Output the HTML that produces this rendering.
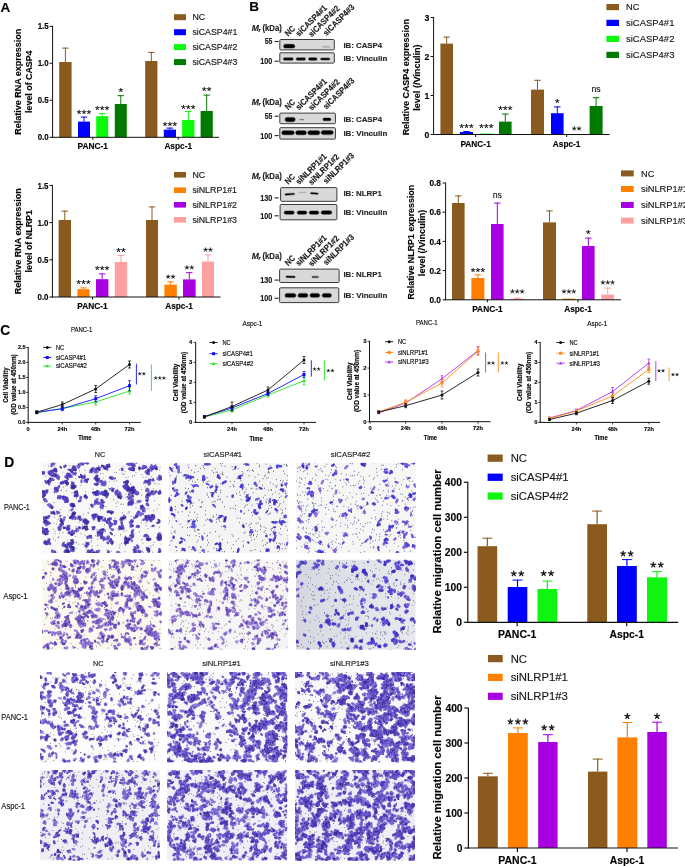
<!DOCTYPE html>
<html><head><meta charset="utf-8"><style>
html,body{margin:0;padding:0;background:#fff;width:685px;height:866px;overflow:hidden}
#w{width:685px;height:866px;will-change:transform;filter:none}
svg{display:block}
text{font-family:"Liberation Sans",sans-serif;stroke:#1a1a1a;stroke-width:.16px}
</style></head><body><div id="w">
<svg width="685" height="866" viewBox="0 0 685 866">
<defs>
<radialGradient id="bg1"><stop offset="0" stop-color="#000" stop-opacity="1"/><stop offset="0.7" stop-color="#000" stop-opacity="0.97"/><stop offset="1" stop-color="#000" stop-opacity="0"/></radialGradient>
<clipPath id="cp11"><rect x="42" y="462.7" width="119.6" height="90.3"/></clipPath><clipPath id="cp12"><rect x="168.6" y="462.7" width="119.8" height="90.3"/></clipPath><clipPath id="cp13"><rect x="295.8" y="462.7" width="120" height="90.3"/></clipPath><clipPath id="cp14"><rect x="42" y="559.6" width="119.6" height="90.1"/></clipPath><clipPath id="cp15"><rect x="168.4" y="559.6" width="119.8" height="90.1"/></clipPath><clipPath id="cp16"><rect x="296" y="559.6" width="119.7" height="90.1"/></clipPath><clipPath id="cp17"><rect x="40" y="672" width="119.8" height="90.4"/></clipPath><clipPath id="cp18"><rect x="167" y="672" width="120.2" height="90.4"/></clipPath><clipPath id="cp19"><rect x="295" y="672" width="120" height="90.4"/></clipPath><clipPath id="cp20"><rect x="40" y="770" width="119.8" height="90.5"/></clipPath><clipPath id="cp21"><rect x="167" y="770" width="120.2" height="90.5"/></clipPath><clipPath id="cp22"><rect x="295" y="770" width="120" height="90.5"/></clipPath><linearGradient id="g6" x1="0" y1="0" x2="1" y2="0"><stop offset="0" stop-color="#d6d6e0"/><stop offset="0.5" stop-color="#e2e2ea"/><stop offset="1" stop-color="#e8e8ee"/></linearGradient><filter id="glob" x="0" y="0" width="100%" height="100%"><feGaussianBlur stdDeviation="0"/></filter></defs>
<g><text x="0.5" y="11.8"  font-size="13.5" font-weight="bold" fill="#000">A</text>
<text x="249.2" y="10.5"  font-size="13.5" font-weight="bold" fill="#000">B</text>
<text x="0.3" y="334.6"  font-size="13.8" font-weight="bold" fill="#000">C</text>
<text x="4.2" y="467.1"  font-size="13.8" font-weight="bold" fill="#000">D</text>
<rect x="59.2" y="62" width="12.4" height="75.3" fill="#8b5a1e"/>
<path d="M65.4 47.6L65.4 62" stroke="#8b5a1e" stroke-width="1"/>
<path d="M62.15 48.1L68.65 48.1" stroke="#8b5a1e" stroke-width="1"/>
<rect x="78" y="121.6" width="12" height="15.7" fill="#0000ff"/>
<path d="M84 116.6L84 121.6" stroke="#0000ff" stroke-width="1"/>
<path d="M80.75 117.1L87.25 117.1" stroke="#0000ff" stroke-width="1"/>
<path d="M79.15 112.18l0 -1.85M79.15 112.18l1.76 -0.57M79.15 112.18l1.09 1.5M79.15 112.18l-1.09 1.5M79.15 112.18l-1.76 -0.57M84 112.18l0 -1.85M84 112.18l1.76 -0.57M84 112.18l1.09 1.5M84 112.18l-1.09 1.5M84 112.18l-1.76 -0.57M88.85 112.18l0 -1.85M88.85 112.18l1.76 -0.57M88.85 112.18l1.09 1.5M88.85 112.18l-1.09 1.5M88.85 112.18l-1.76 -0.57" stroke="#1a1a1a" stroke-width="0.96" stroke-linecap="round" fill="none"/>
<rect x="96.2" y="116.2" width="12" height="21.1" fill="#0cfa0c"/>
<path d="M102.2 113L102.2 116.2" stroke="#0cfa0c" stroke-width="1"/>
<path d="M98.95 113.5L105.45 113.5" stroke="#0cfa0c" stroke-width="1"/>
<path d="M97.35 108.18l0 -1.85M97.35 108.18l1.76 -0.57M97.35 108.18l1.09 1.5M97.35 108.18l-1.09 1.5M97.35 108.18l-1.76 -0.57M102.2 108.18l0 -1.85M102.2 108.18l1.76 -0.57M102.2 108.18l1.09 1.5M102.2 108.18l-1.09 1.5M102.2 108.18l-1.76 -0.57M107.05 108.18l0 -1.85M107.05 108.18l1.76 -0.57M107.05 108.18l1.09 1.5M107.05 108.18l-1.09 1.5M107.05 108.18l-1.76 -0.57" stroke="#1a1a1a" stroke-width="0.96" stroke-linecap="round" fill="none"/>
<rect x="114.8" y="104" width="12" height="33.3" fill="#007a00"/>
<path d="M120.8 95.2L120.8 104" stroke="#007a00" stroke-width="1"/>
<path d="M117.55 95.7L124.05 95.7" stroke="#007a00" stroke-width="1"/>
<path d="M120.8 90.18l0 -1.85M120.8 90.18l1.76 -0.57M120.8 90.18l1.09 1.5M120.8 90.18l-1.09 1.5M120.8 90.18l-1.76 -0.57" stroke="#1a1a1a" stroke-width="0.96" stroke-linecap="round" fill="none"/>
<rect x="145.2" y="61" width="12.2" height="76.3" fill="#8b5a1e"/>
<path d="M151.3 51.9L151.3 61" stroke="#8b5a1e" stroke-width="1"/>
<path d="M148.05 52.4L154.55 52.4" stroke="#8b5a1e" stroke-width="1"/>
<rect x="163.8" y="129.6" width="12.2" height="7.7" fill="#0000ff"/>
<path d="M169.9 127.6L169.9 129.6" stroke="#0000ff" stroke-width="1"/>
<path d="M166.65 128.1L173.15 128.1" stroke="#0000ff" stroke-width="1"/>
<path d="M165.05 124.18l0 -1.85M165.05 124.18l1.76 -0.57M165.05 124.18l1.09 1.5M165.05 124.18l-1.09 1.5M165.05 124.18l-1.76 -0.57M169.9 124.18l0 -1.85M169.9 124.18l1.76 -0.57M169.9 124.18l1.09 1.5M169.9 124.18l-1.09 1.5M169.9 124.18l-1.76 -0.57M174.75 124.18l0 -1.85M174.75 124.18l1.76 -0.57M174.75 124.18l1.09 1.5M174.75 124.18l-1.09 1.5M174.75 124.18l-1.76 -0.57" stroke="#1a1a1a" stroke-width="0.96" stroke-linecap="round" fill="none"/>
<rect x="182.2" y="120" width="12.2" height="17.3" fill="#0cfa0c"/>
<path d="M188.3 111L188.3 120" stroke="#0cfa0c" stroke-width="1"/>
<path d="M185.05 111.5L191.55 111.5" stroke="#0cfa0c" stroke-width="1"/>
<path d="M183.45 107.18l0 -1.85M183.45 107.18l1.76 -0.57M183.45 107.18l1.09 1.5M183.45 107.18l-1.09 1.5M183.45 107.18l-1.76 -0.57M188.3 107.18l0 -1.85M188.3 107.18l1.76 -0.57M188.3 107.18l1.09 1.5M188.3 107.18l-1.09 1.5M188.3 107.18l-1.76 -0.57M193.15 107.18l0 -1.85M193.15 107.18l1.76 -0.57M193.15 107.18l1.09 1.5M193.15 107.18l-1.09 1.5M193.15 107.18l-1.76 -0.57" stroke="#1a1a1a" stroke-width="0.96" stroke-linecap="round" fill="none"/>
<rect x="200.6" y="111" width="12.2" height="26.3" fill="#007a00"/>
<path d="M206.7 94.6L206.7 111" stroke="#007a00" stroke-width="1"/>
<path d="M203.45 95.1L209.95 95.1" stroke="#007a00" stroke-width="1"/>
<path d="M204.27 89.18l0 -1.85M204.27 89.18l1.76 -0.57M204.27 89.18l1.09 1.5M204.27 89.18l-1.09 1.5M204.27 89.18l-1.76 -0.57M209.12 89.18l0 -1.85M209.12 89.18l1.76 -0.57M209.12 89.18l1.09 1.5M209.12 89.18l-1.09 1.5M209.12 89.18l-1.76 -0.57" stroke="#1a1a1a" stroke-width="0.96" stroke-linecap="round" fill="none"/>
<path d="M52.6 25.8L52.6 137.8" stroke="#111" stroke-width="1"/>
<path d="M52.1 137.3L219 137.3" stroke="#111" stroke-width="1"/>
<path d="M49.6 137.3L52.6 137.3" stroke="#111" stroke-width="1"/>
<text x="48.7" y="140.43"  font-size="8.7" font-weight="bold" text-anchor="end" textLength="11" lengthAdjust="spacingAndGlyphs">0.0</text>
<path d="M49.6 100.3L52.6 100.3" stroke="#111" stroke-width="1"/>
<text x="48.7" y="103.43"  font-size="8.7" font-weight="bold" text-anchor="end" textLength="11" lengthAdjust="spacingAndGlyphs">0.5</text>
<path d="M49.6 63.3L52.6 63.3" stroke="#111" stroke-width="1"/>
<text x="48.7" y="66.43"  font-size="8.7" font-weight="bold" text-anchor="end" textLength="11" lengthAdjust="spacingAndGlyphs">1.0</text>
<path d="M49.6 26.3L52.6 26.3" stroke="#111" stroke-width="1"/>
<text x="48.7" y="29.43"  font-size="8.7" font-weight="bold" text-anchor="end" textLength="11" lengthAdjust="spacingAndGlyphs">1.5</text>
<path d="M92.8 137.3L92.8 139.8" stroke="#111" stroke-width="1"/>
<text x="92.8" y="148.8"  font-size="8.3" font-weight="bold" text-anchor="middle" textLength="30.4" lengthAdjust="spacingAndGlyphs">PANC-1</text>
<path d="M178.2 137.3L178.2 139.8" stroke="#111" stroke-width="1"/>
<text x="178.2" y="148.8"  font-size="8.3" font-weight="bold" text-anchor="middle" textLength="27.6" lengthAdjust="spacingAndGlyphs">Aspc-1</text>
<text x="0" y="0" transform="translate(21 81.8) rotate(-90)" font-size="8.9" font-weight="bold" text-anchor="middle" textLength="105.9" lengthAdjust="spacingAndGlyphs">Relative RNA expression</text>
<text x="0" y="0" transform="translate(32 81.7) rotate(-90)" font-size="8.9" font-weight="bold" text-anchor="middle" textLength="62.4" lengthAdjust="spacingAndGlyphs">level of CASP4</text>
<rect x="174" y="14.2" width="12" height="6" fill="#8b5a1e"/>
<text x="192.4" y="20.37"  font-size="8.8" fill="#1a1a1a" stroke="#1a1a1a" stroke-width="0.18">NC</text>
<rect x="174" y="29.2" width="12" height="6" fill="#0000ff"/>
<text x="192.4" y="35.37"  font-size="8.8" textLength="45" lengthAdjust="spacingAndGlyphs" fill="#1a1a1a" stroke="#1a1a1a" stroke-width="0.18">siCASP4#1</text>
<rect x="174" y="44.1" width="12" height="6" fill="#0cfa0c"/>
<text x="192.4" y="50.27"  font-size="8.8" textLength="45" lengthAdjust="spacingAndGlyphs" fill="#1a1a1a" stroke="#1a1a1a" stroke-width="0.18">siCASP4#2</text>
<rect x="174" y="59.1" width="12" height="6" fill="#007a00"/>
<text x="192.4" y="65.27"  font-size="8.8" textLength="45" lengthAdjust="spacingAndGlyphs" fill="#1a1a1a" stroke="#1a1a1a" stroke-width="0.18">siCASP4#3</text>
<rect x="58.6" y="220" width="12.4" height="77" fill="#8b5a1e"/>
<path d="M64.8 210.6L64.8 220" stroke="#8b5a1e" stroke-width="1"/>
<path d="M61.55 211.1L68.05 211.1" stroke="#8b5a1e" stroke-width="1"/>
<rect x="77.4" y="289.2" width="12.2" height="7.8" fill="#ff7f00"/>
<path d="M83.5 287.4L83.5 289.2" stroke="#ff7f00" stroke-width="1"/>
<path d="M80.25 287.9L86.75 287.9" stroke="#ff7f00" stroke-width="1"/>
<path d="M78.65 282.18l0 -1.85M78.65 282.18l1.76 -0.57M78.65 282.18l1.09 1.5M78.65 282.18l-1.09 1.5M78.65 282.18l-1.76 -0.57M83.5 282.18l0 -1.85M83.5 282.18l1.76 -0.57M83.5 282.18l1.09 1.5M83.5 282.18l-1.09 1.5M83.5 282.18l-1.76 -0.57M88.35 282.18l0 -1.85M88.35 282.18l1.76 -0.57M88.35 282.18l1.09 1.5M88.35 282.18l-1.09 1.5M88.35 282.18l-1.76 -0.57" stroke="#1a1a1a" stroke-width="0.96" stroke-linecap="round" fill="none"/>
<rect x="96" y="279.2" width="12.4" height="17.8" fill="#a800e0"/>
<path d="M102.2 273.4L102.2 279.2" stroke="#a800e0" stroke-width="1"/>
<path d="M98.95 273.9L105.45 273.9" stroke="#a800e0" stroke-width="1"/>
<path d="M97.35 268.18l0 -1.85M97.35 268.18l1.76 -0.57M97.35 268.18l1.09 1.5M97.35 268.18l-1.09 1.5M97.35 268.18l-1.76 -0.57M102.2 268.18l0 -1.85M102.2 268.18l1.76 -0.57M102.2 268.18l1.09 1.5M102.2 268.18l-1.09 1.5M102.2 268.18l-1.76 -0.57M107.05 268.18l0 -1.85M107.05 268.18l1.76 -0.57M107.05 268.18l1.09 1.5M107.05 268.18l-1.09 1.5M107.05 268.18l-1.76 -0.57" stroke="#1a1a1a" stroke-width="0.96" stroke-linecap="round" fill="none"/>
<rect x="114.8" y="262" width="12.4" height="35" fill="#ffa0a0"/>
<path d="M121 255L121 262" stroke="#ffa0a0" stroke-width="1"/>
<path d="M117.75 255.5L124.25 255.5" stroke="#ffa0a0" stroke-width="1"/>
<path d="M118.58 250.18l0 -1.85M118.58 250.18l1.76 -0.57M118.58 250.18l1.09 1.5M118.58 250.18l-1.09 1.5M118.58 250.18l-1.76 -0.57M123.42 250.18l0 -1.85M123.42 250.18l1.76 -0.57M123.42 250.18l1.09 1.5M123.42 250.18l-1.09 1.5M123.42 250.18l-1.76 -0.57" stroke="#1a1a1a" stroke-width="0.96" stroke-linecap="round" fill="none"/>
<rect x="146" y="220" width="12" height="77" fill="#8b5a1e"/>
<path d="M152 206.4L152 220" stroke="#8b5a1e" stroke-width="1"/>
<path d="M148.75 206.9L155.25 206.9" stroke="#8b5a1e" stroke-width="1"/>
<rect x="164.4" y="284.6" width="12.4" height="12.4" fill="#ff7f00"/>
<path d="M170.6 281.4L170.6 284.6" stroke="#ff7f00" stroke-width="1"/>
<path d="M167.35 281.9L173.85 281.9" stroke="#ff7f00" stroke-width="1"/>
<path d="M168.17 276.78l0 -1.85M168.17 276.78l1.76 -0.57M168.17 276.78l1.09 1.5M168.17 276.78l-1.09 1.5M168.17 276.78l-1.76 -0.57M173.03 276.78l0 -1.85M173.03 276.78l1.76 -0.57M173.03 276.78l1.09 1.5M173.03 276.78l-1.09 1.5M173.03 276.78l-1.76 -0.57" stroke="#1a1a1a" stroke-width="0.96" stroke-linecap="round" fill="none"/>
<rect x="183" y="279.4" width="12.6" height="17.6" fill="#a800e0"/>
<path d="M189.3 272.2L189.3 279.4" stroke="#a800e0" stroke-width="1"/>
<path d="M186.05 272.7L192.55 272.7" stroke="#a800e0" stroke-width="1"/>
<path d="M186.88 267.58l0 -1.85M186.88 267.58l1.76 -0.57M186.88 267.58l1.09 1.5M186.88 267.58l-1.09 1.5M186.88 267.58l-1.76 -0.57M191.73 267.58l0 -1.85M191.73 267.58l1.76 -0.57M191.73 267.58l1.09 1.5M191.73 267.58l-1.09 1.5M191.73 267.58l-1.76 -0.57" stroke="#1a1a1a" stroke-width="0.96" stroke-linecap="round" fill="none"/>
<rect x="202" y="261.6" width="12" height="35.4" fill="#ffa0a0"/>
<path d="M208 254.4L208 261.6" stroke="#ffa0a0" stroke-width="1"/>
<path d="M204.75 254.9L211.25 254.9" stroke="#ffa0a0" stroke-width="1"/>
<path d="M205.57 249.78l0 -1.85M205.57 249.78l1.76 -0.57M205.57 249.78l1.09 1.5M205.57 249.78l-1.09 1.5M205.57 249.78l-1.76 -0.57M210.43 249.78l0 -1.85M210.43 249.78l1.76 -0.57M210.43 249.78l1.09 1.5M210.43 249.78l-1.09 1.5M210.43 249.78l-1.76 -0.57" stroke="#1a1a1a" stroke-width="0.96" stroke-linecap="round" fill="none"/>
<path d="M52.4 184.9L52.4 297.5" stroke="#111" stroke-width="1"/>
<path d="M51.9 297L220.6 297" stroke="#111" stroke-width="1"/>
<path d="M49.4 297L52.4 297" stroke="#111" stroke-width="1"/>
<text x="48.5" y="300.13"  font-size="8.7" font-weight="bold" text-anchor="end" textLength="11" lengthAdjust="spacingAndGlyphs">0.0</text>
<path d="M49.4 259.8L52.4 259.8" stroke="#111" stroke-width="1"/>
<text x="48.5" y="262.93"  font-size="8.7" font-weight="bold" text-anchor="end" textLength="11" lengthAdjust="spacingAndGlyphs">0.5</text>
<path d="M49.4 222.6L52.4 222.6" stroke="#111" stroke-width="1"/>
<text x="48.5" y="225.73"  font-size="8.7" font-weight="bold" text-anchor="end" textLength="11" lengthAdjust="spacingAndGlyphs">1.0</text>
<path d="M49.4 185.4L52.4 185.4" stroke="#111" stroke-width="1"/>
<text x="48.5" y="188.53"  font-size="8.7" font-weight="bold" text-anchor="end" textLength="11" lengthAdjust="spacingAndGlyphs">1.5</text>
<path d="M92.5 297L92.5 299.5" stroke="#111" stroke-width="1"/>
<text x="92.5" y="309.2"  font-size="8.3" font-weight="bold" text-anchor="middle" textLength="30.4" lengthAdjust="spacingAndGlyphs">PANC-1</text>
<path d="M179 297L179 299.5" stroke="#111" stroke-width="1"/>
<text x="179" y="309.2"  font-size="8.3" font-weight="bold" text-anchor="middle" textLength="27.6" lengthAdjust="spacingAndGlyphs">Aspc-1</text>
<text x="0" y="0" transform="translate(21 241.2) rotate(-90)" font-size="8.9" font-weight="bold" text-anchor="middle" textLength="105.9" lengthAdjust="spacingAndGlyphs">Relative RNA expression</text>
<text x="0" y="0" transform="translate(32 241.2) rotate(-90)" font-size="8.9" font-weight="bold" text-anchor="middle" textLength="62.4" lengthAdjust="spacingAndGlyphs">level of NLRP1</text>
<rect x="174" y="172" width="12" height="5.6" fill="#8b5a1e"/>
<text x="192.4" y="177.97"  font-size="8.8" fill="#1a1a1a" stroke="#1a1a1a" stroke-width="0.18">NC</text>
<rect x="174" y="187.4" width="12" height="5.6" fill="#ff7f00"/>
<text x="192.4" y="193.37"  font-size="8.8" textLength="44.6" lengthAdjust="spacingAndGlyphs" fill="#1a1a1a" stroke="#1a1a1a" stroke-width="0.18">siNLRP1#1</text>
<rect x="174" y="202" width="12" height="5.6" fill="#a800e0"/>
<text x="192.4" y="207.97"  font-size="8.8" textLength="44.6" lengthAdjust="spacingAndGlyphs" fill="#1a1a1a" stroke="#1a1a1a" stroke-width="0.18">siNLRP1#2</text>
<rect x="174" y="217" width="12" height="5.6" fill="#ffa0a0"/>
<text x="192.4" y="222.97"  font-size="8.8" textLength="44.6" lengthAdjust="spacingAndGlyphs" fill="#1a1a1a" stroke="#1a1a1a" stroke-width="0.18">siNLRP1#3</text>
<rect x="440.4" y="43.6" width="12.6" height="90.9" fill="#8b5a1e"/>
<path d="M446.7 36.6L446.7 43.6" stroke="#8b5a1e" stroke-width="1"/>
<path d="M443.45 37.1L449.95 37.1" stroke="#8b5a1e" stroke-width="1"/>
<rect x="460" y="132" width="13" height="2.5" fill="#0000ff"/>
<path d="M466.5 131L466.5 132" stroke="#0000ff" stroke-width="1"/>
<path d="M463.25 131.5L469.75 131.5" stroke="#0000ff" stroke-width="1"/>
<path d="M461.65 126.18l0 -1.85M461.65 126.18l1.76 -0.57M461.65 126.18l1.09 1.5M461.65 126.18l-1.09 1.5M461.65 126.18l-1.76 -0.57M466.5 126.18l0 -1.85M466.5 126.18l1.76 -0.57M466.5 126.18l1.09 1.5M466.5 126.18l-1.09 1.5M466.5 126.18l-1.76 -0.57M471.35 126.18l0 -1.85M471.35 126.18l1.76 -0.57M471.35 126.18l1.09 1.5M471.35 126.18l-1.09 1.5M471.35 126.18l-1.76 -0.57" stroke="#1a1a1a" stroke-width="0.96" stroke-linecap="round" fill="none"/>
<rect x="480" y="133.5" width="12.6" height="1" fill="#0cfa0c"/>
<path d="M481.45 126.18l0 -1.85M481.45 126.18l1.76 -0.57M481.45 126.18l1.09 1.5M481.45 126.18l-1.09 1.5M481.45 126.18l-1.76 -0.57M486.3 126.18l0 -1.85M486.3 126.18l1.76 -0.57M486.3 126.18l1.09 1.5M486.3 126.18l-1.09 1.5M486.3 126.18l-1.76 -0.57M491.15 126.18l0 -1.85M491.15 126.18l1.76 -0.57M491.15 126.18l1.09 1.5M491.15 126.18l-1.09 1.5M491.15 126.18l-1.76 -0.57" stroke="#1a1a1a" stroke-width="0.96" stroke-linecap="round" fill="none"/>
<rect x="499" y="121.6" width="12.6" height="12.9" fill="#007a00"/>
<path d="M505.3 113.6L505.3 121.6" stroke="#007a00" stroke-width="1"/>
<path d="M502.05 114.1L508.55 114.1" stroke="#007a00" stroke-width="1"/>
<path d="M500.45 108.18l0 -1.85M500.45 108.18l1.76 -0.57M500.45 108.18l1.09 1.5M500.45 108.18l-1.09 1.5M500.45 108.18l-1.76 -0.57M505.3 108.18l0 -1.85M505.3 108.18l1.76 -0.57M505.3 108.18l1.09 1.5M505.3 108.18l-1.09 1.5M505.3 108.18l-1.76 -0.57M510.15 108.18l0 -1.85M510.15 108.18l1.76 -0.57M510.15 108.18l1.09 1.5M510.15 108.18l-1.09 1.5M510.15 108.18l-1.76 -0.57" stroke="#1a1a1a" stroke-width="0.96" stroke-linecap="round" fill="none"/>
<rect x="531" y="89.6" width="13" height="44.9" fill="#8b5a1e"/>
<path d="M537.5 79.8L537.5 89.6" stroke="#8b5a1e" stroke-width="1"/>
<path d="M534.25 80.3L540.75 80.3" stroke="#8b5a1e" stroke-width="1"/>
<rect x="551" y="113.2" width="12.6" height="21.3" fill="#0000ff"/>
<path d="M557.3 106.4L557.3 113.2" stroke="#0000ff" stroke-width="1"/>
<path d="M554.05 106.9L560.55 106.9" stroke="#0000ff" stroke-width="1"/>
<path d="M557.3 101.18l0 -1.85M557.3 101.18l1.76 -0.57M557.3 101.18l1.09 1.5M557.3 101.18l-1.09 1.5M557.3 101.18l-1.76 -0.57" stroke="#1a1a1a" stroke-width="0.96" stroke-linecap="round" fill="none"/>
<rect x="570.4" y="134" width="12.6" height="0.5" fill="#0cfa0c"/>
<path d="M574.27 128.58l0 -1.85M574.27 128.58l1.76 -0.57M574.27 128.58l1.09 1.5M574.27 128.58l-1.09 1.5M574.27 128.58l-1.76 -0.57M579.12 128.58l0 -1.85M579.12 128.58l1.76 -0.57M579.12 128.58l1.09 1.5M579.12 128.58l-1.09 1.5M579.12 128.58l-1.76 -0.57" stroke="#1a1a1a" stroke-width="0.96" stroke-linecap="round" fill="none"/>
<rect x="589.6" y="106" width="13" height="28.5" fill="#007a00"/>
<path d="M596.1 97.2L596.1 106" stroke="#007a00" stroke-width="1"/>
<path d="M592.85 97.7L599.35 97.7" stroke="#007a00" stroke-width="1"/>
<text x="596.1" y="92.03"  font-size="9" text-anchor="middle" textLength="9.2" lengthAdjust="spacingAndGlyphs" fill="#222">ns</text>
<path d="M433.6 16.9L433.6 135" stroke="#111" stroke-width="1"/>
<path d="M433.1 134.5L609.6 134.5" stroke="#111" stroke-width="1"/>
<path d="M430.6 134.5L433.6 134.5" stroke="#111" stroke-width="1"/>
<text x="429.3" y="137.63"  font-size="8.7" font-weight="bold" text-anchor="end">0</text>
<path d="M430.6 95.5L433.6 95.5" stroke="#111" stroke-width="1"/>
<text x="429.3" y="98.63"  font-size="8.7" font-weight="bold" text-anchor="end">1</text>
<path d="M430.6 56.5L433.6 56.5" stroke="#111" stroke-width="1"/>
<text x="429.3" y="59.63"  font-size="8.7" font-weight="bold" text-anchor="end">2</text>
<path d="M430.6 17.5L433.6 17.5" stroke="#111" stroke-width="1"/>
<text x="429.3" y="20.63"  font-size="8.7" font-weight="bold" text-anchor="end">3</text>
<path d="M475.6 134.5L475.6 137" stroke="#111" stroke-width="1"/>
<text x="475.6" y="147"  font-size="8.3" font-weight="bold" text-anchor="middle" textLength="30.4" lengthAdjust="spacingAndGlyphs">PANC-1</text>
<path d="M566.6 134.5L566.6 137" stroke="#111" stroke-width="1"/>
<text x="566.6" y="147"  font-size="8.3" font-weight="bold" text-anchor="middle" textLength="27.6" lengthAdjust="spacingAndGlyphs">Aspc-1</text>
<text x="0" y="0" transform="translate(409.2 77.2) rotate(-90)" font-size="8.9" font-weight="bold" text-anchor="middle" textLength="116.3" lengthAdjust="spacingAndGlyphs">Relative CASP4 expression</text>
<text x="0" y="0" transform="translate(419.6 77.6) rotate(-90)" font-size="8.9" font-weight="bold" text-anchor="middle" textLength="66.5" lengthAdjust="spacingAndGlyphs">level (/Vinculin)</text>
<rect x="606.4" y="4" width="12.6" height="6.2" fill="#8b5a1e"/>
<text x="626" y="10.45"  font-size="9.3" fill="#1a1a1a" stroke="#1a1a1a" stroke-width="0.18">NC</text>
<rect x="606.4" y="19.8" width="12.6" height="6.2" fill="#0000ff"/>
<text x="626" y="26.25"  font-size="9.3" textLength="48.4" lengthAdjust="spacingAndGlyphs" fill="#1a1a1a" stroke="#1a1a1a" stroke-width="0.18">siCASP4#1</text>
<rect x="606.4" y="35.8" width="12.6" height="6.2" fill="#0cfa0c"/>
<text x="626" y="42.25"  font-size="9.3" textLength="48.4" lengthAdjust="spacingAndGlyphs" fill="#1a1a1a" stroke="#1a1a1a" stroke-width="0.18">siCASP4#2</text>
<rect x="606.4" y="51.8" width="12.6" height="6.2" fill="#007a00"/>
<text x="626" y="58.25"  font-size="9.3" textLength="48.4" lengthAdjust="spacingAndGlyphs" fill="#1a1a1a" stroke="#1a1a1a" stroke-width="0.18">siCASP4#3</text>
<rect x="452" y="203" width="12.6" height="96.8" fill="#8b5a1e"/>
<path d="M458.3 195.4L458.3 203" stroke="#8b5a1e" stroke-width="1"/>
<path d="M455.05 195.9L461.55 195.9" stroke="#8b5a1e" stroke-width="1"/>
<rect x="471.4" y="278" width="13" height="21.8" fill="#ff7f00"/>
<path d="M477.9 274.4L477.9 278" stroke="#ff7f00" stroke-width="1"/>
<path d="M474.65 274.9L481.15 274.9" stroke="#ff7f00" stroke-width="1"/>
<path d="M473.05 270.18l0 -1.85M473.05 270.18l1.76 -0.57M473.05 270.18l1.09 1.5M473.05 270.18l-1.09 1.5M473.05 270.18l-1.76 -0.57M477.9 270.18l0 -1.85M477.9 270.18l1.76 -0.57M477.9 270.18l1.09 1.5M477.9 270.18l-1.09 1.5M477.9 270.18l-1.76 -0.57M482.75 270.18l0 -1.85M482.75 270.18l1.76 -0.57M482.75 270.18l1.09 1.5M482.75 270.18l-1.09 1.5M482.75 270.18l-1.76 -0.57" stroke="#1a1a1a" stroke-width="0.96" stroke-linecap="round" fill="none"/>
<rect x="491" y="224" width="12.6" height="75.8" fill="#a800e0"/>
<path d="M497.3 202.6L497.3 224" stroke="#a800e0" stroke-width="1"/>
<path d="M494.05 203.1L500.55 203.1" stroke="#a800e0" stroke-width="1"/>
<text x="497.3" y="198.43"  font-size="9" text-anchor="middle" textLength="9.2" lengthAdjust="spacingAndGlyphs" fill="#222">ns</text>
<rect x="511" y="298.6" width="12.6" height="1.2" fill="#ffa0a0"/>
<path d="M517.3 297.6L517.3 298.6" stroke="#ffa0a0" stroke-width="1"/>
<path d="M514.05 298.1L520.55 298.1" stroke="#ffa0a0" stroke-width="1"/>
<path d="M512.45 291.58l0 -1.85M512.45 291.58l1.76 -0.57M512.45 291.58l1.09 1.5M512.45 291.58l-1.09 1.5M512.45 291.58l-1.76 -0.57M517.3 291.58l0 -1.85M517.3 291.58l1.76 -0.57M517.3 291.58l1.09 1.5M517.3 291.58l-1.09 1.5M517.3 291.58l-1.76 -0.57M522.15 291.58l0 -1.85M522.15 291.58l1.76 -0.57M522.15 291.58l1.09 1.5M522.15 291.58l-1.09 1.5M522.15 291.58l-1.76 -0.57" stroke="#1a1a1a" stroke-width="0.96" stroke-linecap="round" fill="none"/>
<rect x="543" y="222.4" width="13" height="77.4" fill="#8b5a1e"/>
<path d="M549.5 210.4L549.5 222.4" stroke="#8b5a1e" stroke-width="1"/>
<path d="M546.25 210.9L552.75 210.9" stroke="#8b5a1e" stroke-width="1"/>
<rect x="562.6" y="298.6" width="12.6" height="1.2" fill="#ff7f00"/>
<path d="M564.05 291.58l0 -1.85M564.05 291.58l1.76 -0.57M564.05 291.58l1.09 1.5M564.05 291.58l-1.09 1.5M564.05 291.58l-1.76 -0.57M568.9 291.58l0 -1.85M568.9 291.58l1.76 -0.57M568.9 291.58l1.09 1.5M568.9 291.58l-1.09 1.5M568.9 291.58l-1.76 -0.57M573.75 291.58l0 -1.85M573.75 291.58l1.76 -0.57M573.75 291.58l1.09 1.5M573.75 291.58l-1.09 1.5M573.75 291.58l-1.76 -0.57" stroke="#1a1a1a" stroke-width="0.96" stroke-linecap="round" fill="none"/>
<rect x="582" y="246" width="12.6" height="53.8" fill="#a800e0"/>
<path d="M588.3 237.6L588.3 246" stroke="#a800e0" stroke-width="1"/>
<path d="M585.05 238.1L591.55 238.1" stroke="#a800e0" stroke-width="1"/>
<path d="M588.3 232.18l0 -1.85M588.3 232.18l1.76 -0.57M588.3 232.18l1.09 1.5M588.3 232.18l-1.09 1.5M588.3 232.18l-1.76 -0.57" stroke="#1a1a1a" stroke-width="0.96" stroke-linecap="round" fill="none"/>
<rect x="601.4" y="294.6" width="12.6" height="5.2" fill="#ffa0a0"/>
<path d="M607.7 287.6L607.7 294.6" stroke="#ffa0a0" stroke-width="1"/>
<path d="M604.45 288.1L610.95 288.1" stroke="#ffa0a0" stroke-width="1"/>
<path d="M602.85 282.58l0 -1.85M602.85 282.58l1.76 -0.57M602.85 282.58l1.09 1.5M602.85 282.58l-1.09 1.5M602.85 282.58l-1.76 -0.57M607.7 282.58l0 -1.85M607.7 282.58l1.76 -0.57M607.7 282.58l1.09 1.5M607.7 282.58l-1.09 1.5M607.7 282.58l-1.76 -0.57M612.55 282.58l0 -1.85M612.55 282.58l1.76 -0.57M612.55 282.58l1.09 1.5M612.55 282.58l-1.09 1.5M612.55 282.58l-1.76 -0.57" stroke="#1a1a1a" stroke-width="0.96" stroke-linecap="round" fill="none"/>
<path d="M445.6 182.5L445.6 300.3" stroke="#111" stroke-width="1"/>
<path d="M445.1 299.8L621 299.8" stroke="#111" stroke-width="1"/>
<path d="M442.6 299.8L445.6 299.8" stroke="#111" stroke-width="1"/>
<text x="441" y="302.93"  font-size="8.7" font-weight="bold" text-anchor="end" textLength="11.6" lengthAdjust="spacingAndGlyphs">0.0</text>
<path d="M442.6 270.6L445.6 270.6" stroke="#111" stroke-width="1"/>
<text x="441" y="273.73"  font-size="8.7" font-weight="bold" text-anchor="end" textLength="11.6" lengthAdjust="spacingAndGlyphs">0.2</text>
<path d="M442.6 241.4L445.6 241.4" stroke="#111" stroke-width="1"/>
<text x="441" y="244.53"  font-size="8.7" font-weight="bold" text-anchor="end" textLength="11.6" lengthAdjust="spacingAndGlyphs">0.4</text>
<path d="M442.6 212.2L445.6 212.2" stroke="#111" stroke-width="1"/>
<text x="441" y="215.33"  font-size="8.7" font-weight="bold" text-anchor="end" textLength="11.6" lengthAdjust="spacingAndGlyphs">0.6</text>
<path d="M442.6 183L445.6 183" stroke="#111" stroke-width="1"/>
<text x="441" y="186.13"  font-size="8.7" font-weight="bold" text-anchor="end" textLength="11.6" lengthAdjust="spacingAndGlyphs">0.8</text>
<path d="M487.4 299.8L487.4 302.3" stroke="#111" stroke-width="1"/>
<text x="487.4" y="312"  font-size="8.3" font-weight="bold" text-anchor="middle" textLength="30.4" lengthAdjust="spacingAndGlyphs">PANC-1</text>
<path d="M578 299.8L578 302.3" stroke="#111" stroke-width="1"/>
<text x="578" y="312"  font-size="8.3" font-weight="bold" text-anchor="middle" textLength="27.6" lengthAdjust="spacingAndGlyphs">Aspc-1</text>
<text x="0" y="0" transform="translate(414.2 242.2) rotate(-90)" font-size="8.9" font-weight="bold" text-anchor="middle" textLength="114.8" lengthAdjust="spacingAndGlyphs">Relative NLRP1 expression</text>
<text x="0" y="0" transform="translate(424.6 242.9) rotate(-90)" font-size="8.9" font-weight="bold" text-anchor="middle" textLength="66.5" lengthAdjust="spacingAndGlyphs">level (/Vinculin)</text>
<rect x="621" y="170.4" width="12.7" height="6" fill="#8b5a1e"/>
<text x="641" y="176.75"  font-size="9.3" fill="#1a1a1a" stroke="#1a1a1a" stroke-width="0.18">NC</text>
<rect x="621" y="186" width="12.7" height="6" fill="#ff7f00"/>
<text x="641" y="192.35"  font-size="9.3" fill="#1a1a1a" stroke="#1a1a1a" stroke-width="0.18">siNLRP1#1</text>
<rect x="621" y="202" width="12.7" height="6" fill="#a800e0"/>
<text x="641" y="208.35"  font-size="9.3" fill="#1a1a1a" stroke="#1a1a1a" stroke-width="0.18">siNLRP1#2</text>
<rect x="621" y="217.6" width="12.7" height="6" fill="#ffa0a0"/>
<text x="641" y="223.95"  font-size="9.3" fill="#1a1a1a" stroke="#1a1a1a" stroke-width="0.18">siNLRP1#3</text>
<rect x="477.5" y="546.2" width="19.7" height="76.1" fill="#8b5a1e"/>
<path d="M487.35 537.7L487.35 546.2" stroke="#8b5a1e" stroke-width="1.2"/>
<path d="M482.35 538.2L492.35 538.2" stroke="#8b5a1e" stroke-width="1"/>
<rect x="507.7" y="587" width="19.6" height="35.3" fill="#0000ff"/>
<path d="M517.5 579.6L517.5 587" stroke="#0000ff" stroke-width="1.2"/>
<path d="M512.5 580.1L522.5 580.1" stroke="#0000ff" stroke-width="1"/>
<path d="M513.75 573.64l0 -2.5M513.75 573.64l2.38 -0.77M513.75 573.64l1.47 2.02M513.75 573.64l-1.47 2.02M513.75 573.64l-2.38 -0.77M521.25 573.64l0 -2.5M521.25 573.64l2.38 -0.77M521.25 573.64l1.47 2.02M521.25 573.64l-1.47 2.02M521.25 573.64l-2.38 -0.77" stroke="#1a1a1a" stroke-width="1.3" stroke-linecap="round" fill="none"/>
<rect x="537.5" y="589" width="19.7" height="33.3" fill="#10f510"/>
<path d="M547.35 580.6L547.35 589" stroke="#10f510" stroke-width="1.2"/>
<path d="M542.35 581.1L552.35 581.1" stroke="#10f510" stroke-width="1"/>
<path d="M543.6 573.44l0 -2.5M543.6 573.44l2.38 -0.77M543.6 573.44l1.47 2.02M543.6 573.44l-1.47 2.02M543.6 573.44l-2.38 -0.77M551.1 573.44l0 -2.5M551.1 573.44l2.38 -0.77M551.1 573.44l1.47 2.02M551.1 573.44l-1.47 2.02M551.1 573.44l-2.38 -0.77" stroke="#1a1a1a" stroke-width="1.3" stroke-linecap="round" fill="none"/>
<rect x="587.3" y="524.2" width="19.7" height="98.1" fill="#8b5a1e"/>
<path d="M597.15 510.6L597.15 524.2" stroke="#8b5a1e" stroke-width="1.2"/>
<path d="M592.15 511.1L602.15 511.1" stroke="#8b5a1e" stroke-width="1"/>
<rect x="617" y="566" width="19.8" height="56.3" fill="#0000ff"/>
<path d="M626.9 559.1L626.9 566" stroke="#0000ff" stroke-width="1.2"/>
<path d="M621.9 559.6L631.9 559.6" stroke="#0000ff" stroke-width="1"/>
<path d="M623.15 553.74l0 -2.5M623.15 553.74l2.38 -0.77M623.15 553.74l1.47 2.02M623.15 553.74l-1.47 2.02M623.15 553.74l-2.38 -0.77M630.65 553.74l0 -2.5M630.65 553.74l2.38 -0.77M630.65 553.74l1.47 2.02M630.65 553.74l-1.47 2.02M630.65 553.74l-2.38 -0.77" stroke="#1a1a1a" stroke-width="1.3" stroke-linecap="round" fill="none"/>
<rect x="647" y="577.3" width="20" height="45" fill="#10f510"/>
<path d="M657 571.1L657 577.3" stroke="#10f510" stroke-width="1.2"/>
<path d="M652 571.6L662 571.6" stroke="#10f510" stroke-width="1"/>
<path d="M653.25 564.84l0 -2.5M653.25 564.84l2.38 -0.77M653.25 564.84l1.47 2.02M653.25 564.84l-1.47 2.02M653.25 564.84l-2.38 -0.77M660.75 564.84l0 -2.5M660.75 564.84l2.38 -0.77M660.75 564.84l1.47 2.02M660.75 564.84l-1.47 2.02M660.75 564.84l-2.38 -0.77" stroke="#1a1a1a" stroke-width="1.3" stroke-linecap="round" fill="none"/>
<path d="M467.8 481.8L467.8 622.9" stroke="#111" stroke-width="1.2"/>
<path d="M467.2 622.3L678.2 622.3" stroke="#111" stroke-width="1.2"/>
<path d="M463.8 622.3L467.8 622.3" stroke="#111" stroke-width="1.2"/>
<text x="462" y="626.01"  font-size="10.3" font-weight="bold" text-anchor="end">0</text>
<path d="M463.8 587.3L467.8 587.3" stroke="#111" stroke-width="1.2"/>
<text x="462" y="591.01"  font-size="10.3" font-weight="bold" text-anchor="end">100</text>
<path d="M463.8 552.3L467.8 552.3" stroke="#111" stroke-width="1.2"/>
<text x="462" y="556.01"  font-size="10.3" font-weight="bold" text-anchor="end">200</text>
<path d="M463.8 517.3L467.8 517.3" stroke="#111" stroke-width="1.2"/>
<text x="462" y="521.01"  font-size="10.3" font-weight="bold" text-anchor="end">300</text>
<path d="M463.8 482.3L467.8 482.3" stroke="#111" stroke-width="1.2"/>
<text x="462" y="486.01"  font-size="10.3" font-weight="bold" text-anchor="end">400</text>
<path d="M517.2 622.3L517.2 626.3" stroke="#111" stroke-width="1.2"/>
<text x="517.2" y="637.8"  font-size="10.5" font-weight="bold" text-anchor="middle" textLength="38.3" lengthAdjust="spacingAndGlyphs">PANC-1</text>
<path d="M626.7 622.3L626.7 626.3" stroke="#111" stroke-width="1.2"/>
<text x="626.7" y="637.8"  font-size="10.5" font-weight="bold" text-anchor="middle" textLength="34.6" lengthAdjust="spacingAndGlyphs">Aspc-1</text>
<text x="0" y="0" transform="translate(441 551.5) rotate(-90)" font-size="11.3" font-weight="bold" text-anchor="middle" textLength="164.2" lengthAdjust="spacingAndGlyphs">Relative migration cell number</text>
<rect x="487.6" y="454.5" width="15.1" height="7.3" fill="#8b5a1e"/>
<text x="510.7" y="462.22"  font-size="11.3" fill="#1a1a1a" stroke="#1a1a1a" stroke-width="0.18">NC</text>
<rect x="487.6" y="473.6" width="15.1" height="7.3" fill="#0000ff"/>
<text x="510.7" y="481.32"  font-size="11.3" fill="#1a1a1a" stroke="#1a1a1a" stroke-width="0.18">siCASP4#1</text>
<rect x="487.6" y="492.4" width="15.1" height="7.3" fill="#10f510"/>
<text x="510.7" y="500.12"  font-size="11.3" fill="#1a1a1a" stroke="#1a1a1a" stroke-width="0.18">siCASP4#2</text>
<rect x="477.9" y="776.3" width="19.9" height="71.7" fill="#8b5a1e"/>
<path d="M487.85 772.8L487.85 776.3" stroke="#8b5a1e" stroke-width="1.2"/>
<path d="M482.85 773.3L492.85 773.3" stroke="#8b5a1e" stroke-width="1"/>
<rect x="508" y="733" width="19.8" height="115" fill="#ff7f00"/>
<path d="M517.9 727.4L517.9 733" stroke="#ff7f00" stroke-width="1.2"/>
<path d="M512.9 727.9L522.9 727.9" stroke="#ff7f00" stroke-width="1"/>
<path d="M510.4 721.74l0 -2.5M510.4 721.74l2.38 -0.77M510.4 721.74l1.47 2.02M510.4 721.74l-1.47 2.02M510.4 721.74l-2.38 -0.77M517.9 721.74l0 -2.5M517.9 721.74l2.38 -0.77M517.9 721.74l1.47 2.02M517.9 721.74l-1.47 2.02M517.9 721.74l-2.38 -0.77M525.4 721.74l0 -2.5M525.4 721.74l2.38 -0.77M525.4 721.74l1.47 2.02M525.4 721.74l-1.47 2.02M525.4 721.74l-2.38 -0.77" stroke="#1a1a1a" stroke-width="1.3" stroke-linecap="round" fill="none"/>
<rect x="538.2" y="742" width="19.4" height="106" fill="#a800e0"/>
<path d="M547.9 734.2L547.9 742" stroke="#a800e0" stroke-width="1.2"/>
<path d="M542.9 734.7L552.9 734.7" stroke="#a800e0" stroke-width="1"/>
<path d="M544.15 727.74l0 -2.5M544.15 727.74l2.38 -0.77M544.15 727.74l1.47 2.02M544.15 727.74l-1.47 2.02M544.15 727.74l-2.38 -0.77M551.65 727.74l0 -2.5M551.65 727.74l2.38 -0.77M551.65 727.74l1.47 2.02M551.65 727.74l-1.47 2.02M551.65 727.74l-2.38 -0.77" stroke="#1a1a1a" stroke-width="1.3" stroke-linecap="round" fill="none"/>
<rect x="588" y="771.6" width="19.4" height="76.4" fill="#8b5a1e"/>
<path d="M597.7 758.6L597.7 771.6" stroke="#8b5a1e" stroke-width="1.2"/>
<path d="M592.7 759.1L602.7 759.1" stroke="#8b5a1e" stroke-width="1"/>
<rect x="617.4" y="737.4" width="19.9" height="110.6" fill="#ff7f00"/>
<path d="M627.35 722L627.35 737.4" stroke="#ff7f00" stroke-width="1.2"/>
<path d="M622.35 722.5L632.35 722.5" stroke="#ff7f00" stroke-width="1"/>
<path d="M627.35 716.24l0 -2.5M627.35 716.24l2.38 -0.77M627.35 716.24l1.47 2.02M627.35 716.24l-1.47 2.02M627.35 716.24l-2.38 -0.77" stroke="#1a1a1a" stroke-width="1.3" stroke-linecap="round" fill="none"/>
<rect x="647.3" y="732" width="19.5" height="116" fill="#a800e0"/>
<path d="M657.05 721.7L657.05 732" stroke="#a800e0" stroke-width="1.2"/>
<path d="M652.05 722.2L662.05 722.2" stroke="#a800e0" stroke-width="1"/>
<path d="M657.05 716.24l0 -2.5M657.05 716.24l2.38 -0.77M657.05 716.24l1.47 2.02M657.05 716.24l-1.47 2.02M657.05 716.24l-2.38 -0.77" stroke="#1a1a1a" stroke-width="1.3" stroke-linecap="round" fill="none"/>
<path d="M468.4 707.9L468.4 848.6" stroke="#111" stroke-width="1.2"/>
<path d="M467.8 848L678 848" stroke="#111" stroke-width="1.2"/>
<path d="M464.4 848L468.4 848" stroke="#111" stroke-width="1.2"/>
<text x="462.6" y="851.71"  font-size="10.3" font-weight="bold" text-anchor="end">0</text>
<path d="M464.4 813L468.4 813" stroke="#111" stroke-width="1.2"/>
<text x="462.6" y="816.71"  font-size="10.3" font-weight="bold" text-anchor="end">100</text>
<path d="M464.4 778L468.4 778" stroke="#111" stroke-width="1.2"/>
<text x="462.6" y="781.71"  font-size="10.3" font-weight="bold" text-anchor="end">200</text>
<path d="M464.4 743L468.4 743" stroke="#111" stroke-width="1.2"/>
<text x="462.6" y="746.71"  font-size="10.3" font-weight="bold" text-anchor="end">300</text>
<path d="M464.4 708L468.4 708" stroke="#111" stroke-width="1.2"/>
<text x="462.6" y="711.71"  font-size="10.3" font-weight="bold" text-anchor="end">400</text>
<path d="M517.4 848L517.4 852" stroke="#111" stroke-width="1.2"/>
<text x="517.4" y="863.5"  font-size="10.5" font-weight="bold" text-anchor="middle" textLength="38.3" lengthAdjust="spacingAndGlyphs">PANC-1</text>
<path d="M627 848L627 852" stroke="#111" stroke-width="1.2"/>
<text x="627" y="863.5"  font-size="10.5" font-weight="bold" text-anchor="middle" textLength="34.6" lengthAdjust="spacingAndGlyphs">Aspc-1</text>
<text x="0" y="0" transform="translate(441 777.5) rotate(-90)" font-size="11.3" font-weight="bold" text-anchor="middle" textLength="164.2" lengthAdjust="spacingAndGlyphs">Relative migration cell number</text>
<rect x="488" y="655" width="14.7" height="7.2" fill="#8b5a1e"/>
<text x="510.7" y="662.67"  font-size="11.3" fill="#1a1a1a" stroke="#1a1a1a" stroke-width="0.18">NC</text>
<rect x="488" y="673.8" width="14.7" height="7.2" fill="#ff7f00"/>
<text x="510.7" y="681.47"  font-size="11.3" fill="#1a1a1a" stroke="#1a1a1a" stroke-width="0.18">siNLRP1#1</text>
<rect x="488" y="692.7" width="14.7" height="7.2" fill="#a800e0"/>
<text x="510.7" y="700.37"  font-size="11.3" fill="#1a1a1a" stroke="#1a1a1a" stroke-width="0.18">siNLRP1#3</text>
<text x="81.7" y="332.1"  font-size="6.6" text-anchor="middle" textLength="21.4" lengthAdjust="spacingAndGlyphs" fill="#000">PANC-1</text>
<path d="M36.8 412.6 L62.3 408.5 L95.7 402 L129.5 391" stroke="#22e822" stroke-width="0.9" fill="none"/>
<path d="M36.8 411.6L36.8 413.6" stroke="#22e822" stroke-width="0.8"/>
<path d="M35.4 411.6L38.2 411.6" stroke="#22e822" stroke-width="0.8"/>
<path d="M35.4 413.6L38.2 413.6" stroke="#22e822" stroke-width="0.8"/>
<path d="M36.8 410.8L38.6 413.9L35 413.9Z" fill="#22e822"/>
<path d="M62.3 406.5L62.3 410.5" stroke="#22e822" stroke-width="0.8"/>
<path d="M60.9 406.5L63.7 406.5" stroke="#22e822" stroke-width="0.8"/>
<path d="M60.9 410.5L63.7 410.5" stroke="#22e822" stroke-width="0.8"/>
<path d="M62.3 406.7L64.1 409.8L60.5 409.8Z" fill="#22e822"/>
<path d="M95.7 399L95.7 405" stroke="#22e822" stroke-width="0.8"/>
<path d="M94.3 399L97.1 399" stroke="#22e822" stroke-width="0.8"/>
<path d="M94.3 405L97.1 405" stroke="#22e822" stroke-width="0.8"/>
<path d="M95.7 400.2L97.5 403.3L93.9 403.3Z" fill="#22e822"/>
<path d="M129.5 388L129.5 394" stroke="#22e822" stroke-width="0.8"/>
<path d="M128.1 388L130.9 388" stroke="#22e822" stroke-width="0.8"/>
<path d="M128.1 394L130.9 394" stroke="#22e822" stroke-width="0.8"/>
<path d="M129.5 389.2L131.3 392.3L127.7 392.3Z" fill="#22e822"/>
<path d="M36.8 412.4 L62.3 408.7 L95.7 398.7 L129.5 385.7" stroke="#1010ff" stroke-width="0.9" fill="none"/>
<path d="M36.8 411.4L36.8 413.4" stroke="#1010ff" stroke-width="0.8"/>
<path d="M35.4 411.4L38.2 411.4" stroke="#1010ff" stroke-width="0.8"/>
<path d="M35.4 413.4L38.2 413.4" stroke="#1010ff" stroke-width="0.8"/>
<rect x="35.3" y="410.9" width="3" height="3" fill="#1010ff"/>
<path d="M62.3 406.7L62.3 410.7" stroke="#1010ff" stroke-width="0.8"/>
<path d="M60.9 406.7L63.7 406.7" stroke="#1010ff" stroke-width="0.8"/>
<path d="M60.9 410.7L63.7 410.7" stroke="#1010ff" stroke-width="0.8"/>
<rect x="60.8" y="407.2" width="3" height="3" fill="#1010ff"/>
<path d="M95.7 395.7L95.7 401.7" stroke="#1010ff" stroke-width="0.8"/>
<path d="M94.3 395.7L97.1 395.7" stroke="#1010ff" stroke-width="0.8"/>
<path d="M94.3 401.7L97.1 401.7" stroke="#1010ff" stroke-width="0.8"/>
<rect x="94.2" y="397.2" width="3" height="3" fill="#1010ff"/>
<path d="M129.5 380.7L129.5 390.7" stroke="#1010ff" stroke-width="0.8"/>
<path d="M128.1 380.7L130.9 380.7" stroke="#1010ff" stroke-width="0.8"/>
<path d="M128.1 390.7L130.9 390.7" stroke="#1010ff" stroke-width="0.8"/>
<rect x="128" y="384.2" width="3" height="3" fill="#1010ff"/>
<path d="M36.8 412.2 L62.3 404.5 L95.7 389 L129.5 364.5" stroke="#111" stroke-width="0.9" fill="none"/>
<path d="M36.8 410.7L36.8 413.7" stroke="#111" stroke-width="0.8"/>
<path d="M35.4 410.7L38.2 410.7" stroke="#111" stroke-width="0.8"/>
<path d="M35.4 413.7L38.2 413.7" stroke="#111" stroke-width="0.8"/>
<circle cx="36.8" cy="412.2" r="1.5" fill="#111"/>
<path d="M62.3 402L62.3 407" stroke="#111" stroke-width="0.8"/>
<path d="M60.9 402L63.7 402" stroke="#111" stroke-width="0.8"/>
<path d="M60.9 407L63.7 407" stroke="#111" stroke-width="0.8"/>
<circle cx="62.3" cy="404.5" r="1.5" fill="#111"/>
<path d="M95.7 385.5L95.7 392.5" stroke="#111" stroke-width="0.8"/>
<path d="M94.3 385.5L97.1 385.5" stroke="#111" stroke-width="0.8"/>
<path d="M94.3 392.5L97.1 392.5" stroke="#111" stroke-width="0.8"/>
<circle cx="95.7" cy="389" r="1.5" fill="#111"/>
<path d="M129.5 361L129.5 368" stroke="#111" stroke-width="0.8"/>
<path d="M128.1 361L130.9 361" stroke="#111" stroke-width="0.8"/>
<path d="M128.1 368L130.9 368" stroke="#111" stroke-width="0.8"/>
<circle cx="129.5" cy="364.5" r="1.5" fill="#111"/>
<path d="M28.2 347.1L28.2 422.9" stroke="#111" stroke-width="1"/>
<path d="M27.7 422.4L140.8 422.4" stroke="#111" stroke-width="1"/>
<path d="M26.2 422.4L28.2 422.4" stroke="#111" stroke-width="0.8"/>
<text x="25.6" y="424.4"  font-size="5.9" font-weight="bold" text-anchor="end" textLength="7.6" lengthAdjust="spacingAndGlyphs" fill="#000">0.0</text>
<path d="M26.2 407.4L28.2 407.4" stroke="#111" stroke-width="0.8"/>
<text x="25.6" y="409.4"  font-size="5.9" font-weight="bold" text-anchor="end" textLength="7.6" lengthAdjust="spacingAndGlyphs" fill="#000">0.5</text>
<path d="M26.2 392.4L28.2 392.4" stroke="#111" stroke-width="0.8"/>
<text x="25.6" y="394.4"  font-size="5.9" font-weight="bold" text-anchor="end" textLength="7.6" lengthAdjust="spacingAndGlyphs" fill="#000">1.0</text>
<path d="M26.2 377.4L28.2 377.4" stroke="#111" stroke-width="0.8"/>
<text x="25.6" y="379.4"  font-size="5.9" font-weight="bold" text-anchor="end" textLength="7.6" lengthAdjust="spacingAndGlyphs" fill="#000">1.5</text>
<path d="M26.2 362.4L28.2 362.4" stroke="#111" stroke-width="0.8"/>
<text x="25.6" y="364.4"  font-size="5.9" font-weight="bold" text-anchor="end" textLength="7.6" lengthAdjust="spacingAndGlyphs" fill="#000">2.0</text>
<path d="M26.2 347.4L28.2 347.4" stroke="#111" stroke-width="0.8"/>
<text x="25.6" y="349.4"  font-size="5.9" font-weight="bold" text-anchor="end" textLength="7.6" lengthAdjust="spacingAndGlyphs" fill="#000">2.5</text>
<path d="M28.2 422.4L28.2 424.4" stroke="#111" stroke-width="0.8"/>
<text x="28.2" y="430.6"  font-size="5.7" font-weight="bold" text-anchor="middle" fill="#000">0</text>
<path d="M62.3 422.4L62.3 424.4" stroke="#111" stroke-width="0.8"/>
<text x="62.3" y="430.6"  font-size="5.7" font-weight="bold" text-anchor="middle" textLength="9.8" lengthAdjust="spacingAndGlyphs" fill="#000">24h</text>
<path d="M95.7 422.4L95.7 424.4" stroke="#111" stroke-width="0.8"/>
<text x="95.7" y="430.6"  font-size="5.7" font-weight="bold" text-anchor="middle" textLength="9.8" lengthAdjust="spacingAndGlyphs" fill="#000">48h</text>
<path d="M129.5 422.4L129.5 424.4" stroke="#111" stroke-width="0.8"/>
<text x="129.5" y="430.6"  font-size="5.7" font-weight="bold" text-anchor="middle" textLength="9.8" lengthAdjust="spacingAndGlyphs" fill="#000">72h</text>
<text x="84.8" y="439.5"  font-size="6.6" font-weight="bold" text-anchor="middle" textLength="13.2" lengthAdjust="spacingAndGlyphs" fill="#000">Time</text>
<text x="0" y="0" transform="translate(7.9 385.2) rotate(-90)" font-size="6.6" font-weight="bold" text-anchor="middle" textLength="35.3" lengthAdjust="spacingAndGlyphs" fill="#000">Cell Viability</text>
<text x="0" y="0" transform="translate(15.9 384.6) rotate(-90)" font-size="6.6" font-weight="bold" text-anchor="middle" textLength="60.3" lengthAdjust="spacingAndGlyphs" fill="#000">(OD value at 450nm)</text>
<path d="M43.1 347.4L51.3 347.4" stroke="#111" stroke-width="0.9"/>
<circle cx="47.3" cy="347.4" r="1.5" fill="#111"/>
<text x="55.9" y="349.75"  font-size="6.6" textLength="8.2" lengthAdjust="spacingAndGlyphs" fill="#000">NC</text>
<path d="M43.1 357.5L51.3 357.5" stroke="#1010ff" stroke-width="0.9"/>
<rect x="45.8" y="356" width="3" height="3" fill="#1010ff"/>
<text x="55.9" y="359.85"  font-size="6.6" textLength="30.3" lengthAdjust="spacingAndGlyphs" fill="#000">siCASP4#1</text>
<path d="M43.1 366L51.3 366" stroke="#22e822" stroke-width="0.9"/>
<path d="M47.3 364.2L49.1 367.3L45.5 367.3Z" fill="#22e822"/>
<text x="55.9" y="368.35"  font-size="6.6" textLength="31" lengthAdjust="spacingAndGlyphs" fill="#000">siCASP4#2</text>
<path d="M136.4 363.7L136.4 384.5" stroke="#1010ff" stroke-width="0.9"/>
<path d="M139.75 373.83l0 -1.4M139.75 373.83l1.33 -0.43M139.75 373.83l0.82 1.13M139.75 373.83l-0.82 1.13M139.75 373.83l-1.33 -0.43M143.85 373.83l0 -1.4M143.85 373.83l1.33 -0.43M143.85 373.83l0.82 1.13M143.85 373.83l-0.82 1.13M143.85 373.83l-1.33 -0.43" stroke="#111" stroke-width="0.73" stroke-linecap="round" fill="none"/>
<path d="M151.4 364.5L151.4 391" stroke="#22e822" stroke-width="0.9"/>
<path d="M155.7 378.13l0 -1.4M155.7 378.13l1.33 -0.43M155.7 378.13l0.82 1.13M155.7 378.13l-0.82 1.13M155.7 378.13l-1.33 -0.43M159.8 378.13l0 -1.4M159.8 378.13l1.33 -0.43M159.8 378.13l0.82 1.13M159.8 378.13l-0.82 1.13M159.8 378.13l-1.33 -0.43M163.9 378.13l0 -1.4M163.9 378.13l1.33 -0.43M163.9 378.13l0.82 1.13M163.9 378.13l-0.82 1.13M163.9 378.13l-1.33 -0.43" stroke="#111" stroke-width="0.73" stroke-linecap="round" fill="none"/>
<text x="252.4" y="326.3"  font-size="6.6" text-anchor="middle" textLength="20" lengthAdjust="spacingAndGlyphs" fill="#000">Aspc-1</text>
<path d="M204.4 417 L232 410 L268 395 L304 380.7" stroke="#22e822" stroke-width="0.9" fill="none"/>
<path d="M204.4 416L204.4 418" stroke="#22e822" stroke-width="0.8"/>
<path d="M203 416L205.8 416" stroke="#22e822" stroke-width="0.8"/>
<path d="M203 418L205.8 418" stroke="#22e822" stroke-width="0.8"/>
<path d="M204.4 415.2L206.2 418.3L202.6 418.3Z" fill="#22e822"/>
<path d="M232 408L232 412" stroke="#22e822" stroke-width="0.8"/>
<path d="M230.6 408L233.4 408" stroke="#22e822" stroke-width="0.8"/>
<path d="M230.6 412L233.4 412" stroke="#22e822" stroke-width="0.8"/>
<path d="M232 408.2L233.8 411.3L230.2 411.3Z" fill="#22e822"/>
<path d="M268 393L268 397" stroke="#22e822" stroke-width="0.8"/>
<path d="M266.6 393L269.4 393" stroke="#22e822" stroke-width="0.8"/>
<path d="M266.6 397L269.4 397" stroke="#22e822" stroke-width="0.8"/>
<path d="M268 393.2L269.8 396.3L266.2 396.3Z" fill="#22e822"/>
<path d="M304 376.7L304 384.7" stroke="#22e822" stroke-width="0.8"/>
<path d="M302.6 376.7L305.4 376.7" stroke="#22e822" stroke-width="0.8"/>
<path d="M302.6 384.7L305.4 384.7" stroke="#22e822" stroke-width="0.8"/>
<path d="M304 378.9L305.8 382L302.2 382Z" fill="#22e822"/>
<path d="M204.4 416.5 L232 408 L268 393.5 L304 374.5" stroke="#1010ff" stroke-width="0.9" fill="none"/>
<path d="M204.4 415.5L204.4 417.5" stroke="#1010ff" stroke-width="0.8"/>
<path d="M203 415.5L205.8 415.5" stroke="#1010ff" stroke-width="0.8"/>
<path d="M203 417.5L205.8 417.5" stroke="#1010ff" stroke-width="0.8"/>
<rect x="202.9" y="415" width="3" height="3" fill="#1010ff"/>
<path d="M232 406L232 410" stroke="#1010ff" stroke-width="0.8"/>
<path d="M230.6 406L233.4 406" stroke="#1010ff" stroke-width="0.8"/>
<path d="M230.6 410L233.4 410" stroke="#1010ff" stroke-width="0.8"/>
<rect x="230.5" y="406.5" width="3" height="3" fill="#1010ff"/>
<path d="M268 391.5L268 395.5" stroke="#1010ff" stroke-width="0.8"/>
<path d="M266.6 391.5L269.4 391.5" stroke="#1010ff" stroke-width="0.8"/>
<path d="M266.6 395.5L269.4 395.5" stroke="#1010ff" stroke-width="0.8"/>
<rect x="266.5" y="392" width="3" height="3" fill="#1010ff"/>
<path d="M304 371.5L304 377.5" stroke="#1010ff" stroke-width="0.8"/>
<path d="M302.6 371.5L305.4 371.5" stroke="#1010ff" stroke-width="0.8"/>
<path d="M302.6 377.5L305.4 377.5" stroke="#1010ff" stroke-width="0.8"/>
<rect x="302.5" y="373" width="3" height="3" fill="#1010ff"/>
<path d="M204.4 417 L232 406.5 L268 390 L304 360" stroke="#111" stroke-width="0.9" fill="none"/>
<path d="M204.4 416L204.4 418" stroke="#111" stroke-width="0.8"/>
<path d="M203 416L205.8 416" stroke="#111" stroke-width="0.8"/>
<path d="M203 418L205.8 418" stroke="#111" stroke-width="0.8"/>
<circle cx="204.4" cy="417" r="1.5" fill="#111"/>
<path d="M232 402L232 411" stroke="#111" stroke-width="0.8"/>
<path d="M230.6 402L233.4 402" stroke="#111" stroke-width="0.8"/>
<path d="M230.6 411L233.4 411" stroke="#111" stroke-width="0.8"/>
<circle cx="232" cy="406.5" r="1.5" fill="#111"/>
<path d="M268 387L268 393" stroke="#111" stroke-width="0.8"/>
<path d="M266.6 387L269.4 387" stroke="#111" stroke-width="0.8"/>
<path d="M266.6 393L269.4 393" stroke="#111" stroke-width="0.8"/>
<circle cx="268" cy="390" r="1.5" fill="#111"/>
<path d="M304 356.5L304 363.5" stroke="#111" stroke-width="0.8"/>
<path d="M302.6 356.5L305.4 356.5" stroke="#111" stroke-width="0.8"/>
<path d="M302.6 363.5L305.4 363.5" stroke="#111" stroke-width="0.8"/>
<circle cx="304" cy="360" r="1.5" fill="#111"/>
<path d="M195.7 342.1L195.7 422.9" stroke="#111" stroke-width="1"/>
<path d="M195.2 422.4L316 422.4" stroke="#111" stroke-width="1"/>
<path d="M193.7 422.4L195.7 422.4" stroke="#111" stroke-width="0.8"/>
<text x="192.2" y="424.4"  font-size="5.9" font-weight="bold" text-anchor="end" fill="#000">0</text>
<path d="M193.7 402.4L195.7 402.4" stroke="#111" stroke-width="0.8"/>
<text x="192.2" y="404.4"  font-size="5.9" font-weight="bold" text-anchor="end" fill="#000">1</text>
<path d="M193.7 382.4L195.7 382.4" stroke="#111" stroke-width="0.8"/>
<text x="192.2" y="384.4"  font-size="5.9" font-weight="bold" text-anchor="end" fill="#000">2</text>
<path d="M193.7 362.4L195.7 362.4" stroke="#111" stroke-width="0.8"/>
<text x="192.2" y="364.4"  font-size="5.9" font-weight="bold" text-anchor="end" fill="#000">3</text>
<path d="M193.7 342.4L195.7 342.4" stroke="#111" stroke-width="0.8"/>
<text x="192.2" y="344.4"  font-size="5.9" font-weight="bold" text-anchor="end" fill="#000">4</text>
<path d="M232 422.4L232 424.4" stroke="#111" stroke-width="0.8"/>
<text x="232" y="430.6"  font-size="5.7" font-weight="bold" text-anchor="middle" textLength="9.8" lengthAdjust="spacingAndGlyphs" fill="#000">24h</text>
<path d="M268 422.4L268 424.4" stroke="#111" stroke-width="0.8"/>
<text x="268" y="430.6"  font-size="5.7" font-weight="bold" text-anchor="middle" textLength="9.8" lengthAdjust="spacingAndGlyphs" fill="#000">48h</text>
<path d="M304 422.4L304 424.4" stroke="#111" stroke-width="0.8"/>
<text x="304" y="430.6"  font-size="5.7" font-weight="bold" text-anchor="middle" textLength="9.8" lengthAdjust="spacingAndGlyphs" fill="#000">72h</text>
<text x="256" y="440.5"  font-size="6.6" font-weight="bold" text-anchor="middle" textLength="13.2" lengthAdjust="spacingAndGlyphs" fill="#000">Time</text>
<text x="0" y="0" transform="translate(177.6 382.4) rotate(-90)" font-size="6.6" font-weight="bold" text-anchor="middle" textLength="37.6" lengthAdjust="spacingAndGlyphs" fill="#000">Cell Viability</text>
<text x="0" y="0" transform="translate(185.7 382.5) rotate(-90)" font-size="6.6" font-weight="bold" text-anchor="middle" textLength="61.5" lengthAdjust="spacingAndGlyphs" fill="#000">(OD value at 450nm)</text>
<path d="M209.4 342.5L217.6 342.5" stroke="#111" stroke-width="0.9"/>
<circle cx="213.6" cy="342.5" r="1.5" fill="#111"/>
<text x="222.4" y="344.85"  font-size="6.6" textLength="8.2" lengthAdjust="spacingAndGlyphs" fill="#000">NC</text>
<path d="M209.4 353.7L217.6 353.7" stroke="#1010ff" stroke-width="0.9"/>
<rect x="212.1" y="352.2" width="3" height="3" fill="#1010ff"/>
<text x="222.4" y="356.05"  font-size="6.6" textLength="30.3" lengthAdjust="spacingAndGlyphs" fill="#000">siCASP4#1</text>
<path d="M209.4 363.7L217.6 363.7" stroke="#22e822" stroke-width="0.9"/>
<path d="M213.6 361.9L215.4 365L211.8 365Z" fill="#22e822"/>
<text x="222.4" y="366.05"  font-size="6.6" textLength="31" lengthAdjust="spacingAndGlyphs" fill="#000">siCASP4#2</text>
<path d="M311.3 360.2L311.3 376.6" stroke="#1010ff" stroke-width="0.9"/>
<path d="M314.55 369.13l0 -1.4M314.55 369.13l1.33 -0.43M314.55 369.13l0.82 1.13M314.55 369.13l-0.82 1.13M314.55 369.13l-1.33 -0.43M318.65 369.13l0 -1.4M318.65 369.13l1.33 -0.43M318.65 369.13l0.82 1.13M318.65 369.13l-0.82 1.13M318.65 369.13l-1.33 -0.43" stroke="#111" stroke-width="0.73" stroke-linecap="round" fill="none"/>
<path d="M324.4 360.7L324.4 380.7" stroke="#22e822" stroke-width="0.9"/>
<path d="M328.35 370.73l0 -1.4M328.35 370.73l1.33 -0.43M328.35 370.73l0.82 1.13M328.35 370.73l-0.82 1.13M328.35 370.73l-1.33 -0.43M332.45 370.73l0 -1.4M332.45 370.73l1.33 -0.43M332.45 370.73l0.82 1.13M332.45 370.73l-0.82 1.13M332.45 370.73l-1.33 -0.43" stroke="#111" stroke-width="0.73" stroke-linecap="round" fill="none"/>
<text x="426.8" y="324.6"  font-size="6.6" text-anchor="middle" textLength="21.4" lengthAdjust="spacingAndGlyphs" fill="#000">PANC-1</text>
<path d="M378.7 412.8 L405.7 403 L442 378.8 L478 350.6" stroke="#b030f0" stroke-width="0.9" fill="none"/>
<path d="M378.7 411.8L378.7 413.8" stroke="#b030f0" stroke-width="0.8"/>
<path d="M377.3 411.8L380.1 411.8" stroke="#b030f0" stroke-width="0.8"/>
<path d="M377.3 413.8L380.1 413.8" stroke="#b030f0" stroke-width="0.8"/>
<path d="M378.7 411L380.5 414.1L376.9 414.1Z" fill="#b030f0"/>
<path d="M405.7 401L405.7 405" stroke="#b030f0" stroke-width="0.8"/>
<path d="M404.3 401L407.1 401" stroke="#b030f0" stroke-width="0.8"/>
<path d="M404.3 405L407.1 405" stroke="#b030f0" stroke-width="0.8"/>
<path d="M405.7 401.2L407.5 404.3L403.9 404.3Z" fill="#b030f0"/>
<path d="M442 375.8L442 381.8" stroke="#b030f0" stroke-width="0.8"/>
<path d="M440.6 375.8L443.4 375.8" stroke="#b030f0" stroke-width="0.8"/>
<path d="M440.6 381.8L443.4 381.8" stroke="#b030f0" stroke-width="0.8"/>
<path d="M442 377L443.8 380.1L440.2 380.1Z" fill="#b030f0"/>
<path d="M478 346.6L478 354.6" stroke="#b030f0" stroke-width="0.8"/>
<path d="M476.6 346.6L479.4 346.6" stroke="#b030f0" stroke-width="0.8"/>
<path d="M476.6 354.6L479.4 354.6" stroke="#b030f0" stroke-width="0.8"/>
<path d="M478 348.8L479.8 351.9L476.2 351.9Z" fill="#b030f0"/>
<path d="M378.7 412 L405.7 402.3 L442 383 L478 351.2" stroke="#ff8a1a" stroke-width="0.9" fill="none"/>
<path d="M378.7 411L378.7 413" stroke="#ff8a1a" stroke-width="0.8"/>
<path d="M377.3 411L380.1 411" stroke="#ff8a1a" stroke-width="0.8"/>
<path d="M377.3 413L380.1 413" stroke="#ff8a1a" stroke-width="0.8"/>
<rect x="377.2" y="410.5" width="3" height="3" fill="#ff8a1a"/>
<path d="M405.7 399.8L405.7 404.8" stroke="#ff8a1a" stroke-width="0.8"/>
<path d="M404.3 399.8L407.1 399.8" stroke="#ff8a1a" stroke-width="0.8"/>
<path d="M404.3 404.8L407.1 404.8" stroke="#ff8a1a" stroke-width="0.8"/>
<rect x="404.2" y="400.8" width="3" height="3" fill="#ff8a1a"/>
<path d="M442 379L442 387" stroke="#ff8a1a" stroke-width="0.8"/>
<path d="M440.6 379L443.4 379" stroke="#ff8a1a" stroke-width="0.8"/>
<path d="M440.6 387L443.4 387" stroke="#ff8a1a" stroke-width="0.8"/>
<rect x="440.5" y="381.5" width="3" height="3" fill="#ff8a1a"/>
<path d="M478 347.2L478 355.2" stroke="#ff8a1a" stroke-width="0.8"/>
<path d="M476.6 347.2L479.4 347.2" stroke="#ff8a1a" stroke-width="0.8"/>
<path d="M476.6 355.2L479.4 355.2" stroke="#ff8a1a" stroke-width="0.8"/>
<rect x="476.5" y="349.7" width="3" height="3" fill="#ff8a1a"/>
<path d="M378.7 412 L405.7 405.7 L442 395 L478 372.5" stroke="#111" stroke-width="0.9" fill="none"/>
<path d="M378.7 411L378.7 413" stroke="#111" stroke-width="0.8"/>
<path d="M377.3 411L380.1 411" stroke="#111" stroke-width="0.8"/>
<path d="M377.3 413L380.1 413" stroke="#111" stroke-width="0.8"/>
<circle cx="378.7" cy="412" r="1.5" fill="#111"/>
<path d="M405.7 403.7L405.7 407.7" stroke="#111" stroke-width="0.8"/>
<path d="M404.3 403.7L407.1 403.7" stroke="#111" stroke-width="0.8"/>
<path d="M404.3 407.7L407.1 407.7" stroke="#111" stroke-width="0.8"/>
<circle cx="405.7" cy="405.7" r="1.5" fill="#111"/>
<path d="M442 391L442 399" stroke="#111" stroke-width="0.8"/>
<path d="M440.6 391L443.4 391" stroke="#111" stroke-width="0.8"/>
<path d="M440.6 399L443.4 399" stroke="#111" stroke-width="0.8"/>
<circle cx="442" cy="395" r="1.5" fill="#111"/>
<path d="M478 369L478 376" stroke="#111" stroke-width="0.8"/>
<path d="M476.6 369L479.4 369" stroke="#111" stroke-width="0.8"/>
<path d="M476.6 376L479.4 376" stroke="#111" stroke-width="0.8"/>
<circle cx="478" cy="372.5" r="1.5" fill="#111"/>
<path d="M369.5 340.8L369.5 422.2" stroke="#111" stroke-width="1"/>
<path d="M369 421.7L490.5 421.7" stroke="#111" stroke-width="1"/>
<path d="M367.5 421.7L369.5 421.7" stroke="#111" stroke-width="0.8"/>
<text x="366.6" y="423.7"  font-size="5.9" font-weight="bold" text-anchor="end" fill="#000">0</text>
<path d="M367.5 394.9L369.5 394.9" stroke="#111" stroke-width="0.8"/>
<text x="366.6" y="396.9"  font-size="5.9" font-weight="bold" text-anchor="end" fill="#000">1</text>
<path d="M367.5 368.1L369.5 368.1" stroke="#111" stroke-width="0.8"/>
<text x="366.6" y="370.1"  font-size="5.9" font-weight="bold" text-anchor="end" fill="#000">2</text>
<path d="M367.5 341.3L369.5 341.3" stroke="#111" stroke-width="0.8"/>
<text x="366.6" y="343.3"  font-size="5.9" font-weight="bold" text-anchor="end" fill="#000">3</text>
<path d="M370 421.7L370 423.7" stroke="#111" stroke-width="0.8"/>
<text x="370" y="429.8"  font-size="5.7" font-weight="bold" text-anchor="middle" fill="#000">0</text>
<path d="M405.7 421.7L405.7 423.7" stroke="#111" stroke-width="0.8"/>
<text x="405.7" y="429.8"  font-size="5.7" font-weight="bold" text-anchor="middle" textLength="9.8" lengthAdjust="spacingAndGlyphs" fill="#000">24h</text>
<path d="M442 421.7L442 423.7" stroke="#111" stroke-width="0.8"/>
<text x="442" y="429.8"  font-size="5.7" font-weight="bold" text-anchor="middle" textLength="9.8" lengthAdjust="spacingAndGlyphs" fill="#000">48h</text>
<path d="M478 421.7L478 423.7" stroke="#111" stroke-width="0.8"/>
<text x="478" y="429.8"  font-size="5.7" font-weight="bold" text-anchor="middle" textLength="9.8" lengthAdjust="spacingAndGlyphs" fill="#000">72h</text>
<text x="430.4" y="439.5"  font-size="6.6" font-weight="bold" text-anchor="middle" textLength="13.2" lengthAdjust="spacingAndGlyphs" fill="#000">Time</text>
<text x="0" y="0" transform="translate(351.5 381.2) rotate(-90)" font-size="6.6" font-weight="bold" text-anchor="middle" textLength="37.6" lengthAdjust="spacingAndGlyphs" fill="#000">Cell Viability</text>
<text x="0" y="0" transform="translate(359.3 381) rotate(-90)" font-size="6.6" font-weight="bold" text-anchor="middle" textLength="62.1" lengthAdjust="spacingAndGlyphs" fill="#000">(OD value at 450nm)</text>
<path d="M385 341.7L393.2 341.7" stroke="#111" stroke-width="0.9"/>
<circle cx="389.2" cy="341.7" r="1.5" fill="#111"/>
<text x="398" y="344.05"  font-size="6.6" textLength="8.2" lengthAdjust="spacingAndGlyphs" fill="#000">NC</text>
<path d="M385 352.5L393.2 352.5" stroke="#ff8a1a" stroke-width="0.9"/>
<rect x="387.7" y="351" width="3" height="3" fill="#ff8a1a"/>
<text x="398" y="354.85"  font-size="6.6" textLength="30" lengthAdjust="spacingAndGlyphs" fill="#000">siNLRP1#1</text>
<path d="M385 362L393.2 362" stroke="#b030f0" stroke-width="0.9"/>
<path d="M389.2 360.2L391 363.3L387.4 363.3Z" fill="#b030f0"/>
<text x="398" y="364.35"  font-size="6.6" textLength="30.5" lengthAdjust="spacingAndGlyphs" fill="#000">siNLRP1#3</text>
<path d="M485.6 352.5L485.6 372.5" stroke="#b030f0" stroke-width="0.9"/>
<path d="M488.95 363.13l0 -1.4M488.95 363.13l1.33 -0.43M488.95 363.13l0.82 1.13M488.95 363.13l-0.82 1.13M488.95 363.13l-1.33 -0.43M493.05 363.13l0 -1.4M493.05 363.13l1.33 -0.43M493.05 363.13l0.82 1.13M493.05 363.13l-0.82 1.13M493.05 363.13l-1.33 -0.43" stroke="#111" stroke-width="0.73" stroke-linecap="round" fill="none"/>
<path d="M498.3 352.5L498.3 372.5" stroke="#ff8a1a" stroke-width="0.9"/>
<path d="M502.35 363.13l0 -1.4M502.35 363.13l1.33 -0.43M502.35 363.13l0.82 1.13M502.35 363.13l-0.82 1.13M502.35 363.13l-1.33 -0.43M506.45 363.13l0 -1.4M506.45 363.13l1.33 -0.43M506.45 363.13l0.82 1.13M506.45 363.13l-0.82 1.13M506.45 363.13l-1.33 -0.43" stroke="#111" stroke-width="0.73" stroke-linecap="round" fill="none"/>
<text x="597.3" y="326.3"  font-size="6.6" text-anchor="middle" textLength="20" lengthAdjust="spacingAndGlyphs" fill="#000">Aspc-1</text>
<path d="M549.5 418 L576.4 410.5 L612.6 391.5 L648.8 363.2" stroke="#b030f0" stroke-width="0.9" fill="none"/>
<path d="M549.5 417L549.5 419" stroke="#b030f0" stroke-width="0.8"/>
<path d="M548.1 417L550.9 417" stroke="#b030f0" stroke-width="0.8"/>
<path d="M548.1 419L550.9 419" stroke="#b030f0" stroke-width="0.8"/>
<path d="M549.5 416.2L551.3 419.3L547.7 419.3Z" fill="#b030f0"/>
<path d="M576.4 409L576.4 412" stroke="#b030f0" stroke-width="0.8"/>
<path d="M575 409L577.8 409" stroke="#b030f0" stroke-width="0.8"/>
<path d="M575 412L577.8 412" stroke="#b030f0" stroke-width="0.8"/>
<path d="M576.4 408.7L578.2 411.8L574.6 411.8Z" fill="#b030f0"/>
<path d="M612.6 387.5L612.6 395.5" stroke="#b030f0" stroke-width="0.8"/>
<path d="M611.2 387.5L614 387.5" stroke="#b030f0" stroke-width="0.8"/>
<path d="M611.2 395.5L614 395.5" stroke="#b030f0" stroke-width="0.8"/>
<path d="M612.6 389.7L614.4 392.8L610.8 392.8Z" fill="#b030f0"/>
<path d="M648.8 359.2L648.8 367.2" stroke="#b030f0" stroke-width="0.8"/>
<path d="M647.4 359.2L650.2 359.2" stroke="#b030f0" stroke-width="0.8"/>
<path d="M647.4 367.2L650.2 367.2" stroke="#b030f0" stroke-width="0.8"/>
<path d="M648.8 361.4L650.6 364.5L647 364.5Z" fill="#b030f0"/>
<path d="M549.5 418.5 L576.4 411 L612.6 396 L648.8 369.5" stroke="#ff8a1a" stroke-width="0.9" fill="none"/>
<path d="M549.5 417.5L549.5 419.5" stroke="#ff8a1a" stroke-width="0.8"/>
<path d="M548.1 417.5L550.9 417.5" stroke="#ff8a1a" stroke-width="0.8"/>
<path d="M548.1 419.5L550.9 419.5" stroke="#ff8a1a" stroke-width="0.8"/>
<rect x="548" y="417" width="3" height="3" fill="#ff8a1a"/>
<path d="M576.4 409.5L576.4 412.5" stroke="#ff8a1a" stroke-width="0.8"/>
<path d="M575 409.5L577.8 409.5" stroke="#ff8a1a" stroke-width="0.8"/>
<path d="M575 412.5L577.8 412.5" stroke="#ff8a1a" stroke-width="0.8"/>
<rect x="574.9" y="409.5" width="3" height="3" fill="#ff8a1a"/>
<path d="M612.6 393.5L612.6 398.5" stroke="#ff8a1a" stroke-width="0.8"/>
<path d="M611.2 393.5L614 393.5" stroke="#ff8a1a" stroke-width="0.8"/>
<path d="M611.2 398.5L614 398.5" stroke="#ff8a1a" stroke-width="0.8"/>
<rect x="611.1" y="394.5" width="3" height="3" fill="#ff8a1a"/>
<path d="M648.8 366.5L648.8 372.5" stroke="#ff8a1a" stroke-width="0.8"/>
<path d="M647.4 366.5L650.2 366.5" stroke="#ff8a1a" stroke-width="0.8"/>
<path d="M647.4 372.5L650.2 372.5" stroke="#ff8a1a" stroke-width="0.8"/>
<rect x="647.3" y="368" width="3" height="3" fill="#ff8a1a"/>
<path d="M549.5 419.5 L576.4 413.2 L612.6 400.5 L648.8 381.2" stroke="#111" stroke-width="0.9" fill="none"/>
<path d="M549.5 418.5L549.5 420.5" stroke="#111" stroke-width="0.8"/>
<path d="M548.1 418.5L550.9 418.5" stroke="#111" stroke-width="0.8"/>
<path d="M548.1 420.5L550.9 420.5" stroke="#111" stroke-width="0.8"/>
<circle cx="549.5" cy="419.5" r="1.5" fill="#111"/>
<path d="M576.4 411.7L576.4 414.7" stroke="#111" stroke-width="0.8"/>
<path d="M575 411.7L577.8 411.7" stroke="#111" stroke-width="0.8"/>
<path d="M575 414.7L577.8 414.7" stroke="#111" stroke-width="0.8"/>
<circle cx="576.4" cy="413.2" r="1.5" fill="#111"/>
<path d="M612.6 397.5L612.6 403.5" stroke="#111" stroke-width="0.8"/>
<path d="M611.2 397.5L614 397.5" stroke="#111" stroke-width="0.8"/>
<path d="M611.2 403.5L614 403.5" stroke="#111" stroke-width="0.8"/>
<circle cx="612.6" cy="400.5" r="1.5" fill="#111"/>
<path d="M648.8 378.2L648.8 384.2" stroke="#111" stroke-width="0.8"/>
<path d="M647.4 378.2L650.2 378.2" stroke="#111" stroke-width="0.8"/>
<path d="M647.4 384.2L650.2 384.2" stroke="#111" stroke-width="0.8"/>
<circle cx="648.8" cy="381.2" r="1.5" fill="#111"/>
<path d="M540.2 342.1L540.2 422.9" stroke="#111" stroke-width="1"/>
<path d="M539.7 422.4L660 422.4" stroke="#111" stroke-width="1"/>
<path d="M538.2 422.4L540.2 422.4" stroke="#111" stroke-width="0.8"/>
<text x="537.6" y="424.4"  font-size="5.9" font-weight="bold" text-anchor="end" fill="#000">0</text>
<path d="M538.2 402.4L540.2 402.4" stroke="#111" stroke-width="0.8"/>
<text x="537.6" y="404.4"  font-size="5.9" font-weight="bold" text-anchor="end" fill="#000">1</text>
<path d="M538.2 382.4L540.2 382.4" stroke="#111" stroke-width="0.8"/>
<text x="537.6" y="384.4"  font-size="5.9" font-weight="bold" text-anchor="end" fill="#000">2</text>
<path d="M538.2 362.4L540.2 362.4" stroke="#111" stroke-width="0.8"/>
<text x="537.6" y="364.4"  font-size="5.9" font-weight="bold" text-anchor="end" fill="#000">3</text>
<path d="M538.2 342.4L540.2 342.4" stroke="#111" stroke-width="0.8"/>
<text x="537.6" y="344.4"  font-size="5.9" font-weight="bold" text-anchor="end" fill="#000">4</text>
<path d="M576.4 422.4L576.4 424.4" stroke="#111" stroke-width="0.8"/>
<text x="576.4" y="430.6"  font-size="5.7" font-weight="bold" text-anchor="middle" textLength="9.8" lengthAdjust="spacingAndGlyphs" fill="#000">24h</text>
<path d="M612.6 422.4L612.6 424.4" stroke="#111" stroke-width="0.8"/>
<text x="612.6" y="430.6"  font-size="5.7" font-weight="bold" text-anchor="middle" textLength="9.8" lengthAdjust="spacingAndGlyphs" fill="#000">48h</text>
<path d="M649 422.4L649 424.4" stroke="#111" stroke-width="0.8"/>
<text x="649" y="430.6"  font-size="5.7" font-weight="bold" text-anchor="middle" textLength="9.8" lengthAdjust="spacingAndGlyphs" fill="#000">72h</text>
<text x="601" y="440.2"  font-size="6.6" font-weight="bold" text-anchor="middle" textLength="13.2" lengthAdjust="spacingAndGlyphs" fill="#000">Time</text>
<text x="0" y="0" transform="translate(522.2 382.3) rotate(-90)" font-size="6.6" font-weight="bold" text-anchor="middle" textLength="37.6" lengthAdjust="spacingAndGlyphs" fill="#000">Cell Viability</text>
<text x="0" y="0" transform="translate(530.5 382.5) rotate(-90)" font-size="6.6" font-weight="bold" text-anchor="middle" textLength="61.5" lengthAdjust="spacingAndGlyphs" fill="#000">(OD value at 450nm)</text>
<path d="M556.4 342.5L564.6 342.5" stroke="#111" stroke-width="0.9"/>
<circle cx="560.6" cy="342.5" r="1.5" fill="#111"/>
<text x="569.4" y="344.85"  font-size="6.6" textLength="8.2" lengthAdjust="spacingAndGlyphs" fill="#000">NC</text>
<path d="M556.4 353.2L564.6 353.2" stroke="#ff8a1a" stroke-width="0.9"/>
<rect x="559.1" y="351.7" width="3" height="3" fill="#ff8a1a"/>
<text x="569.4" y="355.55"  font-size="6.6" textLength="30" lengthAdjust="spacingAndGlyphs" fill="#000">siNLRP1#1</text>
<path d="M556.4 363.2L564.6 363.2" stroke="#b030f0" stroke-width="0.9"/>
<path d="M560.6 361.4L562.4 364.5L558.8 364.5Z" fill="#b030f0"/>
<text x="569.4" y="365.55"  font-size="6.6" textLength="30.5" lengthAdjust="spacingAndGlyphs" fill="#000">siNLRP1#3</text>
<path d="M655.8 361L655.8 381" stroke="#b030f0" stroke-width="0.9"/>
<path d="M658.95 370.83l0 -1.4M658.95 370.83l1.33 -0.43M658.95 370.83l0.82 1.13M658.95 370.83l-0.82 1.13M658.95 370.83l-1.33 -0.43M663.05 370.83l0 -1.4M663.05 370.83l1.33 -0.43M663.05 370.83l0.82 1.13M663.05 370.83l-0.82 1.13M663.05 370.83l-1.33 -0.43" stroke="#111" stroke-width="0.73" stroke-linecap="round" fill="none"/>
<path d="M669.1 367.5L669.1 381" stroke="#ff8a1a" stroke-width="0.9"/>
<path d="M672.95 374.63l0 -1.4M672.95 374.63l1.33 -0.43M672.95 374.63l0.82 1.13M672.95 374.63l-0.82 1.13M672.95 374.63l-1.33 -0.43M677.05 374.63l0 -1.4M677.05 374.63l1.33 -0.43M677.05 374.63l0.82 1.13M677.05 374.63l-0.82 1.13M677.05 374.63l-1.33 -0.43" stroke="#111" stroke-width="0.73" stroke-linecap="round" fill="none"/>
<text x="251.8" y="30.6"  font-size="8.6" font-weight="bold" font-style="italic" fill="#222">M</text>
<text x="258.6" y="32"  font-size="5.8" font-weight="bold" font-style="italic" fill="#222">r</text>
<text x="262.4" y="30.6"  font-size="8.6" font-weight="bold" textLength="19.4" lengthAdjust="spacingAndGlyphs" fill="#222">(kDa)</text>
<text x="0" y="0" transform="translate(288.2 36.7) rotate(-45)" font-size="8.6" font-weight="bold" textLength="10.5" lengthAdjust="spacingAndGlyphs" fill="#1a1a1a" stroke="#1a1a1a" stroke-width="0.2">NC</text>
<text x="0" y="0" transform="translate(299 37) rotate(-45)" font-size="8.6" font-weight="bold" textLength="40.3" lengthAdjust="spacingAndGlyphs" fill="#1a1a1a" stroke="#1a1a1a" stroke-width="0.2">siCASP4#1</text>
<text x="0" y="0" transform="translate(311.7 37.5) rotate(-45)" font-size="8.6" font-weight="bold" textLength="40.3" lengthAdjust="spacingAndGlyphs" fill="#1a1a1a" stroke="#1a1a1a" stroke-width="0.2">siCASP4#2</text>
<text x="0" y="0" transform="translate(326.6 36.2) rotate(-45)" font-size="8.6" font-weight="bold" textLength="40.3" lengthAdjust="spacingAndGlyphs" fill="#1a1a1a" stroke="#1a1a1a" stroke-width="0.2">siCASP4#3</text>
<rect x="279.8" y="39.5" width="54.5" height="10.4" rx="1" fill="#d9d9d9" stroke="#3a3a3a" stroke-width="1"/>
<rect x="279.8" y="52.8" width="54.5" height="10.3" rx="1" fill="#d9d9d9" stroke="#3a3a3a" stroke-width="1"/>
<rect x="283.4" y="44.1" width="11.6" height="4.2" rx="2.3" fill="none" stroke="#000" stroke-opacity="0.35" stroke-width="0.9"/>
<rect x="283.6" y="44.3" width="11.2" height="3.8" rx="1.9" fill="#000" fill-opacity="1"/>
<rect x="322.2" y="46.3" width="8.1" height="1.2" rx="0.8" fill="none" stroke="#000" stroke-opacity="0.09" stroke-width="0.9"/>
<rect x="322.4" y="46.5" width="7.7" height="0.8" rx="0.4" fill="#000" fill-opacity="0.25"/>
<rect x="283.2" y="57.6" width="10.2" height="2.8" rx="1.6" fill="none" stroke="#000" stroke-opacity="0.33" stroke-width="0.9"/>
<rect x="283.4" y="57.8" width="9.8" height="2.4" rx="1.2" fill="#000" fill-opacity="0.95"/>
<rect x="296" y="57.6" width="9.6" height="2.8" rx="1.6" fill="none" stroke="#000" stroke-opacity="0.33" stroke-width="0.9"/>
<rect x="296.2" y="57.8" width="9.2" height="2.4" rx="1.2" fill="#000" fill-opacity="0.95"/>
<rect x="308.4" y="57.5" width="8.8" height="3" rx="1.7" fill="none" stroke="#000" stroke-opacity="0.35" stroke-width="0.9"/>
<rect x="308.6" y="57.7" width="8.4" height="2.6" rx="1.3" fill="#000" fill-opacity="1"/>
<rect x="320.4" y="57.7" width="9.6" height="2.6" rx="1.5" fill="none" stroke="#000" stroke-opacity="0.32" stroke-width="0.9"/>
<rect x="320.6" y="57.9" width="9.2" height="2.2" rx="1.1" fill="#000" fill-opacity="0.9"/>
<path d="M274.6 41.5L278.6 41.5" stroke="#222" stroke-width="1.1"/>
<text x="272.4" y="44.4"  font-size="8.3" font-weight="bold" text-anchor="end" textLength="7.6" lengthAdjust="spacingAndGlyphs" fill="#222">55</text>
<path d="M274.6 61.2L278.6 61.2" stroke="#222" stroke-width="1.1"/>
<text x="272.4" y="64.1"  font-size="8.3" font-weight="bold" text-anchor="end" textLength="12.2" lengthAdjust="spacingAndGlyphs" fill="#222">100</text>
<text x="343.4" y="48.1"  font-size="8.1" font-weight="bold" textLength="38.8" lengthAdjust="spacingAndGlyphs" fill="#2a2a2a">IB: CASP4</text>
<text x="343.4" y="61"  font-size="8.1" font-weight="bold" textLength="43.9" lengthAdjust="spacingAndGlyphs" fill="#2a2a2a">IB: Vinculin</text>
<text x="251.8" y="104.9"  font-size="8.6" font-weight="bold" font-style="italic" fill="#222">M</text>
<text x="258.6" y="106.3"  font-size="5.8" font-weight="bold" font-style="italic" fill="#222">r</text>
<text x="262.4" y="104.9"  font-size="8.6" font-weight="bold" textLength="19.4" lengthAdjust="spacingAndGlyphs" fill="#222">(kDa)</text>
<text x="0" y="0" transform="translate(288.2 110.3) rotate(-45)" font-size="8.6" font-weight="bold" textLength="10.5" lengthAdjust="spacingAndGlyphs" fill="#1a1a1a" stroke="#1a1a1a" stroke-width="0.2">NC</text>
<text x="0" y="0" transform="translate(299 110.6) rotate(-45)" font-size="8.6" font-weight="bold" textLength="40.3" lengthAdjust="spacingAndGlyphs" fill="#1a1a1a" stroke="#1a1a1a" stroke-width="0.2">siCASP4#1</text>
<text x="0" y="0" transform="translate(311.7 111.1) rotate(-45)" font-size="8.6" font-weight="bold" textLength="40.3" lengthAdjust="spacingAndGlyphs" fill="#1a1a1a" stroke="#1a1a1a" stroke-width="0.2">siCASP4#2</text>
<text x="0" y="0" transform="translate(326.6 109.8) rotate(-45)" font-size="8.6" font-weight="bold" textLength="40.3" lengthAdjust="spacingAndGlyphs" fill="#1a1a1a" stroke="#1a1a1a" stroke-width="0.2">siCASP4#3</text>
<rect x="279.8" y="113.1" width="55.6" height="10.6" rx="1" fill="#d9d9d9" stroke="#3a3a3a" stroke-width="1"/>
<rect x="279.8" y="127.7" width="55.6" height="11.4" rx="1" fill="#d9d9d9" stroke="#3a3a3a" stroke-width="1"/>
<rect x="284.8" y="117.3" width="10.6" height="4.6" rx="2.5" fill="none" stroke="#000" stroke-opacity="0.35" stroke-width="0.9"/>
<rect x="285" y="117.5" width="10.2" height="4.2" rx="2.1" fill="#000" fill-opacity="1"/>
<rect x="299.4" y="119.2" width="4.8" height="1" rx="0.7" fill="none" stroke="#000" stroke-opacity="0.19" stroke-width="0.9"/>
<rect x="299.6" y="119.4" width="4.4" height="0.6" rx="0.3" fill="#000" fill-opacity="0.55"/>
<rect x="322.8" y="117.9" width="8.2" height="3" rx="1.7" fill="none" stroke="#000" stroke-opacity="0.35" stroke-width="0.9"/>
<rect x="323" y="118.1" width="7.8" height="2.6" rx="1.3" fill="#000" fill-opacity="1"/>
<rect x="281.6" y="130.5" width="12.8" height="4.4" rx="2.4" fill="none" stroke="#000" stroke-opacity="0.35" stroke-width="0.9"/>
<rect x="281.8" y="130.7" width="12.4" height="4" rx="2" fill="#000" fill-opacity="1"/>
<rect x="295.4" y="130.5" width="11.2" height="4.4" rx="2.4" fill="none" stroke="#000" stroke-opacity="0.35" stroke-width="0.9"/>
<rect x="295.6" y="130.7" width="10.8" height="4" rx="2" fill="#000" fill-opacity="1"/>
<rect x="307.6" y="130.5" width="12.4" height="4.4" rx="2.4" fill="none" stroke="#000" stroke-opacity="0.35" stroke-width="0.9"/>
<rect x="307.8" y="130.7" width="12" height="4" rx="2" fill="#000" fill-opacity="1"/>
<rect x="321" y="130.4" width="12.4" height="4.4" rx="2.4" fill="none" stroke="#000" stroke-opacity="0.35" stroke-width="0.9"/>
<rect x="321.2" y="130.6" width="12" height="4" rx="2" fill="#000" fill-opacity="1"/>
<path d="M274.6 116.2L278.6 116.2" stroke="#222" stroke-width="1.1"/>
<text x="272.4" y="119.1"  font-size="8.3" font-weight="bold" text-anchor="end" textLength="7.6" lengthAdjust="spacingAndGlyphs" fill="#222">55</text>
<path d="M274.6 135.6L278.6 135.6" stroke="#222" stroke-width="1.1"/>
<text x="272.4" y="138.5"  font-size="8.3" font-weight="bold" text-anchor="end" textLength="12.2" lengthAdjust="spacingAndGlyphs" fill="#222">100</text>
<text x="343.4" y="121.6"  font-size="8.1" font-weight="bold" textLength="38.8" lengthAdjust="spacingAndGlyphs" fill="#2a2a2a">IB: CASP4</text>
<text x="343.4" y="135.6"  font-size="8.1" font-weight="bold" textLength="43.9" lengthAdjust="spacingAndGlyphs" fill="#2a2a2a">IB: Vinculin</text>
<text x="251.8" y="179"  font-size="8.6" font-weight="bold" font-style="italic" fill="#222">M</text>
<text x="258.6" y="180.4"  font-size="5.8" font-weight="bold" font-style="italic" fill="#222">r</text>
<text x="262.4" y="179"  font-size="8.6" font-weight="bold" textLength="19.4" lengthAdjust="spacingAndGlyphs" fill="#222">(kDa)</text>
<text x="0" y="0" transform="translate(288.2 184.8) rotate(-45)" font-size="8.6" font-weight="bold" textLength="10.5" lengthAdjust="spacingAndGlyphs" fill="#1a1a1a" stroke="#1a1a1a" stroke-width="0.2">NC</text>
<text x="0" y="0" transform="translate(299 185.1) rotate(-45)" font-size="8.6" font-weight="bold" textLength="39.8" lengthAdjust="spacingAndGlyphs" fill="#1a1a1a" stroke="#1a1a1a" stroke-width="0.2">siNLRP1#1</text>
<text x="0" y="0" transform="translate(311.7 185.6) rotate(-45)" font-size="8.6" font-weight="bold" textLength="39.8" lengthAdjust="spacingAndGlyphs" fill="#1a1a1a" stroke="#1a1a1a" stroke-width="0.2">siNLRP1#2</text>
<text x="0" y="0" transform="translate(326.6 184.3) rotate(-45)" font-size="8.6" font-weight="bold" textLength="39.8" lengthAdjust="spacingAndGlyphs" fill="#1a1a1a" stroke="#1a1a1a" stroke-width="0.2">siNLRP1#3</text>
<rect x="280.6" y="187.6" width="56.3" height="13.7" rx="1" fill="#d9d9d9" stroke="#3a3a3a" stroke-width="1"/>
<rect x="280.1" y="204.5" width="56.8" height="15.3" rx="1" fill="#d9d9d9" stroke="#3a3a3a" stroke-width="1"/>
<rect x="284.8" y="193.3" width="10" height="1.8" rx="1.1" fill="none" stroke="#000" stroke-opacity="0.35" stroke-width="0.9" transform="rotate(-4 289.8 194.2)"/>
<rect x="285" y="193.5" width="9.6" height="1.4" rx="0.7" fill="#000" fill-opacity="1" transform="rotate(-4 289.8 194.2)"/>
<rect x="298.8" y="192.1" width="7.4" height="1" rx="0.7" fill="none" stroke="#000" stroke-opacity="0.06" stroke-width="0.9"/>
<rect x="299" y="192.3" width="7" height="0.6" rx="0.3" fill="#000" fill-opacity="0.18"/>
<rect x="310.4" y="192.5" width="8" height="1.8" rx="1.1" fill="none" stroke="#000" stroke-opacity="0.33" stroke-width="0.9" transform="rotate(4 314.4 193.4)"/>
<rect x="310.6" y="192.7" width="7.6" height="1.4" rx="0.7" fill="#000" fill-opacity="0.95" transform="rotate(4 314.4 193.4)"/>
<rect x="284" y="210.8" width="10.4" height="3.6" rx="2" fill="none" stroke="#000" stroke-opacity="0.35" stroke-width="0.9"/>
<rect x="284.2" y="211" width="10" height="3.2" rx="1.6" fill="#000" fill-opacity="1"/>
<rect x="297" y="210.8" width="10" height="3.6" rx="2" fill="none" stroke="#000" stroke-opacity="0.35" stroke-width="0.9"/>
<rect x="297.2" y="211" width="9.6" height="3.2" rx="1.6" fill="#000" fill-opacity="1"/>
<rect x="309" y="210.8" width="10" height="3.6" rx="2" fill="none" stroke="#000" stroke-opacity="0.35" stroke-width="0.9"/>
<rect x="309.2" y="211" width="9.6" height="3.2" rx="1.6" fill="#000" fill-opacity="1"/>
<rect x="321" y="210.6" width="11" height="3.8" rx="2.1" fill="none" stroke="#000" stroke-opacity="0.35" stroke-width="0.9"/>
<rect x="321.2" y="210.8" width="10.6" height="3.4" rx="1.7" fill="#000" fill-opacity="1"/>
<path d="M274.6 197.9L278.6 197.9" stroke="#222" stroke-width="1.1"/>
<text x="272.4" y="200.8"  font-size="8.3" font-weight="bold" text-anchor="end" textLength="12.2" lengthAdjust="spacingAndGlyphs" fill="#222">130</text>
<path d="M274.6 215.8L278.6 215.8" stroke="#222" stroke-width="1.1"/>
<text x="272.4" y="218.7"  font-size="8.3" font-weight="bold" text-anchor="end" textLength="12.2" lengthAdjust="spacingAndGlyphs" fill="#222">100</text>
<text x="343.4" y="195.9"  font-size="8.1" font-weight="bold" textLength="38.4" lengthAdjust="spacingAndGlyphs" fill="#2a2a2a">IB: NLRP1</text>
<text x="343.4" y="214.9"  font-size="8.1" font-weight="bold" textLength="43.9" lengthAdjust="spacingAndGlyphs" fill="#2a2a2a">IB: Vinculin</text>
<text x="251.8" y="258.6"  font-size="8.6" font-weight="bold" font-style="italic" fill="#222">M</text>
<text x="258.6" y="260"  font-size="5.8" font-weight="bold" font-style="italic" fill="#222">r</text>
<text x="262.4" y="258.6"  font-size="8.6" font-weight="bold" textLength="19.4" lengthAdjust="spacingAndGlyphs" fill="#222">(kDa)</text>
<text x="0" y="0" transform="translate(288.2 266.3) rotate(-45)" font-size="8.6" font-weight="bold" textLength="10.5" lengthAdjust="spacingAndGlyphs" fill="#1a1a1a" stroke="#1a1a1a" stroke-width="0.2">NC</text>
<text x="0" y="0" transform="translate(299 266.6) rotate(-45)" font-size="8.6" font-weight="bold" textLength="39.8" lengthAdjust="spacingAndGlyphs" fill="#1a1a1a" stroke="#1a1a1a" stroke-width="0.2">siNLRP1#1</text>
<text x="0" y="0" transform="translate(311.7 267.1) rotate(-45)" font-size="8.6" font-weight="bold" textLength="39.8" lengthAdjust="spacingAndGlyphs" fill="#1a1a1a" stroke="#1a1a1a" stroke-width="0.2">siNLRP1#2</text>
<text x="0" y="0" transform="translate(326.6 265.8) rotate(-45)" font-size="8.6" font-weight="bold" textLength="39.8" lengthAdjust="spacingAndGlyphs" fill="#1a1a1a" stroke="#1a1a1a" stroke-width="0.2">siNLRP1#3</text>
<rect x="279.6" y="269.1" width="59.5" height="13.4" rx="1" fill="#d9d9d9" stroke="#3a3a3a" stroke-width="1"/>
<rect x="279.6" y="287.8" width="59.2" height="14.8" rx="1" fill="#d9d9d9" stroke="#3a3a3a" stroke-width="1"/>
<rect x="285.8" y="275.85" width="9.6" height="1.9" rx="1.15" fill="none" stroke="#000" stroke-opacity="0.35" stroke-width="0.9" transform="rotate(2 290.6 276.8)"/>
<rect x="286" y="276.05" width="9.2" height="1.5" rx="0.75" fill="#000" fill-opacity="1" transform="rotate(2 290.6 276.8)"/>
<rect x="311.8" y="276.2" width="6.8" height="1.6" rx="1" fill="none" stroke="#000" stroke-opacity="0.33" stroke-width="0.9"/>
<rect x="312" y="276.4" width="6.4" height="1.2" rx="0.6" fill="#000" fill-opacity="0.95"/>
<rect x="284.8" y="293.3" width="11.2" height="4.2" rx="2.3" fill="none" stroke="#000" stroke-opacity="0.35" stroke-width="0.9"/>
<rect x="285" y="293.5" width="10.8" height="3.8" rx="1.9" fill="#000" fill-opacity="1"/>
<rect x="297.8" y="293.3" width="10.2" height="4.2" rx="2.3" fill="none" stroke="#000" stroke-opacity="0.35" stroke-width="0.9"/>
<rect x="298" y="293.5" width="9.8" height="3.8" rx="1.9" fill="#000" fill-opacity="1"/>
<rect x="309.8" y="293.3" width="10" height="4.2" rx="2.3" fill="none" stroke="#000" stroke-opacity="0.35" stroke-width="0.9"/>
<rect x="310" y="293.5" width="9.6" height="3.8" rx="1.9" fill="#000" fill-opacity="1"/>
<rect x="322" y="293.3" width="9.6" height="4.2" rx="2.3" fill="none" stroke="#000" stroke-opacity="0.35" stroke-width="0.9"/>
<rect x="322.2" y="293.5" width="9.2" height="3.8" rx="1.9" fill="#000" fill-opacity="1"/>
<path d="M274.6 280.1L278.6 280.1" stroke="#222" stroke-width="1.1"/>
<text x="272.4" y="283"  font-size="8.3" font-weight="bold" text-anchor="end" textLength="12.2" lengthAdjust="spacingAndGlyphs" fill="#222">130</text>
<path d="M274.6 298.3L278.6 298.3" stroke="#222" stroke-width="1.1"/>
<text x="272.4" y="301.2"  font-size="8.3" font-weight="bold" text-anchor="end" textLength="12.2" lengthAdjust="spacingAndGlyphs" fill="#222">100</text>
<text x="343.4" y="276.9"  font-size="8.1" font-weight="bold" textLength="38.4" lengthAdjust="spacingAndGlyphs" fill="#2a2a2a">IB: NLRP1</text>
<text x="343.4" y="297.5"  font-size="8.1" font-weight="bold" textLength="43.9" lengthAdjust="spacingAndGlyphs" fill="#2a2a2a">IB: Vinculin</text>
<g clip-path="url(#cp11)">
<rect x="42" y="462.7" width="119.6" height="90.3" fill="#f8f8f6"/>
<g transform="translate(42 462.7) scale(.5)" fill="none" stroke-linecap="round"><path d="M18 17l4 1M27 16l1 1M27 13l-3 2M114 11l-1 2M130 6h0M125 10l4 1M3 59l1 0M15 35l-1 1M47 37l2 1M112 34l-2 1M167 45l3 0M170 37l1 0M2 60l2 2M60 83l-2 1M66 66l4 0M122 62l0 1M127 64l3 2M128 62l1 3M156 68l-2 1M181 67h0M189 61h0M213 62l-2 3M5 119l1 1M92 118h0M113 111l2 1M141 99l-2 1M132 98l5 0M7 138l3 3M54 140l4 1M63 141l-4 2M75 130h0M88 133l1 0M119 140l0 3M57 167l1 1M50 177l3 2M53 177l-4 2M50 174l0 3M173 154l-1 0M216 153l-4 1" stroke="#3a2ca4" stroke-width="6" stroke-opacity="0.88"/><path d="M24 23h0M32 28h0M66 11l1 4M101 12l-1 1M110 28h0M110 26h0M212 15h0M38 41h0M41 40l1 0M110 58l2 3M170 52l0 1M170 46l-3 1M180 52l2 1M180 51h0M48 72l3 3M70 62l-2 1M62 85l0 1M63 101l0 1M86 114l-1 1M89 120l-2 0M90 121h0M133 113l2 1M137 112l-4 1M209 111l0 1M220 107l1 2M41 122l-3 1M52 127l2 0M178 124l3 2M209 145l-1 0M233 144l4 2M234 148l-1 2M14 154l-1 4M26 179h0M6 160l1 0M47 166l2 1M50 180l1 1M136 156h0M169 154l2 4M237 152l-2 0M235 153l-1 0M233 150l3 1" stroke="#4a3abc" stroke-width="6" stroke-opacity="0.88"/><path d="M20 2l0 2M22 1l2 1M31 30l1 0M31 30l2 2M107 16l-1 2M185 6l-3 2M9 56l0 3M89 35l-3 0M182 51l0 2M182 51l-2 2M211 53l-2 3M210 53l0 1M222 58l-1 2M68 63l2 3M191 62l-3 0M196 77l-4 1M210 71l1 3M209 68l1 2M63 107l1 1M106 105l1 2M164 109l1 1M192 100l0 2M204 91l-1 4M214 109l-3 3M8 141l0 1M8 136l-3 2M9 136l-2 2M8 121l0 1M35 128l0 5M52 133h0M113 143h0M133 148l-1 4M135 119l-1 2M136 121l4 2M160 129l0 2M235 146l-1 1M11 162l-3 0M133 178l0 5M151 179l3 1M172 154l1 1M186 179l1 0" stroke="#6654cc" stroke-width="6" stroke-opacity="0.88"/><path d="M0 20l1 0M14 19l1 1M54 23l-3 2M51 23l0 2M55 27l-3 1M80 1l3 0M82 -3h0M93 -2l-2 3M99 18h0M205 9l3 0M203 7l4 1M178 2l0 1M218 10l4 1M213 19l-3 2M211 18l-3 0M119 38l-2 0M118 37h0M150 57l-1 0M126 40l0 3M125 40l-4 2M184 59l4 0M186 55h0M183 55l-1 2M241 30l-4 1M220 58l-1 4M207 37l-1 2M212 37l-4 1M215 42l-1 1M37 69l-4 1M44 69l-1 1M43 68l0 1M107 77h0M112 62l-4 2M111 60l-2 0M120 75l0 4M156 67l-2 1M157 66l1 2M179 78l-1 4M156 62l-3 4M14 107h0M13 120l-4 0M63 103l-1 2M109 105l1 1M147 118l0 3M209 112l1 2M210 113l0 2M218 115l0 1M214 110l-1 2M38 124h0M113 139l0 1M91 149l4 0M159 129l-3 1M161 127l-1 1M159 130l0 1M191 127l2 1M232 149h0M46 178l4 2M56 161l-4 1M62 172h0M93 177l1 3M94 177l-2 2M124 150l0 1M184 174l4 2M194 178h0" stroke="#5646c4" stroke-width="6" stroke-opacity="0.88"/><path d="M18 22l1 3M21 3l-2 4M22 26h0M23 24l-3 2M47 28l3 1M48 27l1 3M30 27l2 2M63 21l2 1M67 21l-4 2M74 5l1 0M79 28l1 1M113 11l1 1M114 10l-3 2M115 10l-3 2M111 18l-3 1M136 30l1 1M138 30l0 1M179 -1l-2 2M181 5l1 1M219 5l0 4M223 9l-1 0M8 59l2 0M28 56l2 1M27 56l3 0M28 57h0M28 54l1 3M20 32l-1 1M23 34l-3 0M13 38l2 2M17 37l-3 3M123 44l2 1M182 53l1 1M236 30l3 3M213 55l0 1M235 33l0 1M228 57l-2 4M219 60h0M223 62l0 1M21 89l-2 1M13 85l3 1M5 73l-1 0M7 74l2 3M86 69l3 0M115 81l-3 1M109 80l-4 3M111 73l-1 1M117 89l4 2M128 66l1 3M177 61l-2 3M175 60l0 4M177 68l1 1M178 73l0 2M188 59l3 2M180 77l2 4M181 74l-3 2M44 113l-1 3M39 115l3 0M67 110l1 1M61 93l-2 2M76 112h0M76 112l3 2M103 108l1 0M104 108l-2 2M108 108l-4 2M104 111l0 2M164 106l0 4M205 96l0 1M193 98l-2 3M195 99l-3 3M190 107l-1 0M190 104l-1 2M200 90l0 1M198 101l-1 4M202 102l-3 1M221 108l2 4M222 111l-1 1M9 137h0M11 123l-2 2M1 131l0 1M38 124h0M37 130l0 1M33 130l1 4M53 128h0M72 135l-2 1M70 132l1 3M63 140l-3 2M114 145l-2 1M131 149l1 0M132 150l-4 3M133 151l-1 2M136 128l0 1M122 133l3 2M119 134l-3 1M139 133l3 1M160 124l0 1M163 132h0M160 129l2 1M238 145l-4 1M235 141l2 3M238 144l-4 2M20 177l4 0M111 177l-2 3M114 176l-3 2M132 181l-3 2M179 150l-1 3M189 180h0" stroke="#6654cc" stroke-width="5" stroke-opacity="0.88"/><path d="M25 23l1 4M27 26h0M47 6h0M45 7l0 1M61 12l4 2M85 26l0 4M65 14h0M62 15l-4 2M108 28l0 4M183 12l0 3M183 4h0M213 14l2 1M229 9l-3 1M225 7l2 4M7 37l2 3M26 52l1 1M34 47l-2 4M48 40l3 3M49 38l1 3M42 38l-3 2M59 50l4 1M61 41l0 4M63 41l-2 4M61 40l1 3M111 57l0 1M110 42l-1 2M110 42l0 2M142 54l-1 2M171 56h0M163 47l3 4M222 33l-1 2M235 59l2 1M236 60l-3 0M6 64l-2 2M47 75l2 2M51 78l-5 0M47 70l-3 3M86 67l3 3M111 62l1 2M125 58l2 4M173 82l5 0M174 80l-1 4M150 61l2 4M200 87l-2 0M201 87l1 3M210 82l1 1M212 84l0 1M7 109l1 1M63 100l2 2M65 101h0M63 108h0M58 108h0M73 108l3 0M83 118l2 0M87 119l2 3M106 105l-5 0M133 114l-1 1M191 106l-3 3M207 107l4 0M221 109l0 3M222 110l2 0M6 133l4 1M-4 130l4 1M41 118l-1 0M46 130l-1 0M53 133l1 0M50 131l1 3M104 129l-1 2M104 132l-2 1M120 146l1 4M119 150l-1 1M208 145l-1 0M207 145l-2 2M231 150l3 2M233 151l3 2M242 149l-4 3M13 158l3 4M6 161l4 1M6 160l1 1M7 157l-1 1M47 165l2 4M63 173h0M92 161l0 2M100 174l-3 4M99 175l-1 4M138 153h0M170 159l0 1M171 158l0 2M166 152l4 0M194 177l3 1M186 169l1 2M210 171l2 4M236 151l1 1M238 150l2 3M240 150l0 1M237 177l-3 2M235 173l2 4M234 154l-1 0M234 151l-3 0" stroke="#4a3abc" stroke-width="5" stroke-opacity="0.88"/><path d="M4 19l-1 3M1 19h0M15 20l2 4M52 22l1 2M55 26l2 2M81 -1l-3 3M66 8l-3 2M63 8l-1 2M90 0l-2 0M97 15l4 1M176 13l4 1M178 11l-4 1M160 12l1 2M202 11h0M235 26l1 4M15 36l-3 1M14 38l0 5M147 59l1 4M168 50h0M169 51l-1 1M165 49h0M184 56l0 1M208 38l3 1M215 39l-1 1M33 67h0M34 70l-2 0M37 67l-1 4M41 69l3 0M44 70l1 2M78 69l-1 2M77 76l-3 1M58 86l5 1M99 84l2 4M110 61l1 1M118 85l3 1M120 76l1 2M120 59l0 2M120 61l-3 1M120 59l2 2M216 61l-1 4M12 108l-3 3M12 110h0M10 119l3 3M30 98l4 2M61 109l0 3M61 111l1 0M116 112h0M118 109l-4 3M114 109l0 3M106 104l1 1M108 104l0 1M130 119h0M126 115l-1 1M148 117l0 2M176 119l4 0M159 111l2 1M206 112l-3 2M214 112h0M217 113h0M219 114l-1 1M223 105h0M37 126l1 0M97 147h0M112 142l0 1M158 130l-2 0M155 131l0 2M155 128l3 3M158 131l1 1M179 147l2 1M182 145l0 2M180 141l2 3M182 135l-2 3M52 163l4 1M44 164h0M61 155l-1 1M59 156l3 2M58 175l0 1M131 160l1 1M167 151l4 2M170 153l2 1M191 169l1 2M185 175l0 4" stroke="#5646c4" stroke-width="5" stroke-opacity="0.88"/><path d="M24 14l4 1M112 12l3 2M134 4l0 1M127 11l1 0M123 7l-3 0M195 11l0 1M49 38l1 4M60 48l4 1M64 46l1 1M70 59h0M103 60h0M92 33l-3 2M111 35l0 1M127 56l2 3M184 51l-4 0M175 54l1 2M178 55h0M177 53l-4 2M176 52l-4 1M183 59l-2 2M184 55l0 3M19 87l1 3M61 85l1 1M63 83l-2 3M63 83l-1 0M129 61l-4 2M132 62l-1 2M155 68l-1 0M177 78l-1 0M178 77l-1 1M177 80l-1 2M179 76l2 3M214 65l-4 0M23 99l-4 2M21 100l2 0M6 117l2 0M59 109l-1 1M61 103h0M65 101l-3 2M89 115l2 4M87 116l-2 0M114 108l0 3M161 112l-2 1M166 109l-1 1M158 112l2 0M158 113h0M221 106l1 3M-2 137l1 1M7 139l3 3M60 144h0M83 129l4 1M85 128l4 0M117 139l4 0M113 140l4 1M119 135l2 1M234 149l-1 2M235 148l1 0M234 151h0M237 147l2 3M236 147l4 1M235 149l4 0M51 176l1 0M61 169l2 1M62 160h0M61 162l-3 0M139 161l1 1M141 158l-1 1M175 152l-2 0M166 161l1 1M214 153l-4 0M214 175l0 2" stroke="#3a2ca4" stroke-width="5" stroke-opacity="0.88"/><path d="M19 20l-1 0M23 0l0 2M22 24l-3 0M47 29l2 1M33 27l0 3M67 21l0 3M71 6l1 3M74 6l1 1M78 27l2 1M104 11h0M106 16l1 1M137 29l-1 2M200 11h0M225 9l-1 0M227 5l-1 4M27 57l-2 2M21 34l-3 1M90 37l0 2M86 35l-1 3M140 51l-4 2M121 40l-2 4M167 38l1 3M182 51l2 1M235 31l0 1M233 29l2 2M233 32l-1 1M210 56h0M234 30l3 1M234 32l-3 1M18 88l3 0M18 85l-2 4M17 84h0M5 73l1 4M87 66l1 3M69 64h0M115 80l2 2M107 78l1 2M121 87l-3 2M177 73l0 1M179 73l-1 2M191 58l2 3M192 62l-1 1M178 76l3 2M182 75l-1 2M212 68l-3 0M37 106l-1 1M46 109l-2 1M66 113h0M78 113l-1 2M101 106l1 4M105 109l-2 1M102 108l2 4M124 114l-2 0M165 108l2 0M156 114l3 2M159 115l-1 1M160 111l-2 4M160 114l1 1M202 96l0 1M193 98l-1 4M199 91l4 1M197 92h0M202 89l2 3M188 108l-2 2M185 110l-1 1M203 92l-4 1M207 110l3 0M209 113h0M222 110l0 1M223 109l-4 3M9 140l2 2M4 133l0 2M5 138l-3 2M3 140h0M4 139l-2 2M4 134l-1 3M39 124l-1 2M36 131l1 1M69 138h0M68 136l-3 1M59 139l3 1M57 138l3 0M61 135l1 2M113 141l0 3M137 126l0 1M137 124l-1 3M145 123h0M146 121h0M135 121l-1 0M134 122l1 3M119 138l0 1M160 124h0M159 121l1 3M160 130h0M180 144l-4 2M222 126l-1 1M20 175l1 4M89 167l-1 1M90 166l1 1M109 177l0 1M113 179l-3 2M133 177l1 3M180 156l0 1" stroke="#6654cc" stroke-width="4" stroke-opacity="0.88"/><path d="M18 19l-1 1M54 23l-4 1M59 27l1 1M57 24l-1 4M80 4l2 0M63 7l-1 2M89 0l-1 0M91 -1l-1 0M98 15l2 2M99 17l-3 2M99 17l-1 0M102 15l-4 3M132 9l-3 1M132 8l1 0M171 2l3 3M170 3h0M171 1l4 1M179 12l-1 0M178 14l-1 0M160 15h0M182 1l-1 4M183 2l0 4M180 3l-3 1M219 9l0 3M219 13l0 3M219 11l2 2M221 9l2 3M234 29l2 2M212 23l2 0M212 17l-2 2M13 36l-2 2M11 55l-2 2M50 31l2 2M112 40l0 1M108 34l2 2M139 29l-2 1M141 29l0 1M149 58h0M152 56l-3 2M140 31l0 2M146 31l-3 1M183 55l2 3M178 57l0 1M238 28l-2 1M219 59l-2 1M214 34l-1 4M46 69l-2 2M44 69l-2 4M60 85l0 1M109 76h0M98 85l3 1M110 58l4 0M121 84l2 3M124 79l-2 1M171 68l1 1M175 70h0M175 70l-2 3M178 81l1 4M177 80l3 3M153 62l0 3M155 59l-1 4M16 121l-1 1M31 102h0M61 107l1 3M63 107l-2 2M121 109l-2 3M105 105l1 0M126 111l0 4M127 116l3 1M144 116l3 3M178 115l3 0M182 117l-3 0M209 108l1 1M210 109l1 1M214 105l-3 3M215 112l1 1M216 111l3 1M99 150l-1 0M95 146l3 2M113 139l-1 1M111 139h0M95 146l3 0M137 122l0 3M159 128l0 2M181 147l1 1M180 139l0 1M189 128h0M213 147l-2 1M49 181l-1 1M54 162l0 3M43 160l-2 3M41 166l1 0M61 155l-2 0M61 173l-1 0M93 178l4 2M93 176l2 4M126 152l-3 3M171 157h0M190 165l3 3M194 176l0 2" stroke="#5646c4" stroke-width="4" stroke-opacity="0.88"/><path d="M27 24l-1 1M27 26l-3 0M28 27l-1 0M29 23l0 3M37 8l1 2M51 26l4 1M84 28l-2 2M58 14l0 3M60 16l0 4M60 17l0 1M111 11l-4 2M106 30l-1 2M184 14l-2 1M182 10l2 2M189 0l-1 0M214 17h0M213 13h0M11 38l1 0M16 31l1 1M29 50l-3 0M26 52l0 1M28 51l1 2M52 40l-2 4M49 37l-1 1M39 40l3 1M31 54l1 2M60 47l1 3M79 35l0 4M114 32l-2 3M108 42l-3 1M141 54l-1 2M172 52h0M167 48h0M217 34l-1 2M237 61l-3 1M236 56l-1 2M1 65l1 4M51 71l-2 4M86 65l-1 3M89 69l1 0M69 63l-3 2M71 64l0 1M67 59l-2 1M69 65h0M123 59l2 4M158 71l-1 0M175 79l1 1M177 82l-3 1M198 88l4 0M4 109l2 3M5 110l1 2M9 110l-4 1M4 112l0 1M66 100l-1 1M74 111l-1 0M74 109h0M102 105l2 2M159 119l1 1M217 109l-3 1M221 111l-5 0M218 107l-1 4M9 137l4 0M10 132l0 4M40 121l2 2M43 129l1 2M55 132h0M81 131l0 1M105 129l-4 0M118 148h0M180 127l-3 1M232 144l2 1M238 149l0 1M244 147l-1 0M14 158l-2 0M13 156h0M9 159l-4 1M50 166l-3 1M50 169l2 1M51 180l-1 1M49 180l4 1M61 174l0 1M63 174l-1 3M103 179l-1 1M91 163h0M89 162l4 1M90 163l-3 3M103 177l0 4M137 156l2 2M138 156l-2 1M170 158l-1 1M168 150l0 2M168 152h0M214 172l-3 2M235 177l-1 0" stroke="#4a3abc" stroke-width="4" stroke-opacity="0.88"/><path d="M53 14l2 0M78 24l2 4M81 28l0 2M74 28l1 1M130 5l0 1M126 11l0 1M194 10h0M196 10h0M229 12h0M227 12l3 1M4 57l1 0M60 46l2 0M67 46l0 3M61 49l3 1M89 38h0M70 57l-3 1M107 59l-5 1M103 61l3 2M108 32l4 1M127 57l-1 0M179 51l0 5M181 52l2 4M178 52l1 1M177 53l-1 2M172 39l-3 0M168 38l-4 2M174 49l-3 2M175 52l-1 2M180 49l-1 2M183 48l-1 3M61 83l1 1M64 84l-1 1M126 64l-1 1M6 117l3 1M7 116l1 2M5 116l3 0M9 115l-1 1M24 99l1 4M57 109l-1 2M39 115l0 3M37 116l3 3M38 112l0 4M65 102l-4 2M119 108l-2 2M114 109l5 1M113 112h0M138 100h0M161 110l0 1M162 111l-2 0M164 111l-5 1M235 117l0 2M231 120l0 1M233 114l2 2M221 105l-1 0M1 137l1 0M60 143l-1 1M87 129l-2 1M122 133h0M137 140l3 3M138 141l2 2M59 169l1 0M58 167l-1 3M58 169l0 1M47 175l0 1M52 176l0 1M61 170l1 2M62 168l-2 1M59 160l0 3M141 160h0M170 153h0M171 158l-5 0M168 158l0 3M214 177l-1 1" stroke="#3a2ca4" stroke-width="4" stroke-opacity="0.88"/><path d="M26 13l2 1M55 23l2 3M65 15h0M110 57l2 1M112 43l-4 1M144 52l-3 3M224 35l0 1M6 65l-2 3M50 69l-4 1M60 82l2 2M110 61l-2 4M74 109l1 1M211 110l-4 0M2 132l-3 1M238 149l1 2M7 159l3 2M88 159l1 1M103 179l2 1M108 179l0 1M167 147l0 4M212 170l2 3" stroke="#4a3abc" stroke-width="3" stroke-opacity="0.88"/><path d="M5 21l-3 1M13 22l2 1M18 24l2 0M131 12l0 3M129 5h0M205 8l0 3M220 9l1 4M238 27l3 0M12 40l0 1M120 36l-5 1M117 35l1 1M137 30l2 1M126 37l1 0M239 33l-2 0M215 37l-2 2M47 68l-4 1M75 75l-1 2M124 79l-3 1M119 74l-1 1M175 69l0 1M208 75l1 1M234 62l1 0M61 106l0 1M182 117l-3 2M214 112l2 3M225 107l-2 2M115 138l-2 0M160 130h0M180 146l1 2M211 149l2 1M53 164l4 0M57 167l1 4M122 152h0M185 178l1 1" stroke="#5646c4" stroke-width="3" stroke-opacity="0.88"/><path d="M76 0l-1 3M81 30l0 2M75 10l-2 1M178 3h0M185 13l-2 0M185 13h0M218 8l3 3M29 58l2 0M120 43l2 3M171 40h0M221 59l1 1M15 82l-4 2M5 73l0 3M67 64l1 1M108 81l2 1M75 113l2 1M123 114l-2 2M201 95l1 0M200 91l3 0M7 119l1 1M1 132l1 3M116 141l-2 3M140 125l-4 1M143 122l4 2M120 136h0M159 124l1 0M209 150h0M223 126l2 1M87 168l3 0" stroke="#6654cc" stroke-width="3" stroke-opacity="0.88"/><path d="M78 29h0M136 8l-4 0M120 5l1 2M229 11l-1 1M228 12l1 0M2 57l1 1M1 56l-1 3M46 40l1 1M63 49l-3 1M107 58l0 2M169 41l1 0M173 49h0M185 59h0M182 60l-2 3M69 65l0 2M64 85l-3 3M64 85l2 2M112 78l-2 1M151 67l3 1M180 79l1 1M211 76l0 2M59 108l-3 2M114 112l-2 3M116 116l-3 1M233 117l1 3M6 141l3 1M4 142l3 2M90 127l0 3M91 133l1 0M48 175h0M169 155l-2 1M211 152l-1 2M215 175l-1 2" stroke="#3a2ca4" stroke-width="3" stroke-opacity="0.88"/><path d="M1 19h0M15 22h0M27 25h0M47 6h0M38 10h0M64 21h0M64 13h0M63 10h0M86 -2h0M66 14h0M73 4h0M61 17h0M108 13h0M99 15h0M101 13h0M111 28h0M99 17h0M137 31h0M160 12h0M195 14h0M182 7h0M200 12h0M182 14h0M185 12h0M220 11h0M212 16h0M229 12h0M211 21h0M8 58h0M14 37h0M12 37h0M13 39h0M17 32h0M51 31h0M49 42h0M30 55h0M87 35h0M60 42h0M62 49h0M109 60h0M108 36h0M111 36h0M141 56h0M179 53h0M175 55h0M171 41h0M182 51h0M181 56h0M236 31h0M239 31h0M216 34h0M210 37h0M227 58h0M19 89h0M20 89h0M6 74h0M5 65h0M4 60h0M43 68h0M42 69h0M89 66h0M87 67h0M60 85h0M62 85h0M61 84h0M68 65h0M68 65h0M106 79h0M100 85h0M121 79h0M118 60h0M174 63h0M157 72h0M176 69h0M181 66h0M199 88h0M208 76h0M200 89h0M234 61h0M212 64h0M208 85h0M212 70h0M210 76h0M11 121h0M9 109h0M18 98h0M22 101h0M57 109h0M38 118h0M61 105h0M75 114h0M71 113h0M83 118h0M88 120h0M107 105h0M104 109h0M105 109h0M114 113h0M138 101h0M129 120h0M134 114h0M180 117h0M166 109h0M162 111h0M189 108h0M202 97h0M200 91h0M208 114h0M208 106h0M187 107h0M208 109h0M220 104h0M216 114h0M225 107h0M215 109h0M5 137h0M2 139h0M8 133h0M44 131h0M51 131h0M52 129h0M82 131h0M68 135h0M74 129h0M60 137h0M91 133h0M118 141h0M113 140h0M91 152h0M118 147h0M138 127h0M136 120h0M160 131h0M156 130h0M178 145h0M158 131h0M180 148h0M180 139h0M193 127h0M239 150h0M212 151h0M221 126h0M26 179h0M7 159h0M5 158h0M47 167h0M53 163h0M60 168h0M53 178h0M44 168h0M55 168h0M60 156h0M59 169h0M62 174h0M110 179h0M103 180h0M90 162h0M98 176h0M104 180h0M141 162h0M170 157h0M169 160h0M174 155h0M185 178h0M211 153h0M212 173h0" stroke="#2a1e8a" stroke-width="2.6" stroke-opacity="0.75"/><path d="M174 64h0M208 9h0M223 52h0M181 146h0M158 107h0M164 130h0M97 180h0M211 71h0M157 144h0M123 38h0M71 57h0M13 117h0M117 95h0M52 106h0M53 77h0M219 28h0M173 66h0M200 85h0M235 129h0M164 23h0M156 165h0M168 113h0M107 146h0M210 93h0M128 40h0M86 15h0M182 67h0M155 170h0M166 178h0M218 40h0M142 51h0M98 159h0M132 98h0M67 148h0M187 56h0M37 94h0M139 177h0M143 58h0M104 22h0M117 22h0M110 134h0M116 142h0M60 60h0M149 88h0M172 29h0M122 13h0M167 166h0M92 100h0M163 138h0M4 117h0M33 150h0M93 101h0M26 142h0M37 135h0M128 88h0M140 136h0M189 64h0M180 72h0M5 68h0M166 18h0M80 73h0M54 96h0M25 109h0M69 72h0M2 69h0M34 148h0M34 112h0M232 58h0M183 63h0M167 70h0M175 83h0M36 29h0M57 154h0M115 113h0M68 159h0M95 91h0M234 43h0M188 20h0M32 150h0M81 124h0M202 29h0M56 15h0M168 136h0M168 39h0M78 45h0M175 99h0M42 140h0M168 63h0M209 110h0M89 35h0M173 161h0M143 74h0M48 46h0M81 163h0M56 6h0M202 161h0M171 158h0M44 9h0M92 147h0M216 171h0M42 121h0M94 159h0M68 128h0M8 113h0M174 149h0M51 155h0M185 26h0M152 79h0M112 135h0M229 120h0M35 133h0M160 125h0M80 128h0M168 43h0M131 121h0M200 24h0M222 164h0M48 181h0M208 121h0M223 96h0M149 36h0M49 56h0M228 43h0M239 163h0M27 156h0M209 175h0M65 177h0M159 161h0M188 90h0M2 130h0M125 124h0M111 153h0M76 115h0M146 112h0M187 104h0M41 19h0M39 126h0M178 108h0M184 141h0M68 172h0M133 159h0M24 121h0M127 138h0M224 159h0M167 30h0M147 31h0M100 167h0M203 180h0M201 13h0M82 112h0M230 58h0M28 101h0M134 131h0M177 43h0M68 32h0M168 53h0M158 83h0M172 101h0M225 76h0M4 111h0M73 163h0M113 6h0M179 115h0M162 24h0M135 6h0M24 80h0M195 138h0M104 102h0M32 114h0M199 54h0M229 30h0M203 42h0M87 64h0M65 59h0M133 51h0M38 55h0M181 27h0M29 123h0M195 103h0M129 65h0M150 53h0M84 163h0M235 15h0M72 2h0M213 153h0M49 170h0M163 38h0M199 120h0M194 7h0M218 167h0M221 58h0M206 48h0M122 22h0M122 31h0M236 9h0M200 115h0M130 57h0M23 133h0M13 7h0M25 8h0M115 117h0M39 55h0M65 98h0M159 83h0M208 29h0M103 66h0M160 21h0M165 156h0M89 173h0M89 73h0M221 179h0M215 9h0M155 14h0M85 124h0M59 157h0M74 119h0M69 160h0M135 38h0M199 155h0M212 132h0M199 65h0M230 92h0M110 11h0M214 175h0M106 73h0M33 24h0M35 141h0M23 97h0M161 100h0M163 83h0M111 165h0M86 145h0M22 35h0M201 177h0M109 17h0M77 71h0M12 110h0M43 49h0M86 121h0M148 81h0M57 45h0M173 79h0M67 11h0M83 103h0M178 9h0M183 108h0M12 58h0M89 40h0M209 53h0M10 78h0M65 139h0M26 137h0M145 146h0M218 128h0M140 30h0M177 59h0M123 86h0M86 167h0M75 16h0M129 59h0M164 8h0M98 146h0M225 41h0M223 125h0M60 156h0M188 82h0M214 92h0M139 104h0M219 58h0M23 152h0M87 58h0M158 113h0M78 142h0M91 176h0M234 84h0M224 62h0M122 153h0M176 14h0M201 153h0M59 38h0M208 126h0M68 132h0M145 20h0M149 20h0M174 98h0M144 37h0M51 37h0M45 161h0M8 27h0M21 26h0M201 84h0M102 53h0M130 175h0M46 159h0M42 163h0M178 55h0M99 156h0M76 67h0M151 133h0M213 181h0" stroke="#3a3450" stroke-width="1.8" stroke-opacity="0.8"/></g>
</g>
<g clip-path="url(#cp12)">
<rect x="168.6" y="462.7" width="119.8" height="90.3" fill="#f4f4f4"/>
<g transform="translate(168.6 462.7) scale(.5)" fill="none" stroke-linecap="round"><path d="M70 27l0 7M1 74l0 1" stroke="#3a30d8" stroke-width="6" stroke-opacity="0.88"/><path d="M20 11l0 8M20 8l-3 3M43 29l6 0M17 55l-5 1M56 45l-7 1M70 34l-1 1M173 40l3 6M173 42l-1 0M0 75l-4 3M180 72l-5 2M209 75l6 3M212 75l1 1M234 106l-1 3M111 127l2 1M69 175l-1 1M238 160l-1 3" stroke="#5a4ed8" stroke-width="5" stroke-opacity="0.88"/><path d="M32 25l6 1M39 27l1 3M73 3l8 0M154 3l5 1M114 38l-5 2M39 66l1 4M39 68l5 2M89 61l-2 4M156 69l6 3M157 65l1 6M52 117l-4 5M178 100l-5 1M226 117l6 2M208 119l8 0M214 93l3 3M52 124l-2 1M46 128l6 1M49 169l4 6M213 149l-3 7" stroke="#4a3ed0" stroke-width="5" stroke-opacity="0.88"/><path d="M99 25l3 6M218 9l-1 0M217 6l8 1M49 56l-2 1M87 47l-3 2M148 45l-4 3M228 56l1 1M-1 73l2 4M128 66l0 2M158 75l2 0M182 88l1 2M184 77l-1 8M212 76l0 7M173 95l-2 3M163 139l4 0M222 118l4 5M225 120l0 2M28 172l4 3M219 168l-1 2" stroke="#3a30d8" stroke-width="5" stroke-opacity="0.88"/><path d="M37 75l6 1M5 92l1 3M36 90l-1 2M114 109l-2 8M10 148l0 2M149 126l1 2M26 158l-3 2M103 161l0 6M103 171l-1 3M196 176l2 0M197 174l3 0" stroke="#2e24c0" stroke-width="5" stroke-opacity="0.88"/><path d="M3 10l4 6M140 30l3 1M13 36l0 2M14 32l-1 8M182 50l4 2M45 80l-1 0M5 89l-1 6M211 129l2 0M105 172l-3 2M95 162l-1 1M140 175l-1 2M140 172l-2 7M206 154l-2 0" stroke="#2e24c0" stroke-width="4" stroke-opacity="0.88"/><path d="M12 4l3 1M15 2l1 7M40 26l-5 5M44 27l0 5M134 8l-1 4M147 25l-7 4M146 26l-5 1M203 10l-1 1M206 10l-6 2M76 42l4 2M114 37l-6 5M95 47l1 7M98 48l-3 1M236 41l-2 4M233 42l2 2M26 84l2 2M36 59l-2 3M83 114l3 2M82 114l4 4M175 101l1 2M68 150l1 1M67 147l1 7" stroke="#4a3ed0" stroke-width="4" stroke-opacity="0.88"/><path d="M98 28l3 1M10 51l-1 2M95 54l-2 4M145 45l3 6M229 53l-5 1M17 60l-2 5M20 63l-7 4M89 84l3 3M162 71l-5 6M180 85l2 6M187 82l-6 1M215 78l-4 3M6 102l6 4M106 106l-2 3M145 96l0 2M196 146l-1 1M210 139l3 3M25 151l3 2M159 159l1 1M202 153l1 5" stroke="#3a30d8" stroke-width="4" stroke-opacity="0.88"/><path d="M57 46l2 1M228 45l-2 1M226 43l1 3M1 70l-1 8M203 72l0 7M201 77l2 1M235 67l-1 2M99 110l2 1M231 106l3 1" stroke="#5a4ed8" stroke-width="4" stroke-opacity="0.88"/><path d="M76 2l1 2M88 60l-1 8M49 117l-1 1M229 116l0 3M211 120l2 1M214 92l1 3M96 175l4 1" stroke="#4a3ed0" stroke-width="3" stroke-opacity="0.88"/><path d="M142 28l2 4M43 75l-5 4M42 116l-3 1M111 111l1 3M198 96l-3 4M96 161l4 2" stroke="#2e24c0" stroke-width="3" stroke-opacity="0.88"/><path d="M9 37l0 6M8 103l2 0M15 116l1 1M101 106l8 1M167 134l-3 1M214 139l-3 5M215 146l-2 0M32 172l-3 0M219 166l2 3" stroke="#3a30d8" stroke-width="3" stroke-opacity="0.88"/><path d="M173 94l-2 0M14 168l2 1M31 153l2 3M71 175l0 6" stroke="#5a4ed8" stroke-width="3" stroke-opacity="0.88"/><path d="M7 12h0M45 29h0M143 27h0M144 31h0M158 3h0M8 51h0M8 40h0M52 47h0M68 34h0M173 43h0M226 45h0M225 54h0M27 86h0M42 78h0M39 68h0M45 80h0M34 61h0M88 63h0M160 70h0M157 74h0M181 89h0M237 66h0M212 79h0M9 103h0M50 118h0M40 117h0M35 92h0M102 109h0M235 109h0M209 119h0M195 146h0M25 151h0M103 163h0M104 173h0M99 164h0M159 160h0M212 153h0" stroke="#2a1e8a" stroke-width="2.6" stroke-opacity="0.75"/><path d="M77 38h0M118 160h0M137 32h0M224 36h0M193 136h0M227 172h0M155 122h0M197 160h0M77 147h0M137 111h0M89 109h0M104 42h0M147 42h0M108 154h0M170 17h0M230 17h0M54 6h0M205 55h0M18 61h0M153 58h0M5 65h0M153 139h0M222 169h0M129 44h0M80 160h0M151 102h0M190 70h0M96 104h0M38 145h0M183 53h0M160 63h0M39 5h0M77 62h0M199 104h0M224 132h0M68 78h0M209 43h0M41 36h0M167 176h0M210 157h0M64 168h0M84 60h0M78 165h0M78 145h0M59 135h0M222 85h0M165 149h0M56 114h0M72 12h0M19 99h0M27 77h0M155 68h0M182 37h0M184 125h0M49 81h0M2 117h0M48 173h0M12 110h0M98 74h0M195 77h0M166 155h0M206 135h0M235 166h0M108 23h0M29 27h0M160 95h0M117 29h0M96 49h0M14 88h0M49 60h0M104 73h0M52 135h0M229 110h0M221 161h0M7 129h0M236 49h0M175 102h0M234 92h0M210 83h0M13 94h0M93 12h0M73 34h0M216 161h0M129 164h0M96 119h0M163 176h0M167 51h0M127 144h0M188 45h0M228 96h0M195 172h0M199 30h0M108 19h0M52 19h0M59 18h0M173 174h0M172 153h0M152 89h0M106 6h0M180 24h0M213 47h0M112 113h0M108 79h0M239 146h0M39 120h0M177 53h0M27 98h0M93 78h0M158 16h0M140 152h0M191 129h0M42 57h0M79 178h0M204 101h0M55 127h0M222 174h0M217 45h0M235 127h0M192 27h0M224 163h0M163 123h0M136 62h0M195 131h0M168 106h0M195 80h0M185 128h0M219 75h0M228 39h0M124 91h0M227 120h0M77 30h0M117 68h0M80 69h0M149 123h0M25 20h0M177 82h0M196 31h0M208 131h0M150 168h0M40 106h0M237 26h0M60 134h0M61 134h0M0 20h0M148 54h0M179 120h0M134 8h0M98 19h0M104 55h0M50 50h0M226 45h0M199 20h0M154 75h0M97 30h0M165 52h0M96 60h0M124 38h0M42 146h0M151 141h0M175 52h0M228 100h0M0 111h0M182 8h0M164 68h0M44 89h0M176 148h0M223 82h0M28 129h0M96 113h0M134 86h0M151 128h0M226 102h0M90 107h0M235 61h0M3 13h0M197 174h0M109 24h0M65 88h0M181 110h0M201 178h0M77 65h0M16 176h0M222 70h0M225 144h0M184 134h0M166 100h0M61 75h0M78 113h0M59 155h0M90 20h0M112 178h0M152 61h0M16 10h0M27 157h0M143 111h0M6 75h0M61 142h0M95 43h0M237 7h0M23 123h0M214 59h0M74 31h0M110 117h0M104 2h0M75 115h0M71 125h0M230 79h0M236 4h0M64 12h0M193 65h0M70 39h0M177 1h0M168 15h0M223 112h0M113 7h0M3 74h0M175 122h0M131 47h0M183 113h0M188 156h0M216 34h0M166 144h0M154 86h0M129 14h0M164 145h0M208 63h0M216 76h0M197 148h0M102 117h0M135 157h0M3 26h0M239 152h0M239 119h0M238 135h0M42 129h0M222 171h0M149 165h0M203 6h0M49 170h0M234 62h0M13 140h0M107 178h0M201 20h0M129 91h0M2 165h0M101 73h0M94 138h0M229 36h0M202 102h0M127 8h0M57 159h0M200 92h0M173 40h0M191 139h0M219 88h0M38 130h0M205 132h0M170 144h0M149 21h0M2 79h0M200 55h0M130 65h0M143 65h0M74 96h0M65 170h0M225 67h0M53 137h0M101 147h0M6 141h0M149 157h0M11 18h0M204 144h0M57 110h0M200 82h0M161 15h0M26 176h0M134 10h0M46 15h0M168 15h0M89 68h0M233 55h0M63 89h0M184 177h0M139 12h0M200 14h0M104 60h0M197 73h0M108 1h0M63 180h0M9 10h0M151 101h0M49 28h0M145 36h0M81 37h0M203 144h0M203 79h0M94 89h0M46 174h0M55 146h0M161 26h0M207 118h0M52 47h0M113 133h0M194 164h0M100 67h0M157 84h0M91 171h0M210 17h0M69 6h0M70 9h0M218 80h0M43 60h0M151 49h0M16 27h0M123 48h0M87 79h0M204 40h0M48 86h0M166 121h0M62 148h0M0 122h0M48 37h0M28 175h0M96 172h0M221 62h0M189 32h0M126 171h0M174 136h0M182 5h0M200 18h0M106 127h0M161 126h0M233 58h0M13 136h0M102 177h0M130 48h0M169 60h0M216 49h0M132 38h0M206 54h0M40 10h0M227 162h0M95 19h0M52 99h0M15 30h0M11 105h0M34 51h0M217 100h0M58 134h0M195 142h0M225 52h0M145 74h0M194 25h0M232 163h0M65 89h0M134 93h0M105 22h0M222 115h0M221 141h0M53 39h0M40 52h0M57 103h0M43 84h0M170 146h0M104 169h0M83 140h0M190 166h0M129 147h0M192 51h0M178 137h0M91 77h0M112 88h0M130 178h0M178 144h0M138 174h0M58 34h0M211 135h0M11 138h0M167 85h0M78 50h0M231 4h0M195 3h0M84 3h0M164 130h0M114 112h0M5 157h0M43 99h0M99 114h0M225 93h0M45 44h0M66 80h0M219 178h0M162 145h0M237 35h0M41 169h0M197 161h0M86 60h0M232 22h0M142 59h0M7 155h0M142 120h0M147 18h0M87 16h0M58 116h0M173 29h0M150 3h0M169 137h0M78 155h0M74 104h0M50 114h0M160 44h0M155 53h0M71 141h0M233 172h0M236 6h0M33 24h0M45 114h0M206 90h0M203 86h0M8 91h0" stroke="#1a1a40" stroke-width="1.8" stroke-opacity="0.95"/></g>
</g>
<g clip-path="url(#cp13)">
<rect x="295.8" y="462.7" width="120" height="90.3" fill="#f6f6f4"/>
<g transform="translate(295.8 462.7) scale(.5)" fill="none" stroke-linecap="round"><path d="M22 10l0 1M181 19l1 0M222 7l-2 0M29 39l1 3M32 59l-1 0M130 49l-1 1M193 67l4 3M99 102l2 2M27 151l1 4M48 177l1 3" stroke="#4a3ee0" stroke-width="6" stroke-opacity="0.88"/><path d="M138 2l-6 0M155 82l2 1M230 65l0 1M36 96l-1 3M37 95l-4 3M221 91l-1 2M23 149l0 1M20 148l4 1M4 149l4 3M40 129l1 6M194 127l-5 2M53 179l-4 3M183 154l-4 1M221 162l4 3M220 162l3 1" stroke="#3a30d0" stroke-width="6" stroke-opacity="0.88"/><path d="M221 3l-2 0M33 63l-1 0M6 88l3 4M40 101l0 5M199 118l3 1M220 90l3 2M178 160l-2 3M221 167l-5 3" stroke="#8a60d8" stroke-width="6" stroke-opacity="0.88"/><path d="M130 89l1 1M6 112l2 4M95 103l-1 3M223 118l-3 4M99 142l-2 4M214 138l0 1M22 167l0 3" stroke="#6a50d8" stroke-width="6" stroke-opacity="0.88"/><path d="M14 5l1 4M75 5l-2 1M78 21l2 1M79 21l-4 4M34 66l-2 1M240 61l-5 1M240 61l-4 1M231 67l-1 0M220 90l4 2M168 123l-4 2M51 178l0 1M181 152l-3 3M235 165l1 2" stroke="#3a30d0" stroke-width="5" stroke-opacity="0.88"/><path d="M80 16l1 5M194 57l1 0M237 44l3 4M91 75l0 1M87 74l2 5M203 74l-2 5M30 103l-1 3M214 118l2 0M188 134l-1 1M187 131l1 5M217 144l0 6M19 167l0 2M223 166l-5 0" stroke="#6a50d8" stroke-width="5" stroke-opacity="0.88"/><path d="M103 7l-4 4M54 37l-2 4M47 52l2 5M81 56l-1 5M157 49l-2 4M224 48l1 0M222 48l2 1M28 61l4 4M136 72l-2 1M72 113l2 1M222 92l1 2M5 144l1 1M6 148l4 1M60 141l2 2M79 173l-2 4M78 180l1 1M199 152l-2 2" stroke="#8a60d8" stroke-width="5" stroke-opacity="0.88"/><path d="M192 18l-4 3M27 58l-3 5M236 74h0M42 95l-3 0M170 113l0 1M205 99l-2 1M202 95l-2 5M200 94l1 4M149 148l1 3M48 176l-4 2" stroke="#4a3ee0" stroke-width="5" stroke-opacity="0.88"/><path d="M25 3l2 1M49 51l0 3M183 44l-2 2M180 44l5 2M12 118l-3 2M11 117l3 2M37 102l6 0M65 140l-4 0M103 143l-3 0M184 135l-4 3M21 168l4 4M75 175l4 2M239 166l-5 2M218 168l-3 0" stroke="#8a60d8" stroke-width="4" stroke-opacity="0.88"/><path d="M15 -2l-1 5M78 22l2 1M227 5l-3 0M199 38l5 2M228 30l-4 2M4 115l5 1M30 103l-1 0M136 98l2 3M137 97l1 2M218 119l3 2M230 128l-4 0M144 153l-4 4M205 179l-4 1" stroke="#6a50d8" stroke-width="4" stroke-opacity="0.88"/><path d="M22 6l1 3M177 18l3 2M191 16l-1 5M215 0l1 1M29 39l-3 3M27 51l-4 0M182 35l-5 3M175 36l6 0M195 66l1 4M181 70l-2 2M179 70l4 1M229 69l1 0M168 116l-3 4M222 140l-2 4M232 144l2 5M234 147l-1 1M49 157l2 2M65 165l1 4M66 166l0 1M165 168l0 4M164 170l2 5M178 159l5 2" stroke="#4a3ee0" stroke-width="4" stroke-opacity="0.88"/><path d="M76 3l0 1M132 4l6 2M182 13l-4 1M211 1l3 2M235 1l2 0M101 33l3 1M151 60l4 0M152 57l0 3M72 79l-3 1M228 62l1 5M229 63l-2 1M27 103l0 4M106 95l1 1M207 139l0 2M204 140l3 0M96 159l-1 1M234 166l0 1" stroke="#3a30d0" stroke-width="4" stroke-opacity="0.88"/><path d="M14 6l-2 0M39 7l1 1M30 64l1 2M143 79l1 4M110 93l1 6M231 101l-1 5M164 122l-1 4M187 125l0 3" stroke="#3a30d0" stroke-width="3" stroke-opacity="0.88"/><path d="M29 -1l-2 2M219 1l-2 3M82 174l-4 4M237 167l1 4" stroke="#8a60d8" stroke-width="3" stroke-opacity="0.88"/><path d="M190 16l3 3M32 59l4 1M127 50l2 0M237 71l4 2M99 145l4 1M179 144l4 0M45 159l4 4" stroke="#4a3ee0" stroke-width="3" stroke-opacity="0.88"/><path d="M225 70l-2 3M141 157l0 1" stroke="#6a50d8" stroke-width="3" stroke-opacity="0.88"/><path d="M21 10h0M14 7h0M41 8h0M135 6h0M182 20h0M213 1h0M235 3h0M33 57h0M104 35h0M201 39h0M71 79h0M91 75h0M131 91h0M195 69h0M229 66h0M28 104h0M36 97h0M220 91h0M220 120h0M6 144h0M187 134h0M208 139h0M217 147h0M51 160h0M166 169h0M202 178h0" stroke="#2a1e8a" stroke-width="2.6" stroke-opacity="0.75"/><path d="M9 15h0M173 85h0M168 148h0M144 120h0M55 52h0M162 66h0M26 114h0M4 78h0M60 33h0M39 177h0M172 5h0M81 10h0M218 159h0M93 164h0M130 133h0M12 87h0M225 124h0M117 117h0M222 98h0M42 8h0M6 81h0M82 88h0M171 71h0M125 86h0M58 8h0M206 86h0M189 132h0M162 75h0M114 143h0M171 13h0M136 61h0M227 167h0M41 26h0M106 39h0M3 76h0M76 64h0M96 34h0M53 135h0M71 171h0M90 121h0M135 136h0M221 4h0M156 0h0M18 65h0M213 63h0M161 144h0M88 60h0M168 126h0M172 107h0M203 178h0M231 2h0M95 65h0M1 171h0M9 65h0M117 17h0M115 163h0M198 32h0M60 25h0M138 159h0M51 16h0M73 83h0M113 69h0M147 26h0M98 108h0M205 113h0M113 2h0M205 167h0M59 180h0M159 155h0M44 131h0M121 78h0M123 87h0M143 82h0M48 139h0M124 92h0M123 149h0M18 5h0M48 147h0M52 85h0M239 88h0M51 71h0M29 159h0M35 71h0M13 131h0M33 154h0M240 68h0M81 153h0M183 106h0M119 83h0M79 7h0M33 80h0M169 64h0M9 10h0M17 44h0M138 8h0M159 83h0M21 88h0M139 122h0M15 86h0M25 119h0M211 44h0M232 56h0M100 101h0M18 16h0M61 84h0M109 2h0M79 46h0M38 136h0M3 63h0M101 111h0M137 94h0M15 18h0M71 14h0M130 180h0M73 23h0M73 79h0M47 157h0M205 2h0M25 180h0M83 87h0M89 35h0M193 47h0M188 67h0M5 129h0M116 46h0M90 127h0M161 12h0M46 99h0M70 20h0M217 177h0M200 152h0M125 115h0M135 29h0M36 85h0M187 129h0M35 64h0M235 90h0M23 22h0M222 29h0M159 72h0M99 124h0M175 134h0M125 42h0M39 23h0M36 156h0M12 79h0M12 168h0M110 83h0M157 95h0M43 136h0M18 102h0M217 142h0M7 8h0M110 26h0M238 149h0M233 126h0M149 120h0M81 145h0M176 113h0M36 82h0M188 176h0M225 31h0M184 137h0M6 81h0M122 143h0M183 99h0M75 75h0M218 92h0M153 54h0M52 77h0M104 126h0M121 120h0M39 82h0M154 157h0M118 111h0M69 40h0M49 161h0M72 110h0M120 142h0M160 113h0M216 34h0M88 108h0M186 69h0M114 158h0M159 109h0M64 56h0M122 87h0M182 65h0M15 7h0M136 87h0M20 94h0M131 62h0M31 102h0M190 86h0M192 116h0M185 59h0M111 97h0M60 90h0M186 16h0M120 45h0M11 107h0M11 32h0M225 90h0M55 35h0M27 171h0M136 128h0M90 103h0M75 68h0M24 73h0M67 47h0M201 4h0M72 51h0M24 85h0M94 140h0M202 130h0M54 164h0M122 132h0M19 31h0M7 39h0M229 177h0M4 66h0M157 135h0M145 65h0M215 138h0M8 78h0M39 35h0M193 131h0M82 169h0M209 63h0M105 90h0M234 37h0M150 51h0M163 26h0M36 145h0M126 20h0M110 121h0M94 48h0M141 83h0M34 143h0M76 97h0M214 75h0M89 163h0M128 154h0M194 21h0M229 99h0M186 100h0M33 133h0M79 46h0M94 161h0M138 98h0M21 131h0M1 37h0M26 142h0M223 10h0M9 41h0M199 95h0M117 26h0M100 111h0M168 143h0M59 90h0M20 152h0M33 32h0M190 144h0M94 106h0M130 27h0M80 34h0M156 169h0M179 140h0M168 43h0M70 82h0M202 102h0M201 124h0M135 34h0M27 177h0M219 69h0M218 138h0M94 154h0M66 26h0M46 144h0M218 126h0M213 77h0M26 113h0M76 93h0M104 130h0M130 166h0M137 178h0M91 170h0M87 107h0M188 102h0M20 166h0M17 163h0M127 140h0M149 155h0M209 145h0M128 37h0M56 176h0M73 128h0M3 11h0M172 102h0M53 18h0M207 53h0M186 40h0M225 76h0M228 45h0M40 141h0M132 162h0M200 45h0M101 24h0M150 169h0M62 3h0M149 152h0M137 36h0M126 115h0M157 30h0M89 35h0M118 109h0M73 163h0M227 37h0M183 113h0M198 51h0M149 161h0M129 122h0M101 44h0M185 71h0M40 159h0M185 55h0M60 103h0M190 18h0M230 135h0M38 0h0M174 98h0M73 52h0M175 5h0M16 10h0M101 107h0M139 158h0M168 65h0M108 60h0M209 136h0M66 94h0M15 129h0M57 129h0M103 70h0M20 159h0M137 49h0M151 111h0M53 129h0M104 115h0M29 142h0M12 33h0M9 106h0M24 161h0M134 127h0M19 59h0M136 160h0M135 2h0M49 61h0M123 24h0M116 121h0M181 168h0M238 168h0M66 161h0M134 101h0M234 106h0M12 98h0M165 54h0M165 78h0M215 156h0M36 88h0M229 91h0M221 44h0M28 54h0M156 81h0M197 161h0M115 46h0M74 79h0M1 156h0M96 87h0M233 96h0M14 103h0M12 95h0M91 22h0M228 31h0M80 125h0M50 85h0M141 85h0M153 133h0M163 79h0M44 124h0M8 30h0M114 124h0M155 171h0M74 157h0M167 154h0M113 26h0M80 159h0M219 83h0M43 94h0M152 140h0M112 92h0M121 63h0M25 4h0M20 139h0M45 46h0M6 10h0M201 9h0M79 98h0M3 142h0M86 162h0M175 56h0M133 161h0M221 46h0M21 116h0M240 42h0M205 123h0M213 14h0M201 131h0M195 54h0M50 12h0M46 86h0M34 81h0M210 150h0M136 41h0M239 149h0M175 77h0M233 97h0M155 33h0M15 133h0M100 74h0M206 147h0M36 91h0M43 6h0M72 129h0M100 40h0M14 59h0M94 162h0M187 147h0M21 140h0M43 150h0M46 14h0M222 165h0M203 121h0M23 150h0M183 83h0M106 177h0M110 46h0M156 167h0M81 116h0M52 117h0M64 34h0M223 169h0M71 159h0M225 66h0M4 18h0M162 19h0M7 48h0M198 123h0M19 1h0M184 31h0M222 2h0" stroke="#2a2a90" stroke-width="1.8" stroke-opacity="0.95"/></g>
</g>
<g clip-path="url(#cp14)">
<rect x="42" y="559.6" width="119.6" height="90.1" fill="#fbf8f0"/>
<g transform="translate(42 559.6) scale(.5)" fill="none" stroke-linecap="round"><path d="M29 7l-1 1M44 25h0M38 13l1 3M74 7l2 2M66 1l-1 1M99 11l-1 1M103 29l1 1M111 8h0M89 23l2 2M101 3l2 2M123 25l2 0M147 7l-1 3M145 13l-2 1M154 23l-1 1M174 4l1 0M168 5l-3 0M150 6l1 0M169 1l0 1M208 25l-3 0M28 49h0M49 58l4 1M34 49l1 1M71 44l-3 2M79 58h0M143 33l-2 2M143 54l-2 1M120 40l1 2M148 44l-3 0M141 44l-1 0M125 37l0 1M139 50l-1 2M173 47l-2 3M151 41l-2 0M174 53l-1 2M201 32l-1 3M188 57l2 0M186 53l3 0M238 58l0 2M228 59l2 1M15 83l3 2M50 66l-1 2M66 64h0M70 64l-1 1M71 67l1 3M93 68l3 1M107 67l1 2M91 85l-2 1M118 63l0 1M148 71l0 1M140 78l0 2M146 71l1 0M134 76l1 0M132 69h0M149 70l3 2M175 75l1 0M197 62l1 1M229 89l3 2M233 86l-2 0M229 61l1 2M234 77l0 1M34 109l-1 1M29 113l2 1M32 113l1 2M77 115l-1 2M78 97l2 0M86 95l0 1M89 94l-2 1M68 118l3 2M99 106l0 1M141 105l1 1M128 108l-2 2M134 103l-2 2M168 92h0M179 110l1 2M170 94l-1 1M200 103l0 1M184 120l-1 0M193 93l-3 1M237 109l1 1M225 92h0M238 106l-1 3M231 109l-1 1M231 91l1 1M231 109h0M240 106l-2 3M32 127l1 0M44 129l2 1M29 132l2 1M36 145l2 3M86 129l-3 0M96 140h0M98 140l-2 3M97 141l-1 2M114 132l-1 4M119 149l0 1M97 142h0M114 120l-2 1M115 125l-2 2M104 125l-2 0M138 138l-2 2M127 130l-1 0M147 132l-1 0M134 129l-2 1M171 122h0M192 126h0M179 139l1 2M186 134l1 0M216 144l2 2M213 148l1 2M213 135h0M86 171l-3 1M87 172l-2 3M87 165l1 2M99 178l1 1M133 153l3 2M140 153l0 2M168 160l3 2M197 166l2 1M198 162l-1 1M232 154l-1 2M224 152l-2 0M229 169l1 2" stroke="#c0a8ec" stroke-width="7.8" stroke-opacity="0.35"/><path d="M21 8l3 1M23 18l-1 1M37 22l3 0M59 10l0 3M46 28l-3 2M69 7l-1 1M62 22l1 1M85 3l-2 2M91 19l2 3M103 13l0 1M135 11h0M176 7l-3 2M150 16l1 2M160 4h0M187 1l-2 0M180 18l2 1M186 1l-1 1M227 17l-1 3M18 56l-1 3M38 44l2 3M68 39l3 1M69 41l-1 1M149 50l1 3M167 44l2 2M154 35l1 3M160 52l2 1M168 38l0 2M153 44l-2 0M170 37l0 3M167 46h0M181 53l-2 3M184 55l0 1M188 52l-2 4M198 42l-3 2M182 51l3 0M54 64l1 0M68 70l0 3M71 69h0M71 72l0 2M76 60l0 1M101 64l2 1M107 72h0M96 70l-1 3M92 88l0 3M109 64l1 0M115 89l4 1M142 64l0 1M126 86l-1 3M169 85h0M178 80l1 2M172 82h0M187 65h0M184 60l1 1M206 75l-1 1M199 75l3 2M194 69l1 2M51 114l-1 1M60 106l-4 1M82 101l0 1M88 92l-1 1M98 106h0M113 98l2 1M112 99l-3 2M113 91h0M130 103l0 2M164 100l-2 2M174 96l0 2M179 107l1 2M160 99l-3 1M157 101h0M201 100l2 3M196 99h0M201 103h0M198 94l3 2M21 146l0 1M11 143l-3 0M50 149l0 1M45 147l-1 4M83 120l1 1M76 127l-2 2M75 131l1 2M67 142l-1 0M76 133l4 0M103 134l0 1M115 126l1 0M119 146l-2 3M128 127l0 1M172 138l-1 0M176 129l-3 2M178 123h0M153 126l1 3M216 133l0 1M222 146l-2 3M227 144l2 3M237 124l1 1M230 149l-1 0M210 139l1 1M27 167l1 1M40 162l0 2M56 155l-4 1M84 168l1 4M91 159l-3 0M87 169l0 1M85 160l-1 2M115 157l-3 0M98 173l-2 1M114 157l3 1M112 166h0M101 167l-1 0M130 161l0 2M122 152l1 2M149 177l0 2M160 154l0 1M175 162l-2 3M174 159l-2 2M153 170l1 1M178 169l0 2M199 177l1 0M228 159l-2 0M218 151l1 1M233 159l1 1M211 174l-1 2" stroke="#c0a8ec" stroke-width="6.8" stroke-opacity="0.35"/><path d="M37 10l0 2M33 1l1 1M83 15l-1 3M112 3l2 1M103 3h0M150 19l2 3M191 13l0 1M224 22l0 1M220 11l-1 0M240 21l-3 1M21 52l-1 1M3 35l1 1M14 59l0 1M50 50l-2 4M47 40l3 0M67 33l-1 3M107 41l-4 0M126 32l4 0M134 47l0 1M123 56l1 2M179 45h0M184 47l0 2M200 30l2 1M194 56l1 2M225 39l-2 1M228 57l3 2M19 83l1 2M47 67l3 3M64 62h0M112 67l-4 1M105 64h0M113 75l-1 0M144 73l-3 0M159 68l0 1M151 69l2 0M209 74l1 3M188 65h0M202 79l0 2M192 62l0 1M191 65l-1 3M228 84l-3 0M6 90l3 1M74 103l1 0M86 109l0 1M91 115h0M100 112l-1 0M108 112l-2 3M128 100l1 2M169 91l-3 3M162 102l1 1M198 100l0 2M191 101l1 1M25 149l1 2M26 122l-1 2M24 128l2 0M57 131l-2 2M71 146l3 2M76 123l1 1M110 126l-1 1M109 123l3 1M139 127l-4 0M168 147l-1 3M172 129h0M211 139l-1 3M212 142l-3 3M16 167l3 0M51 176h0M37 156l-1 2M38 156l1 1M94 162l1 4M93 165h0M123 150l2 3M176 159l-1 2M208 180l-3 0M232 152l2 2" stroke="#c0a8ec" stroke-width="5.8" stroke-opacity="0.35"/><path d="M7 27l1 1M44 25h0M43 23h0M42 25l2 0M73 18l-1 0M80 4l-3 1M101 3l2 2M145 13l-2 1M174 0h0M150 6l1 0M152 7l-1 1M169 1l0 1M168 -2l0 1M201 3h0M20 56l2 3M28 49h0M28 48h0M19 50l0 3M13 61l1 0M47 45l0 2M79 58h0M80 57l-3 2M107 36l-2 3M143 33l-2 2M139 46l-1 3M120 40l1 2M141 44l-1 0M137 46l3 1M125 37l0 1M173 47l-2 3M163 53l-2 3M208 32l-1 1M19 79l0 4M50 66l-1 2M51 66l1 3M72 70l-3 0M71 71l0 1M71 67l1 3M66 74h0M93 68l3 1M139 71l3 1M134 76l1 0M126 85l-1 3M169 86l0 2M170 84l0 4M175 73h0M197 62l1 1M198 63l-2 2M200 75l1 2M229 89l3 2M234 90l0 2M229 80l-3 2M8 90l1 1M77 115l-1 2M83 116l-3 0M68 118l3 2M71 120h0M103 110l1 2M101 115h0M113 102h0M140 115h0M140 113l1 1M204 102l-3 3M203 100l0 1M193 93l-3 1M225 92h0M231 109h0M19 127l1 0M21 126l-1 2M22 124l1 4M27 147h0M41 131l0 3M85 132h0M100 141l0 1M97 138h0M114 132l-1 4M120 133l-3 2M112 127h0M114 120l-2 1M139 129l-2 1M171 122h0M193 127l-1 1M197 137l2 2M182 123l2 1M197 120h0M213 148l1 2M210 147h0M211 142h0M41 166h0M77 153l0 1M80 162h0M87 165l1 2M86 166l3 1M87 164l-2 3M133 157l-2 2M145 173l1 0M146 174l0 3M168 160l3 2M198 162l-1 1M232 154l-1 2M224 152l-2 0M227 153l-1 3" stroke="#7a5cc8" stroke-width="5" stroke-opacity="0.88"/><path d="M24 7l1 1M23 9l3 1M42 13l3 1M84 9l-1 0M73 17l3 0M101 -1l0 3M147 7l-1 3M171 1l1 1M174 4l1 0M175 2l2 1M1 36l-2 2M49 58l4 1M71 44l-3 2M77 58l-2 3M79 60l-2 0M85 44l1 2M87 46l2 0M86 47l0 1M160 55l-1 3M151 44l-1 1M180 48l1 1M238 58l0 2M20 71l-1 1M54 64l-1 3M66 64h0M89 82l-3 0M116 66h0M94 91l-1 1M96 66h0M132 69h0M121 87h0M228 85l-3 2M234 77l0 1M29 99l-3 1M19 96l4 2M55 95l1 0M54 91l-1 0M81 99l-1 1M82 98l1 1M86 95l0 1M128 92l2 0M145 107l-1 2M142 116l-1 4M197 94l0 1M231 91l1 1M231 89l2 2M46 132h0M54 124l0 2M48 122l0 4M82 141l-2 3M79 142l1 1M86 129l-3 0M96 140h0M192 126h0M11 174l2 2M26 166l0 4M44 169l-2 0M41 161h0M86 171l-3 1M73 150l-3 2M68 156l4 0M99 178l1 1M141 153l1 2M141 153l-1 1M140 153l0 2M200 179h0M218 175l2 1M222 176l-2 3" stroke="#5a40b4" stroke-width="5" stroke-opacity="0.88"/><path d="M29 7l-1 1M30 10l-2 1M58 10l3 3M61 12l-1 0M63 20l-2 3M69 3l0 2M89 23l2 2M124 29h0M126 28l-1 1M143 0l-2 1M143 0l2 2M154 23l-1 1M176 10l-1 0M208 25l-3 0M208 27l2 0M181 17l-1 2M240 21h0M238 22l1 1M24 60l2 1M27 58h0M38 33l-1 0M34 49l1 1M34 50l0 1M64 44l2 3M133 37l0 1M143 54l-2 1M148 49l2 1M140 51l2 1M139 50l-1 2M140 52l1 0M174 53l-1 2M188 57l2 0M188 54l0 1M180 55l1 3M234 56l2 1M236 56l2 1M238 32l-1 2M240 34l2 3M228 59l2 1M231 52l-1 1M69 66l-1 0M70 64l-1 1M113 74h0M91 85l-2 1M90 82l1 0M148 71l0 1M146 71l1 0M145 71l2 1M160 68l0 3M177 82l1 0M180 80l-2 0M201 67l2 2M201 75l1 4M193 61l-2 2M233 86l-2 0M51 115l0 2M32 113l-2 2M27 116h0M31 110l1 2M89 94l-2 1M72 116h0M93 106l-1 1M91 105l-2 3M95 102l3 1M141 105l1 1M129 110l3 1M130 109l1 2M131 108l0 4M130 101l-1 2M168 92h0M179 110l1 2M181 112h0M202 106l-1 0M204 105l-1 0M200 102l2 3M200 103l0 1M204 103l-2 2M194 99l2 2M196 99h0M196 99l2 1M238 106l-1 3M32 127l1 0M49 129l-1 4M44 129l2 1M44 131l0 1M80 123l-2 1M73 120l3 2M98 140l-2 3M135 125h0M146 135l1 1M171 134l1 0M184 142l0 1M186 142h0M206 142l2 1M179 139l1 2M180 137l-2 1M183 138l1 0M220 146l4 1M216 144l2 2M223 147l0 1M10 170l0 1M97 171l2 2M133 153l3 2M124 152l-3 3M123 153l-2 0M168 162l0 2M167 163h0M197 166l2 1M198 167l-2 1M200 164h0M226 151l-3 0" stroke="#6a4cc0" stroke-width="5" stroke-opacity="0.88"/><path d="M30 0l-3 2M27 -1l-1 3M35 18l0 3M48 26l1 2M43 25l2 1M73 21l-3 2M74 7l2 2M66 1l-1 1M65 2l-1 1M91 5l0 1M103 29l1 1M101 31l1 0M111 8h0M136 16h0M160 8l4 2M161 5l2 1M163 12l-2 3M151 17l-1 1M168 5l-3 0M50 39l-1 2M49 39l-1 4M44 39l-3 2M61 57l0 1M95 57l3 1M148 44l-3 0M147 45l-2 1M123 52l-3 0M120 53h0M175 36l0 1M166 37h0M201 32l-1 3M186 53l3 0M194 58l-2 0M15 83l3 2M26 66h0M27 64l-3 0M72 65l-1 0M107 67l1 2M105 69l0 1M96 69l-2 0M93 81l2 2M95 79l0 2M140 78l0 2M175 75l1 0M203 66l0 2M186 62l1 1M190 62l0 2M191 87h0M189 90l-1 0M193 87l-4 0M188 64l2 2M232 89l3 2M52 118l0 2M32 113l1 2M29 114h0M109 88l3 2M133 114l0 1M128 108l-2 2M170 94l-1 1M210 112l-3 1M207 109l2 1M184 120l-1 0M184 118l0 3M237 109l1 1M230 91l1 0M240 106l-2 3M23 146l0 1M57 135h0M52 127l0 3M118 122l1 1M115 125l-2 2M117 147l1 0M104 125l-2 0M147 132l-1 0M146 131l1 2M136 123l-1 3M181 140h0M181 139l2 1M219 147h0M222 132l1 1M213 135h0M211 133l-2 3M47 163l0 1M87 172l-2 3M86 176h0M97 173h0M97 173l1 0M166 154l-1 3M229 169l1 2M228 168l-3 1" stroke="#8a6cd0" stroke-width="5" stroke-opacity="0.88"/><path d="M38 13l1 3M38 15l0 1M39 13l2 1M83 15l2 0M82 15h0M99 11l-1 1M94 19l2 3M123 25l2 0M151 18l-3 0M151 14l0 1M152 14l-2 2M198 9l3 0M204 7l-3 0M185 -4l0 1M180 16l2 3M235 27l-1 1M234 25l-3 0M13 56l-1 2M16 51l2 2M52 56l1 1M118 43l-2 1M151 41l-2 0M149 40l2 2M21 73l2 3M24 75l-2 3M56 70l-1 2M56 62l-2 3M55 64l1 1M59 63l0 1M62 62l-1 0M39 69l2 3M46 70l1 1M73 71l1 3M105 67l-1 1M118 63l0 1M113 87l2 3M141 67l0 2M151 86l0 2M139 66l3 2M140 68l1 1M175 77l-2 1M170 79l3 0M149 70l3 2M185 72l0 3M229 61l1 2M28 107h0M34 109l-1 1M35 111l0 1M34 111l1 3M29 113l2 1M30 103l1 1M88 97l0 1M89 95l2 0M78 97l2 0M79 93l-1 0M87 107l2 3M99 106l0 1M110 99l-3 1M94 92l-2 3M117 118l1 4M137 109l2 0M134 103l-2 2M133 108h0M133 108l0 3M179 106l-1 3M231 109l-1 1M226 111l3 1M229 104l1 3M29 132l2 1M33 133h0M33 136l1 1M36 145l2 3M84 127l-2 2M84 131l0 1M97 141l-1 2M119 149l0 1M97 142h0M138 138l-2 2M127 130l-1 0M129 130l2 2M134 129l-2 1M133 125l-2 3M123 130h0M171 135l2 2M186 134l1 0M218 130h0M233 148l-2 1M219 140l-1 1M221 148l0 2M49 176l0 2M37 154l-1 0M81 168l-1 1M123 163l-2 1" stroke="#9a80d8" stroke-width="5" stroke-opacity="0.88"/><path d="M21 8l3 1M23 18l-1 1M21 18l2 1M45 15l2 0M45 15h0M77 14l-2 3M71 2l1 2M91 19l2 3M91 19l0 2M103 13l0 1M150 15l1 0M179 3l2 1M34 41l1 0M47 32l2 1M68 39l3 1M149 50l1 3M160 61h0M152 44l0 2M177 37l1 2M175 36l1 1M230 51l-3 1M227 49h0M232 51l1 2M44 87l-2 2M52 66l1 0M65 64l3 2M71 72l0 2M73 58l2 2M116 65l-1 1M92 88l0 3M98 62l1 3M143 73l-2 1M126 86l-1 3M125 87l-2 0M172 82h0M175 81l-1 0M172 80l2 2M228 86l2 1M228 85l-1 4M225 83l-4 1M25 98l2 3M51 114l-1 1M44 95l1 0M45 94l-1 1M52 95l2 0M81 115l1 1M83 117h0M81 93l-3 2M103 112l-2 3M146 106h0M133 117l-1 1M194 93l4 0M195 92l-1 3M199 100l1 2M191 98l2 3M17 145l-3 1M45 132l3 0M47 127l2 1M80 128l2 2M129 140l-3 0M143 130l2 1M148 130l0 1M176 129l-3 2M175 129l0 1M237 124l1 1M217 145l-2 3M217 137l2 4M221 139l-3 0M11 175l2 2M11 177l1 2M27 167l1 1M45 168l-1 1M45 177h0M71 152l0 1M85 160l-1 2M98 173l-2 2M106 162h0M141 153l-1 3M130 161l0 2M122 152l1 2M122 151l-2 1M121 157l2 1M174 159l-2 2M199 177l1 0M199 177l3 3M186 157l-2 0M228 159l-2 0M221 176l-1 1" stroke="#5a40b4" stroke-width="4" stroke-opacity="0.88"/><path d="M26 5l1 2M59 10l0 3M62 22l1 1M66 5l-1 2M65 5l0 1M105 11l-1 0M92 25h0M88 21h0M146 12l1 2M180 13l3 2M26 56l1 1M43 34l-3 2M48 37l-1 1M47 49l1 2M51 58h0M51 56l0 1M52 55l1 2M37 49h0M99 34l0 2M136 41h0M145 57l1 0M167 44l2 2M154 35l1 3M167 46h0M164 48l3 1M185 47l1 0M184 45l-1 3M181 53l-2 3M234 31l1 3M228 47l-2 1M233 52l-2 1M35 73l1 4M68 70l0 3M76 60l0 1M78 59l0 1M63 67l1 1M113 74l0 1M91 84l-1 0M178 80l1 2M167 89l3 1M169 89l0 1M210 74l-2 0M184 60l1 1M184 60l1 0M187 59l0 1M206 71l-2 2M206 75l-1 1M190 61l1 2M50 115l-1 1M33 112l-2 1M46 115l3 2M68 93l2 1M83 108l2 2M88 111l-2 3M72 116l1 1M95 104l-3 1M91 113l1 2M154 100l1 3M176 98l1 0M160 99l-3 1M182 113l0 1M182 117l0 1M204 102l-1 3M196 99h0M200 99l-1 0M198 94l3 2M239 107l-1 1M0 142l1 3M33 125h0M50 129l0 1M76 127l-2 2M72 123l0 3M108 128l1 0M111 125l2 0M135 123l-1 2M146 133l-2 2M168 132l2 1M178 123h0M178 122l0 1M178 121l-1 1M210 142h0M216 144l-1 0M212 137l-1 1M227 144l2 3M12 170l1 1M21 168h0M56 155l-4 1M98 173l-2 1M96 174l2 1M114 157l3 1M123 161l-1 3M120 163l1 0M147 161l4 0M147 161l-3 1M150 160l0 3M175 162l-2 3M177 167l-1 2M228 148l-1 3" stroke="#6a4cc0" stroke-width="4" stroke-opacity="0.88"/><path d="M37 3l1 3M72 20h0M113 1h0M102 0l0 2M135 11h0M173 2l3 1M169 1l0 2M200 3h0M198 0l-2 0M227 17l-1 3M225 19h0M220 20l0 2M18 56l-1 3M15 55l1 1M49 43l0 3M49 44l-1 0M36 39l1 1M68 34l-1 0M68 34l-1 1M64 37l1 2M72 45l-2 2M69 44l1 3M105 39l3 1M107 41l-3 0M135 48l1 0M120 54l0 2M160 52l2 1M153 44l-2 0M151 44l-4 1M149 45l1 2M170 37l0 3M170 37l0 1M204 34l1 0M48 66l1 1M50 65l-1 2M47 67l3 2M39 73l3 1M71 69h0M69 67l-1 1M70 66l1 4M74 70l-1 2M90 65l-1 2M109 64l1 0M151 70l-1 1M151 68h0M169 85h0M175 72l1 0M172 73h0M199 75l3 2M194 69l1 2M202 80h0M226 87l1 1M226 79l-4 1M8 107l3 2M78 113l-1 3M76 111l-2 1M78 115h0M88 92l-1 1M87 92l1 0M80 114l2 2M134 109h0M134 111l1 3M164 100l-2 2M163 100l0 3M156 97l3 0M158 96l-2 2M200 103l0 1M201 100l2 3M201 103h0M202 104l1 1M236 107l-2 2M32 146l-2 0M33 145l3 2M53 127l-2 3M54 127h0M67 142l-1 0M99 139l0 1M109 137h0M141 129l2 1M171 147l2 2M153 126l1 3M154 127h0M154 127l-1 2M193 128h0M200 138l-2 1M197 138l0 2M194 122l3 2M212 145l-1 1M210 139l1 1M40 162l0 2M40 165l-2 1M79 155l-3 2M76 152l2 2M78 162l0 2M66 176l-3 0M93 167l-1 3M149 177l0 2M160 154l0 1M206 158l-3 2M207 154l-2 3M229 156l0 1M232 155l-1 0M225 153h0M233 159l1 1" stroke="#7a5cc8" stroke-width="4" stroke-opacity="0.88"/><path d="M37 22l3 0M39 21l-2 1M46 28l-3 2M73 23l-1 2M78 6l2 1M73 24h0M77 24l0 2M76 26l-2 1M85 3l-2 2M93 6l-3 1M91 3l-1 1M136 13l2 2M152 19l0 1M152 21l1 1M176 7l-3 2M176 4l-1 0M174 7l1 1M150 16l1 2M152 20l2 0M33 41l1 0M36 41l0 3M32 40l-1 2M50 42l-1 1M69 41l-1 1M94 57l0 2M99 53l1 1M101 45l-2 3M104 44l-1 0M174 36h0M173 38l1 0M176 36l2 2M168 38l0 2M200 36l0 1M200 34l-2 1M190 51l-1 2M191 54l3 0M28 61l-2 2M72 87l1 3M103 64l2 3M109 66l-2 3M110 65l-3 1M107 72h0M110 71l-4 0M96 70l-1 3M138 78l2 2M166 73l3 0M173 78l0 1M175 74l0 1M173 77l0 1M237 88h0M223 86l3 2M52 119l-2 2M75 103l0 3M117 92l3 1M116 91l3 0M113 98l2 1M107 112h0M109 112l-1 3M113 91h0M163 102l-1 4M209 110l-1 2M186 104l-2 2M186 105h0M187 104l-1 3M231 92l0 1M232 91l-1 4M21 146l0 1M20 148l1 3M50 149l0 1M45 124l2 1M57 130l2 3M70 143l1 3M117 120l2 3M111 123l0 1M109 122l1 2M103 134l0 1M116 123l-2 3M119 146l-2 3M128 127l0 1M171 130h0M182 122h0M183 122l-1 1M192 136l-3 1M222 146l-2 3M224 132l-1 1M225 134l1 0M216 138l1 1M15 168h0M4 174l1 1M5 173l-2 3M91 159l-3 0M89 159l-1 0M87 169l0 1M87 168l-1 1M86 170l0 1M100 173l-1 1M100 172h0M101 167l-1 0M178 169l0 2M204 168l2 0M202 170l2 0M218 151l1 1M211 174l-1 2M210 178h0M229 150l-3 2" stroke="#8a6cd0" stroke-width="4" stroke-opacity="0.88"/><path d="M69 7l-1 1M69 4l-1 0M82 16l2 2M96 17h0M126 24l0 2M160 4h0M187 1l-2 0M187 -2l1 3M180 18l2 1M186 1l-1 1M222 22l0 1M233 28h0M15 57l-1 1M22 38l1 3M57 32l-3 1M38 44l2 3M38 44l2 1M38 45l1 2M63 33l-1 3M99 56l2 0M100 57h0M116 49l2 2M153 41l-4 0M167 45l-4 1M171 49l-2 1M184 55l0 1M186 55l-1 2M188 52l-2 4M198 42l-3 2M195 42l2 3M182 51l3 0M47 71l-3 0M54 64l1 0M39 66l-1 2M48 71l-4 1M77 77l-2 2M101 64l2 1M103 63l-1 0M120 61l-1 1M116 62l1 3M115 89l4 1M114 90l3 0M142 64l0 1M143 64l1 1M145 73l1 0M149 87l-1 0M143 63l2 3M187 65h0M191 67h0M190 68h0M193 61l1 1M185 68l3 1M186 70h0M190 70l-2 3M30 107l-2 0M60 106l-4 1M33 117l-4 0M84 97l1 0M76 98l2 1M85 104h0M82 101l0 1M80 100l0 1M99 105l-2 1M98 108h0M98 106h0M112 99l-3 2M89 90l2 0M117 118l3 3M111 113l-1 1M130 103l0 2M139 108l0 1M137 103l-3 2M131 109l2 1M174 96l0 2M179 107l1 2M157 101h0M214 94l3 1M231 103l0 3M230 103l1 0M11 143l-3 0M36 147l-1 0M33 148l-1 2M34 145l-2 1M35 146l2 0M45 147l-1 4M83 120l1 1M84 125l-1 1M75 131l1 2M76 133l4 0M81 133l-3 2M119 146l-1 2M119 148l3 1M115 126l1 0M127 132l-2 0M126 129l0 3M172 138l-1 0M174 135l-1 4M186 131l-1 0M216 133l0 1M213 134l-2 1M230 149l-1 0M222 148l2 1M50 176l-1 2M37 158l3 0M42 153l-2 1M84 168l1 4M86 172h0M85 170l2 1M81 175l3 1M85 174l-2 1M79 166l-1 1M78 166l-2 1M115 157l-3 0M112 166h0M114 167l-1 0M122 163l-1 3M175 155l0 1M177 159l1 3M153 170l1 1M156 169l-4 2M206 176l-1 1M229 154h0M230 156h0" stroke="#9a80d8" stroke-width="4" stroke-opacity="0.88"/><path d="M7 26l2 2M37 10l0 2M73 19l1 0M112 3l2 1M114 6l-2 1M103 3h0M146 4l-1 1M173 2l-3 2M221 18l-1 0M23 55l1 0M21 52l-1 1M14 59l0 1M37 37l-1 1M80 56l3 0M67 38l1 1M107 41l-4 0M120 39l-1 1M120 39l-2 0M123 56l1 2M179 45h0M170 38l3 0M47 67l3 3M40 74l3 2M40 74l1 2M112 67l-4 1M85 67h0M141 68l4 1M127 87l0 1M127 86l2 1M193 60h0M198 76h0M202 79l0 2M223 79h0M6 90l3 1M74 114l0 1M103 109l0 2M122 119l2 0M198 100l0 2M186 117h0M229 93l0 1M109 123l3 1M107 123l1 2M114 119h0M82 160l1 0M93 165h0M159 149l-1 0M160 154l0 1M199 178l3 0M234 171l1 0" stroke="#7a5cc8" stroke-width="3" stroke-opacity="0.88"/><path d="M27 0l3 0M55 19l0 2M83 15l-1 3M76 10l-2 0M64 -3l0 1M91 1l1 3M105 26l3 1M110 8l2 3M154 23l-1 0M154 18l0 3M153 20l1 1M150 19l2 3M47 40l3 0M69 42l-1 3M60 58l1 4M100 56l1 3M102 47l-1 1M134 47l0 1M176 36l1 2M200 30l2 1M194 56l1 2M19 83l1 2M110 67h0M97 71l0 3M140 80h0M173 75l0 2M188 65h0M191 65l-1 3M189 64l0 1M233 90l1 0M74 103l1 0M120 91l0 1M109 112l-2 1M130 115l2 0M140 119l-1 1M169 91l-3 3M162 102l1 1M25 149l1 2M26 122l-1 2M56 131h0M57 135h0M57 131l-2 2M71 146l3 2M115 121l3 2M139 127l-4 0M172 129h0M173 128l2 0M182 121l-2 3M190 138l0 3M211 139l-1 3M212 142l-3 3M16 167l3 0M5 174l1 0M48 162l-1 3M47 165l0 2M94 162l1 4M101 174l0 1M96 165l2 2M162 156h0M229 162l2 1" stroke="#8a6cd0" stroke-width="3" stroke-opacity="0.88"/><path d="M18 9l0 1M149 12l-2 1M147 14l-2 1M157 25l0 1M155 25l-2 3M175 12h0M182 20h0M240 21l-3 1M39 34l2 1M47 35l-1 2M47 35l-2 2M50 50l-2 4M51 52l-1 3M69 42l0 3M65 41l0 1M177 51l-3 3M167 43l-1 2M188 56h0M226 61l4 0M64 62h0M73 69l-4 1M75 59l-1 1M113 75l-1 0M159 68l0 1M171 90l-2 2M209 74l1 3M204 70l1 1M192 62l0 1M52 117l-1 2M86 109l0 1M91 115h0M93 114l-1 2M96 105l0 1M128 100l1 2M180 108l-1 2M157 97l-2 1M180 116l1 2M198 96l-2 1M5 143h0M45 127l0 3M76 123l1 1M78 127l-1 3M73 122l1 4M110 126l-1 1M137 124l0 1M146 136h0M175 135l2 2M224 145l0 1M7 171l2 3M52 158h0M37 156l-1 2M167 161l-1 0M208 180l-3 0M224 150l0 2" stroke="#6a4cc0" stroke-width="3" stroke-opacity="0.88"/><path d="M31 1l1 0M124 23l2 2M147 13l2 1M203 8l-1 1M224 22l0 1M13 57l-1 0M21 40h0M54 31l1 0M55 58l0 3M67 33l-1 3M65 34l1 1M126 32l4 0M144 50l1 3M169 48l-1 3M195 44h0M225 39l-2 1M23 69l0 2M46 72l-2 2M60 64l-2 2M70 74h0M105 64h0M151 69l2 0M191 60l-1 1M193 62l-1 0M84 104h0M118 118l0 2M108 112l-2 3M109 113l1 2M139 106l-2 0M228 107l-1 0M228 103h0M227 106h0M224 104l4 1M33 149l1 0M86 131l-2 1M137 138l3 1M137 137l2 2M51 176h0M123 150l2 3M176 159l-1 2M154 167l0 1M232 152l2 2M230 165l-2 3" stroke="#9a80d8" stroke-width="3" stroke-opacity="0.88"/><path d="M33 1l1 1M45 13l0 3M77 15l-2 2M70 24l-1 0M70 26l0 2M89 19h0M101 2l-1 0M172 1l2 0M174 1h0M191 13l0 1M220 11l-1 0M3 35l1 1M4 35l0 1M45 32l0 1M43 29l-2 1M49 34l1 3M162 58l-2 2M184 47l0 2M185 49h0M228 57l3 2M54 69l0 1M54 66l0 1M63 64l1 1M84 81l-1 0M73 71l0 3M72 73l1 2M74 60l2 1M94 89l3 0M144 73l-3 0M228 84l-3 0M7 98l-1 2M20 96l1 0M19 95h0M53 112l-3 1M86 95l-1 2M84 95l2 1M79 116h0M100 112l-1 0M128 92l1 1M137 117l-1 3M200 102l0 3M191 101l1 1M231 94l2 1M235 93l-2 1M234 94l1 1M13 147h0M24 128l2 0M55 125h0M81 143l-2 2M168 147l-1 3M43 167l1 0M38 156l1 1M106 163h0M108 165l-2 0M128 164l2 0M132 159l-1 1M173 161l0 1M170 158h0" stroke="#5a40b4" stroke-width="3" stroke-opacity="0.88"/><path d="M6 28h0M28 7h0M29 0h0M37 11h0M54 19h0M36 4h0M33 1h0M44 13h0M78 15h0M70 25h0M74 17h0M67 6h0M104 10h0M101 3h0M98 10h0M110 7h0M100 0h0M96 17h0M136 12h0M142 3h0M153 23h0M175 2h0M149 15h0M154 20h0M151 22h0M190 14h0M180 20h0M185 2h0M234 27h0M13 57h0M17 52h0M3 34h0M14 60h0M50 52h0M50 39h0M52 58h0M47 43h0M46 31h0M50 35h0M80 58h0M69 38h0M76 60h0M85 45h0M117 43h0M100 35h0M99 55h0M118 50h0M141 46h0M137 42h0M143 56h0M142 52h0M145 44h0M148 52h0M137 50h0M169 45h0M171 49h0M162 59h0M178 44h0M166 46h0M179 36h0M169 39h0M152 45h0M171 39h0M185 49h0M200 32h0M190 57h0M199 31h0M180 58h0M186 51h0M195 56h0M235 59h0M226 49h0M238 59h0M230 60h0M21 75h0M26 65h0M48 67h0M54 67h0M44 73h0M57 65h0M60 62h0M41 88h0M42 74h0M63 62h0M69 68h0M71 64h0M76 61h0M95 68h0M111 67h0M92 90h0M110 63h0M112 74h0M118 63h0M143 71h0M147 72h0M147 88h0M126 90h0M140 68h0M150 69h0M168 74h0M150 71h0M175 74h0M209 76h0M190 67h0M191 88h0M185 68h0M186 71h0M193 63h0M223 88h0M231 91h0M226 83h0M228 63h0M10 108h0M7 90h0M32 111h0M31 115h0M74 103h0M79 115h0M87 97h0M84 109h0M78 116h0M80 96h0M69 119h0M90 113h0M110 101h0M106 114h0M107 111h0M142 103h0M138 106h0M131 114h0M139 110h0M138 118h0M126 100h0M133 108h0M180 112h0M163 102h0M175 99h0M157 96h0M183 108h0M202 100h0M196 92h0M201 103h0M231 92h0M231 111h0M230 104h0M25 127h0M47 131h0M33 149h0M57 131h0M38 148h0M51 151h0M46 124h0M47 128h0M43 151h0M70 148h0M77 120h0M86 132h0M83 127h0M74 123h0M111 123h0M110 137h0M114 122h0M118 148h0M104 125h0M146 137h0M127 130h0M137 129h0M133 130h0M136 127h0M129 127h0M172 135h0M172 147h0M172 137h0M175 130h0M177 124h0M154 128h0M184 142h0M208 142h0M180 138h0M223 133h0M219 137h0M212 149h0M221 148h0M211 140h0M22 168h0M29 170h0M4 175h0M56 156h0M38 155h0M76 155h0M87 168h0M71 153h0M87 174h0M96 175h0M92 165h0M106 164h0M99 173h0M100 167h0M132 159h0M140 155h0M122 154h0M150 178h0M153 171h0M163 155h0M199 166h0M201 178h0M197 162h0M218 151h0M235 159h0M227 167h0M212 173h0M229 151h0" stroke="#2a1e8a" stroke-width="2.6" stroke-opacity="0.75"/><path d="M192 128h0M133 77h0M171 86h0M73 122h0M54 120h0M23 55h0M152 38h0M109 174h0M19 151h0M127 121h0M49 51h0M236 178h0M57 8h0M158 10h0M2 21h0M225 79h0M153 51h0M115 170h0M185 10h0M84 151h0M55 84h0M79 169h0M120 15h0M104 118h0M18 179h0M171 70h0M102 64h0M67 8h0M150 103h0M78 48h0M1 147h0M83 14h0M66 85h0M133 177h0M123 164h0M72 179h0M126 126h0M50 64h0M14 86h0M183 93h0M148 161h0M117 172h0M30 54h0M178 66h0M6 32h0M139 7h0M122 154h0M206 35h0M164 74h0M123 2h0M91 122h0M142 115h0M201 37h0M18 164h0M101 133h0M215 141h0M109 82h0M25 48h0M140 169h0M88 35h0M125 71h0M145 40h0M35 45h0M21 116h0M236 139h0M145 2h0M206 62h0M201 54h0M62 87h0M223 53h0M66 13h0M199 18h0M139 171h0M138 35h0M176 12h0M163 12h0M114 153h0M156 14h0M36 19h0M148 39h0M187 169h0M33 19h0M187 79h0M39 23h0M67 56h0M9 47h0M211 45h0M54 124h0M104 1h0M13 10h0M96 169h0M149 48h0M119 57h0M58 168h0M96 179h0M126 96h0M89 107h0M162 100h0M81 82h0M30 125h0M142 112h0M142 126h0M8 117h0M79 71h0M100 105h0M12 111h0M177 179h0M142 78h0M218 17h0M76 115h0M116 85h0M131 26h0M12 4h0M188 170h0M21 19h0M155 20h0M217 124h0M236 37h0M31 100h0M54 119h0M217 149h0M66 52h0M18 83h0M234 67h0M94 169h0M223 72h0M180 133h0M167 33h0M164 125h0M82 5h0M24 130h0M32 112h0M170 8h0M66 150h0M149 122h0M185 64h0M22 5h0M151 113h0M44 170h0M30 160h0M201 112h0M184 50h0M158 55h0M5 130h0M190 11h0M235 94h0M11 96h0M230 168h0M182 50h0M38 60h0M114 44h0M187 131h0M195 128h0M105 55h0M21 177h0M189 69h0M146 9h0M9 112h0M81 1h0M26 139h0M78 73h0M137 30h0M217 125h0M10 113h0M162 127h0M83 118h0M143 56h0M139 19h0M96 180h0M17 57h0M92 8h0M61 61h0M159 54h0M130 24h0M125 96h0M84 46h0M78 8h0M33 46h0M109 32h0M61 173h0M136 56h0M205 69h0M69 106h0M149 167h0M54 112h0M18 45h0M139 97h0M79 166h0M72 97h0M131 20h0M209 176h0M50 29h0M4 59h0M197 22h0M214 47h0M102 49h0M153 64h0M187 4h0M199 148h0M234 1h0M28 83h0M136 17h0M215 141h0M118 105h0M63 29h0M69 113h0M184 159h0M238 148h0M136 3h0M87 47h0M32 123h0M90 68h0M166 159h0M78 151h0M160 98h0M35 19h0M113 19h0M192 61h0M33 94h0M21 11h0M144 20h0M187 6h0M95 102h0M92 123h0M224 60h0M108 116h0M50 4h0M89 94h0M17 32h0M138 90h0M27 47h0M50 65h0M228 168h0M212 23h0M18 27h0M200 82h0M153 108h0M13 97h0M216 67h0M214 48h0M183 35h0M145 68h0M48 80h0M164 55h0M52 64h0M225 170h0M217 139h0M132 166h0M13 91h0M136 18h0M60 71h0M39 124h0M188 22h0M220 117h0M137 50h0M148 106h0M70 44h0M47 139h0M20 119h0M93 76h0M14 73h0M52 57h0M41 98h0M210 60h0M192 37h0M71 17h0M176 131h0M81 109h0M239 177h0M207 1h0M142 120h0M44 40h0M210 179h0M230 157h0M74 123h0M102 105h0M145 180h0M224 2h0M17 117h0M199 69h0M106 2h0M85 13h0M67 53h0M220 83h0M196 155h0M171 123h0M17 25h0M211 161h0M163 111h0M182 131h0M200 72h0M184 87h0M203 68h0M151 171h0M13 145h0M99 97h0M127 143h0M49 130h0M91 72h0M7 180h0" stroke="#4a4040" stroke-width="1.8" stroke-opacity="0.8"/></g>
</g>
<g clip-path="url(#cp15)">
<rect x="168.4" y="559.6" width="119.8" height="90.1" fill="#f5f5f6"/>
<g transform="translate(168.4 559.6) scale(.5)" fill="none" stroke-linecap="round"><path d="M25 27l0 1M55 14h0M35 12l-2 2M94 10l1 3M131 1l1 3M128 4l-1 2M179 20l0 1M194 21l-1 2M181 0l-2 1M237 15l0 1M51 49l0 1M33 58l2 1M30 47h0M76 32l-1 2M88 36l2 2M63 39l1 1M107 46l-1 2M125 47l1 0M128 56l2 3M181 46l-2 1M181 57l-1 1M183 38l2 1M237 59l2 1M56 81l1 4M57 72l-2 0M41 60l0 4M75 82l3 2M84 84l1 4M114 61l1 1M112 77l0 2M117 64l0 1M130 86l0 2M132 70h0M220 85h0M228 87l0 4M211 72l-1 3M235 86l-1 1M211 72l2 3M27 107l2 1M18 100l-1 2M11 114l-3 1M22 99l1 0M35 105l-1 1M81 104l-1 1M80 100l0 2M119 105h0M117 98l0 4M204 98h0M227 110l-4 1M0 142h0M49 129l1 2M116 146l-1 2M112 148l1 2M143 134h0M124 141l-1 1M157 124l-2 3M162 147l-3 1M170 135l1 3M161 125l2 1M210 148l-1 2M185 128h0M182 119l2 1M211 149l0 1M234 122h0M29 177l-1 3M38 163l3 2M81 178l1 1M95 172l-2 1M136 164l1 1M180 166l-1 1M174 154l3 1M169 178l2 2M202 179l-1 2M198 179l0 1" stroke="#c8a8ec" stroke-width="7.8" stroke-opacity="0.35"/><path d="M19 18h0M23 17l-2 3M15 24l2 1M23 18l2 3M28 14l-1 1M18 23l0 2M24 20l-2 3M60 13l0 1M104 28h0M193 16l-1 4M184 18l1 2M191 27h0M21 41l1 3M26 55l0 2M17 41l0 1M47 30l0 1M39 59l1 1M31 55l3 0M38 59l-1 1M89 40l1 3M128 50l4 1M124 42l1 2M143 54l1 0M191 38l0 3M209 38l-3 2M192 38l-3 1M209 40l-1 1M238 38l2 1M235 42l0 1M218 37l1 0M18 64l0 3M19 71l-2 1M17 67h0M5 60l-3 0M29 60l-2 3M87 65l-3 0M84 69l2 0M109 86l0 1M128 73l1 4M167 81h0M183 75l-3 1M197 78l-1 3M210 64h0M210 73l0 1M226 74l1 2M14 119l0 2M20 91l2 1M42 110l-2 0M40 106l-2 1M85 91l-1 1M83 115l1 0M118 111l2 0M118 108l1 3M101 96l-1 0M174 110l2 0M187 92l1 3M0 140l1 2M7 120l2 3M11 121l2 1M63 130l1 2M169 128l-3 2M174 134l0 2M180 135l-3 2M150 121l1 3M169 122l-1 3M199 146l-1 3M189 125l1 1M188 127l-2 1M187 149l1 3M194 143l0 3M213 146h0M231 128l-2 2M25 165l-3 0M58 157l-1 1M83 178l1 4M99 175h0M110 159l0 2M148 161l-1 2M218 159l0 1" stroke="#c8a8ec" stroke-width="6.8" stroke-opacity="0.35"/><path d="M24 18l-4 0M37 5l-2 3M53 30l-1 0M118 13l-3 1M179 19l-3 2M175 14l2 1M239 26l-1 1M38 48l0 2M85 38l-1 2M115 56l-1 1M184 34l-2 1M187 57h0M228 37l-3 1M215 42l0 2M59 73l4 1M119 61l-1 0M174 82h0M178 82l1 3M14 113l2 1M47 108l-1 0M62 109l1 2M129 97l3 1M164 113l0 2M222 108h0M211 101l-1 1M9 123h0M61 148l1 2M240 138l-4 1M169 159l3 1M208 179l1 1" stroke="#c8a8ec" stroke-width="5.8" stroke-opacity="0.35"/><path d="M28 10l-1 1M20 25l-1 1M56 26l-2 1M94 10l1 3M128 4l-1 2M128 3l-1 1M180 10l-2 1M237 15l0 1M20 32l1 0M20 35l-1 1M18 39l1 4M21 43l0 1M33 58l2 1M37 61l1 0M37 59l-1 3M88 36l2 2M205 40h0M181 57l-1 1M185 37l2 0M186 36h0M26 65l0 1M26 62l2 4M81 66l1 2M81 66l-1 1M89 69l0 1M114 61l1 1M111 65l3 0M185 76l2 2M214 71h0M212 74l2 1M211 72l2 3M210 73h0M18 100l-1 2M140 107l-2 3M207 103l0 1M206 101l-1 1M202 97l1 3M200 96l0 3M49 138l0 1M67 131l3 0M89 128l3 2M91 134h0M116 146l-1 2M112 148l1 2M177 128l1 3M176 137l3 1M161 125l2 1M164 128l0 1M184 126h0M182 119l2 1M26 180l1 0M105 156l1 0M110 166l-2 2M136 164l1 1M169 168l1 0M174 154l3 1M175 154l0 1M209 152l-1 2M207 154l2 3M201 153l-3 3" stroke="#9a80d8" stroke-width="5" stroke-opacity="0.88"/><path d="M21 16l-2 3M19 17l2 1M25 16l2 2M23 12l-1 1M29 19l2 3M55 14h0M37 6l2 0M122 14l0 2M179 20l0 1M181 18l0 2M184 20l3 1M187 21l1 3M194 21l-1 2M4 35l-1 1M51 49l0 1M30 47h0M127 40h0M153 53l3 2M153 52l1 2M181 33l2 0M225 34l0 1M217 53l-1 1M218 53l-1 2M237 59l2 1M218 35l-3 2M19 70l2 1M24 78l1 0M41 60l1 2M38 74l4 2M41 60l0 4M40 63l0 1M61 79l0 3M75 82l3 2M74 81l2 2M133 74h0M129 71l-1 2M179 85l1 0M178 87l0 1M177 66l0 2M224 80h0M54 112l2 1M53 93l1 1M81 104l-1 1M83 99l-1 0M119 105h0M233 111h0M6 149l2 0M25 139l0 4M0 142h0M53 138l-1 2M49 140l1 2M49 129l1 2M95 137l-4 2M146 129l2 3M206 150l-1 0M196 121h0M211 149l0 1M238 139h0M234 122h0M38 163l3 2M80 159l2 1M87 176l1 3M81 178l1 1M180 166l-1 1M180 165h0M202 179l-1 2M199 179h0M202 183l-2 0M183 162l-3 2M198 179l0 1M198 181l0 1M197 181l-1 4" stroke="#7a5cc8" stroke-width="5" stroke-opacity="0.88"/><path d="M25 27l0 1M21 28l2 1M25 27l-2 1M57 12l3 1M67 9l1 0M68 8l0 2M66 10h0M77 8l-1 0M63 7l-1 3M193 25l-2 3M234 12l-1 3M3 59l1 1M-1 55l2 1M22 35l-1 1M107 46l-1 2M106 51h0M108 43l-1 1M116 57l1 3M128 56l2 3M181 46l-2 1M180 47l-1 2M154 52l2 2M153 57h0M153 37l2 1M158 37l-2 0M156 39l0 1M187 37l-2 1M189 37l1 1M187 41h0M185 38l2 1M218 39l-3 3M235 42l-4 0M56 81l1 4M57 72l-2 0M84 84l1 4M117 64l0 1M132 70h0M173 82l1 3M173 79l-1 1M208 65l-1 0M210 62h0M186 61h0M211 72l-1 3M209 70l0 1M235 86l-1 1M25 109l0 3M11 114l-3 1M38 111h0M40 110h0M40 110l3 1M170 119l-1 2M166 91l-3 0M165 89l0 1M204 98h0M204 101l1 1M201 103l1 1M213 92l0 1M226 109h0M233 95l-2 3M211 111l1 0M14 120l-1 2M50 140l-1 1M64 125l1 3M143 134h0M124 141l-1 1M162 147l-3 1M157 128l1 2M162 128h0M158 134l2 1M23 170l-1 1M60 158h0M171 177l-1 2M179 159l0 2M214 171l1 0" stroke="#8a6cd0" stroke-width="5" stroke-opacity="0.88"/><path d="M27 14l-3 2M58 22h0M60 26l-1 1M35 12l-2 2M102 26h0M131 1l1 3M131 10l-2 3M173 15l2 0M160 6l-2 0M181 0l-2 1M235 25l2 2M16 51l0 1M2 58l2 3M44 35l-3 2M76 32l-1 2M63 39l1 1M130 52l0 1M125 47l1 0M121 51l1 1M160 45h0M183 38l2 1M211 33l0 2M216 36l0 1M218 34l2 2M88 61l1 4M87 62l0 2M117 72l1 0M112 77l0 2M117 68l1 0M115 70l-1 2M130 86l0 2M220 85h0M217 87l1 0M228 87l0 4M208 65l0 1M27 107l2 1M22 99l1 0M35 105l-1 1M80 100l0 2M81 101l1 3M83 99l-2 1M117 98l0 4M121 103l1 1M164 113l-3 1M201 113l3 1M227 110l-4 1M227 108l-1 2M225 110l-2 1M175 125l-1 1M157 124l-2 3M170 135l1 3M210 148l-1 2M209 148l-1 1M185 128h0M196 144h0M29 177l-1 3M33 157l0 2M95 172l-2 1M145 163l2 2M147 161l-1 0M169 178l2 2M177 153l0 1M205 152l-3 1" stroke="#6a4cc0" stroke-width="5" stroke-opacity="0.88"/><path d="M19 18h0M16 2h0M19 0l-2 0M48 29l4 0M54 28l0 3M53 31l0 1M101 24l1 1M95 26l4 0M93 25l-2 3M115 0l0 1M233 24h0M223 10l1 2M18 44l3 3M19 45l1 2M13 52l1 2M26 55l0 2M24 56l4 1M17 41l0 1M41 36l0 2M74 30h0M73 31l0 1M58 40l2 0M66 42l1 1M89 40l1 3M83 41l2 1M82 36l1 4M116 45l-2 2M114 45l-1 1M128 50l4 1M143 54l1 0M146 51h0M130 51l1 3M222 40l1 0M219 39l1 2M213 35l0 1M231 41h0M216 34l3 1M238 41l-3 0M88 59l1 0M117 69l-1 2M128 84l-2 2M144 63l2 0M197 78l-1 3M219 85h0M210 64h0M26 105l1 3M29 106l-1 1M20 91l2 1M49 111l1 0M118 101l-2 0M101 96l-1 0M100 97l1 3M122 100l0 4M123 101l2 1M136 106l-1 4M135 110l-2 2M173 92l2 0M207 111l-1 3M207 111l-1 3M9 124l-1 2M18 142l1 0M19 144h0M18 141l-2 2M98 129l3 0M176 127l-3 1M169 122l-1 3M170 123l-2 0M189 125l1 1M188 126l-1 2M187 149l1 3M194 143l0 3M25 165l-3 0M9 179l-3 0M56 152h0M95 170l1 0M148 161l-1 2M170 179l1 2M202 154l-1 0M213 176h0" stroke="#6a4cc0" stroke-width="4" stroke-opacity="0.88"/><path d="M26 12l1 1M18 23l0 2M17 25h0M51 29l0 1M53 28l-2 2M55 28l-3 0M104 28h0M104 27l0 1M105 30l-1 4M129 4l-3 2M126 19l1 4M178 19l1 3M181 8l-3 1M181 8l0 3M21 41l1 3M47 30l0 1M37 49l-2 1M38 49l1 1M38 59l-1 1M87 37l-1 1M115 56l0 1M124 42l1 2M209 38l-3 2M189 54l-2 2M184 58l0 1M192 38l-3 1M29 63l-2 3M91 69l0 1M134 76l0 1M183 75l-3 1M181 74l2 2M212 72l2 2M213 73l-1 3M19 112h0M64 90l-2 2M62 88l2 1M79 112l-2 0M133 105l-4 0M133 100l-2 3M137 109l0 1M182 107h0M183 107l0 1M180 105l2 1M201 97l0 1M187 92l1 3M225 111h0M51 138h0M46 142l4 1M67 130l2 1M90 133l-1 0M178 131l1 1M179 132l1 2M169 128l-3 2M174 134l0 2M180 135l-3 2M179 133l1 2M188 127l-2 1M190 130l0 1M213 146h0M231 128l-2 2M25 180l2 2M107 156h0M99 175h0M97 174l1 1M110 159l0 2M169 170l1 0M168 169l1 1M175 155l-2 3M218 159l0 1" stroke="#9a80d8" stroke-width="4" stroke-opacity="0.88"/><path d="M23 17l-2 3M15 24l2 1M23 18l2 3M25 19l-1 2M28 14l-1 1M24 20l-2 3M20 20l-1 1M58 3h0M57 4l2 0M61 13l1 1M63 17l1 1M144 8h0M179 22h0M193 16l-1 4M184 18l1 2M194 20l-2 0M194 21l-2 0M39 59l1 1M39 62l0 1M31 55l3 0M92 58l1 2M126 36l3 1M154 53l4 1M226 38l0 1M238 38l2 1M238 36l0 2M240 62l-2 1M218 37l1 0M19 71l-2 1M29 60l-2 3M29 64l-1 1M39 63l2 1M43 60l-1 3M39 73l0 2M43 62l-4 1M71 68l-1 1M57 78l0 1M84 69l2 0M128 73l1 4M167 81h0M176 66l-1 0M203 76h0M221 81l-1 2M217 76l-2 2M215 80l1 0M40 106l-2 1M39 107l-2 1M37 104l3 1M82 93l1 4M85 91l-1 1M122 104l-1 0M130 95l1 0M174 110l2 0M232 108l-4 0M4 144l-1 1M-2 143h0M-2 146l3 1M52 137l1 3M92 136l-2 1M206 147l1 2M205 148l1 0M199 146l-1 3M83 178l1 4M86 176h0M179 167l0 1M209 156l-2 0M181 159l3 0M184 161l-3 1M214 151l2 0" stroke="#7a5cc8" stroke-width="4" stroke-opacity="0.88"/><path d="M26 25l1 0M60 24l-1 3M60 26l-1 1M60 13l0 1M64 8l2 3M99 25l-3 0M186 22l1 1M191 27h0M4 61l1 1M5 61l-1 1M2 56l-2 1M1 57l2 1M22 49l1 0M35 49l1 2M35 51l2 1M130 56l-4 1M191 38l0 3M193 38l-2 0M189 39l0 1M209 40l-1 1M218 41l1 1M235 42l0 1M236 45l1 1M18 64l0 3M15 62l-2 3M17 67h0M27 63l2 0M5 60l-3 0M54 67l-3 1M56 71l1 1M87 65l-3 0M64 73l2 1M68 75l0 1M65 73l2 2M109 86l0 1M128 68l-1 1M178 81l-2 1M177 83l3 2M179 85l-1 1M210 73l0 1M214 71l-3 2M236 87h0M226 74l1 2M23 105l3 2M24 102l3 2M14 119l0 2M42 110l-2 0M41 109l1 2M83 115l1 0M86 114l-1 2M118 111l2 0M117 108l-1 2M119 109l2 3M118 108l1 3M167 117l-1 3M170 116l-1 1M203 99l0 1M180 118l1 0M214 91h0M228 105l1 0M236 93l-2 1M212 109h0M209 109l4 1M0 140l1 2M7 120l2 3M8 121l1 0M11 121l2 1M70 134l0 1M63 130l1 2M63 130l1 0M63 132l1 1M64 125l-1 2M66 127l0 3M124 144h0M150 121l1 3M184 128l3 1M186 126l-2 1M186 129l0 3M24 173l-1 4M58 157l-1 1M57 155l3 1M36 176l-3 0M30 172l3 3M34 174l-4 0M182 159l1 2M215 171l-2 1M218 168l0 1M222 160l0 1M222 160h0" stroke="#8a6cd0" stroke-width="4" stroke-opacity="0.88"/><path d="M22 27l0 2M26 27l1 1M24 18l-4 0M63 25l1 0M239 26l-1 1M232 12l0 2M33 49l1 4M33 49l1 1M115 56l-1 1M131 60l1 0M155 53l-3 1M215 42l0 2M27 62l0 2M83 86h0M118 77h0M130 70l2 1M174 82h0M36 110l-3 0M47 108l-1 0M46 106l2 3M119 108h0M205 101l1 0M211 92l1 1M52 138l-1 3M121 124l3 1M124 140l-1 1" stroke="#8a6cd0" stroke-width="3" stroke-opacity="0.88"/><path d="M25 14l3 3M26 14l1 0M14 2l0 2M53 30l-1 0M118 1l-2 2M133 11l0 1M175 14l-3 1M178 12l-1 2M159 5l1 1M190 15l2 1M233 26l2 1M20 46l-2 1M85 38l-1 2M115 49l2 2M131 52h0M134 40l2 1M196 59l3 0M222 39l0 2M214 34l0 3M232 37l1 1M237 41l-1 3M116 71l2 1M119 61l-1 0M115 61l1 0M113 75l-1 1M148 62h0M198 79l0 2M206 65l3 1M22 90h0M52 113l-3 2M51 110l0 2M62 109l1 2M63 110l-4 2M117 96l-2 0M98 97l4 1M137 110l3 1M135 111l1 1M164 113l0 2M9 123h0M61 148l1 2M95 127l1 1M209 147h0M199 140l3 2M203 142l-2 0M188 145l1 0M194 148l0 1M213 177h0" stroke="#6a4cc0" stroke-width="3" stroke-opacity="0.88"/><path d="M30 18h0M37 5l-2 3M37 0l2 2M118 13l-3 1M145 7l0 1M175 14l2 1M125 41h0M184 34l-2 1M228 37l-3 1M40 73l1 1M60 80l3 1M77 82l-4 1M62 80l3 2M178 82l1 3M226 79l-3 0M218 83l0 1M219 76l-2 3M55 112l-1 1M56 110l-1 1M81 103h0M82 95l-1 1M118 108l0 1M129 97l3 1M4 146l0 1M23 141l1 2M24 140l0 1M92 137h0M193 124l-1 0M240 138l-4 1M238 137l3 2M40 163l-1 1M85 176l0 1M208 179l1 1M217 152l0 2" stroke="#7a5cc8" stroke-width="3" stroke-opacity="0.88"/><path d="M92 28l0 1M179 19l-3 2M20 32l-1 0M52 30l-2 3M45 53l-1 1M38 48l0 2M86 37l2 1M117 57l-4 1M187 57h0M59 73l4 1M112 61l-1 1M136 75l-3 0M135 79h0M14 113l2 1M76 114l3 1M134 90l-2 1M127 100l1 3M204 104l2 1M222 108h0M222 108h0M211 101l-1 1M210 100l1 1M53 131h0M51 127l-1 3M68 129l0 1M115 146l-2 3M124 143l-1 4M214 145l2 2M88 179l-1 1M109 168l0 1M169 159l3 1M197 154l1 0M199 153l-1 1" stroke="#9a80d8" stroke-width="3" stroke-opacity="0.88"/><path d="M18 17h0M25 29h0M26 28h0M16 24h0M23 21h0M49 28h0M59 14h0M115 2h0M97 26h0M178 18h0M176 16h0M179 21h0M193 19h0M192 15h0M234 14h0M20 32h0M3 58h0M21 34h0M35 49h0M41 36h0M35 58h0M38 58h0M32 48h0M89 35h0M89 41h0M84 38h0M106 46h0M115 56h0M115 46h0M128 48h0M130 56h0M181 48h0M188 36h0M186 58h0M180 57h0M190 39h0M217 54h0M221 39h0M17 66h0M16 70h0M27 64h0M25 78h0M56 69h0M40 63h0M69 68h0M63 82h0M86 85h0M117 68h0M118 79h0M130 75h0M134 77h0M174 81h0M175 67h0M208 67h0M225 79h0M218 77h0M210 74h0M17 103h0M38 112h0M55 113h0M56 92h0M86 91h0M76 114h0M81 101h0M63 110h0M119 110h0M117 105h0M134 101h0M131 97h0M165 91h0M207 113h0M206 103h0M183 108h0M213 92h0M233 110h0M228 106h0M212 109h0M22 143h0M17 142h0M0 141h0M54 131h0M70 134h0M68 130h0M62 130h0M115 148h0M113 149h0M148 131h0M144 133h0M123 123h0M122 143h0M157 127h0M162 147h0M167 127h0M170 134h0M209 148h0M207 149h0M186 129h0M184 120h0M7 179h0M39 163h0M84 178h0M108 160h0M94 172h0M148 160h0M172 178h0M169 180h0M177 153h0M207 157h0M207 155h0M217 151h0M213 176h0" stroke="#2a1e8a" stroke-width="2.6" stroke-opacity="0.75"/><path d="M198 127h0M192 17h0M64 32h0M158 165h0M45 143h0M165 83h0M132 145h0M42 71h0M100 144h0M231 47h0M134 145h0M169 160h0M173 3h0M11 18h0M10 156h0M175 53h0M76 35h0M157 21h0M157 125h0M130 39h0M58 33h0M203 62h0M80 145h0M148 149h0M84 5h0M147 132h0M51 36h0M114 48h0M64 95h0M61 99h0M148 113h0M229 5h0M71 177h0M175 13h0M99 160h0M68 132h0M104 179h0M45 63h0M153 40h0M25 100h0M92 2h0M125 96h0M176 28h0M210 133h0M178 169h0M98 23h0M235 79h0M92 27h0M26 0h0M145 103h0M190 115h0M226 139h0M25 129h0M172 33h0M143 150h0M8 142h0M202 52h0M34 149h0M111 164h0M208 8h0M15 88h0M96 81h0M35 143h0M53 32h0M54 171h0M145 17h0M169 68h0M126 83h0M6 155h0M137 154h0M234 9h0M33 85h0M111 167h0M235 54h0M206 160h0M42 145h0M150 59h0M53 18h0M151 138h0M105 67h0M230 87h0M185 129h0M72 117h0M145 130h0M25 115h0M146 31h0M207 86h0M194 127h0M42 2h0M1 121h0M212 174h0M35 122h0M152 178h0M154 174h0M237 30h0M171 125h0M101 20h0M193 33h0M26 126h0M137 110h0M133 7h0M217 122h0M103 84h0M75 32h0M100 123h0M63 106h0M234 104h0M145 21h0M5 21h0M55 6h0M48 13h0M143 83h0M153 6h0M231 129h0M154 5h0M152 160h0M102 8h0M232 153h0M186 46h0M188 17h0M22 113h0M152 148h0M59 134h0M117 105h0M174 92h0M133 60h0M72 83h0M115 79h0M6 9h0M195 94h0M101 12h0M192 93h0M49 81h0M179 149h0M173 98h0M145 30h0M51 144h0M30 133h0M219 175h0M20 48h0M117 129h0M73 90h0M219 2h0M193 142h0M47 9h0M40 14h0M164 147h0M219 106h0M6 65h0M36 33h0M63 141h0M50 150h0M145 80h0M107 180h0M19 46h0M21 66h0M182 135h0M208 131h0M224 105h0M194 82h0M58 99h0M178 46h0M149 138h0M21 58h0M86 177h0M68 106h0M228 122h0M6 92h0M34 93h0M143 147h0M107 137h0M13 175h0M229 62h0M60 107h0M180 86h0M10 25h0M46 79h0M225 98h0M141 37h0M36 144h0M211 141h0M34 67h0M166 166h0M2 180h0M93 25h0M64 170h0M81 156h0M238 132h0M28 122h0M21 103h0M88 115h0M96 102h0M16 7h0M101 137h0M118 83h0M160 151h0M135 58h0M237 175h0M24 147h0M164 78h0M88 38h0M40 52h0M139 93h0M73 88h0M116 7h0M1 19h0M2 10h0M202 96h0M209 19h0M235 148h0M122 76h0M201 180h0M31 94h0M166 7h0M89 147h0M85 136h0M31 1h0M114 173h0M181 119h0M5 34h0M191 99h0M64 136h0M58 164h0M41 127h0M180 165h0M206 131h0M133 142h0M7 178h0M55 52h0M161 144h0M125 51h0M46 63h0M120 36h0M225 50h0M74 42h0M172 14h0M58 177h0M187 36h0M10 47h0M38 137h0M121 44h0M120 16h0M79 52h0M41 106h0M231 137h0M207 110h0M174 174h0M220 17h0M52 112h0M142 13h0M36 67h0M50 69h0M147 147h0M73 113h0M80 59h0M236 7h0M211 30h0M75 156h0M161 99h0M197 136h0M52 29h0M137 44h0M225 26h0M236 87h0M9 131h0M2 71h0M11 21h0M175 67h0M169 20h0M4 53h0M30 124h0M133 76h0M150 156h0M125 119h0M220 75h0M141 162h0M23 177h0M141 72h0M5 57h0M54 36h0M217 6h0M160 159h0M236 12h0M22 157h0M211 74h0M167 53h0M70 131h0M72 144h0M117 171h0M68 64h0M143 101h0M174 33h0M116 164h0M54 150h0M146 40h0M203 16h0M52 10h0M219 104h0M168 63h0M21 179h0M222 91h0M101 128h0M180 25h0M33 86h0M117 1h0M86 15h0M214 72h0M199 6h0M223 143h0M115 24h0M57 116h0M48 151h0M48 92h0M206 104h0M14 53h0M74 139h0M147 82h0M113 131h0M124 45h0M210 90h0M33 25h0M131 83h0M167 121h0M93 169h0M158 180h0M196 6h0M131 157h0M43 144h0M230 73h0M60 122h0M199 15h0M108 27h0M121 22h0M152 8h0M220 173h0M164 72h0M8 147h0M7 51h0M219 6h0M25 37h0M175 79h0M208 136h0M192 65h0M146 116h0M191 142h0M147 114h0M90 16h0M27 146h0M138 31h0M133 50h0M217 75h0M47 96h0M224 72h0M239 120h0M130 16h0M224 18h0M145 62h0M227 21h0M222 26h0M99 28h0" stroke="#504040" stroke-width="1.8" stroke-opacity="0.8"/></g>
</g>
<g clip-path="url(#cp16)">
<rect x="296" y="559.6" width="119.7" height="90.1" fill="url(#g6)"/>
<g transform="translate(296 559.6) scale(.5)" fill="none" stroke-linecap="round"><path d="M17 6l2 0M99 14l-1 1M179 38h0M176 129l-1 1M120 173h0" stroke="#6a58d8" stroke-width="7" stroke-opacity="0.88"/><path d="M44 2l2 0M119 17l2 2M219 3l2 2M240 36l-1 3M186 64h0M222 103l-2 2M233 119l-2 1M219 91l2 3M182 126l3 2M154 163l1 3" stroke="#4a3ad0" stroke-width="7" stroke-opacity="0.88"/><path d="M117 14l-2 3M202 14l1 3M207 17l1 1M217 54l-1 2M111 107l1 0M130 180h0M180 171l-2 1" stroke="#5a48d8" stroke-width="7" stroke-opacity="0.88"/><path d="M50 57l2 2M238 57l0 1M232 33l0 2M152 94l-3 0M64 121l2 2M65 121l-3 1M112 163l1 0" stroke="#3a2cc0" stroke-width="7" stroke-opacity="0.88"/><path d="M4 13l1 1M6 12l0 1M41 11l4 0M39 14l3 1M120 16l0 1M206 5l-1 2M224 5l-3 2M229 5l0 3M231 8l-4 1M226 8l0 1M12 48l-1 1M87 56l1 1M86 56l1 2M119 58l-1 0M237 38h0M51 82l0 1M79 81l0 1M169 62l3 0M167 61l2 1M209 68l-4 1M189 60l2 1M191 68l-1 0M93 116l-3 1M134 105l-2 1M173 119l2 2M175 117l-2 3M173 98l1 1M234 119h0M136 138l0 1M132 134l0 1M1 163l2 2M2 164h0M152 161l1 1M196 159l-2 3M226 180l2 1M239 182l0 1" stroke="#4a3ad0" stroke-width="6" stroke-opacity="0.88"/><path d="M11 5l-1 3M113 20l0 4M116 19l2 1M140 27l1 3M135 22l-1 2M137 21l0 3M179 7l-1 3M183 2l0 2M197 23l-4 1M-1 35l-3 0M49 58l-2 1M98 81l-1 0M97 80l1 2M83 107l2 2M106 108l-1 1M152 94l1 1M191 92l1 3M74 128l1 1M78 129l-3 0M61 125l4 1M140 132l2 0M141 128l0 1M130 135l0 2M196 145l1 2M200 148h0M209 120l-1 0M215 136l0 2M46 166l1 1M49 172l0 1M74 167l2 3M74 170l1 3M70 160l-1 3M111 160l1 1M130 163l-2 0M168 173l-3 0M152 158l1 1" stroke="#3a2cc0" stroke-width="6" stroke-opacity="0.88"/><path d="M9 6l2 0M96 12l-1 2M172 55l-2 3M181 37l-4 0M237 54l-1 1M234 53l1 2M92 65l-2 1M134 79l3 2M157 74h0M156 74l-1 2M157 70l-2 0M159 71l-2 1M224 75l-1 3M224 78l2 2M215 67l-3 1M212 67l-1 0M29 96l1 2M62 112l1 1M133 95l1 0M224 90l-1 3M86 130l-2 3M174 125l3 2M211 123l1 2M25 180l0 1M209 165l1 0M207 163l3 2M197 166l1 2M221 177l1 4M220 180l3 1" stroke="#6a58d8" stroke-width="6" stroke-opacity="0.88"/><path d="M52 7l2 2M82 15l0 1M83 14l-2 3M164 0l2 3M203 18h0M200 7l-1 2M223 21l0 1M221 18l1 2M221 19l1 1M179 43l3 1M181 43l-1 2M228 42l1 1M230 39h0M235 58l1 1M91 61l-1 1M131 89h0M121 117l0 3M203 118l-3 0M204 92l0 1M50 133l-1 1M50 132l0 3M67 128l1 1M181 121l-1 1M199 146l0 1M237 124l1 1M76 169h0M130 175l-1 4M149 166l2 1M147 167l-2 1M178 172h0M200 161l2 1" stroke="#5a48d8" stroke-width="6" stroke-opacity="0.88"/><path d="M2 29h0M3 26l0 3M9 25l-3 2M7 25h0M13 5l2 2M113 20l1 2M139 27l-3 0M135 21l1 2M177 10h0M187 1l0 2M195 24l0 1M1 32l0 2M123 31l-1 3M165 52h0M167 52l-2 1M201 41h0M236 56l3 3M234 33l-3 0M78 110h0M80 101l0 3M191 92l0 2M192 95l-2 2M141 129h0M130 133l4 0M202 148h0M201 150l3 1M209 119l-1 0M186 129l0 2M214 137l-3 3M211 138h0M46 168l0 1M103 178l1 0M112 158l2 1M167 175l1 0M199 153l0 1M200 152l3 0M201 152l1 1" stroke="#3a2cc0" stroke-width="5" stroke-opacity="0.88"/><path d="M38 8l-1 0M220 4l0 1M229 6l2 1M214 11l-4 0M121 59l1 1M131 55l-2 2M128 55l0 1M132 59l3 1M56 81l-2 1M189 64h0M197 61l0 4M209 69l1 3M192 60l-1 3M191 63h0M134 104l2 2M178 98l0 1M201 98l2 2M133 136l2 2M183 123l2 3M193 161l-1 0M214 164h0M216 163l-2 1M239 179l0 2M240 179l1 0M226 170l3 0" stroke="#4a3ad0" stroke-width="5" stroke-opacity="0.88"/><path d="M54 2l0 4M35 16h0M35 17l1 1M116 13l-1 3M144 5h0M204 13l1 0M157 31l-2 2M182 41l1 1M185 56h0M236 58h0M239 59l-2 3M4 72l-1 1M219 73l-1 2M27 105l1 1M124 116l-2 2M204 91l2 3M50 131l1 2M67 127h0M66 129l0 1M93 140l2 1M97 140l-1 0M99 140l-1 1M16 150l2 1M146 167l4 0M161 168l-2 3M178 170l0 1M200 165l1 1" stroke="#5a48d8" stroke-width="5" stroke-opacity="0.88"/><path d="M-1 60l0 2M177 35l3 2M237 53l-3 2M132 80l0 1M133 82l-3 2M157 70l-1 1M156 75l1 1M184 76h0M212 66l-2 3M222 79l4 1M161 97l0 4M104 138l2 3M163 120l-1 2M158 117l-2 2M152 132h0M216 122l-2 1M23 178l1 4M122 175l1 1M118 175l-1 1M237 167l1 1" stroke="#6a58d8" stroke-width="5" stroke-opacity="0.88"/><path d="M18 8l0 1M97 15l4 0M170 5l-1 1M0 59l1 1M5 58l-1 2M87 63l1 0M131 83h0M212 67l0 2M159 98l4 0M163 101l2 0M107 140l-2 1M109 137l0 1M208 164h0" stroke="#6a58d8" stroke-width="4" stroke-opacity="0.88"/><path d="M167 -1h0M203 13l0 4M203 16l3 1M156 32l1 2M187 54l0 3M5 74h0M98 138l1 2M181 125l-3 0M215 121l-2 1M17 152l2 0M199 165l2 2M198 162l1 1" stroke="#5a48d8" stroke-width="4" stroke-opacity="0.88"/><path d="M177 4l1 1M204 7h0M229 4l-2 2M85 54l1 2M145 42l0 1M144 42l1 3M240 36l-1 3M55 80h0M80 82l0 1M171 119h0M177 99l2 0M19 122l-1 2M18 120l-2 1M-1 164l2 1M193 160h0" stroke="#4a3ad0" stroke-width="4" stroke-opacity="0.88"/><path d="M195 22l1 1M227 6l-1 4M50 58l-2 1M165 53l-3 2M93 80l3 2M151 90l0 3M132 133l-1 2M113 162h0M130 163l0 1M131 161l1 4M167 173h0" stroke="#3a2cc0" stroke-width="4" stroke-opacity="0.88"/><path d="M20 8h0M112 24h0M99 15h0M121 18h0M177 5h0M221 4h0M231 7h0M227 9h0M129 56h0M180 44h0M237 54h0M236 58h0M217 55h0M232 33h0M132 82h0M170 62h0M198 63h0M189 70h0M218 75h0M224 79h0M26 106h0M30 96h0M84 109h0M62 113h0M112 107h0M119 119h0M133 94h0M175 119h0M200 100h0M194 93h0M222 103h0M231 118h0M86 131h0M65 127h0M97 141h0M133 132h0M132 137h0M163 122h0M175 128h0M208 122h0M186 129h0M3 163h0M18 151h0M76 167h0M75 168h0M103 180h0M111 161h0M128 176h0M129 162h0M122 175h0M167 175h0M159 169h0M178 172h0M153 160h0M195 159h0M208 165h0" stroke="#2a1e8a" stroke-width="2.6" stroke-opacity="0.75"/><path d="M187 106h0M120 173h0M149 22h0M195 49h0M2 172h0M94 82h0M238 46h0M237 128h0M175 62h0M235 68h0M64 78h0M137 29h0M65 158h0M158 11h0M132 43h0M224 140h0M26 142h0M106 37h0M91 119h0M66 112h0M197 53h0M136 7h0M115 73h0M111 46h0M109 100h0M172 95h0M85 106h0M76 43h0M126 27h0M168 106h0M145 103h0M176 144h0M139 38h0M173 122h0M6 68h0M15 116h0M29 167h0M219 134h0M47 124h0M92 176h0M118 19h0M120 174h0M116 109h0M226 40h0M142 44h0M101 42h0M215 179h0M150 76h0M72 121h0M34 64h0M159 148h0M32 16h0M218 30h0M162 101h0M45 117h0M235 21h0M35 156h0M119 39h0M145 117h0M58 62h0M120 176h0M147 132h0M218 177h0M20 30h0M47 20h0M205 64h0M77 154h0M162 157h0M69 37h0M109 40h0M141 147h0M193 164h0M85 48h0M113 45h0M14 104h0M92 65h0M141 99h0M208 112h0M112 89h0M119 33h0M138 86h0M124 34h0M225 135h0M31 70h0M57 67h0M97 45h0M114 4h0M187 28h0M230 171h0M134 160h0M210 49h0M184 28h0M111 13h0M33 50h0M89 147h0M161 39h0M89 125h0M137 86h0M212 22h0M6 161h0M12 56h0M87 5h0M62 174h0M73 32h0M210 68h0M14 175h0M99 120h0M101 8h0M37 71h0M75 46h0M99 107h0M153 147h0M5 70h0M90 166h0M19 2h0M178 149h0M67 132h0M117 9h0M228 82h0M221 3h0M211 71h0M167 21h0M155 42h0M152 49h0M106 173h0M152 166h0M139 113h0M221 147h0M143 104h0M209 94h0M57 126h0M73 50h0M101 6h0M10 93h0M162 75h0M105 122h0M146 179h0M173 152h0M49 83h0M191 74h0M38 121h0M5 44h0M231 179h0M69 140h0M212 145h0M25 35h0M44 149h0M160 149h0M13 110h0M142 34h0M238 86h0M11 83h0M232 147h0M168 42h0M215 140h0M217 48h0M87 8h0M193 88h0M96 158h0M155 176h0M187 57h0M102 92h0M110 142h0M179 68h0M107 90h0M113 160h0M34 72h0M161 54h0M3 174h0M79 66h0M114 106h0M226 8h0M207 156h0M213 147h0M56 168h0M106 177h0M126 40h0M224 150h0M182 95h0M70 38h0M143 113h0M222 165h0M112 31h0M170 145h0M120 154h0M85 59h0M180 149h0M222 19h0M115 79h0M54 166h0M72 4h0M108 74h0M231 164h0M141 137h0M66 18h0M93 8h0M46 179h0M36 163h0M203 176h0M196 47h0M106 151h0M124 133h0M180 99h0M50 72h0M0 72h0M226 26h0M48 2h0M235 82h0M132 138h0M44 90h0M29 154h0M58 165h0M146 0h0M218 120h0M135 64h0M162 143h0M179 74h0M225 46h0M96 95h0M179 54h0M236 121h0M34 79h0M238 124h0M191 16h0M186 49h0M220 72h0M191 164h0M201 120h0M45 27h0M138 126h0M54 151h0M215 53h0M101 131h0M209 143h0M233 174h0M87 135h0M118 4h0M8 20h0M173 43h0M66 74h0M141 168h0M41 113h0M216 51h0M225 20h0M102 142h0M218 94h0M39 54h0M49 143h0M234 91h0M238 180h0M147 179h0M172 101h0M121 59h0M137 32h0M236 32h0M63 61h0M89 79h0M87 22h0M99 147h0M29 166h0M104 14h0M5 25h0M101 16h0M222 13h0M62 80h0M216 128h0M100 167h0M38 91h0M189 180h0M80 29h0M138 134h0M87 60h0M227 89h0M84 58h0M128 62h0M70 113h0M191 17h0M198 142h0M177 146h0M66 67h0M185 24h0M47 177h0M227 57h0M43 6h0M148 68h0M53 163h0M160 18h0M209 45h0M64 27h0M189 109h0M177 158h0M209 49h0M61 164h0M139 70h0M29 37h0M115 103h0M100 102h0M6 174h0M112 13h0M77 163h0M197 94h0M45 21h0M160 72h0M41 30h0M205 77h0M21 110h0M69 32h0M63 129h0M57 107h0M36 92h0M75 92h0M232 60h0M234 50h0M108 72h0M213 117h0M206 172h0M97 87h0M169 149h0M28 125h0M133 157h0M127 71h0M191 29h0M42 58h0M68 59h0M20 94h0M152 134h0M105 157h0M123 39h0M169 126h0M85 32h0M25 164h0M72 121h0M150 179h0M200 164h0M165 54h0M201 52h0M82 153h0M106 117h0M141 70h0M81 44h0M237 9h0M57 106h0M95 112h0M15 76h0M173 60h0M169 145h0M238 56h0M145 114h0M203 65h0M98 154h0M205 20h0M12 122h0M172 36h0M234 132h0M180 145h0M61 48h0M211 7h0M86 119h0M224 144h0M176 59h0M123 92h0M153 24h0M23 54h0M103 140h0M236 144h0M175 35h0M96 111h0M72 94h0M165 38h0M214 71h0M105 129h0M30 20h0M169 160h0M28 59h0M25 48h0M11 170h0M51 57h0M103 40h0M36 80h0M88 61h0" stroke="#30306a" stroke-width="1.8" stroke-opacity="0.8"/></g>
</g>
<g clip-path="url(#cp17)">
<rect x="40" y="672" width="119.8" height="90.4" fill="#fbfbfb"/>
<g transform="translate(40 672) scale(.5)" fill="none" stroke-linecap="round"><path d="M72 13l0 3M227 4l-2 3M141 78l0 1M131 64l0 1M58 143l-4 1" stroke="#b09ce4" stroke-width="8.8" stroke-opacity="0.35"/><path d="M11 25l-1 0M43 28l-2 3M147 11l-4 0M171 1l0 4M19 48l-2 3M18 40l-1 1M18 58l1 3M19 45l-1 0M6 50l4 1M44 33l0 4M43 31l0 1M46 30l-4 2M63 55l4 2M79 52h0M82 57l2 2M114 36l3 2M108 55h0M98 50h0M156 31l1 1M174 51h0M182 54h0M192 41l0 1M78 87l0 1M70 76l-2 1M108 78l1 2M112 82l-2 2M147 79h0M18 100l-2 2M-1 119l5 1M37 108l-1 2M40 115l-1 0M55 106l-5 1M70 103l0 1M67 96l1 0M100 109l2 1M108 111l-1 2M142 97h0M209 115l0 3M229 97l0 1M1 132l-1 1M5 131l-4 0M45 133l-1 1M40 125l-1 0M64 132l1 1M72 125l0 1M100 135h0M94 130l-2 2M133 129l-1 1M121 145l0 1M119 131l4 1M159 122l-2 2M169 124l0 1M2 170l2 4M22 153h0M1 165l-1 1M85 177l-2 0M113 170l-4 1M98 169l-1 1M112 176h0M139 165l3 1M141 169l4 0M169 157l-2 1M161 164l1 0" stroke="#b09ce4" stroke-width="7.8" stroke-opacity="0.35"/><path d="M15 2l1 1M21 -1l-1 3M10 27l-1 0M34 14l-2 0M58 3l-5 1M48 18l-1 1M71 5l-3 3M85 6l-2 4M87 24l2 0M99 7l4 1M120 25l1 2M147 7h0M199 13h0M199 15l1 3M227 22l4 1M19 38l3 2M54 45l-1 1M55 54l3 3M79 42l-1 1M76 57l-3 3M84 50l-2 1M62 53l-1 1M114 52l2 1M133 34l1 2M168 49l0 2M204 37l-2 2M181 60l0 1M225 56l-1 1M3 72l2 3M19 84l1 0M6 82l-1 0M60 80l-4 2M52 63l1 0M53 70l1 2M85 60l-1 0M98 61l3 0M115 65l4 0M129 77h0M145 83l3 1M148 79l-2 2M160 65l0 3M238 88l0 3M231 76l3 2M37 117l2 0M36 109l2 2M81 90l-2 1M111 92l0 3M113 106l0 1M109 95l1 2M167 113l2 0M174 116h0M200 92l2 3M201 89l-2 3M198 110h0M220 93l-1 4M10 130l3 3M13 132l-2 3M46 121l-2 1M52 129l-1 2M32 148h0M30 135l1 2M67 139l-2 2M103 134l4 0M90 120l2 2M128 133l3 2M122 137h0M166 125l0 1M173 148l0 1M222 142l2 2M225 149l2 0M89 165h0M72 158h0M71 160l-3 3M114 180h0M112 179l-1 3M148 166l-1 2M207 174l0 2M180 169l2 1" stroke="#b09ce4" stroke-width="6.8" stroke-opacity="0.35"/><path d="M47 15l-1 1M41 26l0 1M49 18l-4 1M88 8l1 1M98 0l0 3M234 3l-1 0M0 47l2 4M49 31l1 0M38 52l4 1M68 56l3 4M78 59l3 1M100 43l1 0M228 45h0M50 74l3 1M69 77l1 0M75 68l1 2M107 89l-1 2M104 72l1 2M173 90l-1 1M185 87l2 4M12 97l1 4M48 100l2 1M132 93l0 1M172 90l1 2M201 115h0M54 128l2 4M59 123l2 0M103 148l1 1M118 132l2 3M157 135l0 2M167 122l1 2M18 167l2 1M57 151l-2 3M72 174l-4 3M118 172l3 0M129 166l3 3M143 162l-2 0M202 172l2 0M201 171l2 3M222 157l1 3M213 159l0 1" stroke="#b09ce4" stroke-width="5.8" stroke-opacity="0.35"/><path d="M72 13l0 3M197 39l1 0M5 71l2 1M141 78l0 1M52 133l2 1" stroke="#4a36b4" stroke-width="6" stroke-opacity="0.88"/><path d="M227 4l-2 3M99 44h0M125 76l2 2M141 107l-3 1" stroke="#8070d4" stroke-width="6" stroke-opacity="0.88"/><path d="M18 47l0 2M55 42l-1 2M75 50l1 0M54 60l1 2M199 89l1 0" stroke="#5a44c0" stroke-width="6" stroke-opacity="0.88"/><path d="M49 51l0 2M66 79l0 2M131 64l0 1M189 87l1 1" stroke="#6a54cc" stroke-width="6" stroke-opacity="0.88"/><path d="M130 41l1 1M58 60l0 2M9 96l-1 4M37 114l1 3M44 135l-1 1M58 143l-4 1M148 182l2 1" stroke="#7a66d4" stroke-width="6" stroke-opacity="0.88"/><path d="M11 13l1 4M32 19l1 0M33 20l-2 2M43 28l-2 3M73 12l2 3M109 6h0M109 5l0 2M102 7l-3 1M98 7l2 1M147 21h0M150 18l2 0M150 14l0 3M225 22l2 1M27 28l2 3M18 58l1 3M21 57l-4 3M57 56l1 5M55 58l0 3M63 55l4 2M68 56l3 3M200 42l-4 2M182 54h0M181 55h0M62 82l-4 1M70 76l-2 1M161 89l-1 1M57 119l-1 1M43 112l2 2M67 96l1 0M134 90l3 3M159 107l0 2M160 107l-2 1M40 125l-1 0M38 122l4 1M54 133l-2 1M68 137l2 4M94 130l-2 2M121 145l0 1M159 122l-2 2M196 134l1 0M26 161l-2 3M25 162l0 1M122 168l0 1M120 169l-1 0M169 157l-2 1M173 156l-1 4M171 156l-1 2M161 164l1 0" stroke="#4a36b4" stroke-width="5" stroke-opacity="0.88"/><path d="M17 1l-1 0M57 3h0M47 18l1 1M71 5l-4 1M87 13l1 1M89 10l4 0M99 9l0 1M168 0h0M164 -3l3 1M238 4l-3 3M19 48l-2 3M6 50l4 1M43 31l0 1M46 30l-4 2M79 57h0M79 56h0M64 42h0M114 36l3 2M108 41l-1 1M128 43l2 2M179 31l2 1M192 41l0 1M1 69l1 4M51 74l-1 2M68 87h0M63 61l-2 2M157 65l2 1M26 109l-2 1M-1 119l5 1M6 98l3 2M112 100l0 4M108 111l-1 2M172 90l-2 2M170 92l2 0M16 148l3 4M89 129l1 0M89 126l-1 4M121 133l2 1M119 132l-1 1M168 120l2 2M22 153h0M85 177l-2 0M70 162l-2 1M115 178l-2 3M111 179l1 1M113 170l-4 1M98 169l-1 1M141 169l4 0M198 167l3 0" stroke="#8070d4" stroke-width="5" stroke-opacity="0.88"/><path d="M11 25l-1 0M12 24l4 0M3 11l-5 1M109 17l0 3M110 19l-2 3M104 8l0 2M153 26l3 3M200 4l0 3M18 40l-1 1M19 45l-1 0M54 44l1 3M79 44l1 0M77 48h0M62 38l0 1M79 52h0M77 47l-1 4M82 57l2 2M86 58l-2 0M175 32l3 2M156 31l1 1M164 54l-2 1M207 27l-2 4M27 84l1 2M31 79l1 3M78 87l0 1M74 67l-2 0M73 86l-3 1M108 78l1 2M105 81l0 1M112 82l-2 2M199 88l-3 3M30 109l-3 3M24 103l-3 1M49 114l0 1M62 122l0 2M63 99l2 2M142 97h0M140 95l0 4M205 94l-3 1M229 102l-2 0M232 101l4 0M14 126l1 4M5 131l-4 0M0 131h0M0 130l4 0M53 130l1 2M66 128l4 2M64 132l1 1M72 125l0 1M115 134l0 2M100 135h0M92 120l1 2M89 123l-3 1M166 124l3 2M181 140l-1 2M6 156l3 3M2 170l2 4M5 170l-2 3M112 176h0M110 175l1 0M224 152l0 1" stroke="#5a44c0" stroke-width="5" stroke-opacity="0.88"/><path d="M65 16l1 4M86 14l3 1M146 7l2 3M232 -1l-1 3M5 41l-3 1M1 46l1 4M3 53l1 0M53 32l-1 4M51 35l1 1M31 57l-3 1M31 57l-1 3M79 60l-1 0M78 56l-1 3M108 55h0M143 53l0 3M181 61h0M230 45l-1 1M21 66l0 2M21 66l-2 1M14 75l4 3M28 81l1 0M56 74l-2 0M56 72l2 0M67 67l-1 0M66 81h0M156 87l-1 0M157 88h0M171 64l-4 1M205 68l0 2M193 83l-3 3M1 99l0 1M18 100l-2 2M17 100l-1 2M55 106l-5 1M80 106l3 2M82 109l4 1M112 108l3 2M100 109l2 1M149 94l0 1M209 115l0 3M207 113l0 4M59 143l1 0M61 142h0M68 141l1 2M70 146h0M133 129l-1 1M228 123h0M216 124l-5 0M217 123l1 4M1 165l-1 1M47 175l0 1M46 177l2 1M50 178l1 1M85 177l1 3M139 165l3 1M182 171l2 3" stroke="#6a54cc" stroke-width="5" stroke-opacity="0.88"/><path d="M65 13l0 1M147 11l-4 0M171 1l0 4M169 1l-1 3M56 39l-1 4M54 43l1 2M44 33l0 4M82 44l4 3M98 50h0M98 51l-4 3M174 51h0M172 52l3 2M228 41l2 2M3 69l-3 4M18 86h0M58 57l0 5M47 62l4 2M107 71l2 4M98 69l4 0M135 83l-2 2M147 79h0M146 83l1 0M236 89l5 1M25 105l0 3M37 108l-1 2M41 110l-4 1M40 115l-1 0M54 120h0M70 103l0 1M70 102l-1 1M105 94l3 1M113 89l-2 3M146 91l-1 1M229 97l0 1M219 95l2 0M1 132l-1 1M45 133l-1 1M56 133l-3 1M130 133l3 2M119 131l4 1M169 124l0 1M206 140l0 1M218 140l3 3M20 167l-1 2M83 175l0 1M82 172l1 4M150 173l-2 0M208 157l3 0" stroke="#7a66d4" stroke-width="5" stroke-opacity="0.88"/><path d="M22 4h0M21 -1l-1 3M20 1l1 1M46 4l2 3M88 11l-1 2M85 17l-4 0M80 21l0 1M82 17l0 2M146 8l0 1M151 1h0M199 15l1 3M3 40l-2 4M19 38l3 2M6 30l3 3M1 46l2 1M49 51l1 1M31 58h0M181 60l0 1M180 61l0 1M238 44l0 2M237 44l-1 0M23 68l-2 1M17 79l2 0M29 82l0 4M52 63l1 0M54 67l-3 0M55 63l-2 2M82 71l-3 3M78 73l5 0M65 81h0M85 60l-1 0M82 58l-1 2M70 67l0 1M68 68l4 1M190 86l0 1M192 83l-2 4M231 76l3 2M0 99l1 3M101 112l2 2M151 95l-3 3M201 89l-2 3M211 111l0 4M11 132l0 1M46 121l-2 1M52 129l-1 2M32 148h0M74 137l-2 4M63 141l-2 4M132 128l-1 2M204 131h0M33 168l0 4M72 158h0M207 174l0 2M180 169l2 1" stroke="#6a54cc" stroke-width="4" stroke-opacity="0.88"/><path d="M15 2l1 1M58 3l-5 1M66 5l1 1M68 5h0M73 6l-1 4M99 7l4 1M237 3l-3 3M22 47l-5 0M44 32l-2 0M44 32h0M107 41l1 0M110 42l-2 1M132 47h0M128 48l3 3M130 42l-2 3M133 34l1 2M137 36l-3 2M134 34l0 2M162 57l4 1M225 56l-1 1M3 72l2 3M27 75l1 2M-1 75l4 0M61 62l1 0M98 61l3 0M129 77h0M148 79l-2 2M145 77l2 3M171 90l4 2M160 65l0 3M25 111h0M25 109l4 2M0 121l3 0M8 98l-1 3M81 90l-2 1M83 91l-4 1M111 98l-2 1M109 95l1 2M143 107l-2 2M16 148l0 1M173 126l0 2M207 143l-3 0M225 149l2 0M20 148l0 4M30 162l3 2M83 176l1 1M84 174l1 1M71 160l-3 3M68 160l1 1M114 180h0M97 170l-1 0M177 178l-2 1M177 174l-2 4" stroke="#8070d4" stroke-width="4" stroke-opacity="0.88"/><path d="M1 9l0 3M10 27l-1 0M9 25l-1 2M42 22l0 1M85 6l-2 4M83 6l0 2M105 8l0 1M105 5l1 4M147 7h0M161 29l0 1M203 5l2 1M200 5l3 3M203 3l-2 1M228 14l-2 0M17 41l2 0M16 39l3 2M54 45l-1 1M56 33l1 1M54 31l2 2M55 54l3 3M79 42l-1 1M62 53l-1 1M63 36h0M58 38l3 1M157 31l0 1M159 30l-2 1M205 31l-1 1M23 62l0 2M24 64l-2 3M22 62l3 0M27 83l1 2M78 90l-1 1M113 79l1 1M183 85l4 3M233 84l2 0M236 82l-2 1M36 109l2 2M62 119l0 3M62 119l0 1M65 99l2 2M68 98l-2 0M62 97l1 2M167 113l2 0M168 111h0M168 111l-4 1M200 92l2 3M198 110h0M212 108l4 2M211 108l3 2M214 105l2 1M10 130l3 3M16 129l3 0M57 128l-3 2M69 131l-4 2M65 123l-2 1M60 123l-2 3M90 120l2 2M122 137h0M127 136l-5 1M123 135l-2 1M138 127l4 2M166 125l0 1M173 148l0 1M181 142l2 3M55 178l2 2M59 177l0 2M121 168l-4 0M112 179l-1 3M155 164l-1 3M156 165l-4 0M155 166l2 2M150 163l1 3M200 165l-3 4M223 154l2 3" stroke="#5a44c0" stroke-width="4" stroke-opacity="0.88"/><path d="M34 14l-2 0M33 16l-2 0M32 13l2 2M48 18l-1 1M69 16l-4 1M85 11h0M120 25l1 2M120 29h0M123 26l-3 2M20 56l-1 1M16 56l1 0M17 48l2 1M57 39l1 0M45 35l2 1M53 58l1 0M85 43l1 1M114 52l2 1M19 84l1 0M20 83l-2 1M53 70l1 2M145 83l3 1M177 61l4 2M198 75h0M238 88l0 3M238 89l-3 2M7 100l1 1M8 102l-3 1M24 107l-2 1M40 110l0 1M37 117l2 0M37 115l2 4M52 121l3 2M75 98l1 1M77 98l-4 2M111 92l0 3M113 106l0 1M141 91l1 2M143 91h0M227 96l2 1M227 98l-1 0M220 93l-1 4M213 109l-1 0M237 100l1 1M237 100l1 1M0 130l0 2M53 132l-1 0M128 133l3 2M121 136l-1 3M118 129l-2 4M222 142l2 2M224 141l-1 1M19 163l-1 4M89 165h0M85 175l3 1M148 166l-1 2M223 161l-1 0" stroke="#7a66d4" stroke-width="4" stroke-opacity="0.88"/><path d="M33 16l0 1M71 5l-3 3M67 4l-1 0M87 24l2 0M85 22l1 1M93 19h0M92 19l1 0M96 20l-1 2M147 20l-1 1M151 15l0 1M199 13h0M199 12l2 1M202 3l0 1M201 5l1 1M227 22l4 1M24 28l1 0M76 57l-3 3M76 55l-1 3M84 50l-2 1M81 47l2 2M114 56h0M115 56l1 1M168 49l0 2M210 36l-4 1M204 43l-5 0M204 37l-2 2M230 40l1 1M9 71l-2 1M6 82l-1 0M51 66l-1 0M60 80l-4 2M69 73l3 2M106 88l3 4M105 89l2 2M115 65l4 0M118 63l-4 1M137 78l1 2M143 78l-2 1M165 60l1 2M164 60l2 1M164 57l-1 0M229 78l2 2M150 99l3 0M134 91l3 2M174 116h0M178 114l0 1M167 103l0 3M237 105l1 2M238 105l1 1M13 132l-2 3M13 134l0 3M11 134l2 0M30 135l1 2M29 136l1 1M52 135l1 1M67 139l-2 2M103 134l4 0M118 143l4 1M158 123l0 1M194 134l0 1M49 177l0 4M148 164l-1 2M164 164l0 4M163 167l1 0M197 170l-1 0M200 169l0 2M210 157l0 4M221 154l3 1" stroke="#4a36b4" stroke-width="4" stroke-opacity="0.88"/><path d="M10 22l2 2M0 8l1 1M41 26l0 1M84 9l3 1M98 0l0 3M160 30l-2 0M161 27l-2 4M205 4l-2 2M198 3l4 2M0 47l2 4M79 41l3 1M81 46l-3 2M163 55l-2 3M205 30l-1 3M185 87l2 4M22 106l2 4M62 99l1 2M199 108l0 1M199 109l-1 2M16 125l-2 2M54 128l2 4M66 122h0M69 125l3 0M117 134l1 0M143 126l-2 0M140 128l1 3M214 127l2 1M2 154l4 2M112 178h0M151 162l-2 4" stroke="#5a44c0" stroke-width="3" stroke-opacity="0.88"/><path d="M47 15l-1 1M50 8l1 0M70 18l-2 1M88 8l1 1M88 13l-1 0M22 40h0M49 31l1 0M78 59l3 1M108 56l-1 0M144 55l1 0M19 76l0 1M4 71l1 2M66 65l1 0M68 65l1 3M72 68l-2 1M159 87l0 2M169 65h0M207 68l-1 0M209 70l-1 0M195 81l-2 2M0 96l-1 2M84 109l-1 0M148 91l-1 3M13 132l1 4M12 131l2 3M50 130l3 2M69 142l4 3M133 130l-1 0M24 168h0M71 155l0 3M129 166l3 3M148 178l3 1M182 168l1 0" stroke="#6a54cc" stroke-width="3" stroke-opacity="0.88"/><path d="M50 16l-2 3M64 11l4 1M67 14l-1 0M19 46l-2 4M14 46l2 3M38 52l4 1M81 47l1 1M100 52l-1 0M228 45h0M33 78l-1 1M30 74l-4 2M53 61l1 3M104 72l1 2M103 73l1 1M148 76l-4 3M178 60l-2 3M24 107l-2 1M70 107l-1 1M72 112l0 1M114 107l2 1M213 109l1 4M47 134l-1 1M55 141l0 3M103 148l1 1M103 149l2 1M121 129l-1 4M18 167l2 1M153 181h0M222 157l1 3" stroke="#7a66d4" stroke-width="3" stroke-opacity="0.88"/><path d="M49 18l-4 1M47 16h0M101 5h0M170 4h0M167 13l3 1M234 3l-1 0M68 56l3 4M66 41l2 3M100 43l1 0M157 58l3 2M164 56l1 0M26 73l5 1M2 70l0 1M24 68l-1 2M50 74l3 1M69 77l1 0M75 68l1 2M99 60l-2 0M173 90l-1 1M172 89l4 2M238 88l-2 2M108 97l4 2M132 93l0 1M133 91l0 2M133 93l-3 3M172 90l1 2M59 123l2 0M118 132l2 3M157 135l0 2M167 122l1 2M174 128l-1 1M176 130h0M199 141l3 2M199 140h0M57 151l-2 3M54 152l4 1M72 174l-4 3M100 169l-1 1M143 162l-2 0M178 176l-1 2" stroke="#8070d4" stroke-width="3" stroke-opacity="0.88"/><path d="M200 13l3 0M25 31h0M113 56l0 5M168 52l0 1M4 83l0 1M56 79l2 3M107 89l-1 2M161 88l1 2M194 77l3 1M12 97l1 4M56 117l4 1M57 119l3 4M48 100l2 1M148 103l1 0M174 119l4 0M201 115h0M66 141l1 0M197 134l-1 4M118 172l3 0M202 172l2 0M202 170l1 2M201 171l2 3M213 159l0 1M212 160h0M220 153l-1 1" stroke="#4a36b4" stroke-width="3" stroke-opacity="0.88"/><path d="M11 24h0M1 8h0M39 22h0M38 26h0M48 18h0M48 18h0M49 7h0M66 11h0M69 18h0M93 17h0M109 17h0M106 8h0M100 7h0M147 6h0M147 22h0M171 3h0M168 -1h0M150 1h0M198 14h0M230 1h0M18 58h0M21 40h0M2 48h0M8 50h0M2 49h0M4 54h0M53 35h0M45 35h0M58 57h0M54 58h0M30 57h0M57 34h0M80 59h0M75 59h0M80 57h0M106 40h0M130 40h0M142 54h0M156 33h0M179 32h0M180 60h0M233 41h0M229 44h0M28 73h0M18 77h0M24 67h0M18 83h0M5 70h0M59 80h0M32 81h0M59 60h0M78 87h0M66 63h0M81 73h0M67 76h0M69 77h0M70 69h0M100 62h0M133 85h0M147 80h0M132 65h0M162 88h0M175 60h0M197 72h0M191 84h0M197 91h0M232 78h0M238 91h0M2 101h0M30 111h0M1 117h0M24 106h0M58 117h0M38 114h0M45 114h0M50 113h0M36 109h0M53 106h0M50 98h0M56 121h0M70 108h0M85 108h0M62 123h0M80 90h0M62 100h0M68 97h0M114 110h0M148 92h0M142 97h0M134 93h0M174 117h0M209 115h0M229 97h0M220 93h0M215 110h0M12 130h0M14 128h0M11 135h0M13 133h0M44 133h0M30 136h0M63 123h0M72 125h0M105 134h0M117 134h0M101 134h0M133 130h0M123 137h0M142 128h0M166 124h0M202 130h0M201 142h0M224 143h0M215 124h0M4 170h0M32 164h0M58 152h0M69 177h0M89 165h0M85 176h0M70 161h0M97 171h0M168 157h0M150 165h0M199 168h0M211 157h0M223 159h0M220 152h0M222 155h0" stroke="#2a1e8a" stroke-width="2.6" stroke-opacity="0.75"/><path d="M5 95h0M238 66h0M79 178h0M154 133h0M180 114h0M129 110h0M67 174h0M160 121h0M26 134h0M213 87h0M153 124h0M82 47h0M89 52h0M105 77h0M179 154h0M149 104h0M229 135h0M169 11h0M214 107h0M196 98h0M106 154h0M211 144h0M67 61h0M137 157h0M91 63h0M201 111h0M144 58h0M135 165h0M13 178h0M206 112h0M28 136h0M42 41h0M194 20h0M37 89h0M169 85h0M175 149h0M184 168h0M130 115h0M58 108h0M160 158h0M70 173h0M120 164h0M13 74h0M207 170h0M54 40h0M140 45h0M51 160h0M213 5h0M214 156h0M52 64h0M85 57h0M68 107h0M220 62h0M81 56h0M175 97h0M44 106h0M115 58h0M107 154h0M187 179h0M38 12h0M165 16h0M121 54h0M157 82h0M98 116h0M175 149h0M97 109h0M205 1h0M142 120h0M54 22h0M82 161h0M194 100h0M166 36h0M196 127h0M12 151h0M224 94h0M7 42h0M186 125h0M21 122h0M3 156h0M77 41h0M197 36h0M148 179h0M200 102h0M99 26h0M52 20h0M88 8h0M119 149h0M104 163h0M85 177h0M157 133h0M67 49h0M45 58h0M208 104h0M103 37h0M124 135h0M169 37h0M134 174h0M156 87h0M110 98h0M238 13h0M57 56h0M67 102h0M223 75h0M183 37h0M120 42h0M67 20h0M45 26h0M90 110h0M128 128h0M25 99h0M229 168h0M87 125h0M118 107h0M109 130h0M190 96h0M38 80h0M101 18h0M87 14h0M217 84h0M130 172h0M85 68h0M98 39h0M69 177h0M57 85h0M190 137h0M127 53h0M105 51h0M51 180h0M41 84h0M208 44h0M10 179h0M38 143h0M227 153h0M210 137h0M162 95h0M1 133h0M21 143h0M194 179h0M124 121h0M119 49h0M50 142h0M221 7h0M188 129h0M175 89h0M207 113h0M3 56h0M88 128h0M91 2h0M196 17h0M109 83h0M188 46h0M199 135h0M237 72h0M118 107h0M230 160h0M169 134h0M18 62h0M181 25h0M218 142h0M228 94h0M68 85h0M229 165h0M78 37h0M64 33h0M54 46h0M1 165h0M75 21h0M48 109h0M148 66h0M34 14h0M232 21h0M221 153h0M64 157h0M11 52h0M97 112h0M211 38h0M123 55h0M210 27h0M26 11h0M92 165h0M71 137h0M78 7h0M209 113h0M239 70h0M217 64h0M61 114h0M109 112h0M91 40h0M28 126h0M181 73h0M166 24h0M168 124h0M40 146h0M82 46h0M125 152h0M105 20h0M113 57h0M222 144h0M3 28h0M234 147h0M183 80h0M93 55h0M53 12h0M24 59h0M43 93h0M22 20h0M189 39h0M157 91h0M128 175h0M187 6h0M168 22h0M137 103h0M107 70h0M176 49h0M90 92h0M152 7h0M171 84h0M182 119h0M212 104h0M9 86h0M16 174h0M202 21h0M237 141h0M216 35h0M135 119h0M4 79h0M160 29h0M149 8h0M70 21h0M31 76h0M138 35h0M159 44h0M60 153h0M212 57h0M8 123h0M27 177h0M170 58h0M186 69h0M171 28h0M101 30h0M121 61h0M151 20h0M8 180h0M124 83h0M82 23h0M122 146h0M184 13h0M157 134h0M73 35h0M10 61h0M170 121h0M40 91h0M150 148h0M89 173h0M119 168h0M80 21h0M191 108h0M11 100h0M18 91h0M174 99h0M3 88h0M143 51h0M187 89h0M236 101h0M81 161h0M239 12h0M64 90h0M65 98h0M42 149h0M201 101h0M82 57h0M179 146h0M106 125h0M210 122h0M146 100h0M222 36h0M122 59h0M98 43h0M90 31h0M201 88h0M131 26h0M43 126h0M230 174h0M203 80h0M199 112h0M73 119h0M123 18h0M174 26h0M51 7h0M162 134h0M183 64h0M213 127h0M11 93h0M7 26h0M29 136h0M143 108h0M54 119h0M155 159h0M59 62h0M198 71h0" stroke="#3a3450" stroke-width="1.8" stroke-opacity="0.8"/></g>
</g>
<g clip-path="url(#cp18)">
<rect x="167" y="672" width="120.2" height="90.4" fill="#f8f8fa"/>
<g transform="translate(167 672) scale(.5)" fill="none" stroke-linecap="round"><path d="M31 2l-1 1M58 9l4 2M212 0l1 4M30 48l-3 1M162 53l-4 2M151 67l-2 3M196 72l-1 3M191 61l3 3M226 73l1 0M229 64h0M27 115l0 3M175 107l1 0M191 104l4 1M183 111l0 4M233 114l1 0M26 151l-3 2M8 153l3 1M40 154l-1 2M141 169l1 0M154 178h0M196 155l4 2M236 152l3 1" stroke="#a890e0" stroke-width="8.8" stroke-opacity="0.35"/><path d="M16 7l3 3M9 14l-2 1M3 10l-1 1M6 15l1 3M13 23l2 2M14 -1l-1 5M15 3l3 1M42 7l-4 1M44 25l1 3M57 8l0 4M60 0h0M48 11l0 1M62 10h0M70 21l0 3M86 16h0M72 20l1 1M67 8l1 4M63 15l1 0M101 18l2 4M137 1h0M136 11l-1 1M134 -1l0 4M124 24l2 3M131 0l-1 3M128 0l0 1M173 18l2 3M179 22h0M178 7l4 0M176 24l-3 1M151 0l4 2M180 0h0M184 23l1 2M194 21l-3 1M193 20l2 1M201 14l2 1M182 17l0 4M185 22l3 3M180 14l4 3M222 17l-3 3M235 3l-3 0M224 3l-2 4M226 3h0M234 4l1 0M13 50l0 3M29 52l1 2M23 43l-1 1M46 52l-1 1M40 32l-2 2M55 47l0 3M44 49l2 4M57 50h0M58 48l-1 4M73 60l1 0M99 32l-1 0M129 45l-3 3M120 29l2 3M152 32l-4 1M158 52l0 1M167 32l4 1M160 45l-3 2M162 39l4 0M164 53l-1 3M169 38l2 2M170 41l0 1M194 57l0 1M187 53l4 2M191 52l-1 4M182 29l1 3M194 58l-3 0M202 31l2 3M231 47l-4 2M236 44l-1 1M228 32l0 4M240 44l-3 1M238 53l-2 0M211 57l1 0M28 88l-2 1M10 68l0 1M4 66l0 2M20 89l3 2M28 78l4 0M52 86h0M50 79h0M56 66l3 2M39 80l-3 0M73 81l-1 1M68 63l0 1M105 88l1 1M131 67l0 3M133 72l-3 1M174 74l3 1M176 72l-2 1M177 62l-1 0M177 75l-1 2M155 65l0 2M155 63l-2 3M197 74l2 1M203 82l-1 0M180 71l2 3M188 61l-1 1M186 61h0M204 82h0M209 60l-1 1M184 82l-2 1M203 70l-2 4M211 80l3 2M229 77l0 5M230 78l-1 0M231 85l2 1M222 70l0 2M230 81l0 2M20 107l-1 3M10 104l1 3M20 93l-3 2M33 111l-1 4M69 102l-2 3M71 94l1 2M122 119h0M129 118l0 2M173 110l-3 1M175 115l1 2M178 109l1 1M165 103l1 4M154 117l0 1M196 111l2 2M206 100l-1 0M198 112h0M189 109l-3 2M230 108l-1 1M224 107l-2 0M229 107l2 2M242 92l-4 1M217 111h0M241 103l-1 2M215 94l-4 1M20 121l0 1M24 144l-3 2M17 147l1 1M14 127h0M30 128l4 3M53 126l-3 2M46 125l-3 2M78 143l0 2M85 145h0M62 140l1 3M63 142h0M86 124l-2 1M101 135l2 4M148 129l0 3M150 145l-1 2M154 136l1 1M171 128l-1 1M164 122h0M174 147l-1 1M177 146l-1 1M172 135l0 1M153 137l-2 1M210 140h0M206 135l2 2M181 141l1 1M200 123l3 3M207 134l-2 4M182 147l2 1M217 131h0M212 125l-2 0M239 129l2 1M238 144l0 1M216 127l-1 3M6 178l2 0M15 154l-2 3M51 168l-1 0M54 174l4 2M30 167l1 1M41 168l-1 1M42 178h0M63 154l2 1M75 180h0M88 174l-3 1M110 166l-3 1M110 170l-1 1M146 170l-5 0M137 173l3 1M180 168l1 4M164 154h0M158 160l-1 0M192 159l-4 0M193 166h0M193 158l1 1M198 157l2 3M208 152l1 0M181 151l1 0M183 165l-2 3M202 153l0 1M228 164l-3 0M235 167l1 1M220 166l2 2M213 171l-1 0M211 172l3 3M217 157l-4 2" stroke="#a890e0" stroke-width="7.8" stroke-opacity="0.35"/><path d="M23 9l-1 3M8 17l-3 3M22 9l2 1M4 18l-4 1M44 4l-2 4M52 10h0M52 13l0 3M41 9l-4 2M56 15l5 0M59 2l-2 3M41 29l1 3M57 2l2 1M70 12l-2 4M71 0l3 3M101 28h0M117 15l-2 4M132 12l1 5M143 4l2 0M130 20l3 0M127 16l1 1M129 0l0 4M154 17l3 3M176 18l0 1M163 10l-2 0M182 1l3 2M183 18l-1 1M196 18l0 2M184 23l-3 1M181 20l0 4M184 26l-2 1M222 11l2 2M225 1l-2 3M232 0l-1 0M232 30l-1 1M10 54l-2 3M23 43l2 0M9 45l-3 1M28 49l3 3M17 45l1 0M22 45l-4 0M27 34l-1 4M20 46h0M59 51l1 3M62 40h0M88 40l3 2M62 45l1 1M76 38l-1 2M88 59l2 2M71 32l3 1M112 39l5 0M149 37l0 3M148 38l2 3M130 53h0M164 45l-1 1M170 35h0M159 58l-4 0M176 42l1 1M168 45h0M173 52l-1 2M177 41l-1 4M170 50l1 2M178 29l3 2M174 37l0 1M202 51h0M200 46h0M205 54l1 0M195 55l2 3M204 52l0 1M195 50l-1 2M205 36l-1 2M191 57l1 2M195 50l-2 3M202 60l-4 0M236 52l-1 0M233 39l-1 0M223 43l0 1M234 49l1 2M231 37l2 3M216 46h0M236 52l0 1M1 80l1 0M14 90h0M22 90l1 1M9 82l-1 1M13 77l1 1M52 69l2 3M49 80l-1 4M89 62l-4 3M69 89l4 0M63 65l-1 0M68 86l-1 1M71 81l5 1M103 89l1 2M93 67l-3 1M97 75l3 2M139 61l-4 1M136 71l3 2M142 69l0 1M132 82l-1 0M139 66l-2 2M173 74l3 1M176 67l0 1M177 67l-4 1M175 81l-1 0M155 60l-1 2M152 87l1 1M199 79l-1 3M207 79l2 1M200 86l1 2M196 63l-1 3M200 67l-1 3M233 83l-4 3M211 84l4 1M227 78l2 3M237 81h0M219 69l-1 1M232 73h0M223 78l3 2M12 102l0 3M18 115l1 1M17 97l1 0M16 93l3 2M24 89l0 3M48 115l-4 0M41 98l0 1M127 107l1 0M138 96l0 1M159 114h0M177 110l0 1M178 117l-1 3M157 96l-2 3M175 114h0M200 103l4 2M197 110l1 0M221 109l3 0M223 110l-2 2M240 113l-3 0M222 108l2 1M223 109l-2 1M242 91l-4 1M15 130l-1 2M7 125l1 1M16 150l-1 1M21 145h0M5 121l-1 1M40 135l1 0M37 128l-1 1M42 126l-3 1M57 141l0 1M84 129h0M130 137l3 1M148 139l-2 4M157 142l-4 2M186 145h0M184 140h0M202 125l1 0M206 140l-2 2M203 135l0 1M209 127l1 2M180 144l2 4M237 120l0 1M233 135l1 4M2 175l-1 4M24 156h0M23 160l1 0M32 164l2 1M37 159l0 1M50 175l-4 2M53 176l-1 1M44 162l2 2M76 181l3 0M79 155l2 2M75 163l1 2M76 178l2 1M107 175l-3 2M93 170l2 1M135 169l1 0M172 151l0 2M155 172l2 1M170 151l1 4M161 153l-3 0M163 167l-1 3M164 176l2 1M203 170l3 3M201 154l-1 0M209 169l1 0M198 175l4 2M181 174l3 0M205 153l2 1M218 151l2 1M221 164h0M237 159h0M212 175l-1 2M212 155h0" stroke="#a890e0" stroke-width="6.8" stroke-opacity="0.35"/><path d="M0 8l2 2M45 28l1 2M35 28l-4 2M70 5l4 2M88 23l1 1M69 15l-1 3M81 0l-2 1M111 24l-2 1M111 9l1 1M116 20l4 1M150 18l-2 3M148 16h0M180 5h0M150 19l4 0M168 20l-1 3M189 6h0M204 21l1 0M183 -1l-2 4M223 3h0M26 41l-2 4M5 46l4 1M23 47h0M22 47l-2 3M11 50l3 4M21 43h0M34 42l0 2M33 34h0M48 45l3 2M43 52l4 2M48 56h0M72 36l-2 2M103 32l-2 1M127 48h0M139 31l1 0M160 49l1 1M164 49l1 2M200 48l0 3M194 50h0M186 30l-2 2M237 31l4 3M216 58l1 3M20 89l-1 1M12 68l0 3M39 61l1 3M72 59l-2 4M68 89l1 2M69 86l-3 3M130 80l-1 2M174 80l4 2M182 67l-3 2M234 71l-2 3M220 77l1 2M225 78l1 1M241 86l-1 3M239 85l-2 0M26 114l-4 2M10 103l-1 1M33 112l0 1M114 105l-3 3M193 106l2 1M196 113h0M194 99l1 4M236 96l-1 1M224 105l0 1M241 94l-2 4M228 111l-1 2M233 115l-1 5M219 112l-1 1M238 90l-2 2M6 146l1 2M15 149l2 1M55 138l1 3M61 122l0 2M97 142l-2 3M149 134h0M149 142l-4 2M177 144l-1 0M168 149l1 1M209 143l2 1M239 145l2 2M211 140l0 2M215 132l0 1M240 149l0 1M20 166l5 0M24 158l-1 1M18 160l0 3M13 178l-2 1M22 159l-3 3M4 176l-1 1M30 158l4 0M83 176l3 3M63 169l-3 1M117 172l3 1M142 163l-2 4M138 173l1 1M169 151l0 2M197 161l3 1M210 156h0M216 155h0M230 158l3 0M222 161l-1 1M212 167l3 2" stroke="#a890e0" stroke-width="5.8" stroke-opacity="0.35"/><path d="M4 23l-2 1M52 11l1 0M179 16l-3 4M71 91l0 1M151 67l-2 3M139 62l-3 0M191 61l3 3M201 82l0 2M219 67h0M183 111l0 4M233 114l1 0M183 139l-4 0M184 138l2 3M239 132l0 3M39 162l1 1M40 154l-1 2M173 155l-2 2M236 152l3 1" stroke="#6a54cc" stroke-width="6" stroke-opacity="0.88"/><path d="M31 2l-1 1M73 36l2 0M141 58h0M234 36l-1 0M196 72l-1 3M244 86l-1 3M175 107l1 0M152 88l1 3M189 107h0M48 130l-3 0M8 153l3 1M42 173h0M121 170l3 2M122 175l-1 2M134 169l0 2" stroke="#7a66d4" stroke-width="6" stroke-opacity="0.88"/><path d="M58 9l4 2M91 20l3 0M221 30l1 1M224 37l5 0M198 70l-3 1M174 116l2 1M194 109l1 1M223 108l3 1M10 129l2 0M40 133h0M217 124l-1 1M58 171l-1 2" stroke="#5a44c0" stroke-width="6" stroke-opacity="0.88"/><path d="M136 7l1 3M19 48l0 2M52 48l1 0M229 64h0M27 115l0 3M18 106l0 1M175 108h0M194 104h0M191 104l4 1M26 151l-3 2M69 180l-3 0M165 154l-1 2M154 178h0" stroke="#4a36b4" stroke-width="6" stroke-opacity="0.88"/><path d="M137 7l0 4M181 25l-2 0M212 0l1 4M30 48l-3 1M162 53l-4 2M74 56l-3 2M182 75l0 1M226 73l1 0M68 107l-2 3M7 126l-4 1M19 142h0M55 142l1 0M55 141l0 4M85 127l-3 3M166 150h0M141 169l1 0M196 155l4 2" stroke="#8070d4" stroke-width="6" stroke-opacity="0.88"/><path d="M16 7l3 3M9 14l-2 1M2 9l-2 1M2 26l1 4M36 26l-3 2M31 29l3 0M38 26h0M44 31l-1 1M70 21l0 3M68 25l2 0M65 11l3 3M69 15l-1 4M151 20l-5 0M143 14h0M150 19l-1 1M124 24l2 3M125 26l1 2M127 3l2 2M178 29l2 2M175 19l-1 0M177 21l-5 1M184 23l1 2M182 1l0 1M232 11l0 3M235 3l-3 0M222 1l-1 3M234 4l1 0M234 5l4 2M6 45l0 4M19 50l-1 1M22 46l-2 2M28 32l-1 2M13 38h0M30 34h0M58 48l-1 4M67 41l-2 1M93 49l2 2M96 50l1 1M99 37l1 0M100 35l2 2M146 44l1 3M134 57l1 1M152 32l-4 1M162 49l0 2M160 53l2 1M169 38l2 2M171 34l-4 1M187 53l4 2M187 51l4 3M194 58l-3 0M189 32l-1 0M234 46l-1 0M231 45l0 1M236 46l1 0M227 51l0 3M233 52l-4 1M28 88l-2 1M6 80l-2 3M52 86h0M43 78l2 1M46 79l3 3M73 81l-1 1M72 82l2 1M98 85l2 4M98 91l3 3M147 68l0 3M122 82l1 0M125 81h0M135 65l4 3M145 89l1 1M167 72l-3 0M155 63l-2 3M193 62l0 2M194 60l0 1M188 61l-1 1M185 60l1 1M194 64l-2 1M205 76l-1 4M209 60l-1 1M211 80l3 2M234 80h0M234 73l-3 0M234 69l-1 0M212 79l2 1M10 104l1 3M24 117l-4 1M24 119l4 2M54 92h0M71 94l1 2M71 92l-1 1M101 112l1 0M126 103l1 0M160 112l-4 1M196 111l2 2M197 95l1 2M195 93l1 0M196 95l3 4M185 102l4 0M197 106l1 1M196 99l0 3M215 102l0 1M238 107l2 3M234 111l4 2M208 100l1 1M24 144l-3 2M30 128l4 3M56 132l4 1M53 133l2 1M59 136l-2 3M79 127l0 3M97 144l-1 0M99 144l-3 0M150 145l-1 2M150 146l-1 2M159 148l-1 1M165 147l3 3M198 124l3 1M201 127h0M214 136l1 1M214 125l0 1M215 125l-2 0M239 129l2 1M214 130l2 2M216 127l-1 3M27 155l-1 1M27 154l0 3M54 174l4 2M46 179l3 1M49 180l-2 3M45 179l1 4M54 176l-2 2M74 173h0M72 170l1 3M74 173l-1 2M79 150l5 1M88 174l-3 1M67 171l-1 1M90 177l2 1M113 169l1 0M114 169l1 3M109 169l-2 1M108 168l-1 2M160 156l1 1M172 152l-3 1M192 159l-4 0M191 156l0 4M193 166h0M219 156l-1 0M217 172l3 1M215 170l1 2M228 156l0 2M213 171l-1 0M239 159l1 1M217 157l-4 2" stroke="#6a54cc" stroke-width="5" stroke-opacity="0.88"/><path d="M12 6h0M14 7l-1 2M3 10l-1 1M1 10l0 1M2 16l-2 2M15 3l3 1M44 25l1 3M44 29l-5 1M57 2l-1 1M60 0h0M60 3l-1 1M57 2l-1 2M62 10h0M62 7l0 1M59 9l0 4M59 8l0 3M59 10l-1 1M90 20l1 1M118 19l0 4M142 25h0M143 25l3 1M144 23l0 1M151 21l-2 0M173 18l2 3M179 22h0M180 0h0M182 -2l-2 3M183 3l0 1M182 17l0 4M185 22l3 3M214 5l2 4M217 6l-3 2M232 12h0M46 52l-1 1M53 52l3 2M54 53l-1 4M55 47l0 3M54 46l-1 3M57 53h0M43 53l1 1M58 51h0M75 55l-1 4M73 60l1 0M76 61h0M99 32l-1 0M99 30l2 1M149 36l2 1M153 41l1 1M172 49l-1 2M169 49l3 2M170 41l0 1M170 42h0M194 57l0 1M205 47l2 3M231 47l-4 2M226 39l1 4M229 41l-4 2M239 56l-2 0M238 55l2 3M235 58l4 0M242 49l-1 1M233 39h0M238 53l-2 0M12 68l0 1M7 84l-4 1M11 85l-1 0M21 89l-2 1M49 75l-2 0M48 71l-1 4M50 79h0M47 76l2 3M67 89h0M159 61l1 1M177 62l-1 0M178 61l0 2M175 73l2 2M175 71l1 4M155 65l0 2M197 74l2 1M205 80l1 4M209 82l-2 2M184 82l-2 1M235 75l0 1M233 80l0 2M231 66l3 3M12 103l3 3M20 93l-3 2M129 118l0 2M125 120l3 0M157 98l-2 3M151 93l-3 0M156 92l-2 3M175 115l1 2M172 115l2 1M175 114l0 1M172 118h0M174 118l-2 1M184 109l-4 2M194 106l0 1M224 107l-2 0M224 107l-1 0M228 102l-1 0M221 90l1 0M222 88l0 4M237 113l3 2M10 129l-1 1M0 121l1 2M28 134l-2 2M26 134l1 2M35 136l-3 4M78 143l0 2M63 142h0M63 138l3 1M132 120l3 2M132 121h0M154 136l1 1M171 128l-1 1M170 129l1 0M196 147l4 3M199 148l-1 3M209 139l-4 2M207 134l-2 4M205 134l3 3M199 137l4 2M217 131h0M218 131l0 1M212 125l-2 0M214 122l-1 1M212 118l2 2M236 147l-2 4M239 134l-1 0M209 145l1 1M24 157h0M33 160l4 1M37 168l-1 2M75 151h0M76 154l0 2M71 153l3 3M63 154l2 1M81 179l-3 1M75 180h0M77 178l-1 1M110 166l-3 1M107 156l1 0M137 173l3 1M138 172l2 4M152 176l-2 1M165 152l-3 1M163 155l3 2M162 154l2 0M208 158l-2 0M207 171l0 1M228 164l-3 0M220 166l2 2M222 164l1 1M224 167l-3 2M222 162l-2 4M223 159l0 1M216 177l0 3M221 158l0 1M225 161l-2 4" stroke="#5a44c0" stroke-width="5" stroke-opacity="0.88"/><path d="M13 28l2 3M14 -1l-1 5M49 6h0M57 8l0 4M80 4h0M63 20l-4 1M79 0h0M67 8l1 4M70 9l1 1M63 15l1 0M64 14h0M131 8l0 3M132 9l4 1M134 -1l0 4M136 1l-1 0M131 0l-1 3M169 28l2 3M151 0l4 2M201 14l2 1M189 22l-1 1M228 1l-1 3M223 3l-1 2M224 3l-2 4M227 -2l-2 4M229 -3l0 1M225 2l0 1M13 50l0 3M29 52l1 2M16 31l-1 2M24 49l-2 3M23 43l-1 1M27 52h0M45 49h0M44 49l-2 1M72 56l-2 4M72 59l1 2M70 33l1 1M93 32l2 4M125 35l0 1M168 50l-1 0M164 40l-4 1M162 40l0 2M164 53l-1 3M165 56l0 1M163 56h0M162 55h0M191 52l-1 4M203 62l-1 1M201 51h0M206 53l-1 0M189 58l4 2M217 45l-3 3M240 44l-3 1M216 61h0M218 58l0 2M22 87l-2 4M10 68l0 1M4 66l0 2M3 66l2 1M4 69l0 1M16 86l1 3M28 78l4 0M30 90l-4 2M68 63l0 1M176 70l4 2M176 72l-2 1M203 60l1 1M203 77l0 2M200 79l5 0M180 71l2 3M199 83l2 1M202 82l0 1M187 65h0M204 82h0M203 70l-2 4M231 85l2 1M222 70l0 2M228 75h0M224 75l-2 2M229 80h0M230 81l0 2M8 111l-2 0M33 111l-1 4M31 112l-2 3M122 119h0M126 116l0 1M152 91l0 1M151 93l3 0M191 109l3 1M206 100l-1 0M201 100h0M193 104l-1 2M202 99l-1 3M219 107l-1 1M218 108l-1 1M236 112l-3 2M222 109l-4 2M216 111l3 1M224 112l-4 1M219 110l1 1M215 94l-4 1M44 142l3 0M45 141l0 2M51 128h0M57 138l0 1M45 126l-1 4M46 128l1 0M46 125l-3 2M85 145h0M62 140l1 3M86 124l-2 1M99 148l1 3M98 152l0 2M138 121l-1 3M135 135h0M151 124l3 0M170 148l3 3M171 148l-2 4M164 122l-1 2M174 147l-1 1M185 145h0M205 123l0 3M238 144l0 1M21 151l1 3M20 154l-3 1M11 155h0M22 158l-2 2M23 159l-2 4M15 154l-2 3M1 159l1 0M59 168h0M44 172l-2 4M45 173l2 2M59 178l1 3M41 168l-1 1M86 175l-2 1M78 151l3 3M76 152l4 3M146 170l-5 0M146 171l0 1M125 171l-2 0M136 168h0M172 151l-2 2M157 166l-3 3M164 169l4 0M208 152l1 0M181 151l1 0M235 168l-2 4M211 172l3 3" stroke="#7a66d4" stroke-width="5" stroke-opacity="0.88"/><path d="M3 7l1 3M6 15l1 3M20 5l0 1M44 7h0M45 4l0 1M48 29l-2 3M48 29h0M40 3l-5 1M54 4h0M53 5l0 1M54 9l1 3M54 6l-2 1M36 4l-3 3M86 16h0M101 18l2 4M101 17l3 1M132 15l1 0M137 1h0M140 4l1 1M136 0h0M127 23l-2 3M136 5l1 2M140 5l-4 1M181 23l-1 2M175 5l0 1M154 18l-2 0M195 17l2 1M195 13l3 3M195 17l-2 0M180 14l4 3M185 17l-4 2M184 15l-1 0M181 23l2 1M196 17h0M197 19l-1 2M224 17h0M216 7l3 0M14 40l4 1M7 58h0M4 53l3 3M4 59l3 1M26 42l0 5M31 49h0M30 46l1 1M57 50h0M57 50h0M80 44l-1 0M120 29l2 3M158 52l0 1M167 32l4 1M169 33l-4 2M167 29l0 1M160 45l-3 2M162 39l4 0M205 51l2 3M202 48l-1 4M202 47l-2 0M182 29l1 3M202 31l2 3M204 33l0 1M206 50l4 2M230 42l4 2M228 32l0 4M239 32l1 4M223 33l-4 0M234 41l-3 3M17 86l-1 4M6 63l-1 0M15 77l0 2M16 76l-2 1M20 89l3 2M48 79l-2 1M56 66l3 2M57 65h0M56 68l-1 3M87 60l2 1M66 61l2 0M63 67h0M105 88l1 1M106 90l0 1M127 66h0M133 72l-3 1M131 71l0 4M162 64l0 2M203 82l-1 0M186 61h0M199 75l1 2M229 77l0 5M227 75l-1 0M230 78l-1 0M228 80l-1 1M18 94l-3 1M69 102l-2 3M134 111l1 4M140 118l-3 3M178 109l1 1M177 106l-4 3M198 112h0M189 109l-3 2M187 110l2 1M187 110h0M184 109h0M183 109l-2 1M230 108l-1 1M229 107l2 2M232 106l-2 2M221 111l-1 1M242 92l-4 1M238 91l1 1M217 111h0M223 108h0M220 108l2 1M17 147l1 1M19 148l1 3M20 140l-1 2M21 143h0M37 132l-1 2M53 126l-3 2M54 142l0 4M42 139l-1 1M85 130l0 2M101 147h0M152 131l-1 3M153 130l-3 1M175 146l1 1M166 149l-3 3M177 146l-1 1M172 135l0 1M174 135l0 2M168 133l0 3M188 124h0M210 140h0M206 135l2 2M215 143l0 3M200 123l3 3M199 130l2 1M198 128l1 4M182 147l2 1M240 143l-1 4M240 145l3 3M241 129l-3 2M239 127l-1 3M18 162l1 2M18 158h0M16 151l-1 0M32 158l0 3M30 167l1 1M28 162l-2 4M64 164l1 1M64 163l-3 2M82 181l0 1M75 183l-2 2M110 170l-1 1M141 169l0 2M160 166l-1 3M162 166l-1 4M184 151h0M193 158l1 1M193 160l-3 1M198 157l2 1M200 161l3 2M200 159l1 1M183 165l-2 3M218 162l-2 1M212 159l-2 0M214 155l-2 0M237 156l-1 5M236 157l0 2" stroke="#8070d4" stroke-width="5" stroke-opacity="0.88"/><path d="M13 23l2 2M42 7l-4 1M38 6l-3 0M56 2l-1 1M48 11l0 1M66 3l2 1M70 5l0 1M72 20l1 1M92 21h0M60 22l4 0M64 21h0M145 3l-1 2M136 11l-1 1M129 15l1 1M149 15l3 3M128 0l0 1M178 7l4 0M176 24l-3 1M176 23l1 1M154 3l-1 0M151 22l-1 2M151 23l1 3M194 21l-3 1M191 19l-2 1M189 19l1 2M193 20l2 1M188 23l1 1M221 4l1 0M222 17l-3 3M222 17l-4 0M230 1l1 0M236 30l2 1M226 3h0M234 24l-4 1M237 26l-3 2M18 47l-2 3M31 43l1 3M54 48l-1 2M40 32l-2 2M39 32l-2 3M41 31l0 1M31 53l3 2M44 49l2 4M32 52l-2 1M51 57l-2 3M54 55l-3 2M58 51l-3 3M129 45l-3 3M126 45h0M160 58l1 0M194 44l1 3M201 40l-2 2M194 50l3 2M236 44l-1 1M229 35l0 1M223 37l2 1M211 57l1 0M18 70l1 0M5 66l0 3M43 86l-2 3M46 84l0 1M38 62h0M39 80l-3 0M37 79l0 1M131 67l0 3M174 74l3 1M178 76l-3 3M172 68l-1 4M173 66l1 3M177 75l-1 2M151 88h0M198 63h0M231 83l0 2M28 116l2 0M20 107l-1 3M11 91l4 2M101 91l1 2M138 113l0 1M137 95h0M144 98l0 1M140 97l3 0M173 110l-3 1M157 94l-3 2M165 103l1 4M156 116l1 1M154 117l0 1M188 113l-2 4M208 97l3 1M199 100l-2 3M196 106l2 1M198 104l-1 2M193 107l0 1M236 115l-1 2M222 109l2 0M210 98l2 3M241 103l-1 2M239 102l-2 2M20 121l0 1M24 143l-1 3M23 126l5 1M2 122h0M14 127h0M12 150h0M10 127l0 2M33 126l-1 1M101 135l2 4M148 129l0 3M146 128l0 2M141 125h0M164 122h0M171 128l-2 2M172 124l0 4M153 137l-2 1M181 141l1 1M240 138l-1 2M218 133l3 1M213 128l-2 4M21 151l-1 2M6 156l-2 1M5 155l-1 1M23 152l0 4M18 151l3 3M6 178l2 0M3 175l1 4M3 174l1 1M24 151l2 0M34 167l1 1M51 168l-1 0M57 167l-1 3M36 175l4 1M42 178h0M44 177l-2 1M48 179l-1 2M46 180l1 1M85 176l0 2M83 171l3 1M70 176l-3 4M104 173l0 1M139 161l0 4M180 168l1 4M164 154h0M166 155l-1 0M158 160l-1 0M170 154l-3 0M157 179l-4 2M196 155l2 1M198 157l2 3M202 157l-2 2M205 169l0 1M202 153l0 1M205 155l-1 1M235 167l1 1M236 167l-3 1" stroke="#4a36b4" stroke-width="5" stroke-opacity="0.88"/><path d="M23 9l-1 3M10 24h0M42 11l-2 2M52 13l0 3M57 2l2 1M70 1l-2 2M86 23l4 0M143 4l2 0M132 15l1 4M179 22l0 4M177 23l1 1M177 3l-2 1M175 22l2 2M176 18l0 1M150 23l1 2M163 10l-2 0M160 10l1 5M206 23l-2 2M191 17l2 4M181 20l0 4M180 21l1 2M222 11l2 2M221 10l2 4M225 1l-2 3M232 0l-1 0M236 28l-1 0M233 26l2 1M28 49l3 3M29 54l2 2M33 44l-1 2M50 52h0M54 54l1 0M174 37l0 1M172 37l-2 0M175 34l3 3M191 45l-1 3M196 38l2 2M196 39l3 3M195 50l-2 3M194 47l-3 1M239 29l2 3M231 44l3 0M226 35h0M17 69l3 1M68 86l-1 1M104 81l0 2M139 66l-2 2M153 80h0M154 79l-1 1M176 67l0 1M177 67l-4 1M156 60l-1 4M157 61l2 2M157 63l-1 1M175 74h0M175 71l-1 3M178 83h0M152 87l1 1M151 85l0 1M199 64l-1 0M228 80h0M223 72l3 0M223 69l2 1M225 85l0 1M233 83l-4 3M231 61l1 3M18 106l-1 3M16 93l3 2M9 109l2 1M12 109l-4 0M11 105l0 2M41 98l0 1M73 96l0 4M138 96l0 1M138 98l1 3M121 118l-1 1M123 117h0M124 118l-4 1M145 95h0M131 107l4 1M177 110l0 1M175 114h0M153 114l-2 1M181 109h0M184 108l0 5M207 99l1 4M192 104l-1 1M192 107l2 0M188 97l4 2M193 106l0 1M234 113l0 2M218 110l4 2M220 111h0M221 109l3 0M225 116l-2 2M242 102l-4 0M20 121l1 0M23 146l2 1M27 127l-1 2M17 124l0 4M16 125l-3 3M7 148l1 0M31 129h0M174 129l-3 3M203 143l-1 0M201 142l-3 3M199 141l-1 1M209 137l-1 0M209 142l0 1M214 130l1 4M241 145l-4 0M246 144l-2 2M215 129l-3 3M238 141l1 1M219 134h0M27 153l-2 0M22 156l1 2M24 157l-1 4M24 156h0M3 157l1 0M1 177l-1 1M32 164l2 1M33 165h0M56 169l2 3M49 179l1 0M90 179l-2 2M80 174l2 4M66 178l1 1M69 179l2 0M71 182l-4 0M71 177h0M75 163l1 2M76 164l-2 2M76 178l2 1M107 175l-3 2M103 174l4 2M101 165l1 1M139 162l-2 4M136 161l2 2M154 176l5 0M165 154l2 2M196 154l1 1M200 157l1 1M204 159l-3 1M198 160l3 2M202 159l3 2M198 158h0M205 170h0M181 174l3 0M205 168l2 2M211 154l-3 2M218 151l2 1M221 150l-3 3M215 152l3 1M215 168l-1 0M212 168l3 2M215 166l1 2" stroke="#4a36b4" stroke-width="4" stroke-opacity="0.88"/><path d="M11 2l1 2M12 2l-4 2M22 9l2 1M0 5l0 2M4 6l-3 0M0 3l0 2M12 29h0M2 14l-1 2M4 18l-4 1M0 19l3 2M38 29l-3 1M56 15l5 0M59 12l1 1M59 2l-2 3M130 20l3 0M130 20l0 4M127 16l1 1M177 19l-1 1M179 20l0 1M179 21l2 3M183 24h0M182 1l3 2M186 26h0M220 29l-1 0M217 29l0 1M215 6l-3 2M231 10l-1 5M232 30l-1 1M231 31l-3 0M233 28l0 1M239 13l-2 0M12 58l2 3M16 60l-3 2M23 43l2 0M12 35l5 1M49 52l2 2M55 56l-3 0M54 47l2 3M59 51l1 3M60 52l-2 2M61 49l-2 3M64 52l0 2M66 42l2 3M63 44l-4 3M66 41l1 0M76 59l2 2M73 40l2 2M62 40h0M62 45l1 1M61 46l-1 0M88 59l2 2M102 31l-1 0M149 37l0 3M142 53l1 4M148 38l2 3M130 53h0M171 49l-1 0M170 35h0M173 52l-1 2M177 41l-1 4M178 29l3 2M181 32l-3 2M189 52l0 1M205 54l1 0M209 55h0M205 36l-1 2M202 60l-4 0M227 48l1 1M238 55l-1 2M244 52l2 2M240 47h0M237 50h0M231 37l2 3M9 82l-1 1M45 75l1 3M175 81l-1 0M176 61l-2 2M202 64l-1 0M200 67l-1 3M228 78l1 5M227 82l-1 0M221 79h0M237 81h0M237 80l-1 2M232 73l2 1M234 65l0 2M233 68l0 1M230 66l1 2M12 102l0 3M24 89l0 3M23 85l2 3M35 114l-2 1M32 112l-2 2M40 109l0 1M40 109h0M159 98l-4 1M179 104l-3 3M178 108l-2 2M180 98h0M178 97l0 4M189 108l1 1M191 109l-1 3M190 112h0M233 107l0 2M224 107l-1 3M240 113l-3 0M227 100l3 1M222 108l2 1M226 108l-3 1M15 130l-1 2M13 130l-2 2M42 126l-3 1M130 137l3 1M135 123l0 2M126 126l4 2M152 144l-1 0M154 144l-1 0M196 149l2 0M207 124l0 2M210 122l-1 5M206 140l-2 2M203 135l0 1M233 135l1 4M232 131l1 1M237 146l-2 2M237 130l0 2M235 133l3 1M211 142l1 3M20 162l-2 4M20 162l-1 0M23 160l1 0M39 166l1 1M36 166l1 1M53 176l-1 1M74 152l0 1M72 153l3 1M62 152l1 3M108 154h0M173 179l0 1M161 153l-3 0M200 161l0 3M207 160l-2 0M209 169l1 0M209 169l-2 4M205 153l2 1M206 152l1 2M221 164h0M223 164l2 0M222 165l1 1" stroke="#5a44c0" stroke-width="4" stroke-opacity="0.88"/><path d="M-2 8l3 1M4 29l1 2M10 24l-1 3M17 16l4 1M52 10h0M40 26l0 1M41 29l1 3M70 12l-2 4M70 11l-1 0M111 23l-3 1M149 19l1 0M140 12l3 1M129 0l0 4M178 31l2 1M182 -3l1 1M190 13l3 1M194 14l1 0M233 11l1 1M219 8l-2 1M218 8l-3 4M233 1l-1 4M11 44l-4 1M9 45l-3 1M9 44l0 4M10 44l-3 2M17 45l1 0M22 45l-4 0M24 45l0 1M27 34l-1 4M13 37l2 3M29 43l4 0M35 41l-3 0M45 54l-2 3M51 46l-2 4M51 49h0M71 32l3 1M96 52l0 2M132 53l4 2M134 57l1 1M152 33l2 2M159 57l4 1M165 58l-1 0M159 58l-4 0M156 58l-1 2M159 49l0 3M161 49l2 4M161 50l2 0M161 57l-4 0M153 54l0 1M195 48l-1 1M195 55l2 3M191 33l-2 1M236 52l0 1M25 89l1 0M15 81l0 1M54 87l1 0M49 80l-1 4M70 79l0 4M69 89l4 0M71 81l5 1M72 81h0M93 67l-3 1M89 69l2 2M137 61l-3 2M141 86l3 1M124 84l2 0M163 75h0M161 74l4 1M173 74l3 1M174 74l4 3M156 64l-4 1M154 63l-2 2M199 82l0 3M203 79l-4 3M188 59l-2 3M201 86l-1 1M196 63l-1 3M227 78l2 3M219 69l-1 1M235 70l0 3M236 69h0M219 88l-2 3M223 78l3 2M18 115l1 1M21 116l0 2M48 115l-4 0M51 92l2 2M50 94h0M98 111l0 3M102 112l-1 0M127 107l1 0M159 114h0M160 112l-1 0M168 114l1 1M167 116l4 1M188 112l-2 0M183 110l1 0M185 104l0 1M197 110l1 0M210 102l2 3M233 102h0M7 143l1 1M7 144l-4 2M55 141l2 2M40 147h0M86 138l-3 3M169 148l-2 2M174 138l-2 3M200 124l-2 3M202 125l0 4M182 140l0 1M205 144h0M204 145l1 3M205 119h0M180 139h0M181 139l-1 0M201 126l-2 3M220 124l0 4M215 137l-2 3M241 132l-3 1M216 138l-4 0M217 131l-4 0M21 163l-2 0M20 160l-2 1M18 153l2 2M24 156l3 2M20 163l-2 2M53 176l2 3M50 175l-4 2M44 162l2 2M36 154l1 2M34 169l2 2M65 174l1 0M64 173l1 4M111 169l1 1M93 170l2 1M108 170h0M162 159l2 2M155 172l2 1M172 152l-1 4M164 176l2 1M167 175l2 2M167 178l1 0M171 151h0M192 157l0 4M192 164h0M196 168l2 1M215 174l-1 1M211 169l0 1M237 159h0M212 175l-1 2M213 177h0M211 175l0 4M219 167l0 3" stroke="#6a54cc" stroke-width="4" stroke-opacity="0.88"/><path d="M4 16l0 1M2 9h0M19 8l0 2M44 4l-2 4M36 9h0M38 7l1 2M53 0l-1 3M54 10l-1 1M66 14h0M65 14l0 1M100 22l5 0M132 12l1 5M126 20l-3 3M174 5l1 4M173 6h0M176 27l-2 1M172 12h0M152 18l0 1M163 6l2 2M198 20l4 0M201 18l4 0M183 18l-1 1M196 17h0M184 23l-3 1M229 5l4 0M224 18l-1 3M223 1l2 0M10 54l-2 3M26 52l-2 0M20 46h0M22 47l0 1M20 42l1 1M35 40l1 1M43 56l0 3M45 56l1 1M84 53l-2 2M85 51l-3 3M133 54l2 2M132 55l1 3M134 55l-1 4M122 34l-3 1M157 50l3 4M157 44l1 2M159 50l-4 2M176 42l1 1M202 59l2 1M202 51h0M200 46h0M182 29l1 2M236 52l-1 0M233 39l-1 0M223 43l0 1M219 42l4 3M224 44l-3 1M223 38l0 4M225 39l-1 4M228 32l2 1M235 41l3 0M7 64h0M6 63l0 1M13 77l1 1M35 61h0M52 69l2 3M89 62l-4 3M88 60h0M63 65l-1 0M65 64l0 1M103 89l1 2M139 61l-4 1M136 59l0 1M129 65l-3 0M151 72l-3 0M136 71l3 2M132 82l-1 0M133 73l-1 0M164 64h0M176 80l4 1M177 74l0 1M200 78l-2 1M203 69l-4 0M201 66l1 3M204 72l-4 0M201 70l-1 0M226 75l3 2M232 75l-2 4M232 74l-3 2M228 81l1 1M17 97l1 0M131 116l1 1M131 116l3 2M134 117l2 3M178 117l-1 3M176 120l2 1M197 110l2 2M240 94l2 3M242 98h0M223 110l-2 2M235 93l0 4M243 92l-1 1M223 109l-2 1M242 91l-4 1M240 91h0M7 125l1 1M5 123l3 2M21 140l-1 2M18 141l1 2M16 150l-1 1M20 152l-4 1M13 138l1 4M18 140l4 3M21 145h0M53 141h0M54 141h0M40 135l1 0M54 126l-1 3M37 128l-1 1M57 141l0 1M85 127h0M84 129h0M85 128l-1 1M149 134l2 1M175 148l-1 0M180 148l1 3M166 130l-1 4M189 125l1 1M213 136l-3 4M186 145h0M208 129l0 3M206 134l4 1M184 140h0M201 122l-1 4M202 121h0M201 129l2 2M180 144l2 4M237 120l0 1M238 141l1 3M239 143h0M2 175l-1 4M19 150l-3 3M43 152l0 2M66 165l4 0M76 181l3 0M139 165h0M142 170h0M136 168l0 1M203 170l3 3M206 170l1 1M201 154l-1 0M204 152l-1 1M183 152l3 1M200 154l-2 1M179 169l0 1M212 165l3 1M215 156l1 1M212 155h0M211 152l2 4" stroke="#8070d4" stroke-width="4" stroke-opacity="0.88"/><path d="M8 17l-3 3M14 26l-3 0M14 26l-2 3M6 16l3 2M9 14l4 3M9 19l2 3M13 1l-3 3M47 6l5 0M41 9l-4 2M76 2l-3 0M75 4l5 0M82 -4l2 2M67 9l-3 0M71 0l3 3M69 11l1 1M64 17l0 1M101 28h0M98 25l3 3M100 27l3 2M117 15l-2 4M151 3l0 1M154 17l3 3M181 8l-3 4M179 11h0M179 1l-1 0M177 0l0 3M169 26l-3 2M170 34l-4 1M189 21l-3 3M196 18l0 2M184 26l-2 1M204 16l-2 2M192 20l1 3M192 23l1 3M227 1l1 2M223 4h0M27 49l-1 4M73 57l0 2M88 40l3 2M76 38l-1 2M72 40h0M71 38h0M112 39l5 0M113 38l-3 0M95 33l3 1M142 55l-2 2M143 55l-1 1M125 35l-1 1M164 45l-1 1M168 45h0M165 42l2 3M170 44l0 1M170 50l1 2M169 53l2 1M168 48l2 2M165 58l0 1M203 58l2 4M204 52l0 1M195 50l-1 2M191 57l1 2M191 55l0 1M234 49l1 2M216 46h0M241 39l-1 4M1 80l1 0M14 90h0M16 87l-3 1M22 90l1 1M23 88l2 1M13 67l-1 4M18 86l-2 1M25 90l1 0M26 90h0M51 67l-3 3M53 82l1 4M97 75l3 2M142 69l0 1M140 72l2 2M177 74l0 3M155 60l-1 2M153 58l1 1M153 70l-2 4M153 73l-1 0M152 76l-1 1M179 81l0 4M180 84h0M208 60l-2 1M204 63l0 1M200 80l-1 1M182 72h0M199 79l-1 3M207 79l2 1M200 86l1 2M200 88h0M200 71l2 2M203 72l0 3M212 79l-1 2M211 84l4 1M217 71l2 4M223 73l1 1M232 73h0M229 80h0M227 79h0M36 101l1 2M36 104l1 1M37 103l0 3M31 110l-1 2M122 117h0M122 117h0M157 96l-2 3M195 109l0 2M194 113l0 1M210 99l-4 0M200 103l4 2M191 106l-1 0M183 106l2 2M220 107l0 3M229 110l-3 2M229 111l-1 0M239 107l3 0M233 110l4 3M5 121l-1 1M44 141l3 0M47 126l-2 1M48 140l0 5M49 142l-1 1M80 128h0M82 125l1 2M85 123l-1 2M106 140h0M97 144l-1 1M138 123l2 0M141 123l-1 1M148 139l-2 4M148 141l-1 0M149 140l1 1M172 149l0 1M157 142l-4 2M202 125l1 0M209 127l1 2M239 143l1 3M17 156h0M15 155l-1 1M21 159l-2 0M37 159l0 1M79 155l2 2M121 171l-2 2M121 166l3 3M135 169l1 0M139 169l-1 0M123 174l-2 2M139 158l1 0M138 157l-1 4M141 159l-2 0M172 151l0 2M169 153l3 2M170 151l1 4M163 167l-1 3M162 169l0 1M155 167l4 0M158 162l1 1M154 166l3 0M206 155h0M198 175l4 2M199 169l-5 0M219 176h0M218 176l3 2M212 175l-2 0" stroke="#7a66d4" stroke-width="4" stroke-opacity="0.88"/><path d="M1 9h0M12 24l-1 2M8 29l-3 1M35 28l-4 2M39 23l-2 1M42 28l3 4M111 24l-2 1M111 9l1 1M150 18l-2 3M150 16l0 4M126 2l3 2M179 18h0M189 6h0M204 20l2 0M233 7l1 2M218 7l1 2M5 46l4 1M22 47l-2 3M16 37l3 0M28 35l0 1M33 34h0M43 50l-1 4M56 47l-1 1M32 46l0 2M97 34l1 3M127 48h0M162 50h0M160 49l1 1M158 56l4 3M194 50h0M197 55h0M27 86l-3 2M16 88l-2 1M13 88l3 2M72 86l1 5M100 79l1 3M130 80l-1 2M148 70l4 2M178 72l-3 1M152 73l3 2M151 73l3 1M203 76l-1 2M199 78l0 2M193 60l-3 4M239 85l-2 0M212 78l-1 2M75 89l-2 4M166 115l2 4M187 104l-1 1M198 109l-3 3M194 99l1 4M224 105l0 1M210 104h0M228 107l-2 3M230 101l3 2M6 146l1 2M56 140h0M56 141l1 5M97 142l-2 3M149 146l1 1M149 142l-4 2M147 138l0 2M156 148l0 3M168 150l2 0M204 121l-1 1M209 119l-4 0M199 127l1 1M210 125l3 0M239 145l2 2M238 144l0 1M18 160l0 3M25 165l1 4M30 158l4 0M57 178l-5 1M52 178l2 0M66 170h0M160 152l-1 3M174 154l-4 1M171 151l-1 2M198 166l1 0M218 155l3 1M230 158l3 0" stroke="#6a54cc" stroke-width="3" stroke-opacity="0.88"/><path d="M10 27l4 1M11 26l1 2M15 28l0 3M38 8l-2 2M36 6l0 4M62 18l0 4M62 19l0 2M81 0l-2 1M70 9l0 1M132 8l-1 1M179 9l-3 3M180 5h0M200 27h0M195 19l1 0M195 22l1 2M223 3h0M223 3l0 4M224 1l0 2M12 51l1 0M15 34l0 2M18 31l-3 1M23 47h0M25 49l-1 0M72 36l-2 2M114 39l-1 4M95 34l-5 1M186 30l-2 2M236 46l-3 3M216 58l1 3M19 85l-2 1M52 66l0 1M51 85l2 1M53 78l0 4M64 63l-2 2M68 61l-2 3M94 78l-1 1M94 72l1 4M142 72h0M174 80l4 2M176 78l-2 2M179 83l0 1M199 78l0 2M187 66l0 1M234 71l-2 3M238 86l-2 4M232 85l-2 2M234 84l-2 0M223 71l-1 5M221 71l2 4M234 70l-2 4M26 114l-4 2M176 105l3 1M156 116l1 1M198 102h0M228 111l-1 2M225 110l-1 4M45 128l2 3M78 128l4 1M97 139l3 2M149 134h0M150 121l3 1M240 149l0 1M13 178l-2 1M4 158l1 1M0 159l1 3M-2 161l2 1M52 159l-1 0M51 161l-1 2M83 176l3 3M63 169l-3 1M117 172l3 1M125 172l1 1M167 167l-1 1M166 161l-1 3M169 151l0 2M209 150l0 4M218 175l0 1" stroke="#7a66d4" stroke-width="3" stroke-opacity="0.88"/><path d="M0 8l2 2M4 15l0 1M11 17l-1 1M45 28l1 2M65 14l1 1M87 14h0M69 15l-1 3M62 17l2 3M132 15l-2 2M167 16l1 1M150 19l4 0M204 21l1 0M194 19l-2 0M199 17l-2 2M229 2l1 3M217 5l1 2M30 50l1 0M28 50l1 2M34 42l0 2M33 43l3 3M32 45l-1 0M59 48l-4 2M43 52l4 2M83 52l-1 4M79 43l1 1M155 57l2 1M160 57l-1 2M174 39l2 1M176 43l1 0M200 48l0 3M182 28l-2 4M204 32l-1 1M233 39l2 1M20 89l-1 1M72 59l-2 4M69 86l-3 3M182 67l-3 2M180 73l0 1M225 78l1 1M10 103l-1 1M8 101l1 5M9 103l0 1M63 102l-1 0M196 113h0M241 94l-2 4M233 115l-1 5M238 90l-2 2M222 112l-4 2M222 110l0 3M237 95l1 3M238 91l-1 4M11 149l3 0M23 144l-1 2M55 138l1 3M41 137l2 4M177 144l-1 0M178 148l1 2M209 132l2 1M209 143l2 1M240 145l1 1M14 160l1 4M15 161l2 1M143 170l2 2M142 163l-2 4M138 173l1 1M203 153l0 1M213 159h0" stroke="#8070d4" stroke-width="3" stroke-opacity="0.88"/><path d="M23 12l0 2M28 10l-1 0M0 15l3 1M15 -1l-3 3M44 28h0M116 20l4 1M133 20l0 2M141 5l-2 1M180 20l-1 0M183 -1l-2 4M184 2l2 3M221 0l-3 1M232 15h0M21 43h0M58 55l0 1M48 45l3 2M48 56h0M46 59l0 1M73 60h0M104 40l2 3M103 32l-2 1M100 33l2 2M177 43l-2 4M179 30l0 1M174 44l-1 1M232 38l1 3M12 68l0 3M13 68l1 0M6 78l-3 4M51 79l1 0M68 89l1 2M68 87h0M160 61l-4 2M155 85l-1 1M220 77l1 2M232 78l0 1M236 63l0 2M241 86l-1 3M33 112l0 1M40 109l2 1M114 105l-3 3M175 105l3 2M152 92l2 2M186 109l-3 0M183 111l1 1M193 106l2 1M27 129l3 1M15 149l2 1M44 128l-3 0M38 135l-3 2M105 142l2 1M106 141l3 0M151 142l2 4M168 149l1 1M205 122l1 3M199 137l1 0M222 128l-2 1M20 166l5 0M20 167l0 4M22 159l-3 3M19 161l-1 0M36 164l3 3M37 166l-1 1M63 172l-1 1M54 175h0M106 155l-1 1M141 172h0M151 177l-3 1M197 161l3 1M216 155h0M220 167l2 4M222 161l-1 1M212 167l3 2" stroke="#5a44c0" stroke-width="3" stroke-opacity="0.88"/><path d="M42 12l-1 4M58 2l-1 2M70 1l-1 0M70 5l4 2M88 23l1 1M148 16h0M156 4l-4 2M162 8l1 4M171 28l0 2M168 20l-1 3M222 3l4 1M223 2l-2 1M26 41l-2 4M14 46l4 3M31 47l0 1M30 46l-1 0M11 50l3 4M11 54h0M32 46l-4 2M26 53l3 3M32 53h0M50 55l-1 0M139 31l1 0M164 49l1 2M165 47l1 4M166 49l-2 0M198 51l-1 0M195 50l-4 1M237 31l4 3M236 32l0 2M213 56l1 2M39 61l1 3M42 81l-4 1M140 67l-1 1M175 70l1 5M157 79l-3 3M177 81l0 3M197 64l-3 1M224 83l2 1M30 115l-2 1M15 93l2 3M138 114l0 1M130 109l1 0M130 110l1 1M153 113l0 5M192 103l1 1M236 96l-1 1M220 108l2 3M221 109l0 4M219 112l-1 1M212 101h0M23 147l2 0M27 126l-2 1M-1 119l1 0M61 122l0 2M149 135l1 1M211 140l0 2M215 132l0 1M241 144l-4 2M24 158l-1 1M21 153l2 0M4 176l-1 1M5 175l-1 0M25 153h0M57 169l0 1M86 178l-2 0M83 175l2 1M67 177h0M79 178l0 3M135 166l2 1M210 156h0M203 153l-3 3" stroke="#4a36b4" stroke-width="3" stroke-opacity="0.88"/><path d="M24 11h0M14 4h0M4 17h0M11 23h0M3 23h0M7 29h0M10 24h0M23 10h0M15 23h0M15 2h0M2 16h0M53 10h0M40 15h0M45 3h0M41 7h0M56 11h0M38 30h0M55 0h0M43 30h0M58 3h0M58 1h0M38 8h0M67 2h0M72 5h0M65 14h0M72 21h0M78 5h0M68 13h0M62 20h0M71 3h0M63 19h0M104 20h0M111 23h0M112 10h0M117 16h0M131 10h0M133 15h0M131 15h0M133 20h0M148 18h0M126 24h0M142 27h0M130 2h0M166 17h0M179 30h0M155 19h0M175 11h0M180 23h0M175 27h0M175 23h0M180 4h0M152 2h0M150 23h0M179 18h0M180 0h0M177 19h0M167 23h0M184 25h0M207 24h0M193 22h0M183 18h0M187 20h0M189 24h0M183 23h0M204 17h0M193 22h0M224 13h0M221 -1h0M217 9h0M224 3h0M232 14h0M223 4h0M223 18h0M224 3h0M223 6h0M234 25h0M17 40h0M30 52h0M24 46h0M20 44h0M30 48h0M21 46h0M31 43h0M44 52h0M54 52h0M54 54h0M54 51h0M38 34h0M32 55h0M49 46h0M56 49h0M43 54h0M55 46h0M31 46h0M31 54h0M49 54h0M47 56h0M75 56h0M66 42h0M61 40h0M88 60h0M104 40h0M98 35h0M94 35h0M148 39h0M141 59h0M139 34h0M150 32h0M172 50h0M161 57h0M163 42h0M170 36h0M177 43h0M162 51h0M164 37h0M165 54h0M162 54h0M194 57h0M188 54h0M191 45h0M192 54h0M204 50h0M201 40h0M187 53h0M192 57h0M196 58h0M202 32h0M202 50h0M204 38h0M207 50h0M199 61h0M228 48h0M232 43h0M240 33h0M235 51h0M226 35h0M238 46h0M16 89h0M11 69h0M21 90h0M1 68h0M47 79h0M52 87h0M45 76h0M36 59h0M50 78h0M55 72h0M58 70h0M37 79h0M49 82h0M70 87h0M64 63h0M70 64h0M99 89h0M99 76h0M136 62h0M127 64h0M138 73h0M151 69h0M174 75h0M151 79h0M177 71h0M177 67h0M175 68h0M178 81h0M175 81h0M155 62h0M178 82h0M152 89h0M154 68h0M180 73h0M206 82h0M204 81h0M202 76h0M201 84h0M199 79h0M189 64h0M201 86h0M206 79h0M203 74h0M200 71h0M231 80h0M232 72h0M227 80h0M212 81h0M224 71h0M236 75h0M230 79h0M229 77h0M232 86h0M232 73h0M231 73h0M229 83h0M212 79h0M27 116h0M18 107h0M9 103h0M18 96h0M11 110h0M25 115h0M19 94h0M33 112h0M53 93h0M120 121h0M127 116h0M120 118h0M128 120h0M171 110h0M156 100h0M180 98h0M156 95h0M178 109h0M176 108h0M175 107h0M172 114h0M165 115h0M152 92h0M156 116h0M185 109h0M204 99h0M202 103h0M185 104h0M199 101h0M193 105h0M184 113h0M219 107h0M233 108h0M226 105h0M227 112h0M223 107h0M229 109h0M218 114h0M236 92h0M239 107h0M236 114h0M237 111h0M221 92h0M240 104h0M225 107h0M222 109h0M240 113h0M23 147h0M23 147h0M16 152h0M28 134h0M20 141h0M10 129h0M45 142h0M55 138h0M52 129h0M34 128h0M45 129h0M47 125h0M57 139h0M40 133h0M77 145h0M85 125h0M107 143h0M106 140h0M102 136h0M132 139h0M148 135h0M135 121h0M149 146h0M152 133h0M155 136h0M164 124h0M164 150h0M172 128h0M164 122h0M173 140h0M177 147h0M171 152h0M166 132h0M152 138h0M190 126h0M181 141h0M206 145h0M197 149h0M184 140h0M183 145h0M203 125h0M181 139h0M200 142h0M203 136h0M200 138h0M184 150h0M220 126h0M211 125h0M241 140h0M241 144h0M214 126h0M214 139h0M241 130h0M212 141h0M241 145h0M214 131h0M239 129h0M23 152h0M24 158h0M17 163h0M1 177h0M15 162h0M11 179h0M8 179h0M15 157h0M5 159h0M26 152h0M39 161h0M58 174h0M59 168h0M44 174h0M36 177h0M54 175h0M47 163h0M84 177h0M75 175h0M69 179h0M70 178h0M74 165h0M108 165h0M107 176h0M94 170h0M108 168h0M151 177h0M136 168h0M159 157h0M171 179h0M160 159h0M173 157h0M166 169h0M159 168h0M164 178h0M169 154h0M169 153h0M170 152h0M165 152h0M196 154h0M191 158h0M206 172h0M210 169h0M199 174h0M208 152h0M203 162h0M227 164h0M233 171h0M218 152h0M214 167h0M213 167h0M233 158h0M237 152h0M213 172h0M238 158h0M219 164h0M212 175h0M212 154h0M236 159h0M220 161h0M215 169h0" stroke="#2a1e8a" stroke-width="2.6" stroke-opacity="0.75"/><path d="M27 105h0M126 53h0M210 120h0M224 163h0M34 18h0M174 26h0M134 120h0M150 139h0M68 3h0M31 178h0M162 3h0M87 79h0M218 161h0M6 178h0M194 46h0M122 16h0M46 61h0M7 145h0M147 149h0M228 57h0M78 20h0M166 39h0M5 99h0M178 124h0M126 69h0M94 65h0M219 90h0M23 35h0M184 50h0M147 131h0M10 17h0M235 167h0M86 58h0M110 19h0M10 15h0M187 105h0M63 143h0M207 118h0M183 121h0M43 85h0M82 28h0M30 165h0M130 172h0M75 86h0M202 5h0M19 105h0M13 104h0M134 155h0M96 125h0M146 91h0M146 94h0M67 62h0M150 150h0M237 177h0M191 24h0M27 167h0M61 87h0M129 39h0M207 50h0M18 77h0M84 156h0M94 123h0M48 167h0M166 93h0M189 94h0M171 58h0M41 137h0M190 11h0M97 77h0M80 68h0M238 44h0M184 31h0M175 130h0M39 29h0M139 135h0M80 47h0M132 174h0M22 98h0M60 102h0M219 98h0M209 53h0M118 109h0M81 43h0M116 71h0M89 79h0M196 149h0M101 134h0M31 23h0M215 155h0M214 58h0M12 166h0M192 165h0M93 73h0M91 70h0M144 145h0M27 155h0M48 18h0M65 146h0M121 177h0M48 99h0M201 147h0M180 177h0M162 38h0M123 46h0M193 85h0M103 140h0M237 85h0M140 179h0M154 21h0M87 143h0M162 132h0M212 124h0M20 60h0M137 57h0M127 36h0M155 91h0M159 27h0M176 137h0M121 26h0M151 112h0M192 57h0M184 104h0M211 104h0M76 141h0M55 29h0M161 36h0M59 120h0M240 115h0M122 81h0M239 136h0M152 34h0M218 43h0M178 122h0M212 170h0M224 34h0M138 146h0M181 52h0M205 28h0M226 136h0M149 92h0M200 22h0M73 119h0M19 155h0M106 59h0M141 24h0M185 152h0M6 71h0M20 6h0M227 165h0M219 179h0M202 81h0M196 165h0M228 38h0M180 108h0M112 170h0M40 155h0M180 101h0M125 39h0M237 120h0M229 172h0M108 71h0M239 13h0M206 179h0M97 51h0M24 15h0M187 51h0M83 61h0M101 16h0M69 44h0M78 103h0M114 17h0M24 85h0M165 114h0M25 95h0M102 85h0M106 31h0M199 75h0M8 63h0M39 42h0M198 172h0M60 180h0M171 150h0M73 141h0M27 159h0M70 158h0M27 109h0M104 176h0M157 69h0M235 63h0M73 118h0M61 167h0M25 135h0M211 98h0M26 135h0M66 145h0M118 141h0M58 150h0M59 125h0M91 180h0M45 108h0M197 98h0M36 85h0M210 79h0M87 159h0M195 79h0M128 70h0M202 84h0M135 92h0M216 135h0M69 41h0M91 15h0M124 105h0M223 156h0M107 164h0M88 6h0M93 3h0M146 7h0M210 156h0M195 87h0M120 41h0M201 153h0M225 129h0M168 67h0M119 61h0M127 33h0M130 77h0M111 172h0M148 78h0M128 0h0M82 124h0M231 20h0M156 32h0M132 88h0M99 111h0M213 48h0M162 94h0M41 35h0M18 98h0M186 114h0M36 102h0M234 81h0M229 129h0M123 134h0M70 152h0M137 41h0M113 95h0M11 27h0M212 12h0M180 178h0M149 59h0M72 14h0M83 157h0M168 40h0M233 174h0M5 170h0M104 101h0M74 178h0M15 114h0M53 108h0M209 24h0M116 25h0M111 53h0M91 10h0M127 99h0M184 51h0M1 74h0M191 42h0M84 167h0M203 1h0M20 118h0M113 169h0M166 28h0M36 99h0M214 136h0M67 9h0M80 66h0M85 10h0M61 22h0M171 83h0M153 175h0M69 99h0M86 170h0M221 100h0M18 138h0M99 140h0M78 15h0M175 97h0M128 156h0M81 123h0M237 180h0M144 12h0M178 53h0M235 30h0M221 175h0M230 19h0M16 134h0M175 74h0M51 168h0M71 4h0M170 61h0" stroke="#202040" stroke-width="1.8" stroke-opacity="0.8"/></g>
</g>
<g clip-path="url(#cp19)">
<rect x="295" y="672" width="120" height="90.4" fill="#f8f8fa"/>
<g transform="translate(295 672) scale(.5)" fill="none" stroke-linecap="round"><path d="M40 13l0 1M107 11l2 2M176 12l0 1M210 13l-2 3M190 26l-1 3M186 21l1 4M185 17l1 1M95 29l1 3M208 49l1 5M160 70l4 2M183 64l0 2M194 84l-1 4M200 80l-1 2M170 114l0 2M0 136l1 2M3 139l-3 1M137 137l1 1M182 137l2 3M232 130l-1 2M36 153l1 0M175 155l0 1M200 150l3 1M221 165l0 2M236 151l-1 1M219 159l-2 3" stroke="#a890e0" stroke-width="8.8" stroke-opacity="0.35"/><path d="M5 4l-1 1M12 0h0M4 4l2 2M56 3l0 2M89 30l-1 0M79 19l-3 0M76 17l-1 1M67 16l3 3M84 12l-1 1M90 15l-2 1M85 20l-4 0M64 7l-3 4M102 28l-2 1M93 5l-3 1M101 10l-2 2M101 8l-1 1M97 17l2 3M99 7l0 1M146 29l-4 0M143 19l0 1M138 16l1 2M129 15l-2 0M129 8l-1 0M137 21l0 3M139 23l2 1M165 12l4 1M150 19l2 4M176 10l3 1M153 25l-2 2M153 10l1 2M152 25l-1 0M159 28l-2 0M159 22l1 0M158 27l0 1M201 7l-3 2M185 9h0M182 20l1 1M202 9l0 1M206 -2l0 4M182 29l2 1M192 14l2 1M206 16l-4 1M183 5l-1 0M234 10l0 1M221 0l4 1M228 2l-3 2M217 2l-1 0M225 29l-1 1M234 25l-2 1M218 4h0M213 4l-1 1M47 42l0 1M49 39l-1 1M57 38l0 2M86 38l5 1M80 41l-2 1M64 58l-1 1M117 33l-1 1M109 38l-1 2M96 58l2 1M142 52l1 2M128 59l3 2M149 49l-3 2M122 50l-1 1M133 33l0 1M140 31l-2 1M172 45l1 2M160 41l-4 1M155 36h0M175 57h0M174 32l1 0M174 54l-3 3M154 48l2 2M153 44l3 3M196 40l4 0M208 42l-2 2M195 37l1 1M182 31l-2 1M184 55l0 2M196 51l0 4M182 32l1 3M235 59h0M216 49h0M234 34l1 2M235 45l1 3M230 39l0 2M231 36l0 3M28 66l4 0M53 83l3 1M48 80l-1 3M65 80l-1 2M78 73l-3 1M62 78l0 1M114 73l-1 3M112 86l3 0M114 78h0M119 89l0 1M105 88l2 4M109 71l3 2M133 69l-1 0M129 71l2 0M179 85l-1 1M169 90h0M151 78l-2 2M167 62l0 1M173 61l-2 0M155 82h0M173 69l-1 3M167 68h0M170 70l1 2M172 61l1 2M186 73h0M240 87l-2 3M230 62l-2 3M225 78l2 4M230 66l-4 1M236 70l-4 2M238 86l-1 3M214 81l1 2M228 71l3 3M230 72l-1 1M239 88h0M224 73l-1 1M215 80l0 1M25 95l2 1M12 110l-1 3M-1 108l2 3M9 112h0M39 109l-1 4M99 108l-1 4M94 116l0 3M107 94l0 1M119 91l3 3M137 110l1 5M139 116l-1 1M129 111l-2 2M149 112l-1 1M163 120l-2 0M179 117l1 1M152 116l1 3M151 108l0 1M169 95l0 1M172 108l2 1M187 96l1 0M181 117l-1 3M186 92l-1 4M181 94l-1 1M206 102l1 0M199 114l0 3M203 92l1 0M208 99h0M211 102l-4 1M210 102l-1 1M219 103l2 2M219 102h0M209 105l3 2M238 95l-4 1M16 144h0M31 129h0M46 139l-1 0M52 135l2 0M86 126l-4 0M113 141l0 1M114 144l1 3M138 126h0M140 141l1 2M139 142l2 4M127 132l1 2M126 128l2 3M159 124l-3 0M173 128l-2 3M171 121l0 2M166 127l3 1M163 122l1 1M155 122l-3 3M167 127l1 1M163 122l-4 0M168 124l-4 2M204 143l3 0M183 140h0M193 138l-2 1M207 124l-2 1M187 122h0M185 137l0 4M203 124h0M208 140h0M191 135l-4 3M210 130l1 0M236 147l-2 3M219 131l0 4M239 142l-1 2M219 134l2 2M218 127l1 3M217 135l1 0M15 170l-3 2M7 167l1 1M7 159l1 3M32 158l-3 2M84 173l-3 2M86 154l1 0M72 168l-2 0M113 153l-1 3M117 161l-1 0M117 159h0M113 173l3 4M119 163l2 1M140 159l0 1M134 161l-1 1M137 156l-2 0M140 171l2 0M157 171l2 1M164 161l0 1M192 155l0 2M201 160l-1 1M200 173l-1 3M189 163l-2 3M201 165l1 0M224 166h0M219 156l0 1M220 162l-1 0M228 173l3 3" stroke="#a890e0" stroke-width="7.8" stroke-opacity="0.35"/><path d="M12 5l-2 3M27 2l0 4M60 10l-3 3M47 8h0M31 28l3 1M83 16l2 2M84 24h0M65 4l1 1M78 17l2 4M76 13l3 3M97 26h0M111 27l-1 0M92 15l0 2M108 27l2 4M94 25l1 0M148 16l1 1M146 21l-3 3M133 25l4 1M128 12l2 1M129 10l2 3M155 16l-2 1M153 10l-1 5M150 4l2 3M150 7l0 4M151 5l-1 3M155 5l0 4M169 8l-1 3M185 19l-3 1M184 24l-4 2M191 19l2 2M179 28l4 1M208 4l-1 3M199 3l-4 0M201 15l0 1M206 13l4 1M226 14l2 2M216 7l1 1M238 6l3 2M231 6l-1 1M215 4l3 1M231 26l-1 2M240 10l-1 0M226 11l1 0M49 43l1 0M65 46l-1 1M89 56l-1 4M67 56h0M64 46h0M87 39l-1 1M69 49l0 3M89 56l-3 1M115 30l-4 1M98 31l-1 0M95 53l2 1M95 57l0 2M115 30l-4 1M92 58l3 4M112 40l1 1M148 41l1 2M123 45l1 3M127 52l0 3M146 44l0 2M140 31h0M143 52l-1 1M161 43l0 1M179 46l-4 0M156 53l2 1M180 45l-1 4M161 47l0 1M179 45l-1 1M177 42l1 5M176 57l-1 0M193 34l1 0M186 53l-3 1M205 35l-1 2M196 42h0M207 49l-3 1M184 31l4 0M187 60l-1 0M208 40l-2 0M227 43l3 0M223 43l0 1M232 32l-2 0M233 39l-1 2M236 41h0M236 46l1 0M226 46l1 5M225 32h0M224 32h0M60 67l-2 1M62 85l-1 1M71 89h0M68 84l-3 0M67 80l-2 2M116 74l-4 1M105 79l-1 0M105 64l3 3M114 63l3 1M135 63l1 4M140 76l-2 4M136 67h0M124 64l-1 5M136 89l0 2M129 68l-5 1M125 89l-1 2M163 79l0 3M170 71l-1 2M153 64l1 2M178 67l-1 3M178 65l-1 0M158 83l1 0M179 68l-1 1M152 74l4 1M169 88l3 3M196 72l1 1M187 64h0M180 61l0 2M181 62l0 1M204 86l-4 0M200 71l1 4M195 82l3 2M187 67l1 4M191 75h0M201 89l0 1M227 66l0 4M220 82l1 1M236 61l3 0M7 119h0M2 115l-2 3M17 105h0M14 113l-2 3M31 100l3 3M32 104l2 4M39 108l-1 5M76 91l-2 0M76 93l-4 2M150 108l-4 1M144 109l4 2M150 99l-3 1M149 103l-2 1M144 112l-1 1M172 91h0M179 93l1 3M169 96l-1 3M179 118l-1 2M175 94l2 4M159 119l0 1M150 112l1 0M165 102l4 2M148 100l4 2M173 101l0 5M153 111l-2 1M185 92l-3 1M196 110l-1 1M201 113l0 3M199 119l2 2M194 118l0 2M213 104h0M238 104l1 1M222 100l3 1M215 97l3 2M240 95l-2 4M227 115l3 1M234 93l1 2M214 104l1 0M227 99l-3 0M213 97l-3 1M238 102l-2 2M240 98h0M218 99l0 3M5 147h0M53 133l3 2M38 142l2 0M51 134h0M68 146l0 2M72 138l1 1M72 139l-2 2M108 141l4 2M140 138l-1 0M136 130l-2 2M141 148l1 0M164 131l-1 4M171 128l0 3M163 125l-2 2M162 126l-4 2M175 136h0M167 146l1 1M175 150l-5 0M163 132l3 1M175 120l-2 3M181 144l1 2M206 148h0M186 122l-1 4M200 125l1 0M193 145l-4 0M184 141h0M209 145l-3 1M194 135l0 1M191 120l0 1M183 148l-1 1M204 148l-1 1M192 137l-1 2M179 142l3 3M187 137l1 2M236 147l-1 2M222 129h0M215 121l1 4M227 130l1 2M16 164h0M33 168h0M31 154l2 4M89 157l-1 1M86 156l4 3M87 151l-1 3M71 170l1 1M97 161l4 1M99 161l-1 0M94 158l-4 0M149 170l-1 0M128 157l-1 0M131 179l2 2M122 163l2 1M125 174l1 0M147 170l1 1M121 153l2 1M139 162h0M138 176l1 0M158 171l-1 0M160 168l-3 2M169 162l-3 0M164 168l1 2M154 174l2 1M203 166l1 1M201 171l0 3M190 169l0 1M183 169l1 1M204 158l-1 2M198 172l0 1M202 172l-4 1M234 174h0M219 168l1 0M241 172l-2 2M215 161l0 3M219 150l0 3M217 164h0" stroke="#a890e0" stroke-width="6.8" stroke-opacity="0.35"/><path d="M140 21h0M149 7h0M143 24l1 0M135 7l-3 1M147 20l-3 1M148 12l-1 3M155 16l2 4M161 24l0 1M177 22h0M178 14h0M201 14l-2 3M186 26l-3 0M191 24h0M237 11h0M230 13l-3 2M18 38l3 0M19 40l0 1M25 36l2 2M46 40l0 2M53 58h0M34 46l-2 0M69 49l1 4M75 58l3 2M114 35l-1 2M114 30l-1 1M108 31l1 0M101 51l1 0M157 40l-2 0M152 39l1 0M184 29l-3 3M181 37l-1 1M210 50l-2 2M182 39l-4 1M193 44l-2 2M220 31l0 3M227 37l-4 2M234 39l0 1M230 36l2 4M230 31l2 2M59 68l1 0M45 72l0 2M97 62l2 1M104 83l1 3M152 59l-4 2M141 76l0 1M148 80l2 3M134 78l1 4M131 77l0 3M131 60l0 3M159 63l1 0M180 88l-2 4M164 75l-3 2M181 75h0M187 65h0M201 75l1 1M181 66l-1 3M234 63l-2 2M219 85l3 2M221 79l-3 1M223 66l4 3M18 96h0M135 112l-1 0M149 109l-2 4M126 101l1 3M123 109l1 0M148 97l3 1M134 113l0 4M171 106l0 1M174 95l1 3M169 118l-3 1M172 105l1 0M176 110l1 2M209 96l-4 1M180 119l4 1M212 117l4 0M223 100l-1 1M16 143l-2 0M3 136l-1 1M42 134l-5 1M100 121l0 1M91 146l0 1M147 135l0 1M169 124l2 4M169 125l-2 2M166 129l-2 0M174 123l2 2M192 140l-1 2M231 150l0 1M6 162h0M9 167l0 1M9 167l-2 4M33 169l0 1M80 179l2 1M96 159l0 2M109 156l1 1M166 165l1 1M157 158l0 1M168 159l0 3M202 177l0 1M219 167h0M234 179l3 2" stroke="#a890e0" stroke-width="5.8" stroke-opacity="0.35"/><path d="M44 11l-1 0M145 0l4 1M152 6l3 3M186 21l1 4M110 31h0M170 91l-4 1M236 147l-1 2M63 167l2 0M110 155l3 1M130 182l1 4M132 163l-3 1M221 165l0 2" stroke="#7a66d4" stroke-width="6" stroke-opacity="0.88"/><path d="M40 13l0 1M131 7l-4 3M69 55l0 1M203 50l2 1M224 32h0M17 85l-1 2M48 74l1 1M160 70l4 2M183 64l0 2M185 66l2 2M219 77l1 5M222 75l2 2M152 94l-2 2M3 139l-3 1M138 139l2 3M215 119l2 1M232 130l-1 2M43 178l0 1M127 178l-4 1M200 150l3 1M219 159l-2 3" stroke="#8070d4" stroke-width="6" stroke-opacity="0.88"/><path d="M92 15h0M210 13l-2 3M190 26l-1 3M191 28h0M99 34l-2 1M149 51h0M184 55l1 2M208 49l1 5M210 51l-2 1M231 31l0 1M141 109l-2 2M170 102l1 1M170 114l0 2M169 114l2 2M31 144l1 3M0 136l1 2M132 125l-1 0M125 128l-1 5M137 137l1 1M182 137l2 3M218 131h0M220 169h0" stroke="#5a44c0" stroke-width="6" stroke-opacity="0.88"/><path d="M107 11l2 2M139 22l1 2M134 12l-1 4M177 7l0 5M176 12l0 1M197 4l-1 0M227 30l-3 1M194 33l2 0M240 38l2 0M73 85l0 1M194 84l-1 4M57 98h0M163 118l0 5M216 104h0M15 121l-2 3M134 124l3 1M139 126l-1 3M222 143l4 1M124 164l0 3M197 155l0 4M195 177h0M232 172l3 1M237 169l1 3" stroke="#4a36b4" stroke-width="6" stroke-opacity="0.88"/><path d="M180 10h0M185 17l1 1M95 29l1 3M150 44l-4 0M159 43h0M20 69h0M200 80l-1 2M220 100l-1 3M221 104l-2 3M91 132l-3 3M87 131l-1 3M238 137l-1 0M36 153l1 0M125 155l1 4M175 155l0 1M236 151l-1 1" stroke="#6a54cc" stroke-width="6" stroke-opacity="0.88"/><path d="M28 0l-2 1M7 6l2 2M5 4l-1 1M1 6l2 2M5 4l-1 0M4 4l2 2M63 0l-1 4M101 10l-2 2M110 19l-3 2M114 19l0 1M95 13l-4 1M94 16l1 1M99 30l-1 1M100 29l2 3M99 7l0 1M96 8l1 0M146 29l-4 0M145 29l-2 1M138 16l1 2M139 18l-2 2M137 21l0 3M155 13l-1 0M174 25l4 1M169 9h0M181 8l3 3M185 19l-1 0M206 1l-2 0M206 1l1 0M207 7l-1 0M200 13l3 0M184 23l-3 1M181 24l2 2M182 21l-3 4M205 12l0 3M234 16h0M231 25l0 3M234 25l-2 1M213 4l-1 1M47 42l0 1M51 37l-2 2M54 38l-1 1M93 51l4 0M94 53h0M92 30l-1 1M94 51l0 2M96 58l2 1M99 60h0M111 35h0M111 37l1 1M126 51l2 0M155 52l-1 0M158 49l-2 0M156 39l1 1M176 51l-2 1M180 45l-2 0M179 43l-3 4M159 49l3 1M206 37l-2 1M201 33l4 0M190 44l-2 2M196 41l-5 1M192 41h0M208 41l-2 4M206 45l3 0M235 59h0M221 47l-1 0M230 39l0 2M230 37l0 4M228 47l3 1M28 66l4 0M27 69l0 1M48 80l-1 3M46 78l-1 2M62 85l-3 2M114 73l-1 3M119 74l1 3M117 76h0M114 78h0M116 75l3 0M151 81l-2 1M129 71l2 0M125 66l2 0M123 65l2 0M131 75l-2 3M130 77l-3 0M152 79l-4 2M178 88l-1 1M182 89l-3 4M173 69l-1 3M173 67l1 4M188 79l-3 2M191 75l0 1M191 80l1 1M195 84l0 1M198 83l-2 3M226 86l-3 1M223 88h0M225 78l2 4M238 86l-1 3M214 81l1 2M228 71l3 3M8 115l3 0M9 112l2 3M12 110l-1 3M24 92l0 1M11 110l4 0M100 101l1 1M101 101h0M94 116l0 3M139 116l-1 1M125 108l2 0M149 112l-1 0M130 100l1 0M130 103l0 1M140 113l-2 2M149 112l-1 1M172 93l3 2M171 111l-1 0M151 108l0 1M162 119l-4 2M161 117l-1 2M186 92l-1 4M182 94l-2 2M197 120l0 1M202 108l0 1M194 109l2 1M184 102l-2 1M199 114l0 3M198 114l4 3M208 99h0M211 102l-4 1M219 98l0 2M212 107h0M211 98l0 1M228 98h0M225 100l2 1M3 147l-1 1M2 141l0 2M38 144l-2 3M39 145l-2 1M67 147l1 1M144 137l4 0M169 123l2 3M175 144l0 1M168 129l0 1M170 127l-3 1M158 122l-1 2M155 122l-3 3M167 127l1 1M166 126l1 2M163 122l-4 0M193 144l4 0M189 141l1 0M193 138l-2 1M186 122l0 1M185 137l0 4M200 144l3 3M231 145l2 1M234 150l-4 1M239 144l1 1M237 145l-1 2M236 138l1 1M236 134l-2 2M15 170l-3 2M15 170l-2 3M86 154l1 0M59 166l3 0M62 167h0M60 163h0M120 160l0 2M124 165h0M123 155l0 1M140 159l0 1M166 160l-1 1M157 169l0 1M177 152l-4 1M155 177l-1 1M164 161l0 1M163 160l2 1M201 160l-1 1M186 157l-1 3M200 173l-1 3M189 163l-2 3M224 166h0M220 162l-1 0" stroke="#6a54cc" stroke-width="5" stroke-opacity="0.88"/><path d="M5 4l0 2M47 8l2 0M89 30l-1 0M87 25l2 1M90 26l1 4M79 19l-3 0M76 15l-2 1M76 17l-1 1M72 14l-1 4M67 16l3 3M69 18l-2 3M84 12l-1 1M85 20l-4 0M87 7l0 1M97 17l2 3M96 18l0 1M108 24l-1 2M106 28l-1 0M143 22l1 0M129 8l-1 0M128 9l0 3M125 5l1 3M129 24l4 1M152 21l2 1M153 19l1 1M201 7l-3 2M197 6l0 3M209 3l-3 2M206 -2l0 4M207 4l1 2M185 22l0 1M192 14l2 1M194 13l-1 2M206 16l-4 1M228 11l0 4M214 -2l-1 1M242 7l-2 1M49 45l-1 0M48 45h0M71 51l-3 1M86 38l5 1M80 41l-2 1M70 48l-5 0M96 30l4 1M113 31l0 1M111 29l3 2M117 33l-1 1M109 38l-1 2M147 37l-1 0M149 49l-3 2M159 37l0 4M157 42l0 1M181 49l0 2M178 52l2 0M153 47l1 0M152 46l2 2M175 57h0M174 58l1 4M161 41l2 2M153 44l3 3M152 47l2 2M181 30l-1 0M208 42l-2 2M182 38l-2 1M196 51l0 4M197 51l-1 1M185 50l4 1M187 50h0M187 50l2 1M194 35l1 2M182 32l1 3M228 40l-4 0M235 47l-3 1M234 57l-2 2M228 42l-2 1M220 34l-3 1M20 83h0M53 83l3 1M61 67l0 1M59 65l-3 1M78 73l-3 1M108 86l-1 0M140 78h0M140 76l3 0M149 74l-3 4M143 74l4 1M156 79h0M159 60l0 3M169 90h0M178 68l0 3M155 82h0M163 70l3 0M177 66l2 3M176 69l3 2M199 74h0M189 78l-1 4M185 69l1 2M197 88h0M199 90h0M230 62l-2 3M230 68l4 2M237 75h0M223 69l0 3M220 84l1 2M236 70l-4 2M7 110l1 1M7 110h0M6 112l-2 4M14 111h0M107 94l0 1M115 96l0 2M99 95h0M98 96l0 1M139 115l-3 1M129 111l-2 2M166 118l1 1M179 117l1 1M154 95l-1 1M204 100l-2 4M204 112l-2 1M187 96l1 0M225 98l2 4M225 98l3 1M220 108l0 1M221 111h0M216 96l1 3M219 103l2 2M236 101l-1 1M209 105l3 2M238 95l-4 1M16 144h0M9 142l1 2M5 135l-1 4M85 127h0M87 128l-5 1M66 139l0 2M100 122h0M127 132l1 2M128 132l1 3M166 129l3 2M160 137l-1 1M179 123l1 1M168 123l-1 3M166 127l3 1M207 149l0 2M204 143l3 0M184 143l2 4M185 136h0M187 138l2 1M193 139l0 1M187 122h0M191 135l-4 3M188 132l2 4M188 135l0 1M182 121l0 1M210 130l1 0M236 147l-2 3M234 147h0M235 147h0M225 132l-3 2M239 142l-1 2M233 127l-2 4M236 132l-1 1M28 172l-1 3M23 155h0M25 153l-4 2M7 167l1 1M6 155l0 2M32 158l-3 2M31 158l4 2M38 171l4 2M84 173l-3 2M75 170l2 1M95 158l3 2M117 161l-1 0M119 162l1 0M120 168l1 0M171 161l0 2M199 160l4 0M202 158h0M216 161l-2 0" stroke="#8070d4" stroke-width="5" stroke-opacity="0.88"/><path d="M9 6l-3 0M4 9l-4 1M56 3l0 2M30 10l0 1M33 13l1 1M68 20l-3 3M84 23l2 2M119 29l1 0M118 27l1 0M102 28l-2 1M93 5l-3 1M93 5l-1 3M93 6l-2 1M99 9l-2 1M99 12l0 1M101 8l1 3M143 19l0 1M143 16l0 1M131 13l3 1M145 20l1 0M160 28l0 1M161 27l1 0M174 10l3 1M176 13l3 1M165 12l4 1M176 10l3 1M171 10l-1 2M181 29l1 2M192 26l-2 2M189 28l-3 0M196 25l-1 2M209 3l-3 3M210 0l-3 3M183 5l-1 0M185 8l-4 1M179 7l3 3M238 15l0 1M228 2l-3 2M227 2h0M225 29l-1 1M225 25l-1 0M213 22l0 1M7 41l1 1M7 40l0 1M52 56h0M75 58l2 2M75 59l-2 4M104 29l2 4M94 59l-3 1M104 49l3 2M113 41l-4 2M96 55l3 1M128 59l3 2M128 60l3 1M133 33l0 1M172 45l1 2M163 41l-1 4M165 41l-3 2M157 50l-2 0M174 54l-3 3M173 55l1 3M153 35l-1 5M152 37h0M185 52l2 0M184 41l-1 1M234 34l1 2M240 38l1 1M230 32l1 1M230 28l0 1M233 32l-4 2M238 58l-2 1M231 36l0 3M25 68l-4 1M7 62l-3 2M70 82l-3 3M65 80l1 4M107 78l1 1M112 73h0M119 89l0 1M118 86l0 1M105 88l2 4M109 71l3 2M110 68l0 2M126 68l-5 1M126 69l-3 4M135 79h0M133 72l2 1M179 85l-1 1M171 71l-1 3M151 78l-2 2M167 62l0 1M172 64l3 3M153 76l2 3M164 66l-3 4M188 85h0M190 84l0 1M195 82l1 2M195 83l1 1M240 87l-2 3M210 80l4 0M219 79l0 1M230 66l-4 1M221 74l-1 1M216 73l4 1M221 66l2 4M220 80l0 2M239 88h0M25 98l-1 3M16 97l0 1M-1 108l2 3M1 111l-2 0M43 118l0 4M56 101l-2 0M40 114h0M50 109l2 2M63 100l-1 1M73 110l1 3M119 91l3 3M147 101l4 0M132 114l-1 0M163 120l-2 0M150 114l4 2M152 116l1 3M187 117l1 0M181 117l-1 3M183 119l-4 2M180 118l1 0M193 93l-1 3M193 93l1 1M181 94l-1 1M206 102l1 0M205 105l-2 0M192 119h0M210 102l-1 1M209 92l3 3M224 97l1 0M226 96h0M223 97l2 3M218 99l-4 2M212 92l-2 1M15 119l-3 3M21 147l2 4M26 150h0M25 142l0 3M2 147l-3 1M31 129h0M46 139l-1 0M48 134l-1 3M45 138l3 3M57 138l1 2M40 131l2 3M41 134l1 0M86 126l-4 0M109 137l0 1M107 138l1 0M108 134l1 3M114 144l1 3M138 126h0M148 145l-3 0M149 145l0 1M147 147l1 1M139 142l2 4M138 141l0 1M140 142h0M125 140h0M173 124l-3 1M173 128l-2 3M166 131l4 2M173 136l1 3M163 122l1 1M183 140h0M187 141h0M207 124l-2 1M205 122l2 3M191 120l0 1M208 140h0M204 142l1 2M221 144l-3 1M214 139l0 1M28 165l1 2M89 151l0 3M113 153l-1 3M113 155h0M95 152l-4 2M125 166l-1 3M140 164l2 4M175 160l-3 3M166 164l1 1M166 163l-1 1M156 158l-2 0M165 159l0 1M200 155l-2 4M196 178h0M200 174l-4 0M191 161l2 1M219 172l4 2M219 156l0 1M235 169l2 1M228 173l3 3M230 175l-5 1" stroke="#4a36b4" stroke-width="5" stroke-opacity="0.88"/><path d="M12 0h0M12 -1l0 2M90 15l-2 1M61 12l4 1M84 26l2 3M64 7l-3 4M65 6l-1 1M101 8l-1 1M102 11l-2 0M101 14l0 1M145 5h0M138 20l2 2M136 21l-1 1M139 21l-4 2M140 27h0M143 22l4 3M153 10l1 2M153 11l2 1M152 25l-1 0M159 28l-2 0M193 18l-1 2M187 24l1 2M221 0l4 1M218 4h0M29 38l0 1M48 41l-3 1M60 52l2 1M90 33l-1 0M91 37l1 2M64 58l-1 1M97 37h0M142 52l1 2M139 56l1 0M137 30l-1 0M122 50l-1 1M126 48l-3 1M123 51h0M140 31l-2 1M160 41l-4 1M158 41l0 3M155 36h0M161 36l0 2M160 36l-2 2M174 32l1 0M175 47l3 3M169 53l-3 3M169 52l2 0M170 53l-2 2M154 42l-1 1M154 48l2 2M154 47l3 2M185 55l2 4M185 57l-1 2M197 39l-3 4M207 50l0 2M179 37l2 4M184 50l2 1M195 34l-3 0M224 36h0M238 37l-1 0M239 29l-4 2M228 41l2 1M240 43l0 1M226 34l0 1M241 36l-2 1M239 36l-1 4M65 80l-1 2M62 67l2 1M112 86l3 0M91 64l4 1M132 61l0 1M135 60l-2 4M135 62l3 1M147 81l0 4M129 65l1 2M133 67l-2 2M138 93l-4 1M127 87l-1 1M171 73h0M174 65l0 2M173 61l-2 0M174 62l0 1M174 68h0M169 68l-2 4M179 63l2 0M172 61l1 2M179 72l1 2M187 85l-2 1M182 70h0M184 69l1 3M205 75l-2 2M201 73l2 1M222 82l-3 1M225 81l-2 1M231 63l1 2M225 74l-1 0M224 72l0 3M222 72l0 1M222 83l-3 1M25 95l2 1M27 98l-4 1M22 118l-2 1M54 99l2 2M99 120l-1 1M97 120l-1 0M137 110l1 5M126 105l1 1M118 110l3 2M183 119l-1 0M170 97l-2 3M158 117l0 1M169 95l0 1M168 113l0 2M182 89l0 4M193 112l3 0M196 120l-3 2M235 99l0 1M233 96l2 4M215 102l-2 2M219 102h0M217 100l4 1M211 98l0 1M30 146l-1 4M13 140l0 1M72 142l-4 0M113 141l0 1M115 140h0M117 143l-3 0M131 126l0 2M123 127l4 2M126 129l-3 2M140 141l1 2M141 140l-4 1M138 139l1 2M126 128l2 3M168 130l0 3M173 150l0 1M161 122l-1 2M158 125l2 2M154 123l2 4M155 124l0 1M171 121l0 2M152 124l1 2M168 124l-4 2M181 141l-1 1M179 142l-2 2M204 149l-2 1M203 124h0M204 122l-3 3M199 126l1 0M181 141l-1 3M219 131l0 4M220 122h0M220 117l0 1M217 135l1 0M218 137l-2 4M221 142l2 3M225 142l1 2M0 162l0 1M4 167l3 1M27 178l0 2M28 177l-2 1M35 153l-5 1M36 172h0M30 172l2 1M30 172l3 1M83 163l-1 0M74 170l-2 4M73 166l1 1M110 172l5 0M112 173l2 1M117 159h0M140 161l3 1M139 165l3 3M121 152l4 2M140 171l2 0M124 173l-2 2M123 175l0 2M127 161l-1 4M160 172l3 0M162 154l-3 2M192 155l0 2M205 174l-3 2M201 165l1 0M228 151l1 3M236 172l-2 0M236 171l2 0M210 152l1 1M218 167l1 4M217 167l-1 4M225 162l-2 0" stroke="#5a44c0" stroke-width="5" stroke-opacity="0.88"/><path d="M51 1l1 1M50 1h0M91 7l2 2M102 25h0M147 0l-2 1M129 15l-2 0M123 13l4 3M123 27l-3 3M130 12l0 2M139 23l2 1M140 23l2 3M150 19l2 4M151 18h0M153 25l-2 2M155 4l-4 0M159 22l1 0M173 4l1 3M158 27l0 1M178 21h0M185 9h0M182 20l1 1M202 9l0 1M182 29l2 1M234 10l0 1M216 4h0M216 2l2 4M217 2l-1 0M218 0l-2 0M217 1l0 2M231 0l-3 4M42 39h0M39 37l4 3M49 39l-1 1M57 38l0 2M56 57l-2 4M63 54l0 4M64 50l-1 0M90 41l-2 0M62 46l0 1M59 51l0 2M98 49l1 3M98 51l4 0M112 27l-2 3M102 49l-1 0M97 48l2 1M149 40l3 1M134 61l0 3M140 43l-3 3M141 44l-2 3M140 30l-4 0M162 51l-4 0M154 51l2 2M151 51l3 1M153 36l-3 1M203 48l0 1M196 40l4 0M200 40l-1 4M195 37l1 1M182 31l-2 1M183 31l1 3M184 55l0 2M206 47h0M198 31l0 3M216 49h0M235 45l1 3M238 44l-1 1M229 40l0 2M216 49l-2 2M61 63h0M70 80l-4 2M66 83h0M80 84l1 1M62 78l0 1M64 80h0M105 86h0M133 69l-1 0M146 73l1 2M133 61l4 0M158 78l-2 2M167 68h0M170 70l1 2M186 73h0M186 68l4 2M195 83l4 1M230 72l-1 1M224 73l-1 1M215 80l0 1M238 68l0 1M9 112h0M39 109l-1 4M37 114l2 1M40 110l0 1M78 91l0 1M77 93l-1 3M99 108l-1 4M102 110l0 1M120 101h0M132 107l0 3M133 104l-2 3M148 105h0M144 114l-1 0M143 113l-1 4M151 100l2 2M178 120l-1 0M160 92l4 2M152 96h0M150 94l0 4M178 98l3 2M172 108l2 1M180 93l0 3M180 95l-2 0M186 90h0M203 117h0M202 118h0M203 92l1 0M236 99l3 3M236 92l-1 1M216 100l1 0M4 148l0 4M52 135l2 0M111 141l0 4M131 129l2 2M131 129l-3 3M173 138l-1 1M174 137l0 3M159 124l-3 0M156 124l1 3M180 145l-3 1M181 148h0M194 140l2 3M186 138l0 1M237 145h0M219 134l2 2M232 144l1 4M229 148l3 2M219 134l2 1M218 127l1 3M227 130l2 2M227 129l1 4M7 159l1 3M31 151l-1 2M42 175l2 0M72 168l-2 0M68 169l1 0M79 177l-1 3M65 167l3 3M113 173l3 4M119 163l2 1M136 167l-1 0M134 161l-1 1M137 156l-2 0M175 161l1 3M157 171l2 1M174 157l1 3M166 163l4 1M198 166l0 1M193 169l0 2M199 152l-1 2M195 153h0M204 157h0M197 166l3 1M237 172l4 1" stroke="#7a66d4" stroke-width="5" stroke-opacity="0.88"/><path d="M27 2l0 1M12 5l-2 3M2 1l1 2M-2 3l4 3M47 8h0M76 13l3 3M101 20l3 3M107 18l0 1M106 18l0 1M100 29h0M98 11l2 1M134 9h0M179 29l-1 0M179 32l-1 0M176 32l1 1M153 10l-1 5M152 10l1 3M176 10l-1 4M169 8l-1 3M167 8l1 1M185 19l-3 1M184 24l-4 2M208 4l-1 3M201 15l0 1M204 1h0M202 0l2 4M206 13l4 1M205 16l1 1M234 30l-1 0M212 6l1 1M216 3l-4 2M222 7l2 2M224 7l1 2M231 26l-1 2M64 50l-3 3M62 51l1 2M95 53l2 1M97 30l-3 3M94 31h0M96 60l0 1M112 36l0 1M127 52l0 3M125 54l1 0M146 44l0 2M143 52l-1 1M174 52h0M184 56l0 1M179 57h0M179 45l-1 1M177 42l1 5M167 50l1 0M205 35l-1 2M193 38l-1 1M208 40l-2 0M234 60l-3 2M234 57l-1 1M226 46l1 5M226 50l3 3M232 28l-1 2M29 70l-1 0M62 85l-1 1M59 89l2 1M98 60l2 4M109 83h0M114 63l3 1M116 63l2 2M149 84h0M140 76l-2 4M139 75h0M135 65l-1 0M136 72h0M135 71h0M163 79l0 3M173 66l1 0M175 65l-1 1M199 85l-2 3M199 73l-2 4M200 71l1 4M198 74l1 2M191 80l1 2M191 73l4 1M192 80l-4 0M191 75h0M192 72l-3 1M216 73h0M214 69l-3 2M228 78h0M235 63l3 3M236 63l-1 4M217 80h0M234 72l-2 0M7 119h0M17 105h0M14 113l-2 3M32 104l2 4M39 108l-1 5M61 101l2 0M150 108l-4 1M148 111l-1 0M145 108l5 1M144 108l-2 2M150 99l-3 1M131 112l3 3M128 107l-4 2M124 104l0 4M139 114l-1 1M162 101l2 1M160 100l1 2M172 91h0M178 112l1 1M152 111l0 1M210 100h0M182 96l0 1M197 115l0 1M195 115l0 1M202 105l0 3M199 108l4 0M196 110l-1 1M197 108l-1 4M197 118l3 2M179 122l2 1M233 100l-1 0M238 104l1 1M217 102l1 2M222 104l1 1M208 107l4 2M213 98l-1 2M215 99l-2 0M216 96l4 0M227 99l-3 0M225 103l0 1M225 103l-1 4M53 133l3 2M56 135l1 1M36 147l-1 2M68 146l0 2M66 146l2 3M142 136l4 1M164 131l-1 4M163 135l1 0M171 128l0 3M171 130h0M167 146l1 1M169 127l-1 4M163 132l3 1M165 125l0 1M193 145l-4 0M191 143l0 5M185 124h0M185 121l-1 0M194 135l0 1M196 145l2 0M236 147l-1 2M15 169l0 1M11 174l4 1M14 172l-2 3M86 156l4 3M92 158l-4 2M91 155l0 1M65 168l3 1M63 172l-1 1M65 167l0 5M122 163l2 1M119 164h0M141 159l0 1M158 171l-1 0M173 157l-1 1M175 157l-1 0M154 174l2 1M155 174l0 1M202 179l4 1M205 177l1 0M203 181l-1 1M186 158l1 2M185 155l1 4M203 172l-2 2M186 164l1 1M190 164l-1 1M234 149l1 0M222 169l-1 4M223 174l-1 1M215 175l4 2M219 168l1 0M221 166l0 1M221 166l-3 1M241 172l-2 2M241 176l1 2" stroke="#6a54cc" stroke-width="4" stroke-opacity="0.88"/><path d="M27 2l0 4M30 27l-3 2M37 12l-1 1M35 13l1 0M45 14l2 1M87 15l1 3M87 21l0 1M93 26l3 1M92 15l0 2M99 28l2 2M98 30l-2 1M103 31l-2 0M103 12l-2 4M102 13l-2 1M94 25l1 0M95 25l1 5M112 27l-4 1M133 25l4 1M136 26l-1 1M136 21l0 4M154 22l-3 3M150 7l0 4M153 8l-2 3M162 27l-1 2M151 5l-1 3M179 19l1 1M179 12l-2 2M151 5l-2 3M213 15l-4 2M210 11l1 0M187 21l0 3M202 6l-2 1M239 6l0 1M235 6l4 3M238 4l0 5M226 11l1 0M218 4l-3 0M20 37h0M123 51l-2 1M121 51l-1 1M140 53l2 1M137 30l1 1M141 33l2 0M156 32l-1 0M178 45l-1 3M178 47l-3 0M179 46l-4 0M162 40l2 1M162 35l1 0M178 28l-1 1M174 47l2 4M155 46l0 2M176 57l-1 0M196 42h0M180 36l0 1M188 49l0 1M191 46h0M190 44l2 1M196 32l-3 4M198 32l-2 1M227 43l3 0M224 35l4 2M232 32l-2 0M216 50l-3 0M239 41l-1 3M235 51l-1 3M234 53l1 3M236 53l-1 3M236 35l-1 0M237 39l-4 1M236 41h0M238 44l5 0M241 43l0 1M225 32h0M222 33l3 1M234 43l0 5M62 68l-1 0M60 70l3 1M113 86l-1 0M105 79l-1 0M136 89l0 2M140 89l-3 3M125 89l-1 2M123 90h0M170 71l-1 2M171 75l1 2M165 72h0M178 65l-1 0M171 69l-1 0M172 69l-3 4M178 61l-1 1M173 60l4 2M169 88l3 3M172 88l-1 4M202 78l1 1M203 76l4 2M200 80h0M198 77l3 0M185 84l-2 2M187 67l1 4M207 77h0M201 89l0 1M220 82l1 1M238 85l1 0M221 84l5 0M25 94l-1 1M20 92h0M31 100l3 3M59 115l2 1M57 116l-1 3M73 92l0 3M139 112h0M144 109l4 2M146 112l-3 0M179 118l-1 2M175 94l2 4M148 100l4 2M152 101l-2 1M177 116l3 0M183 116l-4 1M173 101l0 5M170 98l3 3M168 97l0 1M203 112l-1 1M199 119l2 2M199 121l1 4M196 109l2 2M197 111h0M191 119h0M194 118l0 2M200 107h0M221 99l-1 2M222 98l2 2M214 104l1 0M213 97l-3 1M238 102l-2 2M30 149l-1 0M1 147l3 3M9 133h0M53 137l0 4M37 150h0M72 139l-2 2M70 139l4 1M139 139l2 0M140 138l-1 0M140 136l-4 1M138 134l-1 2M136 130l-2 2M175 136h0M175 150l-5 0M171 150l1 1M178 137l1 1M150 127l3 1M155 125l2 3M164 123l4 1M185 139l-2 0M182 139l1 2M200 125l1 0M204 148l-1 1M201 148l0 1M192 137l-1 2M193 137l0 1M187 137l1 2M190 140l0 1M214 131l4 2M222 130l-2 4M226 122l-2 1M218 139h0M16 164h0M6 168h0M27 177l2 2M32 175l1 2M59 158h0M31 178l-1 1M71 170l1 1M97 161l4 1M99 161l-1 0M99 157l0 3M100 163h0M94 156l-3 1M117 158l2 0M115 159l1 3M94 158l-4 0M91 160h0M94 156l-2 2M140 155l-1 1M121 153l2 1M119 150l-1 2M163 175l-2 1M160 157h0M168 167l-2 2M203 166l1 1M205 165l-2 1M183 169l1 1M237 172l1 4M213 154l0 1M212 153l0 1M224 163l0 1" stroke="#5a44c0" stroke-width="4" stroke-opacity="0.88"/><path d="M21 28l1 1M23 24l1 2M24 20l3 3M66 21l2 1M65 21l-1 1M84 24h0M78 17l2 4M97 26h0M108 27l2 4M112 28l-3 3M109 25l4 1M110 23l0 2M102 7l-1 3M102 8l0 1M143 31l3 1M142 22l-2 3M142 19l-3 0M155 16l-2 1M155 6l-1 2M179 11l-2 1M179 28l4 1M180 28h0M189 27l-1 0M183 25l4 2M199 3l-4 0M216 7l1 1M239 12l1 1M215 22l3 4M214 23l-1 3M14 38l2 0M14 34l3 3M28 33l-4 2M55 35l2 0M51 35l0 1M89 56l-1 4M87 56h0M88 56l3 2M89 59h0M90 55l1 4M89 56l-3 1M88 56l1 3M104 29l1 1M119 51l1 2M95 57l0 2M101 50l2 4M109 31l4 2M92 58l3 4M112 40l1 1M111 42l-3 0M114 44l-3 1M98 55l2 2M97 54l0 1M123 45l1 3M124 44l-1 3M130 32l1 0M172 47l1 1M162 39l2 1M151 53l0 3M151 53l2 2M172 54l1 3M166 57l1 0M180 56l2 1M181 41l0 2M181 40h0M193 34l1 0M186 53l-3 1M181 52l1 3M182 43l0 2M183 39l1 4M223 43l0 1M225 44l2 2M234 41l1 3M26 70l-1 1M21 70l0 3M7 62l0 2M7 60l2 2M56 83l-4 1M71 85l3 3M68 84l-3 0M110 76h0M116 74l-4 1M115 72l-2 2M105 64l3 3M109 65l-3 1M115 69l-4 2M135 63l1 4M137 80l0 1M136 67h0M180 83l3 1M179 82h0M155 82l2 2M148 79l4 1M173 64l3 1M152 74l4 1M161 66l1 1M187 64h0M180 61l0 2M197 69h0M188 83l4 1M204 86l-4 0M227 66l0 4M220 77l2 1M216 72l3 1M220 79l0 4M226 65l0 2M213 73l-1 5M25 101l2 0M26 96l-1 2M4 119l-2 2M1 110l0 1M5 112h0M44 119l-4 2M52 109l0 4M76 91l-2 0M80 88l-5 1M65 102l1 1M74 109l-3 0M71 109l0 1M102 109l-4 1M113 93l-2 1M149 103l-2 1M159 119l0 1M150 112l1 0M153 111l-2 1M201 113l1 1M197 119l1 1M192 95l-1 1M178 99l4 1M201 113l0 3M193 121l-3 1M190 120h0M212 100l0 2M215 94h0M227 115l3 1M215 116l-1 0M239 100l0 2M240 100l-3 3M241 100l0 2M217 104l-2 3M3 138l0 1M24 148l-2 3M26 145l2 0M0 136l0 2M59 138h0M51 134h0M39 129l3 3M117 144l-2 1M122 141l0 1M122 142l-1 1M173 126l-3 0M163 125l-2 2M162 126l-4 2M167 123l3 3M171 123l0 1M174 122l-1 0M173 129l1 1M175 131l-1 0M170 130l-3 1M168 131l-2 2M173 138l1 3M175 141l-1 0M181 144l1 2M186 122l-1 4M191 120l0 1M210 142l-3 3M221 130l-2 4M239 132h0M238 130l0 2M213 134l0 2M28 164l-1 3M27 167h0M87 151l-1 3M89 152l-1 0M95 152l-1 1M92 149l0 4M145 165l0 4M143 165l3 0M138 176l1 0M139 173l-1 1M158 169l1 2M160 172l-2 2M197 156h0M198 172l0 1M197 174l-1 0M202 172l-4 1M199 169l1 1M200 172l1 1M191 160l2 2M221 170l3 2M234 177l-1 0M217 157l-1 1M222 153l1 1M234 174h0M229 172l-1 1" stroke="#4a36b4" stroke-width="4" stroke-opacity="0.88"/><path d="M24 6l2 3M13 9l1 0M16 7l-2 2M60 10l-3 3M46 11l-1 1M48 12l-1 2M83 16l2 2M88 8l-1 3M65 4l1 1M62 4l4 2M111 27l-1 0M100 22l1 4M148 16l1 1M128 12l2 1M138 25h0M153 4l-1 2M154 3l-2 3M177 26l3 1M155 5l0 4M152 7l0 1M172 3l2 3M156 28l2 1M158 29l-1 5M192 20l-4 3M183 12l3 3M181 18l1 3M203 8l0 2M187 28l4 1M238 6l3 2M224 2l2 0M215 4l3 1M63 52l1 0M60 51l3 2M65 46l-1 1M92 41l-3 0M62 47l3 3M61 54l2 0M64 46h0M115 30l-4 1M101 50l4 0M98 47h0M98 49l-1 0M148 41l1 2M140 31h0M161 47l0 1M152 51l3 1M158 35l-3 0M149 37l-1 0M208 44l-2 2M193 37l1 1M184 54h0M207 49l-3 1M187 60l-1 0M190 58l0 4M198 32l-1 4M216 52l3 0M238 50l1 1M239 49l1 1M234 50l2 1M233 39l-1 2M237 46l2 2M214 52h0M4 69l-2 0M8 65l-1 1M1 71l1 1M71 89h0M70 91l-1 0M67 80l-2 2M138 61l-2 1M136 60l-2 2M129 68l-5 1M133 74l0 2M128 73l3 2M153 64l1 2M150 66l2 1M176 88l-2 2M175 86l2 1M169 64l-3 2M167 65l-1 1M167 68h0M196 72l1 1M203 73l-3 2M188 75l1 1M185 74l4 1M195 82l3 2M197 86l-1 1M221 77l-4 0M217 72l3 3M218 76h0M215 72l3 2M218 80l-1 2M228 73l1 2M213 79l0 4M215 80l-4 0M238 68l-1 3M2 115l-2 3M10 109l1 1M41 112l-2 2M41 108h0M77 90l2 2M77 92l-1 2M76 93l-4 2M75 94l0 4M105 98l4 2M145 112l-1 2M123 104l-1 0M120 103l2 1M129 109l2 1M148 102l3 1M144 112l-1 1M150 105l2 0M179 93l1 3M181 96l-2 2M167 92l-1 2M184 97l-2 2M183 98h0M150 106l2 1M180 95l0 1M199 111l-1 0M185 92l-3 1M203 117l0 1M213 104h0M240 95l-2 4M234 93l1 2M240 98h0M218 99l0 3M5 147h0M4 148h0M10 123l-2 3M6 125l2 1M11 123l-2 0M9 131l-1 4M72 138l1 1M96 143l-3 4M108 141l4 2M111 145l-2 0M172 140l-1 2M161 125l-2 1M179 141l0 2M175 120l-2 3M174 121l0 4M173 120l-3 0M197 140l-3 1M184 141h0M186 137l-2 2M209 145l-3 1M185 141l1 1M179 142l3 3M213 143l0 2M219 130l-2 0M223 137l-2 1M218 126l-1 3M227 130l1 2M33 168h0M35 168l-1 2M32 171l-4 1M31 154l2 4M89 157l-1 1M83 178h0M113 156l0 4M128 157l-1 0M126 157h0M120 163l2 2M131 179l2 2M131 178l1 3M130 180l3 2M136 165l0 1M147 170l1 1M132 163l0 1M139 162h0M137 161l1 2M175 159l-2 3M175 156h0M178 159l-1 0M164 168l1 2M163 167l-2 1M197 164h0M190 169l0 1M204 158l-1 2M201 167l1 1M198 161l-1 0M202 163l-5 0M220 167l0 2M219 150l0 3M217 164h0M217 163l3 0" stroke="#7a66d4" stroke-width="4" stroke-opacity="0.88"/><path d="M31 28l3 1M47 7l-3 3M38 14l-1 0M82 18l-1 2M77 17l3 4M80 20l-2 0M66 19h0M108 20l-1 2M131 8l2 0M146 21l-3 3M130 22l3 0M131 22l-1 0M129 10l2 3M127 14l3 1M150 4l2 3M148 5l4 1M157 22l-4 0M177 26l0 1M176 25l1 2M178 26l3 4M199 6l-1 1M191 19l2 2M193 19l3 2M191 22l-1 1M200 11h0M189 28h0M186 24l-1 2M205 17l-2 0M226 14l2 2M231 6l-1 1M214 -1l1 4M213 3l0 1M240 10l-1 0M49 43l1 0M70 53h0M67 56h0M87 39l-1 1M87 39h0M63 60l2 0M65 60l-1 1M69 49l0 3M98 31l-1 0M115 30l-4 1M118 32l1 0M146 46l1 1M148 47l-1 2M161 43l0 1M156 53l2 1M180 45l-1 4M173 62l2 2M177 49l0 2M152 45h0M183 48l-1 4M180 27l1 0M182 53l-3 2M192 40l-2 1M194 39l-2 0M183 38l-2 4M184 31l4 0M188 33l1 2M225 38l3 2M226 41h0M224 40l-1 1M236 46l1 0M228 56l-1 4M226 42l0 2M226 42l1 2M224 32h0M17 85l0 1M54 83l1 2M45 70l-3 2M46 76l0 1M60 67l-2 1M86 61l-3 2M84 61l1 1M83 62l-2 2M65 81l0 1M66 78h0M114 77l2 0M107 74l0 2M106 73l1 4M106 74l0 1M136 77l3 3M141 74l-1 2M151 74l0 3M124 64l-1 5M155 78l1 4M178 67l-1 3M175 66l4 2M178 70h0M163 88l2 1M170 93l-3 2M177 72l1 4M156 84l-2 1M158 83l1 0M158 79l2 2M160 69l-2 4M167 71l1 1M179 68l-1 1M154 73l-1 2M176 69l0 3M177 70l1 3M199 73l-1 3M189 80l0 1M181 62l0 1M191 69h0M190 74l-1 2M198 88h0M216 67l3 1M218 68l-3 1M233 66l1 1M218 77l2 1M220 77l-3 2M224 82l4 1M233 71l0 2M233 73l4 1M221 84l0 3M236 61l3 0M223 71l2 3M224 77l-4 1M1 111l-1 4M1 112l4 3M1 111l3 4M5 116l-1 0M5 115l0 1M27 103l-1 0M15 109l0 2M117 98l1 1M116 95l-1 1M169 110l0 2M167 110l0 2M171 116l3 4M172 119l0 4M169 96l-1 3M165 102l4 2M180 117l0 1M152 94l0 1M209 97h0M196 116h0M202 106l-3 1M222 100l3 1M215 97l3 2M233 99l3 2M10 142l1 4M7 120l1 1M60 148l-1 2M56 148l2 1M38 142l2 0M87 127l-3 3M67 141l-2 2M98 140h0M145 134l-3 1M141 148l1 0M139 147h0M143 153l-4 0M160 138l0 1M158 136h0M169 126l-2 3M206 148h0M188 138h0M184 136l0 1M184 137l-1 0M189 141l-2 1M188 135l3 3M183 148l-1 1M185 149l0 1M187 123l1 0M187 120l1 1M227 131l-1 2M224 134h0M222 129h0M224 128l1 2M215 121l1 4M9 160l0 5M24 152l-1 2M9 156h0M32 169l-3 3M42 181h0M40 182l-2 3M39 169h0M77 178l-3 2M116 162l4 1M149 170l-1 0M148 169l3 2M125 174l1 0M142 167l-3 4M138 167l1 4M117 168l1 1M122 165l0 4M160 168l-3 2M166 165l0 1M171 161l-1 2M169 162l-3 0M201 171l0 3M203 172l2 0M200 163h0M203 155l1 1M217 165l-2 4M216 168l5 0M222 169l-2 0M219 158l0 3M224 165l-3 1M215 161l0 3" stroke="#8070d4" stroke-width="4" stroke-opacity="0.88"/><path d="M27 5l-1 0M0 1l5 1M5 4l-4 2M0 5l4 2M45 8l3 1M143 29l2 2M135 7l-3 1M141 15l0 1M139 23l-1 3M153 0l0 3M149 4l4 2M161 24l0 1M177 22h0M151 23l3 0M182 12h0M182 16l3 1M183 11l-2 1M230 13l-3 2M211 4l1 2M47 39h0M61 50l-3 2M114 30l-1 1M158 50h0M157 40l-2 0M174 52h0M179 55l0 3M179 44l-2 1M160 47l3 3M210 50l-2 2M186 45l1 1M230 31l2 2M234 33l-1 1M19 69l-2 1M29 69l2 1M32 65l-2 0M27 71h0M120 85l-4 0M111 83l-1 1M135 75l4 0M131 77l0 3M180 88l-2 4M189 78l0 1M192 74l-4 2M234 63l-2 2M15 113l-4 2M100 99l0 1M142 111h0M126 101l1 3M161 99l0 1M165 119l0 2M169 112l0 1M176 110l1 2M168 104l-2 1M161 119l-1 4M208 98l3 1M179 95l4 0M196 112l-1 2M197 118h0M180 119l4 1M184 120l-3 2M221 98l3 4M217 104l3 1M4 149l-3 1M3 146l-4 2M42 134l-5 1M39 134l-3 2M89 132l0 4M148 137l-3 1M169 149h0M162 121l-2 3M155 123l2 1M192 141l-2 4M188 144l3 3M198 146l1 2M238 143l0 2M12 173l1 1M120 160h0M124 163l0 4M121 163l-1 1M126 155l-3 2M142 165h0M142 164l4 2M165 159l-2 2M160 159l1 3M158 169l-1 1M169 179l-2 2M161 161h0M201 158l2 2M207 174l-1 0M202 173l1 2M195 163l-2 4M196 165l-1 0M190 160h0M198 177l-1 2M218 173l3 1M216 172l3 3" stroke="#6a54cc" stroke-width="3" stroke-opacity="0.88"/><path d="M20 23l4 2M27 19l0 1M145 28l2 4M143 19l0 4M140 21h0M147 20l-3 1M148 12l-1 3M174 14h0M179 25h0M155 16l2 4M174 11l3 2M191 24l1 0M191 24l2 1M186 25l2 3M186 26l-3 0M191 24h0M210 5l1 3M225 26l-2 2M243 13l-3 0M6 40l1 2M53 58h0M54 59l-1 0M52 38h0M75 58l3 2M89 56l-3 2M118 53l4 1M108 31l1 0M106 27l3 4M108 30l-1 2M153 54l0 4M156 51l-1 2M152 39l1 0M164 56l1 3M184 29l-3 3M182 56l1 0M179 44h0M234 39l0 1M238 58l0 1M233 35h0M59 68l1 0M97 62l2 1M113 76l-4 2M106 66h0M134 78l1 4M165 59l1 5M201 75l1 1M181 66l-1 3M221 79l-3 1M223 66l4 3M211 76l2 1M219 79l-1 1M219 79l-3 2M18 96h0M3 119h0M50 109l-2 0M112 90h0M135 112l-1 0M134 113l0 4M171 106l0 1M172 105l1 0M209 104l-4 0M195 119l2 3M178 93l4 1M212 117l4 0M223 100l-1 1M219 98l2 2M215 105h0M13 122l3 1M3 136l-1 1M1 145l-2 1M3 146l1 3M59 138l-3 2M49 138l1 1M128 139l-2 1M126 136l2 3M169 125l-2 2M184 138l-1 0M192 116l0 3M192 140l-1 2M193 139l-1 1M218 144l4 2M144 165l-3 1M125 162l0 5M157 158l0 1M222 169l-3 1M235 172l1 3" stroke="#4a36b4" stroke-width="3" stroke-opacity="0.88"/><path d="M66 6l2 2M91 5l0 1M90 6h0M103 26l-2 3M127 12l3 2M156 13l1 3M155 6l0 1M175 4l-4 0M200 6l2 1M18 38l3 0M15 34l-2 3M58 38l-2 2M34 46l-2 0M101 51l1 0M133 60h0M137 44l-2 0M220 31l0 3M61 67h0M77 83l2 1M77 84l3 0M64 76l0 3M104 83l1 3M104 83l0 2M125 66l0 3M133 73l3 2M131 60l0 3M157 79h0M164 75l-3 2M187 65h0M188 73l0 3M219 74l4 2M149 109l-2 4M145 114l1 1M147 112l1 0M147 102l-1 3M151 105h0M178 92l2 3M153 103h0M200 109l0 3M228 95l-2 0M224 95l1 1M229 95l-3 3M91 146l0 1M166 129l-2 0M166 125l0 1M189 139l-1 2M189 137l1 1M183 140l-1 2M182 144l1 1M9 167l0 1M10 170l-1 2M43 177l-2 1M42 173h0M88 158l1 2M86 152l2 2M80 179l2 1M66 167h0M118 154l3 3M114 175h0M109 156l1 1M131 179l1 0M136 158l2 4M166 165l1 1M166 167l-2 2M191 170l1 0M200 158l1 3M234 179l3 2" stroke="#7a66d4" stroke-width="3" stroke-opacity="0.88"/><path d="M84 28h0M111 28l1 1M149 7h0M139 23h0M160 29l-1 1M179 21h0M178 14h0M187 17l4 0M189 14l2 3M237 11h0M19 40l0 1M25 36l2 2M46 40l0 2M88 34l3 2M119 51l3 2M127 49l0 4M138 31l-2 0M157 33l-2 4M175 44l2 4M176 32l-2 1M176 46l-1 4M178 59l-4 2M183 49l1 0M182 39l-4 1M182 51l3 1M196 41l-3 1M193 44l-2 2M229 42l-1 0M240 40l0 4M230 36l2 4M228 37l0 1M240 39l-1 0M67 90l-1 0M110 68l-1 3M90 64l5 1M148 80l2 3M149 79l2 3M164 72l-2 1M174 57l-2 3M169 70l-2 1M181 75h0M200 76l-1 1M199 78l-1 4M231 64l-1 2M222 83h0M19 92l4 2M71 91l0 2M108 102l0 1M94 120l2 0M151 104l-3 3M149 104h0M123 109l1 0M148 97l3 1M178 122l1 0M200 112l0 1M202 108l-2 2M236 101h0M224 100l0 1M214 100l0 2M16 143l-2 0M52 138h0M131 128l1 0M125 128l4 2M179 138l-1 0M179 137l0 2M172 119l-1 2M196 141l0 2M186 135l1 5M182 142l-2 0M177 143l-1 0M217 134l2 1M215 134l1 2M238 137l-1 3M224 142l-1 3M9 167l-2 4M37 174l-1 4M59 158l-1 2M55 163l3 3M101 161l-4 2M99 158h0M138 158h0M176 160l-1 1M162 173l0 3M178 156l-2 1M179 156l-2 4M165 160h0M167 160l-1 2M206 167l-5 0M199 154l-2 4" stroke="#5a44c0" stroke-width="3" stroke-opacity="0.88"/><path d="M105 11l-1 2M131 6l1 3M130 7l1 1M143 24l1 0M179 29l0 1M201 14l-2 3M206 -3l0 1M209 5l0 1M186 16l-1 1M230 17l-1 0M69 49l1 4M85 36l0 4M114 35l-1 2M97 29l1 2M113 34l1 2M177 52l-2 1M181 50h0M171 59l2 0M170 59l-1 4M181 37l-1 1M180 31l0 1M180 54l3 2M186 31l3 2M215 45l0 1M227 37l-4 2M234 45l3 3M235 31l1 1M236 32l1 1M236 32l1 1M53 84h0M45 72l0 2M46 70l-2 2M46 70l1 3M66 81l-1 0M75 86l0 5M113 76l1 1M108 78l1 0M106 84l1 4M152 59l-4 2M141 76l0 1M158 79l-3 1M159 63l1 0M184 72l-1 1M184 75l0 1M181 61l4 3M184 63l-3 2M194 71l-2 1M188 68h0M182 88l-4 2M218 63l0 2M230 68l5 1M226 67l1 0M226 66h0M219 85l3 2M7 111l-1 1M27 99h0M15 109l1 0M102 92l-2 2M138 106l3 2M165 113h0M174 95l1 3M169 118l-3 1M209 96l-4 1M215 94l0 2M66 141l0 3M100 121l0 1M147 135l0 1M140 140l0 4M169 124l2 4M174 123l2 2M200 148l1 0M186 139l1 2M185 132l0 4M181 123l4 0M231 150l0 1M229 150l0 3M6 162h0M6 162l2 3M33 169l0 1M29 166l3 3M96 159l0 2M93 155h0M115 160l2 0M124 173l0 2M142 166l-1 1M167 157l1 1M168 157l-2 1M168 159l0 3M202 177l0 1M200 174l-3 1M204 152l2 4M205 156l-4 1M223 162l3 3M219 167h0" stroke="#8070d4" stroke-width="3" stroke-opacity="0.88"/><path d="M9 7h0M21 30h0M5 6h0M28 18h0M28 28h0M12 1h0M29 10h0M46 8h0M87 30h0M81 19h0M70 18h0M98 24h0M110 25h0M103 21h0M98 18h0M110 29h0M110 25h0M100 10h0M112 27h0M108 28h0M108 12h0M146 15h0M146 29h0M140 20h0M142 23h0M133 9h0M129 15h0M128 7h0M146 14h0M139 24h0M177 12h0M152 5h0M155 22h0M153 8h0M152 1h0M154 16h0M154 11h0M173 12h0M178 14h0M150 6h0M177 27h0M173 6h0M184 20h0M182 26h0M199 7h0M190 17h0M209 16h0M186 8h0M201 16h0M205 2h0M183 19h0M206 6h0M197 4h0M191 24h0M210 5h0M207 5h0M193 15h0M203 17h0M184 16h0M183 25h0M204 1h0M207 13h0M224 29h0M226 15h0M239 11h0M216 8h0M240 8h0M235 11h0M214 0h0M235 17h0M212 6h0M219 2h0M228 3h0M26 37h0M16 38h0M44 40h0M52 36h0M50 43h0M63 54h0M89 38h0M78 60h0M67 57h0M105 32h0M98 49h0M96 55h0M113 30h0M112 32h0M113 30h0M93 61h0M112 40h0M111 34h0M151 43h0M140 52h0M137 32h0M130 59h0M139 46h0M148 38h0M122 51h0M156 53h0M154 38h0M174 46h0M173 52h0M157 53h0M161 48h0M180 58h0M160 36h0M156 53h0M152 36h0M168 54h0M165 57h0M160 48h0M185 54h0M202 49h0M181 57h0M181 39h0M180 29h0M209 51h0M184 49h0M180 38h0M181 32h0M187 44h0M183 57h0M206 49h0M180 40h0M184 49h0M185 61h0M198 35h0M196 36h0M193 44h0M195 35h0M203 49h0M214 44h0M229 43h0M234 60h0M238 50h0M237 42h0M241 44h0M227 50h0M232 33h0M236 31h0M238 39h0M235 44h0M23 69h0M29 70h0M2 69h0M5 62h0M56 82h0M47 81h0M45 73h0M47 76h0M60 68h0M70 88h0M66 82h0M60 70h0M77 83h0M75 88h0M112 73h0M114 78h0M107 67h0M105 90h0M112 84h0M132 70h0M134 65h0M138 78h0M139 78h0M150 81h0M132 66h0M135 80h0M135 66h0M124 69h0M127 70h0M132 78h0M131 63h0M162 79h0M157 79h0M158 63h0M178 69h0M167 89h0M164 71h0M158 80h0M169 62h0M175 65h0M175 69h0M178 61h0M161 67h0M172 62h0M177 70h0M196 72h0M189 63h0M181 63h0M196 71h0M187 77h0M187 84h0M177 91h0M205 76h0M220 82h0M239 89h0M214 73h0M229 62h0M219 66h0M226 79h0M233 63h0M219 78h0M219 73h0M217 73h0M225 81h0M233 72h0M235 60h0M222 80h0M224 69h0M212 77h0M239 88h0M230 73h0M229 71h0M225 74h0M238 70h0M6 119h0M16 107h0M25 96h0M13 116h0M0 108h0M8 111h0M32 101h0M56 101h0M59 114h0M79 89h0M73 109h0M100 109h0M101 98h0M98 119h0M114 95h0M117 97h0M135 114h0M139 111h0M147 111h0M149 109h0M138 114h0M150 99h0M169 111h0M172 91h0M151 105h0M168 99h0M163 119h0M179 118h0M177 96h0M166 118h0M179 115h0M179 99h0M169 98h0M158 117h0M170 101h0M152 108h0M169 96h0M174 109h0M180 89h0M208 104h0M181 118h0M207 98h0M197 117h0M201 109h0M197 117h0M201 119h0M196 110h0M191 119h0M184 102h0M199 116h0M203 91h0M208 98h0M200 104h0M208 103h0M183 120h0M236 102h0M214 104h0M237 105h0M223 100h0M221 109h0M216 97h0M240 96h0M236 99h0M220 100h0M220 104h0M210 108h0M226 98h0M241 102h0M217 95h0M223 103h0M219 99h0M212 98h0M237 103h0M211 106h0M241 97h0M15 143h0M29 147h0M5 150h0M2 139h0M52 139h0M60 151h0M53 136h0M42 133h0M67 148h0M87 129h0M73 139h0M65 142h0M113 142h0M114 144h0M124 141h0M141 143h0M139 144h0M127 134h0M136 141h0M143 146h0M172 126h0M162 128h0M171 139h0M156 125h0M166 129h0M155 124h0M179 123h0M173 140h0M165 127h0M156 128h0M153 125h0M167 125h0M185 125h0M183 123h0M184 137h0M207 147h0M196 140h0M190 119h0M187 121h0M205 149h0M210 141h0M198 147h0M237 145h0M227 132h0M221 130h0M239 132h0M216 123h0M215 140h0M222 144h0M12 171h0M6 167h0M26 179h0M33 171h0M39 151h0M32 159h0M32 177h0M32 154h0M36 172h0M87 158h0M89 157h0M62 167h0M98 160h0M93 157h0M117 161h0M118 155h0M92 159h0M147 170h0M122 163h0M123 165h0M126 176h0M122 163h0M137 165h0M124 156h0M147 170h0M139 165h0M140 159h0M142 167h0M138 155h0M122 153h0M139 162h0M121 168h0M141 171h0M159 170h0M158 160h0M170 161h0M196 156h0M192 155h0M201 171h0M202 174h0M203 178h0M204 176h0M206 152h0M199 165h0M199 161h0M188 166h0M201 166h0M220 165h0M234 152h0M224 172h0M235 177h0M219 161h0M224 165h0M239 172h0M213 162h0M216 164h0M241 173h0M219 162h0M236 180h0" stroke="#2a1e8a" stroke-width="2.6" stroke-opacity="0.75"/><path d="M21 176h0M110 37h0M183 120h0M94 74h0M188 37h0M90 23h0M149 18h0M34 149h0M133 119h0M86 2h0M161 163h0M152 93h0M48 93h0M193 175h0M218 36h0M142 85h0M3 116h0M90 95h0M39 102h0M127 132h0M75 104h0M235 125h0M8 102h0M86 143h0M64 30h0M139 79h0M122 0h0M29 56h0M191 121h0M124 100h0M109 120h0M160 53h0M118 164h0M182 87h0M201 170h0M107 171h0M235 50h0M144 25h0M111 141h0M41 50h0M55 14h0M88 70h0M217 13h0M123 108h0M4 88h0M71 17h0M146 37h0M59 103h0M79 32h0M4 175h0M184 1h0M157 18h0M62 78h0M171 123h0M140 18h0M21 45h0M93 150h0M173 107h0M146 173h0M192 55h0M108 98h0M212 21h0M89 160h0M50 134h0M102 135h0M182 32h0M49 110h0M188 54h0M161 130h0M220 79h0M35 47h0M89 13h0M82 82h0M96 140h0M55 117h0M97 35h0M132 153h0M89 29h0M77 103h0M213 92h0M144 71h0M121 21h0M240 60h0M157 176h0M111 176h0M35 106h0M177 164h0M150 74h0M167 12h0M62 13h0M239 40h0M147 6h0M237 30h0M34 94h0M110 121h0M232 43h0M17 25h0M223 171h0M113 71h0M235 117h0M202 99h0M181 76h0M233 100h0M154 133h0M197 105h0M63 101h0M4 10h0M7 71h0M221 34h0M143 72h0M198 111h0M30 100h0M77 67h0M204 143h0M106 53h0M9 1h0M14 20h0M159 5h0M71 6h0M87 133h0M25 137h0M200 149h0M39 175h0M144 73h0M194 68h0M93 119h0M127 75h0M1 87h0M90 145h0M109 53h0M16 79h0M129 164h0M91 64h0M38 176h0M34 27h0M91 54h0M108 111h0M5 145h0M33 77h0M166 67h0M239 127h0M102 76h0M9 142h0M61 2h0M194 1h0M226 175h0M86 51h0M74 46h0M5 140h0M125 3h0M235 32h0M103 74h0M198 118h0M161 97h0M41 4h0M3 65h0M153 51h0M163 169h0M161 72h0M78 133h0M82 81h0M180 114h0M117 106h0M115 25h0M119 88h0M80 28h0M133 76h0M125 101h0M169 110h0M141 161h0M103 129h0M191 28h0M195 157h0M26 73h0M190 40h0M207 41h0M93 19h0M117 71h0M75 136h0M177 58h0M108 52h0M234 114h0M144 142h0M230 97h0M161 124h0M145 6h0M113 142h0M67 154h0M235 0h0M142 6h0M28 57h0M76 23h0M63 154h0M115 19h0M104 97h0M149 151h0M114 34h0M116 39h0M75 4h0M52 57h0M168 135h0M125 3h0M193 74h0M103 1h0M76 135h0M197 24h0M91 164h0M71 119h0M237 68h0M237 7h0M82 109h0M113 8h0M231 25h0M118 174h0M64 176h0M75 146h0M51 49h0M32 22h0M228 54h0M125 11h0M55 161h0M12 164h0M2 167h0M17 136h0M203 47h0M56 46h0M68 140h0M177 103h0M4 82h0M145 174h0M139 103h0M107 82h0M90 9h0M52 90h0M102 25h0M63 167h0M146 16h0M178 64h0M222 149h0M85 81h0M46 59h0M37 59h0M187 124h0M6 1h0M68 113h0M50 178h0M30 46h0M27 40h0M195 72h0M114 107h0M133 159h0M236 32h0M83 127h0M11 79h0M64 180h0M129 114h0M162 159h0M85 62h0M100 118h0M235 73h0M213 24h0M110 112h0M225 142h0M207 30h0M2 34h0M32 27h0M153 136h0M81 169h0M176 113h0M34 119h0M32 118h0M167 82h0M193 44h0M154 69h0M18 69h0M178 132h0M171 152h0M67 97h0M132 82h0M19 84h0M217 174h0M199 89h0M123 100h0M36 29h0M197 112h0M159 144h0M12 32h0M26 121h0M175 62h0M27 170h0M186 153h0M66 102h0M49 2h0M48 167h0M67 157h0M229 97h0M117 145h0M208 81h0M86 74h0M15 45h0" stroke="#202040" stroke-width="1.8" stroke-opacity="0.8"/></g>
</g>
<g clip-path="url(#cp20)">
<rect x="40" y="770" width="119.8" height="90.5" fill="#eeeef4"/>
<g transform="translate(40 770) scale(.5)" fill="none" stroke-linecap="round"><path d="M20 21l1 1M169 25l-1 1M195 13l-4 2M92 52l-1 5M158 67l1 2M161 114l0 1M204 121h0" stroke="#8070d4" stroke-width="6" stroke-opacity="0.88"/><path d="M30 0l3 3M161 112l2 1M226 137l-1 1" stroke="#4a36b4" stroke-width="6" stroke-opacity="0.88"/><path d="M212 6l4 3M49 40l0 2M61 51l4 2M96 51l-1 0M96 52h0M128 33h0M202 50l-1 1M189 84l2 0M203 63l5 1" stroke="#7a66d4" stroke-width="6" stroke-opacity="0.88"/><path d="M89 45l2 1M140 112l-4 3M220 114l-2 3M225 98l-1 1M66 131h0M171 140l0 3M157 164l-1 0" stroke="#6a54cc" stroke-width="6" stroke-opacity="0.88"/><path d="M214 98l1 2M111 138l0 1M164 135l0 4M183 176l-2 2M238 170h0" stroke="#5a44c0" stroke-width="6" stroke-opacity="0.88"/><path d="M24 12l-1 3M26 26l1 1M27 25l1 4M20 24l1 1M40 7l4 0M55 5l-1 0M66 13l-1 1M67 10l0 3M67 20l3 0M141 15l0 2M147 4l1 1M132 2l3 0M178 27l-1 0M154 6l0 1M171 2l3 2M183 19l2 0M76 55l-1 1M93 42l0 1M126 39l-1 3M128 33l-2 0M178 47l-3 2M178 45l3 3M169 46l0 4M207 55h0M199 43l-3 3M228 41l-3 1M220 44h0M21 78l0 2M21 76l0 4M46 61l-2 1M46 69h0M46 68h0M85 71l-1 0M87 73l0 1M96 75l3 2M147 83l4 1M151 82l0 2M136 83h0M153 61l-3 0M149 59l-1 1M188 70l2 1M189 86l-1 4M187 85l-4 0M29 107l0 1M55 106l4 1M55 107l1 3M109 113l-2 3M106 111l0 4M108 110l-3 3M136 112h0M159 108l-4 0M208 113l2 0M196 116l0 4M191 107l0 2M212 104h0M212 101h0M222 90l4 1M215 117l-1 1M226 98l-2 2M11 147l1 3M9 147l1 1M5 129l4 0M126 136l0 1M170 144l2 1M76 174l2 2M120 164l-3 1" stroke="#6a54cc" stroke-width="5" stroke-opacity="0.88"/><path d="M17 5h0M27 0l2 3M99 12h0M182 2l3 3M188 26l2 0M24 45l4 1M27 46l-2 4M141 43l-3 1M201 53l-2 2M198 53l2 3M231 51h0M42 60l1 3M41 63l2 4M102 76l-2 3M169 84l-1 1M168 84l-1 0M160 69l1 2M161 68l0 2M152 71l2 2M199 67l0 1M202 64l-1 3M183 83l4 1M188 87l-3 0M233 75l2 0M9 116l-2 2M61 97l-1 1M60 96l0 2M59 96h0M138 97l4 1M180 96l2 3M213 98l3 0M218 115l-1 4M213 116l-2 1M212 112l0 4M13 122h0M1 142l1 4M54 123l2 2M67 136h0M60 126l1 1M108 142l1 0M111 143l-2 2M112 145l0 1M111 140h0M142 146l-4 2M144 147l-3 3M163 135l3 3M202 134l0 5M181 131l2 3M224 134h0M223 133l-2 1M16 152l-1 4M6 161h0M59 161l-2 1M59 178l2 0M79 178l-2 2M123 170l-1 2M118 173l1 1M179 161l0 3M194 176l0 3M184 173l0 1M210 171l-4 2M238 165l-1 2M215 165l5 1" stroke="#5a44c0" stroke-width="5" stroke-opacity="0.88"/><path d="M27 26l-4 1M29 -1l1 2M40 11l2 0M87 21l2 3M108 4l-2 2M178 9l2 1M179 9l0 1M182 7l-3 2M179 22l4 2M179 21l-2 2M17 42l0 1M49 49l-1 1M46 49l1 0M52 47l-1 1M50 49l2 0M47 39l0 2M48 32l1 1M48 29l1 2M68 53l-1 1M90 35l-2 2M201 36l-2 2M203 56h0M1 89l0 3M96 64l3 1M171 88l2 3M200 69l2 2M230 64l-2 2M232 90l2 1M88 94l0 2M113 102l2 1M207 114l1 3M212 107l1 1M28 143l1 3M12 149l-3 3M34 128l-1 1M38 130l-2 2M48 142h0M49 141l-2 1M60 121l2 2M73 130l2 1M115 137l0 4M114 138l3 3M117 141l-3 2M140 142h0M139 138l1 5M170 144l0 1M168 126l0 1M189 126l2 4M36 173l2 2M36 160l0 4M38 163l-3 1M30 169h0M175 178l2 2M177 177l-1 1M170 164l-1 4M155 170l0 2M228 151l1 0M239 172l-1 2M233 173l0 4M232 173l1 2" stroke="#4a36b4" stroke-width="5" stroke-opacity="0.88"/><path d="M18 23l2 1M18 21l1 0M31 18l-1 1M39 24l1 4M65 28l-1 0M66 29l-1 1M111 0l-3 1M97 2l0 1M124 17l0 1M124 15l-2 0M190 27l4 2M208 6l1 0M229 6l-1 2M40 58l1 0M69 44l0 1M70 42l0 4M70 53l-2 1M95 57l-1 4M94 49l0 5M96 55l1 3M169 46l3 2M199 42l1 2M191 46l4 1M194 47l-4 2M196 46l-1 1M218 35l0 1M212 47l-1 4M230 49l0 2M226 54l4 1M239 38h0M18 70h0M7 90h0M7 91l0 1M15 89l-3 2M1 87l1 2M-1 86l2 2M60 89l0 1M86 84l-1 2M168 67h0M231 79l1 3M232 78l-2 2M231 69l-2 4M226 70l-2 1M27 101l4 2M29 99h0M32 106l-3 0M28 110l4 0M56 93h0M61 94l-2 1M58 90l3 1M58 91l-2 0M65 89l-2 3M87 95l-4 0M76 103l0 3M72 103h0M78 103l-1 2M63 93l-1 1M91 102l3 0M140 101l-2 0M140 102l1 2M154 94l-1 1M205 103l-1 2M186 97l-2 3M179 90l2 4M232 105l-2 2M18 128l1 1M32 131l-1 1M32 133l-3 1M71 129h0M131 148l0 4M135 147l0 3M161 133l3 1M163 149l3 3M207 121l1 1M19 150h0M15 153h0M43 178l3 2M35 176h0M66 173l3 0M69 181l-3 1M140 157l2 1M142 159l1 3M170 171l1 0M173 172l-1 0M191 172l-2 4M185 170l4 3M187 173l1 3" stroke="#8070d4" stroke-width="5" stroke-opacity="0.88"/><path d="M1 25h0M58 0l1 1M58 0l4 2M37 14l-1 1M64 19l2 4M86 20l2 0M85 21l-2 2M102 12l-2 3M166 16l2 3M182 -1l-1 2M212 19l-2 1M210 2h0M212 3l0 2M21 53l0 3M19 53h0M23 42l4 1M6 58h0M34 41l-1 0M74 48l-4 2M64 46l1 0M63 50l3 1M104 48l-4 0M167 54l0 1M172 54l0 4M169 41l-1 1M197 48l1 4M196 47l-2 3M222 39l-2 0M222 37h0M3 80l1 3M36 79l2 1M36 81l1 2M62 87l-2 1M109 66h0M96 79l1 1M97 77l-4 2M95 77l-1 1M135 73l1 2M138 68l1 4M190 73l-2 2M184 89l-1 1M226 66l-2 1M234 89l-1 2M7 120h0M163 116h0M163 113l2 2M220 91l2 2M73 144l-3 1M72 142l-3 3M109 135h0M165 149l2 3M192 132l2 2M180 147l2 1M238 147l-1 2M205 166l-1 4" stroke="#7a66d4" stroke-width="5" stroke-opacity="0.88"/><path d="M1 22h0M27 2l3 2M30 16l-1 4M87 7l1 2M96 13l4 1M96 22l-2 2M95 23l-1 1M105 6l-1 1M139 24l-1 0M144 5l-1 2M151 21l1 2M152 25l-2 3M160 25l1 1M164 26l0 1M189 22l1 4M212 7l-2 3M215 6l0 2M1 31l0 3M27 47l3 1M64 45l-1 4M150 30l-1 2M149 31l0 1M74 66l4 2M77 68l2 0M61 84l-1 0M104 75l-4 3M100 73l-1 1M144 85l-1 4M149 78l1 0M152 70h0M152 69l1 3M205 66l-3 3M239 74l-4 2M236 71l0 2M9 116l-2 1M132 110l2 1M138 105h0M189 113l0 4M216 98l-1 0M213 100l3 2M54 123l-1 3M60 125l1 2M59 123l0 1M74 131l0 2M105 141l0 2M107 126l2 2M162 132l1 1M199 135l0 1M208 120l0 4M208 120l1 0M186 127l-1 1M221 132l1 3M229 147l0 1M5 158l1 0M4 160l1 2M58 162l1 1M55 162l2 3M61 174l-1 3M80 178l2 0M105 168l1 2M146 153l-1 4M120 172l-1 3M177 160l1 4M165 157l0 2M166 158l2 3M182 174l1 1M239 152l-3 2" stroke="#5a44c0" stroke-width="4" stroke-opacity="0.88"/><path d="M24 17l2 1M28 26l-2 2M29 18h0M45 13l-4 1M59 2l0 2M84 27l1 3M89 5l-3 3M69 20l-1 2M60 -1l4 3M96 13h0M99 10l3 3M148 3l0 2M146 2l-1 1M151 17l3 2M152 13l3 1M185 18l-2 2M185 15l1 5M185 23h0M231 8l0 3M4 53l0 1M4 51l2 4M4 55l-1 3M92 43l1 2M128 51l-1 0M179 47l-4 1M181 48h0M173 51l1 4M166 47l0 1M205 47h0M206 45l0 1M206 47l-2 1M180 36l0 5M180 39l-4 2M225 43l2 0M219 44l2 3M222 45l-1 1M44 65l-1 0M45 71l-1 1M37 88l0 1M81 72l4 2M67 86l-2 1M61 81l1 2M62 79l-4 0M135 81l1 2M184 67l1 2M193 71l-3 0M193 91l-3 0M224 89l1 1M56 119l-2 2M64 106l-2 3M61 110l2 4M160 108h0M161 115l-1 4M162 117h0M164 117l2 1M192 118l2 1M207 103l0 4M191 108l-3 3M213 104l1 3M218 118l-1 1M226 102h0M68 132l0 1M126 140h0M126 140l0 1M134 135l-3 3M191 121h0M223 123l1 0M48 172l2 4M84 177l1 2M141 159l0 1M157 161l2 0" stroke="#6a54cc" stroke-width="4" stroke-opacity="0.88"/><path d="M27 -1l1 4M2 15l3 1M6 14h0M4 16l1 0M30 20l-3 1M66 27l-2 1M111 1h0M115 -2l-3 3M94 -3l3 1M147 22l-4 1M143 23l0 1M192 11l0 2M190 26l-2 0M209 4l0 3M206 5l1 4M208 20h0M231 21l0 1M227 14h0M239 27l1 0M239 23l2 3M42 54l-1 0M86 51l-1 3M71 43h0M67 53l3 2M95 57l1 4M95 50h0M94 51l-4 0M96 55l-1 1M148 42l0 2M145 42l4 1M149 43l-3 3M148 59l-1 2M175 51l0 1M201 43l-2 4M219 36l-1 2M213 46l2 1M38 65l0 1M75 73l-1 2M74 69l-1 3M92 85l-5 1M153 61l0 2M201 67l-3 1M230 88l2 4M230 81l1 1M230 87l4 1M233 85l-2 4M233 86l-2 2M228 85l-2 3M53 119l0 1M93 102l-3 1M91 104h0M90 102h0M150 96l2 0M179 94l-1 0M182 92l-1 4M183 96l4 0M185 99l1 3M176 89l3 2M69 131l2 0M69 132h0M164 131l2 4M165 135h0M167 146l1 4M193 125h0M208 116l1 4M216 126l0 1M18 152l-1 0M44 176l-2 1M33 176l4 1M39 177l-3 2M40 176l-2 1M68 171l0 1M67 180l2 1M170 171l-2 1" stroke="#8070d4" stroke-width="4" stroke-opacity="0.88"/><path d="M32 -1l2 2M38 24l2 3M50 0l-1 1M47 1l2 3M29 5l-2 2M101 8l-4 1M99 8l2 1M109 4l-1 2M123 20l-2 4M162 20l2 1M239 27l-3 1M62 47h0M61 47h0M197 37l4 2M204 52l-2 1M23 65l3 1M5 89l0 1M6 88l0 4M56 89l0 2M42 66l0 3M77 81l-1 2M108 79l0 1M150 62l3 1M149 59l1 1M208 74l0 1M205 73l4 2M204 74l1 1M225 64l-2 1M224 58l3 3M227 74h0M228 73l-1 1M41 120l-3 2M115 102l1 4M142 103l1 2M146 98h0M152 92l0 1M151 94h0M167 91h0M215 97l1 3M15 150l0 1M12 150l2 0M36 125l-3 1M63 120l-3 1M67 139l1 5M142 141l1 4M142 142l-3 1M123 138l1 0M126 133l-2 2M142 146l-2 4M137 144l0 1M166 130l2 1M185 130l2 2M195 147l-1 3M196 146l0 3M219 139l1 1M211 121l0 1M211 123l-1 0M226 136l-1 4M18 154l-1 0M38 170l-2 2M37 164l4 1M132 151l3 1M176 177l2 1M168 164l4 3M238 174l3 1" stroke="#4a36b4" stroke-width="4" stroke-opacity="0.88"/><path d="M59 -3l-2 4M35 14l-1 0M65 21l-3 1M67 16l-2 3M84 28h0M87 19l0 1M99 15l-3 1M178 7h0M166 19l2 2M208 17l3 2M219 4h0M5 55l2 1M50 41h0M35 42l1 1M63 47l3 2M65 47l1 0M74 52l0 1M61 50l0 3M101 55l-2 3M98 42l-1 0M103 51l1 0M127 30h0M172 56l-4 1M199 52l-1 2M198 51l0 1M200 45h0M198 46l2 1M239 31l1 1M239 35l5 1M58 86l-3 3M191 76l-1 0M185 90l1 0M224 68l2 0M227 65l2 3M223 69l-3 3M230 89l4 1M9 102l1 5M11 103l-3 0M11 108h0M90 111l-1 3M61 92l3 0M140 103l-3 3M161 114l0 5M210 118l-1 0M219 91l0 2M222 101l-1 4M209 112l4 1M210 114h0M29 133l-1 1M70 143l0 3M110 132l0 2M165 143l3 1M166 142l2 2M189 131l-4 2M178 150l0 1M212 121l-2 3M225 139l-1 1M227 140l1 4M65 158l4 1M116 172l0 1M113 170l-1 1M172 153l0 1" stroke="#7a66d4" stroke-width="4" stroke-opacity="0.88"/><path d="M30 17l0 4M91 5l-3 2M98 11l1 3M104 3l1 0M105 2l4 2M2 31l-3 0M38 56l3 2M62 41l1 4M139 42h0M174 52h0M200 44l3 3M235 41l0 3M236 41l0 1M60 81l0 3M167 81l0 5M170 86h0M7 118h0M115 117l1 1M142 100l-3 1M180 93l0 1M217 117l-1 1M4 143l-2 1M51 123h0M49 121l-1 1M52 140l1 3M54 146h0M64 138h0M74 133l3 1M113 142l-3 1M141 147l-3 0M182 133l-2 4M231 144l-1 2M232 141l-1 3M61 176l-3 3M79 178l-2 3M104 173l2 1M144 158l1 0M143 159l-1 2M195 178l-3 3M191 177l-3 1M237 163h0M217 164l-1 1M237 169l0 2" stroke="#5a44c0" stroke-width="3" stroke-opacity="0.88"/><path d="M3 23h0M44 13l-1 4M45 14l-1 2M43 14l2 1M58 16l-2 0M207 15l-1 3M209 0l2 3M212 0l2 3M22 42l1 4M67 44l-2 4M61 49l4 0M69 49l2 2M68 44l-1 2M64 40l-1 1M64 43l-2 1M100 40l-3 3M94 36l1 3M92 41l0 3M92 43l-2 1M126 31l2 0M173 42l-3 3M195 52l1 2M194 54l0 4M194 46l2 1M39 80l-2 1M60 88l-4 3M95 76l2 4M101 68l1 2M180 73h0M180 70h0M189 83l-1 0M223 64l2 4M9 104l2 1M6 106l3 1M9 117l-3 2M140 106h0M224 92l-4 1M221 103l-1 2M212 114h0M50 143l0 2M49 145l1 1M225 131l1 1M227 142l-1 1M59 163l3 2M110 155l-2 1M110 156h0M118 173h0M119 175l-5 0" stroke="#7a66d4" stroke-width="3" stroke-opacity="0.88"/><path d="M20 19l3 4M43 7l-1 1M66 9l1 3M67 20l4 1M58 1l0 2M90 16h0M103 6l3 0M143 13l-2 1M134 2l1 2M134 3l-1 1M173 25l2 3M172 2h0M185 18l-2 4M11 47l3 0M9 49l0 2M74 52l0 3M102 46l-3 1M128 38h0M176 54l-1 3M211 57l-2 1M198 43l1 2M180 40l-1 0M19 75l-2 2M65 88l-1 1M62 78l2 4M101 75l1 0M149 84l2 1M174 89l1 1M151 59l0 2M191 70l-1 1M187 88h0M182 84l0 4M4 95l0 1M57 115l0 2M56 105h0M61 109l1 1M136 112l0 2M160 117l0 1M165 118l1 3M195 115l0 4M203 104l1 1M209 103l0 2M190 107l2 2M2 131l3 1M187 121l4 1M227 125l0 3M22 172h0M23 170l2 0M123 161h0M120 161l-1 3" stroke="#6a54cc" stroke-width="3" stroke-opacity="0.88"/><path d="M41 20l1 4M43 25l-1 0M166 26l4 0M235 21l0 4M241 24l-1 1M42 52l2 3M67 52l3 2M127 47l0 1M149 60h0M149 59l1 0M169 43l-3 1M167 38l3 3M178 49l-4 1M215 38l1 0M227 50l2 1M72 68h0M59 85l3 3M58 88l2 0M197 66l-1 4M226 69l0 4M34 103l-2 3M30 109l-2 2M58 93l-1 3M51 116l1 4M86 94l2 1M60 90l-2 0M137 101l0 4M161 113l1 4M163 112l-1 1M175 97l1 1M206 106l1 1M208 109h0M234 107l0 2M34 178l1 1M214 178l1 2" stroke="#8070d4" stroke-width="3" stroke-opacity="0.88"/><path d="M30 5l2 3M29 4l1 1M99 5l-3 3M239 28l-3 3M17 43h0M27 56l2 1M29 57l2 2M46 49l0 2M70 48l-1 4M230 32l-3 2M53 87l1 4M173 91l0 1M225 73l-1 3M114 104h0M164 111l-2 2M152 92l2 1M166 89h0M171 108l1 0M210 116l-2 3M211 112l0 1M239 91l-1 0M216 97l-1 1M50 141l0 1M61 122l-1 2M73 129l3 3M77 128l-1 3M122 140l-1 2M138 145l1 0M163 132l3 0M169 129l1 0M193 145l2 0M212 124l2 0M16 158l1 2M30 167l0 4" stroke="#4a36b4" stroke-width="3" stroke-opacity="0.88"/><path d="M1 20h0M59 1h0M42 21h0M39 27h0M56 15h0M45 15h0M55 7h0M50 0h0M89 5h0M61 0h0M90 7h0M104 7h0M100 11h0M98 8h0M99 13h0M143 7h0M143 22h0M174 28h0M177 5h0M160 26h0M173 4h0M192 11h0M182 22h0M188 25h0M209 20h0M212 2h0M237 32h0M212 8h0M226 14h0M239 28h0M20 56h0M26 42h0M16 42h0M13 46h0M27 46h0M8 56h0M9 50h0M53 49h0M49 40h0M65 47h0M70 48h0M65 42h0M70 42h0M68 53h0M64 40h0M93 55h0M96 59h0M102 48h0M103 46h0M92 43h0M147 45h0M126 51h0M140 43h0M127 30h0M166 44h0M177 52h0M195 54h0M207 55h0M198 52h0M198 53h0M197 47h0M198 44h0M227 33h0M228 51h0M229 50h0M222 40h0M17 70h0M23 66h0M14 92h0M6 81h0M38 66h0M56 90h0M47 68h0M43 68h0M37 88h0M77 67h0M72 73h0M66 90h0M74 70h0M60 90h0M97 64h0M108 79h0M157 68h0M152 62h0M153 62h0M153 72h0M188 83h0M186 85h0M224 87h0M223 63h0M225 72h0M229 86h0M8 105h0M30 101h0M8 120h0M87 94h0M62 111h0M76 105h0M86 94h0M61 93h0M115 117h0M92 104h0M108 115h0M140 106h0M144 105h0M145 97h0M151 98h0M180 94h0M210 114h0M207 119h0M186 97h0M180 93h0M190 108h0M225 90h0M216 116h0M216 119h0M219 92h0M222 102h0M215 102h0M213 118h0M28 135h0M32 129h0M32 133h0M55 124h0M50 144h0M67 139h0M60 126h0M69 132h0M109 134h0M113 143h0M109 128h0M140 147h0M131 149h0M132 136h0M127 140h0M140 145h0M170 147h0M167 125h0M192 146h0M182 131h0M181 147h0M184 128h0M207 119h0M226 122h0M227 131h0M210 123h0M214 123h0M224 138h0M17 153h0M49 175h0M36 161h0M32 169h0M61 179h0M68 182h0M78 179h0M116 172h0M135 151h0M177 178h0M171 164h0M170 170h0M156 172h0M189 172h0M239 173h0M239 153h0" stroke="#2a1e8a" stroke-width="2.6" stroke-opacity="0.75"/><path d="M235 33h0M76 144h0M47 107h0M238 152h0M164 10h0M134 89h0M19 14h0M71 135h0M181 77h0M132 16h0M24 28h0M36 142h0M99 135h0M160 74h0M174 174h0M60 172h0M238 142h0M43 139h0M72 118h0M10 3h0M68 5h0M139 110h0M16 145h0M213 71h0M197 59h0M69 58h0M215 114h0M237 68h0M47 142h0M3 50h0M206 169h0M196 77h0M132 99h0M105 138h0M165 119h0M238 116h0M99 73h0M44 49h0M173 68h0M60 11h0M101 19h0M43 69h0M101 166h0M29 94h0M26 121h0M235 98h0M5 16h0M188 57h0M48 171h0M87 21h0M158 7h0M236 164h0M158 11h0M142 55h0M157 122h0M235 29h0M226 174h0M213 53h0M80 74h0M152 114h0M170 165h0M60 94h0M179 33h0M204 13h0M58 13h0M215 176h0M106 172h0M183 46h0M151 146h0M44 20h0M51 1h0M58 30h0M106 67h0M85 126h0M135 119h0M157 146h0M124 164h0M171 95h0M107 46h0M49 27h0M100 31h0M209 160h0M218 122h0M130 30h0M52 118h0M37 162h0M169 175h0M14 14h0M9 6h0M72 149h0M9 15h0M155 93h0M236 27h0M118 79h0M32 43h0M217 152h0M158 163h0M36 106h0M158 74h0M236 152h0M106 35h0M164 107h0M166 30h0M8 27h0M58 54h0M123 8h0M150 156h0M230 92h0M50 29h0M227 101h0M24 4h0M154 144h0M136 178h0M73 180h0M213 38h0M221 156h0M100 74h0M56 161h0M68 152h0M84 101h0M179 3h0M162 76h0M108 172h0M209 12h0M93 19h0M182 93h0M7 29h0M187 111h0M66 102h0M4 19h0M109 1h0M172 85h0M193 179h0M171 36h0M54 109h0M217 102h0M16 10h0M104 139h0M7 68h0M117 32h0M151 24h0M189 31h0M30 35h0M114 93h0M151 170h0M101 96h0M235 134h0M27 176h0M238 166h0M11 135h0M43 160h0M134 52h0M2 54h0M206 99h0M89 169h0M18 124h0M168 30h0M236 173h0M161 145h0M164 65h0M67 24h0M91 6h0M78 4h0M125 112h0M4 164h0M98 48h0M53 19h0M205 174h0M26 179h0M161 136h0M142 144h0M206 81h0M75 134h0M47 161h0M203 7h0M102 139h0M204 127h0M73 36h0M90 115h0M37 57h0M22 17h0M180 53h0M3 162h0M182 49h0M81 154h0M81 54h0M179 96h0M1 125h0M121 64h0M93 70h0M165 103h0M96 3h0M144 17h0M84 138h0M140 154h0M16 98h0M5 8h0M16 79h0M236 20h0M104 3h0M30 45h0M127 4h0M128 28h0M17 53h0M199 113h0M138 112h0M196 84h0M76 124h0M44 105h0M143 145h0M172 164h0M193 67h0M97 25h0M140 43h0M73 12h0M204 163h0M222 92h0M173 167h0M184 94h0M85 168h0M190 33h0M142 155h0M19 97h0M52 143h0M190 47h0M188 159h0M124 42h0M29 53h0M74 67h0M45 154h0M135 130h0M73 174h0M42 115h0M127 60h0M45 3h0M31 80h0M144 176h0M183 23h0M234 119h0M186 108h0M178 131h0M74 150h0M159 59h0M206 118h0M77 106h0M98 74h0M147 17h0M204 25h0M20 175h0M113 62h0M52 63h0M197 131h0M221 23h0M18 54h0M76 61h0M186 132h0M144 70h0M74 133h0M26 21h0M151 47h0M59 102h0M118 0h0M95 177h0M214 62h0M35 94h0M193 125h0M151 48h0M85 152h0M180 74h0M227 41h0M219 65h0M117 77h0M135 36h0M64 137h0M8 95h0M172 66h0M96 97h0M91 45h0M131 154h0M205 137h0M113 19h0M67 180h0M232 20h0M183 10h0M77 48h0M60 179h0M6 161h0M98 158h0M193 2h0M106 120h0M35 131h0M58 116h0M190 26h0M45 166h0M54 61h0M109 139h0M188 83h0M4 124h0M147 155h0M52 54h0" stroke="#303040" stroke-width="1.8" stroke-opacity="0.8"/></g>
</g>
<g clip-path="url(#cp21)">
<rect x="167" y="770" width="120.2" height="90.5" fill="#f0eef8"/>
<g transform="translate(167 770) scale(.5)" fill="none" stroke-linecap="round"><path d="M1 29l3 3M41 10l-1 3M79 21l-1 0M95 29l-2 2M145 -1l0 2M163 10l-1 4M185 2l-1 1M230 22l-2 2M43 30l-2 1M151 36l2 1M196 54l2 4M184 30l-3 2M182 38l-1 1M115 83l3 1M171 74l0 2M81 118l-1 1M46 161l1 1M83 151l-1 5M96 170l-1 1M177 152h0" stroke="#b09ce4" stroke-width="8.8" stroke-opacity="0.35"/><path d="M26 24l3 2M26 26l2 2M59 2l-3 1M50 5l3 3M56 5l3 1M65 1l-1 0M113 2l0 4M108 4l-3 1M103 8l-1 4M145 10l4 1M150 3l0 4M132 7l-2 0M157 16l1 0M166 7l2 0M197 3l-2 2M208 21l-1 4M206 14h0M185 3l2 1M227 13h0M212 13l-1 5M222 16l1 2M19 45l1 2M17 57h0M21 47l-1 2M19 47l-1 0M39 41l4 0M36 40l1 4M58 32l-3 1M41 34l-1 0M76 35l1 1M83 31l-2 4M64 49l1 4M119 38l0 1M111 35h0M102 31l-3 1M96 35l-3 2M164 57l3 4M158 40l-3 3M157 58l-3 1M185 60l1 1M184 31l-4 1M186 58l1 1M239 35l2 0M224 41l-4 0M214 42h0M222 57l0 4M233 60l5 1M235 50h0M223 59l0 1M7 63h0M49 71h0M52 76h0M40 68l0 2M75 70l2 2M69 76l-4 1M96 85l0 1M98 82l3 4M118 68l2 1M92 78l2 3M145 81l1 4M127 68l-2 3M149 79l-4 0M171 87l1 0M179 79h0M208 71l1 1M196 59l2 4M226 76l1 0M221 89l4 1M229 63l-2 2M236 90h0M5 118l3 2M26 102l2 0M31 93l-3 3M55 117h0M52 98l1 3M36 110l-1 0M46 110h0M42 111l-3 2M84 94l-3 3M76 97l1 0M81 96l4 2M80 114l1 1M116 112h0M118 105l-2 2M102 90l2 2M117 115l3 2M111 97l-3 0M130 107l3 3M163 116l2 3M159 111l2 1M198 110l-1 2M199 111l2 1M240 116l-2 4M228 107l-1 0M228 104l-3 2M14 150l-1 0M4 137l0 4M21 137l-4 1M35 150h0M52 131l-1 1M43 134l-1 1M42 127l-3 3M58 121l-1 4M44 131h0M81 144l-3 1M119 128l0 4M106 137h0M107 129l-2 0M114 150l-3 0M99 146h0M119 128l-2 3M152 134l-3 2M132 131l-3 2M124 136l1 1M121 132l-1 2M132 128l1 1M120 140l0 3M121 124l1 2M179 129h0M176 127l-4 0M183 124l2 3M194 128l1 1M226 144l-2 0M225 120l1 2M224 130h0M233 150l1 1M8 152h0M18 168l-4 1M15 155h0M25 156l2 2M32 179l-3 4M87 151l-1 2M81 163l-2 2M67 157l-5 1M106 176l-3 1M93 172l0 1M94 167l-1 2M94 156l3 1M130 156l1 2M140 159l0 3M129 166l1 0M171 177l-3 2M174 154l3 1M173 171h0M175 167l4 1M177 155l0 5M183 161h0M189 163l1 1M197 151l2 2M231 166h0M236 169l-1 1M233 174h0M237 168l-1 3M234 152l0 3" stroke="#b09ce4" stroke-width="7.8" stroke-opacity="0.35"/><path d="M18 13l1 0M22 11l0 2M43 14l-3 1M35 27l4 2M61 2h0M84 11h0M96 27l-2 1M102 23l2 1M112 16h0M146 2l-1 0M148 9l0 3M149 27l0 2M129 16l2 3M137 20l1 0M177 -1l1 3M162 11h0M165 15l-1 0M163 8l0 2M197 7l-2 2M189 3l3 1M232 9l-4 1M217 13l-2 4M27 38h0M22 42h0M8 55l1 1M11 58l-1 2M25 39l0 2M31 57l-1 0M53 28l-2 4M71 57h0M67 35l-4 1M70 33l-1 4M62 49l-3 4M121 57l-3 2M113 42l3 0M125 33l3 4M120 38l2 1M121 42l-1 4M136 36l1 0M148 32l2 1M149 45l-2 2M125 39h0M133 40l-1 0M179 38l2 3M177 43l-3 1M180 34l-1 1M150 41l1 3M204 29l1 3M185 37h0M188 34h0M196 55h0M202 36l-1 0M238 40l-1 3M234 50l3 1M231 49l2 0M236 56l0 1M20 63h0M1 80l4 0M5 78l-1 1M17 80h0M14 78l-2 2M57 64l-1 1M52 70l0 1M61 77l-2 1M67 87l1 1M74 60l2 1M115 82l1 4M117 84l3 0M114 81l0 2M103 76l-2 4M126 75l-1 1M126 78l0 4M170 66l-1 0M174 87h0M161 62l0 1M170 77l3 3M187 82l3 1M205 65l-2 1M197 62l-2 1M198 60l0 1M182 85l-1 0M241 70l-4 3M219 84l2 3M223 87l-3 2M223 86l-1 0M7 104h0M19 99l1 1M3 113l-1 2M49 99l0 1M38 109l1 1M79 107l3 1M85 92h0M89 97h0M117 110l-1 1M103 118l0 3M110 106l2 0M108 105l-1 1M136 106h0M172 118l-1 1M164 107l0 2M156 90l0 1M191 110l-2 2M198 115h0M199 113h0M193 108l1 3M198 118l0 1M221 93l-3 1M233 104l1 0M28 140l1 2M7 143l-1 5M21 136l-2 2M39 140l-1 0M39 135l0 5M54 127h0M52 133l1 3M66 131l-1 0M106 134l-1 2M126 128l2 1M148 135l-2 0M120 133l3 2M161 132l-4 0M185 135l2 1M185 131l4 1M197 125l1 2M187 127h0M196 120l1 4M186 135l0 3M226 128l5 1M226 144l-2 3M230 123l2 1M230 147l0 1M15 180h0M23 164l-1 2M26 178l-4 2M54 180l1 0M50 174l-2 0M59 176l-4 3M35 154l-1 1M79 156l-2 2M68 178l-1 4M95 176l2 3M140 174l0 1M129 176l-3 3M135 173l-1 0M141 166h0M171 174l-1 2M156 171l-4 2M198 177l-2 0M195 161l1 1M197 155l3 2M190 161l1 1M193 178l0 2M182 170l-1 2M220 152l3 1M216 177l5 0" stroke="#b09ce4" stroke-width="6.8" stroke-opacity="0.35"/><path d="M13 7l4 2M85 27l1 1M91 16l-3 1M136 20h0M148 14l1 1M146 4l-2 0M165 19l3 2M157 12l2 4M183 1l2 1M222 5l1 1M211 19l0 2M230 23h0M219 12l-2 2M235 16l1 3M34 54l-2 0M36 37l0 1M84 43l-1 1M113 41l0 2M108 34l0 1M91 43l0 1M141 44l-2 4M173 49l-4 0M199 58l2 0M183 40l-1 2M228 50l-1 3M41 78l-1 0M52 64l3 1M35 74l0 1M81 90h0M79 90h0M61 79l-1 2M90 87l2 2M151 76l1 2M185 81l-3 2M232 83l1 1M236 82h0M238 81l2 3M27 114l1 1M40 108h0M46 109l1 4M73 91l-3 1M90 117l2 3M107 96l-1 2M132 116l1 1M145 103l-1 0M232 102l0 5M22 149l4 0M7 137l-1 2M9 140l2 2M43 134l-1 3M82 137l0 4M147 129l2 2M121 128l2 0M148 130h0M121 127l1 1M193 126l-2 1M219 122l1 4M22 158l2 4M55 156l-2 3M40 163l0 3M78 176l-1 1M102 157l-3 3M107 178l1 2M99 162l4 0M129 161l1 1M138 162l2 1M176 159l3 0M195 153l0 5M238 161l-2 2M234 151l1 3M237 176l-1 0" stroke="#b09ce4" stroke-width="5.8" stroke-opacity="0.35"/><path d="M21 9h0M95 29l-2 2M179 28l1 3M16 55l-1 3M29 59l3 3M43 30l-2 1M82 30l0 3M151 36l2 1M184 30l-3 2M172 65l-1 2M202 109l-1 4M4 128l1 4M79 138l-1 4M31 159l2 0M177 152h0" stroke="#6a54cc" stroke-width="6" stroke-opacity="0.88"/><path d="M11 3l3 3M79 21l-1 0M145 -1l0 2M224 5l-2 1M68 34l1 0M63 50l3 1M89 42l3 3M45 77l0 4M115 83l3 1M171 74l0 2M197 114l2 2M2 123l1 3M131 146l2 4M189 131h0M46 169l2 1M96 170l-1 1M133 154l1 0" stroke="#7a66d4" stroke-width="6" stroke-opacity="0.88"/><path d="M1 29l3 3M230 10l2 3M71 60h0M182 38l-1 1M164 80l4 2M186 128h0M214 129l3 1M24 155l0 1M46 161l1 1M34 162l4 2M83 151l-1 5M146 178l1 3M178 152h0" stroke="#8070d4" stroke-width="6" stroke-opacity="0.88"/><path d="M41 10l-1 3M114 29l1 0M142 -2l-2 4M185 2l-1 1M231 9l0 1M195 57l-1 2M215 31l1 1M233 58l1 1M180 80l-3 2M96 120l-5 1M117 128l1 3" stroke="#5a44c0" stroke-width="6" stroke-opacity="0.88"/><path d="M39 21l-3 3M32 27h0M88 16l-1 1M134 3l2 0M163 10l-1 4M230 22l-2 2M196 54l2 4M120 78l1 0M225 64l4 1M81 118l-1 1M175 141l-3 2M91 173l2 2M82 159l4 1M84 157l4 1" stroke="#4a36b4" stroke-width="6" stroke-opacity="0.88"/><path d="M26 24l3 2M28 22l-2 0M20 14l3 2M5 8l3 2M30 28l-1 0M27 26l0 1M50 0h0M48 1h0M38 13l2 3M65 1l-1 0M63 2l-3 2M102 25l-2 0M108 9l4 2M143 5l4 2M145 12l3 4M129 21l-1 1M126 21l2 1M150 3l0 4M144 11l-1 1M144 10l1 1M139 1l-3 1M132 7l-2 0M164 19l3 0M150 10l3 4M157 16l1 0M184 1l-2 1M181 -3l1 2M198 4l-3 2M206 14h0M227 13h0M5 54l3 1M21 48l-1 1M37 40h0M36 40l1 4M32 36l2 2M41 34l-1 0M41 34l0 1M76 35l1 1M111 35h0M102 31l-3 1M106 29l-1 1M123 43l-2 1M135 40l-2 2M178 41l-2 2M164 57l3 4M158 40l-3 3M183 33l1 0M233 60l5 1M238 56l-1 2M235 50h0M237 56l-3 2M223 59l0 1M16 69h0M40 68l0 2M39 68l1 3M76 61l-3 1M111 79l0 3M110 84l1 1M116 78l2 2M121 74l-1 1M117 74l3 1M129 87l-2 1M129 82h0M149 81l1 3M177 82l-1 0M175 80l3 2M208 71l1 1M184 84l1 1M226 76l1 0M227 77l1 0M31 93l-3 3M52 94l0 3M84 94l-3 3M77 94h0M77 93l0 1M79 94h0M90 105l-2 1M92 105h0M173 94l-1 0M215 90l1 2M228 107l-1 1M4 137l0 4M7 137l-3 2M21 137l-4 1M2 133l1 1M42 127l-3 3M35 142l0 1M44 131h0M78 144h0M116 143l-4 0M113 143h0M119 128l-2 3M130 128l-1 4M121 132l-1 2M179 140l2 4M176 127l-4 0M157 131l1 0M179 143l-1 1M159 133l3 0M202 124l2 1M15 155h0M19 159l3 3M21 155l2 2M31 151l3 0M52 165l2 3M87 160l2 4M81 163l-2 2M78 164l1 1M93 172l0 1M97 176l2 2M129 166l1 0M171 177l-3 2M174 154l3 1M176 150l0 1M153 175h0M154 170l-2 3M191 179h0M233 166l0 2M236 169l-1 1M235 169l3 0M237 168l-1 3" stroke="#5a44c0" stroke-width="5" stroke-opacity="0.88"/><path d="M13 1l3 3M15 1l2 2M26 26l2 2M21 10l1 4M59 2l-3 1M60 3l-1 1M40 15l1 3M70 26l-3 1M97 24h0M103 8l-1 4M128 21l-3 3M144 14l3 4M150 17l-3 1M145 12l0 3M146 14l-1 2M154 8l4 2M158 10l-1 4M185 3l2 1M182 1l3 3M230 9l-1 3M231 11h0M230 5l4 1M227 9l4 0M19 45l1 2M20 42h0M27 48h0M29 48l-2 3M75 56l-3 2M77 37l-1 5M77 39l-1 0M106 38l0 1M140 45l-2 1M159 59l4 2M160 58l1 3M150 32l1 2M150 31h0M194 54l1 1M202 36l-3 3M184 31l-4 1M184 31l-4 1M183 38l2 4M239 35l2 0M238 29l3 3M239 36l-2 1M218 53l4 1M219 51l1 1M221 51l-2 0M222 57l0 4M-1 81h0M-3 78l1 0M69 76l-4 1M113 84l0 2M96 85l0 1M103 74l4 1M98 82l3 4M99 82l-2 3M103 80l2 0M94 79l-1 2M132 86l1 1M145 77l-3 1M144 76l-2 2M149 79l-4 0M143 79l-3 0M171 87l1 0M161 80l0 1M187 81l-1 4M184 81l2 1M181 61l1 3M180 62l1 1M9 93l1 1M7 103l-1 4M33 106l-1 1M55 117h0M53 116l4 1M52 98l1 3M82 90l-2 4M81 96l4 2M116 112h0M119 114l-1 1M102 90l2 2M107 96l3 2M136 105l1 3M135 106l1 1M129 96l1 5M129 97l0 1M156 93l-3 1M194 93l-3 1M193 89h0M7 149l-1 1M44 141h0M52 125l-4 0M79 137l4 3M81 144l-3 1M81 142l-1 1M85 143h0M152 134l-3 2M153 131l-2 4M148 133l2 1M120 133l2 3M132 128l1 1M121 124l1 2M122 124h0M202 126l0 1M186 138h0M225 120l1 2M233 150l1 1M235 149l-1 2M8 152h0M17 158l-1 2M24 152l0 3M22 173l-2 0M46 174l1 2M35 163h0M85 152l-3 1M77 174l-3 0M97 159h0M130 156l1 2M140 159l0 3M127 178l1 5M129 177l-2 3M137 160l-1 1M166 177l0 3M167 176l-2 3M176 150l1 3M178 159l0 4M169 153l-1 3M169 158l-1 3M189 163l1 1M208 157l-1 2M238 176l-2 0" stroke="#8070d4" stroke-width="5" stroke-opacity="0.88"/><path d="M3 21l4 1M23 7l-4 2M44 16l-1 0M41 21l-2 1M31 28l-2 2M79 28l1 1M69 0l-3 1M88 14l4 2M113 2l0 4M99 25l-1 1M116 16l-3 4M108 4l-3 1M107 5l0 2M104 4l2 1M97 20l1 2M145 10l4 1M151 8l0 1M151 10l-3 2M208 21l-1 4M212 13l-1 5M229 22l-2 2M229 18l2 0M226 17l2 1M228 16l1 1M229 16l-5 1M39 41l4 0M33 51l1 1M61 31l-3 3M58 32l-3 1M83 31l-2 4M82 29l4 0M68 53l1 1M119 38l0 1M96 35l-3 2M125 35l0 1M150 43l-2 3M143 37l0 4M146 56l2 1M147 53l0 4M173 51l-1 0M179 40l0 1M179 40l-1 1M157 58l-3 1M204 33l0 1M201 32l1 4M239 45l0 1M241 45l-2 3M5 67l3 1M56 80l-4 2M55 79l-3 1M49 71h0M50 72l-2 0M52 76h0M39 77l-1 0M50 61h0M80 86l-4 2M82 86l2 0M81 84l2 4M75 70l2 2M72 71l-1 1M118 82l1 3M118 64h0M122 75l-3 0M126 81l4 2M173 79l-1 0M182 79l1 1M189 85l-1 0M240 61l-3 0M221 89l4 1M224 88l0 1M229 63l-2 2M26 102l2 0M10 114l-3 2M7 112l2 1M47 117h0M46 116l-2 2M37 105l-4 2M83 108l-1 3M80 114l1 1M61 120l-3 1M109 107l1 0M118 105l-2 2M120 109l-2 0M116 106l-1 0M111 97l-3 0M125 91l3 2M163 116l2 3M202 120l3 1M14 150l-1 0M29 146l-1 0M43 134l-1 1M53 141l0 1M57 139l-1 5M80 137l1 2M65 129l-1 4M107 129l-2 0M113 130l1 1M132 131l-3 2M124 136l1 1M123 135l0 1M127 134l0 1M146 130l-4 1M172 142l-3 1M173 137l-1 2M179 129h0M178 127l-1 4M179 129l1 0M218 151l-1 2M218 144l-1 3M227 125l-2 1M25 152l-1 1M57 176l-2 2M87 151l-1 2M83 150l4 1M89 171l-2 2M78 152l1 0M77 154l-2 1M84 159l2 2M94 167l-1 2M90 167l1 1M94 156l3 1M96 156l-1 1M135 173l-2 1M135 173l1 2M175 167l4 1M175 165l4 2M197 176l-1 0M192 160l3 3M199 158l-2 1M232 171l-3 1M233 173l-2 1M234 152l0 3M223 175l3 3" stroke="#4a36b4" stroke-width="5" stroke-opacity="0.88"/><path d="M20 4l-5 1M56 5l3 1M60 3l-3 3M63 -1l-1 2M75 26l-2 3M68 5l1 0M108 14l1 0M90 30l0 1M164 12l2 0M181 27l-4 0M158 11l0 3M166 7l2 0M197 3l-2 2M187 6l0 1M208 18l3 4M22 47l1 1M13 55l3 2M16 50l0 1M21 43h0M17 57h0M19 55l0 1M35 36l-1 1M50 31l0 1M79 33h0M73 33l0 2M109 37l4 3M113 36l2 1M109 36h0M105 33h0M118 40l0 1M119 39l1 1M125 39l-3 2M134 44l-3 0M132 41l0 1M148 36l4 0M184 36l0 5M199 53l1 4M224 41l-4 0M23 61l-3 1M12 59l2 3M79 65l1 2M96 84l0 4M95 85l4 2M114 79l1 0M118 68l2 1M92 78l2 3M127 68l-2 3M121 84l-1 4M142 78l-1 3M168 81l0 1M179 79h0M179 79l-2 4M202 60l0 2M200 59l0 2M194 85l0 4M218 84l-2 3M222 86l-1 3M225 87l-2 4M236 90h0M13 99l-1 1M6 107l3 3M16 112l-2 0M36 110l-1 0M31 111l1 0M43 101l1 2M42 111l-3 2M40 111l1 1M87 120h0M116 103l-2 1M120 102l-3 2M117 115l3 2M117 116l-2 1M130 107l3 3M131 108h0M130 107l1 3M131 95l3 2M155 101l-5 0M154 103l1 1M183 111l2 1M182 112h0M199 111l2 1M228 112l3 2M240 116l-2 4M233 102h0M228 107l-1 0M227 106l1 2M228 104l-3 2M1 132l-1 0M35 150h0M35 147l1 1M31 147l1 1M52 131l-1 1M53 130l0 4M51 131l-2 2M44 130l-1 1M58 121l-1 4M72 137l-1 1M82 131l0 5M81 146l0 2M88 146l0 1M96 146l-3 2M119 141h0M119 128l0 4M103 145l0 2M148 140l-1 2M150 142l0 1M187 134h0M189 134l1 3M191 139l4 2M193 137h0M194 128l1 1M12 183l1 0M15 178l1 5M24 161l-2 2M33 155l0 5M32 160l2 3M31 155l1 2M54 178l0 1M67 157l-5 1M96 157l2 3M106 176l-3 1M128 158l-1 1M130 158l-3 2M173 171h0M157 165l1 1M183 161h0M187 164l-3 3M180 159h0M195 160l-5 0" stroke="#6a54cc" stroke-width="5" stroke-opacity="0.88"/><path d="M50 5l3 3M57 1l2 1M58 0l-1 1M78 27l-3 1M74 28l1 2M89 25l-1 0M111 5l1 0M148 3l1 0M148 2l-4 1M146 27l4 2M136 16l2 3M159 11l3 3M159 11l0 1M163 8l1 1M165 11l-1 2M164 11h0M147 6l3 0M222 16l1 2M222 6l1 4M224 5l-3 2M220 9l-2 1M13 62l-1 0M12 59l1 4M21 47l-1 2M19 47l-1 0M83 40l4 1M71 45h0M89 34l0 1M64 49l1 4M83 41l-2 2M115 40h0M108 57l0 1M146 33h0M185 60l1 1M186 58l1 1M188 59l-3 3M214 42h0M240 46l0 1M6 66l1 0M-2 71l-1 1M7 63h0M56 65l0 3M42 79l1 0M46 79l-1 1M71 63l1 0M81 62l3 2M83 63l1 1M88 59l3 2M90 64l4 0M75 89l0 2M145 81l1 4M145 84l1 1M148 83l-4 0M126 75l-1 4M126 74l0 1M124 70l-1 0M172 85h0M187 81l3 2M198 61l1 1M196 59l2 4M23 111l2 4M25 94l1 0M5 118l3 2M46 110h0M34 110l-1 3M76 97l1 0M72 96l2 2M157 94l0 1M158 96l-3 0M159 111l2 1M160 112l-4 0M167 114l-4 0M204 120h0M198 110l-1 2M197 111l-1 3M200 106l2 1M20 148l2 2M8 141l-2 3M1 140l2 0M121 139l-3 0M106 137h0M114 150l-3 0M113 150l-2 0M99 146h0M114 130l-2 0M145 129l-1 1M147 127l3 1M120 140l0 3M124 123l0 3M162 126l-2 4M187 134l-2 1M183 124l2 3M226 144l-2 0M226 143l0 1M224 130h0M232 123l-3 1M232 149l-1 1M18 168l-4 1M24 168l-2 0M22 170l0 3M25 156l2 2M28 158l-5 1M25 153l-1 4M21 177l0 1M32 179l-3 4M47 169l1 0M86 161l-1 4M95 171l1 1M94 170l0 1M103 151l3 2M101 159l3 2M118 176l-1 0M134 154l-1 1M131 153l-1 5M177 155l0 5M176 156l0 2M205 161l2 2M197 151l2 2M200 153l-1 2M231 166h0M233 174h0" stroke="#7a66d4" stroke-width="5" stroke-opacity="0.88"/><path d="M18 13l1 0M12 24l-1 1M15 4l3 0M60 6l-1 2M35 21l2 1M34 22l1 2M67 -1l-3 1M84 11h0M96 27l-2 1M95 30h0M143 4l-1 3M180 30l-4 3M165 15l-1 0M164 17l2 1M200 2l-4 1M233 9l-3 2M14 53l3 3M25 45l-4 1M32 37l1 2M31 36l1 3M32 43l1 4M31 57l-1 0M32 55l1 0M53 28l-2 4M74 38l-4 1M70 33l-1 4M74 39l-2 3M76 40l-3 1M117 42l-3 1M113 42l3 0M135 39l-2 1M134 41l0 1M121 42l-1 4M149 45l-2 2M125 39h0M121 42h0M133 45l3 1M133 40l-1 0M153 48l0 1M180 34l-1 1M181 35l-3 3M184 32l1 1M184 31l-3 0M182 38l0 1M179 35l4 1M224 36l0 1M234 50l3 1M234 48l-1 2M222 43l0 1M20 63h0M23 62h0M61 77l-2 1M77 73l-3 1M67 76l4 0M115 77h0M129 69l-3 2M168 79l2 4M159 85l4 1M170 66l-1 0M161 62l0 1M201 61l0 1M198 60l0 1M219 84l2 3M223 86l-1 0M238 95h0M10 106l-3 1M15 111h0M13 111l3 2M89 97h0M103 118l0 3M93 117h0M108 105l-1 1M110 103l0 3M132 95l-2 1M128 106l3 0M132 107l-1 2M128 106l0 2M133 106l-1 1M129 104l-1 0M191 110l-2 2M191 110l-3 2M190 109h0M185 111h0M187 111l0 2M208 121l-1 0M198 115h0M199 110l-3 3M193 108l1 3M231 102l-1 4M228 111l1 1M237 116l3 1M226 105l-1 3M226 105l-2 3M226 106l4 2M228 107l-1 4M234 109l-2 2M231 111h0M228 101l-3 2M28 140l1 2M21 136l-2 2M52 133l1 3M51 134l4 1M50 134l1 1M82 144l-1 1M86 128l1 3M89 147l1 2M120 141l1 1M119 128l-1 2M102 144h0M142 135l-1 2M155 124l-1 1M171 135l0 3M169 135l-3 1M188 129h0M185 135l2 1M192 140l3 0M194 124l0 3M196 120l1 4M198 119l-1 3M218 127l-3 0M13 170l1 1M15 180h0M23 164l-1 2M19 167l0 1M54 180l1 0M101 177l0 1M101 175l1 1M135 165l2 1M132 159l-4 1M198 158l-5 0M182 170l-1 2M180 172l-1 2M237 158l1 2M235 162l1 1" stroke="#6a54cc" stroke-width="4" stroke-opacity="0.88"/><path d="M7 5l4 2M5 28h0M53 28l0 4M43 14l-3 1M35 27l4 2M34 27l3 4M83 23l0 1M108 9l3 1M110 7l2 2M135 17l0 3M146 2l-1 0M149 27l0 2M137 20l1 0M167 8l-1 2M163 8l0 2M152 9l-3 2M182 5l1 1M180 11l2 1M180 14h0M222 6l1 1M238 0l-3 2M238 1l-1 3M231 21l-1 1M217 13l-2 4M11 58l-1 2M68 45l2 0M67 35l-4 1M65 32l3 2M65 49l3 0M86 33l-4 2M79 43l5 1M62 49l-3 4M121 57l-3 2M121 60h0M120 57l0 2M105 30l2 1M105 37l1 1M146 32h0M129 32l1 0M149 30l2 4M188 56l-2 1M210 35h0M210 35l1 3M241 42l1 1M227 50l0 3M0 71l1 1M6 63l-1 4M1 80l4 0M4 65l-2 1M57 64l-1 1M52 72l2 1M59 69l-1 0M68 60l4 0M86 84l4 1M85 86l-1 2M75 92l-3 0M194 80l-3 2M187 82l3 1M199 87l1 2M213 81h0M25 116l2 1M11 116l-1 2M4 117l4 2M19 99l1 1M3 113l-1 2M38 109l1 1M85 92h0M156 94l5 0M176 107l-3 2M167 114l-3 2M163 114l0 3M200 117l-1 3M198 118l0 1M233 104l1 0M7 143l-1 5M4 120l0 1M39 135l0 5M71 133l-4 1M119 140l2 0M117 135l0 2M103 130l-3 0M101 131l1 2M101 153l-3 1M113 133l-1 1M159 128l1 0M185 131l4 1M188 134l-2 2M223 135h0M227 135l-3 3M226 144l-2 3M223 148h0M230 123l2 1M233 120l-1 2M230 147l0 1M26 178l-4 2M41 162l1 0M59 176l-4 3M58 176l-1 3M50 168l-2 4M64 179l-4 1M110 181h0M104 153l1 0M103 152l-1 1M118 176l1 2M129 160l1 1M131 156l1 4M171 174l-1 2M179 157l1 1M206 158l1 2M207 160l0 1M181 164l1 1M194 156l3 1M240 161l-1 3" stroke="#7a66d4" stroke-width="4" stroke-opacity="0.88"/><path d="M14 7l1 1M6 7l1 1M5 6l0 3M3 28l-1 1M48 28l2 2M40 14l-2 1M64 -1l0 1M61 2h0M61 5l5 0M102 23l2 1M108 12l4 2M146 6l-1 1M147 6l2 2M148 9l0 3M145 12l-1 0M143 2l1 1M134 8l-4 2M150 9l1 1M158 16l-1 0M194 2l0 5M204 12h0M182 1l1 4M229 15h0M232 9l-4 1M217 13l4 0M235 19l-3 3M27 38h0M7 59l0 1M7 60h0M20 47l3 3M36 41l4 1M34 30l1 3M29 35l3 4M37 32l3 3M113 33l-1 0M115 34l0 2M118 42l0 2M138 53h0M139 51l3 3M154 45l2 0M155 42l1 1M188 34h0M188 33l3 0M195 57h0M214 28l0 4M224 48l-1 2M237 51l-1 3M235 57l1 1M221 61h0M5 78l-1 1M15 69l-1 2M13 64l1 4M40 68l1 0M52 70l0 1M84 90l-1 1M74 60l2 1M117 84l3 0M114 79l1 1M119 76l-3 2M114 83l3 0M145 79l-2 2M126 75l-1 1M182 85l-1 0M182 86l-2 3M7 104h0M49 94l-1 2M49 99l0 1M79 107l3 1M89 93l-1 1M117 110l-1 1M110 106l2 0M109 103l0 4M160 110l2 1M162 113l-1 2M199 113h0M199 112l-2 3M201 113l0 1M221 93l-3 1M217 91l2 1M222 90l-2 0M224 92l3 0M213 120l2 1M215 122l-2 0M229 105l0 1M5 136l-3 3M20 138l-1 0M5 121l2 4M39 140l-1 0M40 131l0 1M66 131l-1 0M65 129l-1 2M121 143l-4 2M121 127l-4 1M106 134l-1 2M126 128l2 1M148 135l-2 0M122 135l-1 2M120 133l3 2M173 124l2 2M173 124l-1 4M161 132l-4 0M178 146l1 2M197 144l1 2M187 127h0M192 127l-2 3M188 129l0 4M226 128l5 1M34 149l-3 4M35 149l0 1M86 162l3 0M80 165l-2 0M68 178l-1 4M92 175l1 1M93 172l-2 0M95 176l2 3M172 177l1 3M178 160l4 1M156 171l-4 2M193 178l0 2M236 168l-1 3M237 170l-1 1" stroke="#5a44c0" stroke-width="4" stroke-opacity="0.88"/><path d="M3 31l-2 3M1 31h0M22 11l0 2M38 15l1 0M67 28l-1 0M97 22l1 0M97 26h0M92 21l1 1M125 23l3 3M125 23l1 2M129 16l2 3M125 18l2 0M143 4l1 1M156 12h0M162 11h0M162 12l0 4M161 14h0M156 23h0M161 19l1 0M197 7l-2 2M195 10l0 1M189 3l3 1M188 3l-1 2M22 42h0M22 40l-1 4M21 49h0M8 55l1 1M8 54l1 4M8 55h0M28 43l-1 4M71 57h0M75 37l2 2M115 38l-2 4M91 35l0 1M120 38l2 1M136 36l1 0M137 34l-2 0M148 32l2 1M133 31l-5 1M177 43l-3 1M147 31l4 2M150 41l1 3M148 45l0 1M190 56l2 0M190 54l1 1M204 29l1 3M196 55h0M197 53l1 0M202 36l-1 0M204 35l-4 1M182 30h0M238 40l-1 3M231 49l2 0M236 56l0 1M0 79l0 2M14 78l-2 2M43 73l2 1M42 72l1 2M50 60l0 1M67 79l1 2M67 72l2 2M115 82l1 4M97 82l0 3M103 76l-2 4M97 78l3 2M114 77h0M116 77h0M103 77l4 2M92 79l3 3M92 79l-2 1M145 76l-2 2M163 79l1 2M163 80l-1 0M184 62h0M197 62l-2 1M188 80l-4 1M237 62h0M227 62l-1 1M14 94l1 0M23 106h0M6 105l-2 3M55 116h0M80 98l-2 2M143 107l1 1M136 106h0M142 97l-1 2M143 98l-3 3M142 101l0 1M152 97l-4 2M153 96l-1 3M172 118l-1 1M164 107l0 2M163 107l-3 1M156 90l0 1M160 86l0 4M194 94l1 1M194 94l-1 1M7 149l-1 0M12 150l-4 2M54 127h0M54 123l1 3M83 147l3 1M91 139l-1 0M140 148l-3 3M141 146l1 1M141 150l-1 2M123 123l1 0M197 125l1 2M184 127l0 3M182 124l2 4M186 135l0 3M226 119h0M235 154h0M9 152l1 2M24 159h0M47 158l1 3M45 161l2 0M50 174l-2 0M99 161l2 2M93 177l-4 0M140 174l0 1M129 176l-3 3M141 166h0M168 161l-1 1M197 155l3 2M198 157l-1 1M190 161l1 1M192 159l4 3M239 149l-1 1M229 152l0 3M241 178l-4 1" stroke="#8070d4" stroke-width="4" stroke-opacity="0.88"/><path d="M21 4l3 3M8 25l2 1M44 14l3 4M80 26l-2 1M66 -3l-2 1M99 26l-2 3M95 28l1 0M112 16h0M112 15l0 3M152 9l-3 0M150 11l-1 0M177 -1l1 3M178 -2l-2 2M163 12l2 1M166 11l-4 0M204 25l3 1M215 17l0 1M226 9l1 1M224 13l-1 5M229 15l-4 1M11 35l3 3M13 34l2 3M25 39l0 2M39 44l-1 2M57 28l1 5M63 39l1 2M103 31l-1 3M103 31h0M125 33l3 4M146 43l1 4M146 45l-2 1M144 37l-1 4M148 55l0 1M128 38l1 3M172 48l3 4M179 38l2 3M199 54l-2 3M195 58l0 2M185 37h0M219 37l0 1M17 80h0M17 76l-1 2M20 83h0M2 64l-1 0M1 82l0 1M3 83l1 2M41 77l1 2M50 61l3 3M50 63l2 1M78 86l1 2M73 85l2 2M67 87l1 1M114 81l0 2M113 84l2 0M117 86l2 1M119 84l-2 1M122 65l-5 1M116 69l3 0M126 78l0 4M175 79l0 2M174 87h0M173 89h0M170 77l3 3M175 77l0 1M173 77l-5 1M205 65l-2 1M203 64l1 3M192 74l-2 3M201 61l-3 1M236 59l2 1M241 70l-4 3M220 86l4 0M223 87l-3 2M50 100l-1 1M48 116l-1 2M35 108l-3 1M32 104l1 1M80 109h0M83 111l-1 1M81 93l0 2M60 118l2 1M59 119h0M111 106l0 1M114 102l2 2M119 107l0 1M120 104l0 1M128 90l-2 3M128 87l-1 2M204 121h0M40 136l0 3M53 142l1 0M81 137l3 2M83 136l-1 2M63 131h0M98 142l2 3M100 139l1 4M131 135h0M182 129l-3 3M180 129l1 4M180 132h0M216 135l4 1M217 147l0 1M226 126l-1 1M229 124l-4 1M213 122l-3 1M26 151l1 2M55 175l2 2M35 154l-1 1M37 155l0 2M79 156l-2 2M77 153h0M88 173l3 3M93 169l-3 3M133 171l-1 2M135 173l-1 0M169 155l-1 3M169 156l0 2M198 177l-2 0M199 177l-1 2M195 161l1 1M200 155l-2 2M222 155l-1 1M220 152l3 1M216 177l5 0M228 154l0 1" stroke="#4a36b4" stroke-width="4" stroke-opacity="0.88"/><path d="M24 4l-3 2M7 26l3 1M47 15l-2 0M66 4l4 2M91 16l-3 1M208 19l-1 3M229 9l-4 0M223 17l0 1M34 54l-2 0M62 43l-1 1M111 34l0 1M113 32l-1 4M109 35l-1 1M122 35l2 2M202 34l-1 5M239 45l-1 3M41 78l-1 0M81 85l1 4M61 79l-1 2M120 78l-3 0M121 74l0 2M158 82l1 0M151 76l1 2M185 81l-3 2M184 84l0 1M199 62l1 1M241 61l-1 1M220 87l4 1M223 88h0M8 111l0 3M40 108h0M36 107l0 1M146 101h0M145 103l0 1M168 118l1 1M163 119l-3 0M29 147l-1 0M217 135l0 1M16 157l1 0M13 155l0 1M59 176l-2 3M32 155l4 3M97 172l-3 0M92 173l-4 0M129 161l1 1M167 157l-1 0M219 173l-3 0M229 155l0 1" stroke="#4a36b4" stroke-width="3" stroke-opacity="0.88"/><path d="M12 3l-2 2M25 2l-1 2M51 27h0M85 27l1 1M86 0l-2 3M136 20h0M135 19l1 1M145 2l2 4M148 26l-4 1M139 22l-1 0M160 15l0 1M168 10l-2 3M182 9l-1 2M222 5l1 1M233 3l2 1M230 23h0M84 43l-1 1M87 32l-2 1M117 40l-3 1M108 34l0 1M91 43l0 1M92 42h0M145 32l0 2M210 34l-1 3M209 38l-1 3M208 35l-2 0M210 35h0M228 50l-1 3M0 74l1 0M5 76l-3 1M3 64l1 0M79 90h0M88 83h0M118 82l-1 4M194 78l1 4M189 78l0 1M198 90l2 1M194 88l1 1M232 83l1 1M27 114l1 1M18 97l2 1M19 100l0 1M1 113l-2 0M44 107l2 2M79 98l0 1M132 116l1 1M131 110l0 2M127 107l1 3M232 102l0 5M22 149l4 0M25 148l-1 3M9 140l2 2M2 139l-1 0M4 125l1 1M89 142l1 1M91 138l-2 4M120 136l0 2M121 136l0 1M105 131l0 1M147 129l2 2M119 143l1 1M121 128l2 0M226 135l0 2M218 133l2 0M25 169l3 1M40 163l0 3M42 159l-1 4M60 182l0 2M107 178l1 2M128 159h0M207 159l-2 3M195 153l0 5M238 161l-2 2" stroke="#7a66d4" stroke-width="3" stroke-opacity="0.88"/><path d="M26 26l3 2M24 8l-1 2M61 27h0M61 29l1 4M118 25l-1 1M146 12l1 1M146 4l-2 0M237 15l0 2M230 8l0 1M77 41l0 1M78 41l2 1M68 44l2 4M113 41l0 2M141 44l-2 4M173 49l-4 0M187 56l2 2M15 78l-5 1M44 73l-3 1M52 64l3 1M69 77l1 2M115 84l2 2M104 76h0M90 87l2 2M166 79l-2 1M190 76l-2 3M191 73h0M17 96l0 3M25 104l-2 1M26 101l-1 4M4 107h0M73 91l-3 1M107 96l-1 2M107 99l-2 1M145 103l-1 0M192 91l0 1M7 137l-1 2M82 137l0 4M89 138l-1 4M124 136l0 1M193 126l-2 1M18 159l0 1M22 158l2 4M21 172l0 4M55 156l-2 3M76 174l3 0M99 162l4 0M138 162l2 1M166 162l-1 0M201 155l-3 2M234 151l1 3M237 176l-1 0" stroke="#8070d4" stroke-width="3" stroke-opacity="0.88"/><path d="M13 7l4 2M1 26l2 4M51 -1h0M113 28h0M106 11l4 0M148 14l1 1M165 19l3 2M164 20l-2 1M152 8l-2 3M159 17l-2 1M157 7l2 3M194 5l1 4M194 4l-2 0M208 11l-2 1M183 1l2 1M186 0h0M226 14l0 2M234 11l-2 1M219 12l-2 2M221 13h0M235 16l1 3M237 17l-1 0M27 33l1 4M28 35l0 3M17 48l2 3M44 36l1 4M29 40l-3 1M113 35l0 1M94 41l-1 2M140 51l-1 3M139 49l2 3M141 53h0M143 50l-2 1M164 59l1 3M183 40l-1 2M81 90h0M82 91l-2 2M112 79h0M132 86l-1 1M225 76l4 2M238 81l2 3M51 96l3 1M91 104l1 2M116 111h0M170 94l2 0M213 119l2 1M214 120l1 3M4 133l-2 3M42 138l-4 2M44 132l1 2M78 144l5 0M67 134l0 1M121 127l1 1M124 128l-3 1M173 126l1 2M174 128l1 5M161 131l0 1M181 141l-2 3M201 124l1 3M17 155l-3 0M78 176l-1 1M76 175l0 1M90 175l-1 0M91 179h0M179 155l0 3M176 159l3 0M234 164l1 3M233 166l1 4" stroke="#5a44c0" stroke-width="3" stroke-opacity="0.88"/><path d="M76 13l4 2M80 15l-3 3M61 -1l-1 1M75 27l0 1M143 3l3 2M157 12l2 4M159 14l-1 4M196 2l1 2M211 19l0 2M213 21l-2 4M24 44h0M32 44l-2 1M29 45h0M36 37l0 1M72 39l-1 1M74 31l2 4M134 42l-2 1M185 31l0 1M199 58l2 0M233 48l4 1M1 61l1 3M43 69l-1 5M35 74l0 1M35 77h0M85 69l2 0M88 68l2 3M71 78l-1 3M140 81l1 2M168 65l1 1M180 75l-3 3M156 61l4 1M199 58l0 2M236 82h0M222 91h0M8 105l0 2M32 109l2 0M46 109l1 4M89 121h0M90 117l2 3M134 96h0M209 116l3 3M231 113l4 1M229 107l1 0M21 137l-2 1M43 134l-1 3M59 120l-2 3M55 122l2 2M79 143l0 1M72 132l0 3M75 134l1 0M84 133l0 1M121 131l-1 0M142 135l2 1M145 135l1 4M148 130h0M149 131l0 2M219 122l1 4M220 124l1 2M221 148l1 1M102 157l-3 3M101 156l-1 2M96 152h0M172 168l-1 0M158 164l1 1M176 150l1 0M238 155l-1 0" stroke="#6a54cc" stroke-width="3" stroke-opacity="0.88"/><path d="M23 4h0M17 15h0M11 6h0M26 23h0M22 15h0M13 24h0M19 6h0M57 3h0M52 28h0M49 29h0M77 28h0M59 2h0M68 4h0M66 27h0M88 28h0M82 2h0M110 15h0M110 11h0M105 5h0M98 23h0M95 30h0M148 2h0M142 4h0M146 15h0M155 11h0M167 19h0M166 12h0M180 30h0M161 14h0M165 15h0M161 20h0M158 10h0M181 1h0M209 23h0M183 2h0M186 4h0M228 14h0M212 19h0M228 24h0M226 11h0M222 8h0M220 14h0M236 19h0M229 9h0M227 15h0M27 40h0M11 58h0M16 56h0M27 48h0M19 48h0M28 39h0M19 47h0M31 37h0M41 40h0M31 57h0M31 36h0M43 30h0M41 36h0M35 38h0M82 43h0M65 34h0M76 38h0M84 32h0M65 51h0M83 34h0M61 52h0M116 40h0M111 36h0M119 39h0M119 58h0M106 34h0M119 43h0M109 56h0M112 36h0M94 43h0M91 41h0M119 41h0M106 39h0M126 35h0M139 52h0M133 42h0M144 39h0M148 57h0M147 34h0M149 33h0M147 47h0M126 40h0M128 42h0M131 40h0M131 34h0M130 33h0M161 60h0M152 48h0M173 50h0M154 37h0M179 33h0M151 34h0M195 54h0M182 29h0M186 58h0M181 37h0M184 36h0M199 60h0M188 35h0M183 41h0M194 57h0M187 57h0M239 43h0M215 43h0M216 30h0M235 61h0M223 49h0M240 45h0M228 51h0M236 55h0M8 63h0M4 80h0M4 77h0M49 69h0M52 71h0M60 70h0M82 87h0M74 85h0M78 90h0M85 67h0M76 73h0M67 88h0M76 61h0M75 90h0M117 79h0M118 84h0M112 83h0M114 79h0M111 81h0M116 84h0M118 67h0M91 86h0M146 81h0M147 83h0M126 76h0M126 71h0M128 77h0M118 75h0M161 86h0M169 68h0M157 83h0M162 62h0M172 84h0M166 79h0M189 86h0M190 79h0M187 84h0M203 62h0M185 82h0M204 65h0M192 87h0M236 62h0M227 75h0M233 84h0M221 85h0M224 91h0M238 81h0M236 89h0M26 96h0M11 93h0M8 108h0M13 113h0M18 99h0M2 113h0M4 108h0M53 99h0M45 104h0M49 99h0M48 112h0M39 111h0M77 98h0M78 115h0M84 92h0M89 98h0M107 108h0M102 119h0M89 117h0M121 109h0M117 105h0M110 107h0M94 122h0M132 116h0M135 106h0M131 99h0M156 95h0M161 112h0M160 111h0M172 119h0M210 117h0M200 107h0M200 112h0M207 120h0M199 119h0M214 120h0M228 106h0M228 109h0M213 121h0M233 105h0M11 140h0M7 148h0M7 145h0M3 140h0M20 136h0M5 125h0M8 123h0M29 146h0M35 151h0M41 136h0M41 129h0M39 139h0M35 144h0M82 140h0M87 133h0M90 142h0M69 135h0M78 141h0M119 141h0M119 132h0M102 144h0M112 133h0M144 129h0M149 136h0M127 129h0M150 132h0M144 135h0M148 130h0M143 132h0M140 149h0M121 124h0M169 143h0M179 129h0M171 135h0M158 133h0M182 143h0M198 126h0M192 126h0M179 133h0M196 128h0M215 131h0M225 135h0M225 144h0M230 148h0M16 169h0M22 157h0M16 168h0M16 157h0M24 168h0M27 158h0M23 158h0M15 157h0M22 165h0M22 177h0M32 181h0M41 164h0M47 169h0M31 159h0M36 155h0M87 153h0M87 162h0M83 154h0M77 156h0M77 164h0M78 178h0M75 174h0M84 164h0M101 160h0M108 177h0M95 168h0M102 159h0M101 163h0M95 175h0M92 172h0M129 161h0M139 174h0M129 158h0M141 167h0M170 179h0M179 152h0M157 165h0M171 175h0M179 167h0M176 158h0M197 178h0M185 160h0M195 162h0M189 165h0M209 156h0M198 153h0M182 171h0M235 169h0M238 162h0M221 156h0M234 175h0M225 176h0M236 177h0" stroke="#2a1e8a" stroke-width="2.6" stroke-opacity="0.75"/><path d="M57 153h0M162 173h0M40 128h0M12 155h0M59 46h0M65 42h0M121 130h0M12 111h0M209 9h0M177 123h0M4 101h0M50 156h0M176 135h0M139 138h0M82 170h0M209 58h0M196 158h0M214 47h0M79 152h0M85 24h0M52 170h0M169 156h0M227 90h0M26 107h0M65 31h0M88 48h0M142 11h0M234 8h0M4 58h0M64 120h0M65 40h0M142 12h0M128 57h0M164 81h0M223 19h0M154 81h0M164 0h0M146 50h0M82 19h0M4 86h0M15 65h0M36 45h0M18 160h0M76 28h0M61 90h0M39 141h0M4 68h0M211 45h0M104 67h0M89 98h0M239 108h0M51 109h0M239 88h0M156 38h0M102 99h0M45 47h0M112 116h0M227 6h0M27 67h0M66 168h0M32 89h0M46 152h0M218 138h0M14 127h0M81 24h0M192 42h0M19 105h0M34 112h0M215 152h0M138 50h0M169 139h0M194 114h0M115 100h0M110 131h0M0 135h0M96 10h0M53 170h0M23 56h0M46 32h0M132 97h0M104 50h0M218 108h0M53 51h0M36 96h0M134 161h0M102 116h0M192 159h0M169 146h0M9 104h0M83 30h0M124 95h0M95 164h0M143 71h0M176 82h0M205 100h0M25 26h0M24 176h0M39 13h0M142 120h0M129 153h0M193 25h0M199 90h0M125 89h0M137 1h0M240 14h0M228 178h0M38 97h0M193 107h0M70 20h0M134 107h0M195 27h0M79 133h0M204 90h0M220 168h0M212 117h0M231 65h0M139 60h0M25 16h0M37 170h0M236 111h0M186 102h0M216 30h0M114 98h0M4 66h0M104 85h0M60 112h0M105 73h0M215 78h0M48 165h0M44 163h0M97 64h0M97 5h0M45 155h0M79 90h0M169 119h0M237 121h0M29 74h0M108 63h0M166 96h0M49 48h0M127 15h0M20 181h0M147 148h0M28 16h0M159 134h0M100 113h0M199 50h0M109 66h0M13 9h0M83 128h0M41 19h0M48 105h0M26 97h0M41 123h0M21 175h0M74 97h0M233 159h0M187 67h0M158 11h0M131 136h0M38 102h0M137 4h0M101 46h0M154 156h0M75 86h0M66 24h0M137 99h0M93 125h0M216 8h0M29 161h0M195 15h0M226 158h0M151 174h0M61 168h0M112 14h0M78 150h0M207 114h0M106 86h0M232 83h0M19 162h0M12 99h0M12 171h0M238 42h0M8 20h0M91 150h0M153 154h0M182 78h0M183 102h0M194 42h0M107 151h0M232 52h0M83 45h0M102 81h0M129 67h0M83 140h0M120 106h0M79 111h0M110 75h0M156 66h0M106 52h0M71 133h0M43 136h0M36 118h0M123 124h0M172 175h0M226 92h0M168 42h0M57 21h0M201 45h0M73 131h0M204 142h0M43 106h0M43 49h0M215 16h0M15 116h0M170 86h0M173 95h0M28 140h0M75 170h0M50 118h0M60 163h0M102 110h0M151 38h0M60 134h0M87 36h0M170 122h0M152 146h0M54 142h0M31 140h0M162 99h0M22 121h0M101 55h0M137 92h0M119 152h0M13 129h0M39 174h0M177 45h0M41 45h0M192 6h0M184 84h0M61 131h0M137 52h0M191 175h0M151 8h0M80 73h0M85 100h0M218 83h0M41 105h0M234 6h0M123 172h0M181 66h0M70 170h0M99 6h0M129 163h0M195 166h0M169 48h0M148 55h0M41 169h0M126 13h0M185 6h0M226 66h0M8 80h0M114 164h0M153 59h0M166 100h0M93 52h0M110 71h0M120 173h0M221 21h0M138 132h0M82 71h0M17 97h0M115 14h0M138 96h0M122 76h0M136 42h0M90 71h0M35 153h0M97 37h0M17 57h0M1 57h0M128 137h0M69 14h0M63 25h0M161 142h0M57 24h0M119 89h0M207 73h0M82 65h0M14 134h0M217 91h0M140 30h0M63 113h0M87 56h0M119 121h0M120 4h0M154 70h0M240 140h0M52 111h0M169 60h0" stroke="#303040" stroke-width="1.8" stroke-opacity="0.8"/></g>
</g>
<g clip-path="url(#cp22)">
<rect x="295" y="770" width="120" height="90.5" fill="#eeeef6"/>
<g transform="translate(295 770) scale(.5)" fill="none" stroke-linecap="round"><path d="M16 14l0 1M65 10l1 1M134 1l1 2M145 32l0 1M7 85l-4 2M76 72h0M123 61l4 1M183 82l2 1M14 117l-4 2M17 98l-1 2M17 114h0M64 96l0 1M194 96l-1 4M105 146l5 1M148 130h0M202 151h0M29 162l0 1M62 151l0 1M133 178l3 3M172 172l2 0" stroke="#a890e0" stroke-width="8.8" stroke-opacity="0.35"/><path d="M26 14l-2 0M10 9h0M20 24l-2 2M11 15l3 1M25 26l3 2M55 18l1 4M50 27l-1 2M54 25l-2 2M50 23l-4 2M36 24l0 1M49 24l0 2M56 19l0 3M53 13l0 1M79 8l1 1M80 7l-1 3M70 16h0M90 29l-3 1M94 15l-1 1M94 28l-2 3M93 19h0M98 3l-2 0M147 25l-1 1M145 5l1 2M129 0l-3 1M137 9l2 2M179 29l2 3M173 11h0M159 24l2 1M159 15l-2 0M188 7l-2 3M187 24l-4 1M189 1l-1 2M208 29l1 1M181 5l3 1M205 2l-2 2M196 8h0M196 11l4 1M232 14l-1 5M222 2h0M227 -1l0 3M17 35l2 1M29 31h0M18 35l-1 0M18 31l-1 0M12 42l3 2M42 48l1 0M53 45l4 1M53 32l3 0M51 32l3 4M63 48l-2 4M90 48h0M107 57l0 1M89 47l3 0M149 37l-2 2M140 58l-1 3M132 55l-1 2M130 55l1 1M173 56l1 1M177 58h0M153 47l-2 0M167 58l-1 3M180 56l-1 1M174 56l-2 1M183 34l-1 1M205 34l0 4M218 48l0 1M228 49h0M219 33l2 0M231 40l0 2M239 43l-1 1M236 45l-1 1M223 34l2 4M232 47l0 2M23 62l-3 3M10 83l0 3M28 77l2 3M2 80l2 3M23 62l4 1M22 60l-3 3M23 60l3 3M35 87l1 2M48 87l-3 3M57 82h0M43 68l0 3M51 86l-1 1M53 62l-4 0M47 80l1 2M31 68l1 2M50 61l0 1M33 68l-3 0M76 66l2 2M85 87l-2 1M116 89l1 3M100 67l2 1M106 65l4 3M113 60l-2 2M130 88l-4 1M147 85h0M128 88l-1 1M128 85l0 5M142 85l-2 1M138 88l1 1M125 83l0 1M149 69l0 5M178 74l0 3M160 67l3 1M193 60l-2 2M187 71l3 1M200 71l-1 2M215 76l-2 1M232 71l3 1M230 71l-3 0M233 73l0 2M221 73l2 4M3 109l-1 1M22 115l0 1M14 119l-1 2M2 113l-2 3M37 107h0M48 89l0 3M34 109l-3 2M56 108l-1 1M45 100l3 0M79 91l-3 1M61 109l3 2M71 95l0 1M111 95l-1 4M102 101l-4 1M113 99l-2 3M99 103l-1 0M144 109l4 2M148 88l1 4M131 94l2 4M132 107h0M168 106l-2 4M175 101l-2 1M158 92l2 2M178 90l0 3M150 112h0M182 107l-5 2M195 104l-2 3M199 92l-3 2M192 96l2 1M213 101l0 3M222 107l0 2M215 117h0M221 118l3 1M222 100l-3 1M237 119l1 2M211 95l2 1M29 150l1 1M19 120l-1 0M4 134l-2 1M17 130l-3 2M9 137l-2 1M58 144l-2 2M35 146h0M47 140l1 0M36 146l-3 1M34 144l-1 5M84 128l0 4M64 127l1 1M111 131l-3 3M118 129h0M102 141l3 4M117 141l-4 1M100 130l2 1M120 126l0 4M150 133l-1 2M136 121l-3 2M131 139l-1 2M149 126l-1 4M128 134l-5 1M173 120l0 3M151 127l3 2M163 122l4 2M163 138h0M163 126l3 2M190 141l2 3M191 150l1 2M206 130l-1 1M202 150l1 1M199 130l-2 0M213 134l-1 2M231 120l2 2M238 136l2 1M239 138l0 1M212 127l-2 2M236 149l-1 1M24 151l3 2M29 167l0 1M4 177l2 1M4 170l2 1M25 151l3 1M49 156l2 1M31 161l-1 4M85 176h0M78 177l1 3M87 155l4 0M61 152l-1 0M121 180l-3 2M108 178l0 1M109 150l3 3M100 157l2 2M99 162l2 1M100 157l-1 2M98 151l4 1M143 170l0 3M124 176l-4 1M147 162l-3 0M140 168l1 1M143 155l-2 1M143 176l0 4M132 172l2 2M171 154l0 1M176 168l-1 0M155 160l1 3M148 157l3 2M156 163l-1 2M180 167h0M158 167l1 0M192 169l-2 1M189 175l0 1M181 169l-1 1M187 179l0 4M187 166l-1 2M183 171h0M187 165h0M231 177l-1 4M234 177l2 1M238 175l1 2M227 154l3 0" stroke="#a890e0" stroke-width="7.8" stroke-opacity="0.35"/><path d="M5 7h0M25 1l5 0M25 29l1 1M7 15l-3 1M19 13l1 3M45 26l3 1M32 25l3 3M52 15l-1 4M49 16l1 4M46 19l3 1M32 27l2 1M45 5l2 2M101 3l-3 1M107 26l-4 3M100 18l3 1M97 21l2 3M120 -1l-2 4M89 27l3 1M135 15l-2 4M135 1l1 1M134 26l-1 4M137 2l-2 1M122 16l-3 3M145 18l1 2M154 27l0 3M174 28l-1 1M158 11l-1 2M162 8h0M168 8l-3 1M161 23l1 3M178 25h0M175 26l2 4M208 7l-4 0M181 0l2 1M202 5h0M183 11l2 1M232 2l-1 0M228 15l-1 1M239 25l1 1M28 58l-2 2M10 60h0M20 56l0 3M20 56l-2 3M6 41l3 1M55 38l3 1M48 30l3 1M35 51l-2 2M35 33h0M49 46l3 3M61 33l-1 1M61 42l-1 2M88 48l1 3M63 55l-1 1M62 42l1 2M87 33l3 0M91 34l0 1M114 59l3 3M100 36l1 3M126 54l-2 3M132 42l-3 1M126 32l2 3M138 41l3 0M127 46l4 1M153 45l1 0M175 50l0 2M163 58l2 1M173 29l1 4M203 53l2 1M184 31h0M187 47l-1 0M187 56l-1 1M230 44l1 3M230 52l-3 3M229 38l-1 1M216 32l-3 0M228 49h0M222 36l4 3M217 44l-5 0M23 62l0 1M23 72l-2 0M24 73l-2 0M21 62l-1 1M24 70l-1 4M58 67l-3 1M48 80l-2 2M51 79l0 1M31 66l1 3M53 79l1 5M48 80h0M43 89l1 1M77 71l4 1M85 80l2 2M88 84l2 3M99 61l2 1M109 71l0 1M97 61l0 1M117 63h0M110 62l0 3M99 67l1 1M109 70l4 1M100 61h0M93 89l-2 0M100 63l-1 2M140 66l2 4M133 66h0M144 67h0M129 82l-3 3M127 62l-2 4M121 86l2 3M175 72l3 3M161 67l-3 1M235 74l1 1M226 68l-1 3M229 73l-1 2M6 117l0 1M2 101h0M16 114l-1 0M7 117l3 0M3 116l-1 1M5 120l-1 0M6 95l-4 1M42 104l1 1M36 101l0 2M37 92h0M36 110l-1 1M35 101l-1 4M43 91l0 1M42 110l0 2M39 105l0 5M62 118l-4 2M59 103l3 0M64 109l1 1M74 93l-3 1M61 112l-1 2M116 116h0M107 100l-1 0M117 94h0M107 101l2 3M114 103l-3 1M127 120h0M137 91l-4 0M125 119l-3 1M126 116l4 1M144 119l4 0M135 116l4 1M162 97l0 1M176 114l-3 0M170 97l2 3M163 116l1 2M158 117h0M169 104l-1 0M185 100l1 1M194 106l-1 1M222 106l2 0M212 96l-3 2M212 104l3 3M219 98l2 2M215 99l2 2M218 120l2 0M29 147l0 3M21 146l-2 3M10 138l-2 1M2 129l3 1M30 141l0 4M22 148l-1 3M15 128h0M58 146l0 2M35 137l-1 5M47 147l-1 0M59 148h0M78 125l0 1M82 128l-4 0M81 120l-1 1M90 131l-2 2M111 140l-3 2M113 139l-1 1M113 141h0M95 133l-1 3M129 136l1 2M149 137l-3 3M126 138l-2 2M129 125l-4 2M129 142l-1 1M164 149l0 1M162 121l0 4M151 145l4 3M154 135l0 1M154 145l4 2M155 125l-3 3M154 137h0M203 129h0M208 124l-4 2M204 121l2 3M210 121l-3 1M189 142l2 2M209 122l1 0M201 137l0 1M213 131l1 1M217 121l1 1M237 135l3 2M16 166l1 0M7 178l-1 4M0 181l1 0M10 176l-1 1M27 171l4 3M24 171l-3 4M26 171l0 2M28 155l0 3M34 153l1 1M51 160l2 3M53 154l1 3M45 153h0M53 177l3 1M63 169l1 1M76 176l2 3M82 159h0M68 174l2 2M66 175l2 2M80 159l1 1M70 176l-1 2M99 152l2 1M100 156l0 4M106 165h0M144 158l2 4M135 174l-4 0M134 169l-1 2M132 172l-2 3M148 157l1 0M160 155l3 1M160 162l1 1M154 156l-1 5M176 174l-1 0M160 163l2 0M150 159l0 1M185 172l0 1M191 159l0 2M238 155l-4 0M212 171l-4 0M213 151l3 3M210 156l1 1M241 173l-3 3M215 151l1 4M228 155l0 1M239 171h0" stroke="#a890e0" stroke-width="6.8" stroke-opacity="0.35"/><path d="M0 2l3 1M15 8l1 3M15 24l-3 2M21 23h0M5 12l0 2M3 -1l-3 2M29 5h0M38 11l1 0M45 27l4 2M159 1l-3 1M240 28l-2 2M234 24l2 0M231 24l1 1M218 2l2 0M11 40l2 4M23 32l0 3M29 54l0 3M6 54h0M52 52l-1 1M57 33l2 0M75 37h0M118 59h0M112 44l-1 4M110 54l3 1M128 46l2 1M127 29l-4 2M164 30l-4 2M167 51l2 4M204 34l-3 1M192 47l0 2M223 43l2 2M235 39l-1 4M233 34h0M18 67h0M33 62l-2 3M61 67l-3 3M56 66l-1 1M81 71l-4 0M74 87l3 2M97 64l1 1M94 67l-1 4M140 63l4 1M132 60l0 3M148 86l-1 2M131 60l-1 0M160 83l3 2M172 62h0M159 79l-1 1M162 64l2 3M199 77l3 2M229 80h0M221 70l0 3M18 116l2 1M1 100l0 1M37 108l-2 2M62 109l-2 2M62 104l2 2M62 107h0M63 104h0M112 112l3 2M107 112l2 3M111 111l-2 1M94 103l-1 0M132 114l1 1M142 94l0 4M128 97l-4 0M133 120l-3 0M140 117l0 2M129 116l3 0M144 108l2 1M172 118l3 3M175 111l0 3M179 115h0M170 112l0 1M189 97l2 2M206 91l0 4M184 94l2 1M212 97h0M225 102l4 2M6 139l-1 4M50 149l-3 2M51 143l0 1M46 140l0 2M30 140l1 0M67 138l-1 4M84 125l1 1M64 131l-3 0M64 137h0M64 139l0 4M75 125l-3 3M84 126l-4 3M111 140l3 2M113 143l-1 3M105 147l1 2M115 135l1 3M147 138l2 1M148 138l-2 3M124 139h0M167 135h0M211 145l-3 1M204 132l-1 0M203 127l0 1M240 133l-1 0M218 122l-1 0M240 151l-4 0M10 179l1 1M10 178l-1 0M12 162l-3 3M55 155l-2 2M54 179l0 2M48 156l1 4M90 163h0M83 178l0 2M63 156h0M86 165l4 1M86 159l0 5M123 176h0M126 178l2 3M124 167l4 1M122 178l0 2M142 179l3 0M173 170h0M179 170l-1 1M168 149l-2 4M191 159l0 2M200 173l4 3M202 174l-2 1M193 173l-2 0M184 170l3 1M188 180l-2 0M229 160h0M233 175l2 4M216 166l-3 1M226 160l2 2" stroke="#a890e0" stroke-width="5.8" stroke-opacity="0.35"/><path d="M6 2l-3 1M16 14l0 1M134 1l1 2M92 30l-3 1M103 29l-2 1M139 43l1 1M179 58l-3 3M7 85l-4 2M76 72h0M14 117l-4 2M47 100l1 2M109 101l2 1M105 111l4 3M194 96l-1 4M217 110l-2 3M68 130l-4 2M133 124l0 1M75 172l3 0M200 160l2 0" stroke="#8070d4" stroke-width="6" stroke-opacity="0.88"/><path d="M40 11l2 0M59 11l0 2M65 10l1 1M151 45l-2 0M175 42l-2 0M50 86l-2 0M189 84h0M183 82l2 1M41 94l3 1M64 96l0 1M113 103l2 2M92 100l-2 2M208 95l2 2M60 135l1 2M86 122h0M148 130h0M209 144l4 2M202 151h0M30 160l0 2M104 150l-1 3M118 180l0 3M140 158l2 2M146 155l-4 1M185 168l2 0" stroke="#7a66d4" stroke-width="6" stroke-opacity="0.88"/><path d="M88 28l1 3M242 25l-3 2M47 34h0M57 41l-2 2M57 42l2 1M91 33l-3 0M145 32l0 1M215 33l0 4M81 86l1 1M130 84l0 4M22 106l3 1M17 98l-1 2M64 109h0M100 101l-1 1M106 145l-1 0M235 144h0M7 166l1 3" stroke="#6a54cc" stroke-width="6" stroke-opacity="0.88"/><path d="M137 0h0M26 33l1 0M48 56l-1 1M167 60l1 4M176 57l-3 1M47 65l-1 0M102 63l0 1M146 67l-1 2M130 85l-4 3M222 66l-2 1M17 114h0M58 113l3 0M67 105l0 1M111 114l-2 1M35 144l-1 3M63 125l-2 4M105 146l5 1M147 126l2 1M147 125l-2 2M11 180l0 1M62 151l0 1M165 158l-1 1" stroke="#4a36b4" stroke-width="6" stroke-opacity="0.88"/><path d="M241 10l-3 0M130 44l0 2M170 51l1 2M129 88l0 1M123 61l4 1M227 68l-3 3M46 90l-1 2M106 141l1 2M237 151l3 1M17 161l3 1M29 162l0 1M133 178l3 3M172 172l2 0M173 171l3 3M213 172l-4 3" stroke="#5a44c0" stroke-width="6" stroke-opacity="0.88"/><path d="M8 14l-1 0M26 3l3 2M50 27l-1 2M36 24l0 1M47 15l2 2M36 25l-3 2M53 13l0 1M80 7l-1 3M70 16h0M90 29l-3 1M101 14l-2 1M119 1l0 4M93 19h0M142 12l-1 4M145 5l1 2M160 14l-1 4M162 21l-3 3M164 24l4 1M187 24l-4 1M185 22l0 2M230 15l3 0M211 10l3 2M230 14l-1 3M222 2h0M27 56l1 2M24 58l2 1M9 42h0M45 35l-1 2M53 44l3 0M33 50l-1 3M45 32l0 1M54 49l-2 2M87 35l1 2M107 57l0 1M115 32l-2 0M115 60l2 1M108 48l3 0M124 52l-3 1M125 56l-1 1M149 39l-1 2M148 47l0 2M171 55l-4 1M178 35l1 3M166 44l-3 3M163 58l-3 2M176 32h0M201 33l0 1M192 46l0 1M192 44l3 2M184 47h0M207 49l2 2M225 50l3 0M232 47l0 2M50 61l0 1M77 81l3 3M113 60l-2 2M113 60l1 2M111 58l-1 2M147 85h0M128 88l-1 1M125 87l1 2M134 65l0 4M136 67l1 3M142 67l0 1M130 80l0 1M138 88l1 1M165 67l-1 1M164 68l2 1M165 70h0M158 68l1 3M158 68l0 2M158 73l-2 2M158 73l-2 3M173 68l0 3M228 83l2 3M2 100l0 2M2 113l-2 3M19 104l3 0M17 105l2 0M6 120h0M39 100l-2 4M39 107l0 1M57 117l3 3M74 97l1 3M73 96l-1 1M114 107l-1 2M99 103l-1 0M143 119l2 2M141 117l0 1M124 91l0 1M124 90l0 3M133 100l1 1M148 88l1 4M131 94l2 4M146 108l2 1M143 109l1 0M143 91l-1 3M142 93l1 0M164 116l-1 1M182 107l-5 2M177 107h0M175 95l1 1M199 92l-3 2M195 94l-2 3M224 115l3 2M211 105l3 1M213 101l0 3M215 117h0M221 118l3 1M216 122l1 1M19 120l-1 0M47 140l1 0M44 140l0 1M45 139l2 3M57 145h0M63 121l0 2M63 121l1 4M62 125l0 2M81 125l3 3M111 131l-3 3M102 141l3 4M112 126l3 3M150 133l-1 2M147 133l0 1M150 133l-2 1M150 122l-4 2M163 138h0M162 122l1 4M204 151l2 0M205 128l0 2M213 134l-1 2M238 120l-2 2M238 142l-2 4M233 124l0 1M232 121l0 4M239 138l0 1M212 127l-2 2M24 151l3 2M15 174l2 2M7 169l0 1M25 151l3 1M29 146l-2 2M46 160l2 2M48 159l-2 1M46 163l-1 2M53 154l3 1M56 157h0M47 171l-1 4M67 174l1 1M69 174l-3 1M61 167l-1 0M60 165l1 2M79 177l2 1M80 179l-1 1M102 154l3 4M105 159l-1 5M100 166l1 1M99 162h0M100 157l-1 2M124 178h0M143 170l0 3M142 171h0M129 146l-1 5M140 168l1 1M143 155l-2 1M129 170l2 2M131 170l0 2M155 160l1 3M148 157l3 2M166 157l-1 3M202 168l1 0M187 165h0M185 165l1 0M218 152l-1 2" stroke="#6a54cc" stroke-width="5" stroke-opacity="0.88"/><path d="M8 15l1 1M5 4l-1 3M1 3l1 2M6 7l2 4M26 30h0M10 9h0M11 9l0 1M25 26l3 2M55 18l1 4M52 18l4 2M39 1l-1 2M33 3h0M40 4l2 0M47 28l-4 1M30 26l1 0M54 25l-2 2M52 22h0M84 -1l0 2M138 2l1 0M136 5l3 0M137 9l2 2M137 7h0M160 29l2 1M163 27l-2 1M159 28h0M161 27l-1 2M161 30l-1 4M174 24l-2 4M173 24l-2 4M159 24l2 1M159 15l-2 0M197 3l2 1M189 1l-1 2M183 29l-3 3M207 13l-2 0M181 5l3 1M205 2l-2 2M183 17l0 2M183 17l3 4M236 7l1 5M17 35l2 1M53 36l-3 1M42 48l1 0M33 29l4 2M53 32l3 0M55 30l0 4M51 50l1 4M67 53l-3 3M93 36l-1 1M89 47l3 0M91 31l1 1M111 30l2 1M107 29h0M144 43l-4 2M143 42l0 3M130 46l-3 3M149 37l-2 2M126 31l-1 4M125 27l-1 4M140 58l-1 3M154 50l2 3M154 51l1 1M180 56l-1 1M179 59h0M180 55l2 2M181 57l0 4M179 59l1 1M179 60l-4 1M183 29h0M183 32l2 1M183 34l-1 1M183 33l0 1M225 51l-1 1M225 53h0M231 40l0 2M230 39h0M213 41l1 0M215 41h0M215 40l1 0M231 40l-3 2M230 39h0M223 34l2 4M10 65l3 3M10 83l0 3M1 76l-1 0M-2 75l0 1M28 78l3 0M30 77l-2 4M3 82l2 1M4 82l-3 2M26 69l-1 2M48 87l-3 3M48 85l1 1M44 88l0 1M31 68l1 2M84 68l-1 0M83 69l-1 0M74 73l3 3M90 84l-3 1M108 80l0 4M110 80l1 4M116 89l1 3M100 67l2 1M91 91l-1 3M92 84l-2 2M134 64h0M149 69l0 5M140 89l1 2M161 67l0 1M167 73l1 2M164 64l2 0M193 60l-2 2M191 59l-4 1M190 86l-2 2M215 81l-1 1M226 75h0M3 109l-1 1M3 108l2 2M1 109l3 1M9 117h0M14 119l-1 2M12 118l0 1M4 104l-1 1M6 102l-3 3M4 95l0 2M5 91l1 2M15 109l-1 1M62 102l3 1M34 109l-3 2M45 100l3 0M61 109l3 2M68 115l-2 1M63 112l-1 4M65 105h0M109 101l0 1M106 101l2 3M96 104l1 0M94 104l-2 1M112 103l-2 4M112 101l2 1M133 112l0 1M140 116l0 1M168 106l-2 4M176 106l1 2M153 110l0 5M190 87l4 1M183 98h0M186 100h0M182 97l1 1M13 138l1 1M20 149l-2 0M16 130l-3 2M4 127l4 1M33 136l5 1M34 144l-1 5M66 132h0M84 128l0 4M63 132l0 1M112 139l-3 0M111 138l0 1M91 127l0 1M93 127l-3 2M108 144l0 3M100 130l2 1M136 121l-3 2M131 139l-1 2M130 139l0 4M128 134l-5 1M147 139l0 2M148 139l0 3M173 120l0 3M151 127l3 2M150 126l0 2M165 130l-3 0M163 122l4 2M157 136l0 5M190 141l2 3M206 119h0M189 144l1 1M190 143l0 1M216 124l1 1M217 120l2 2M29 167l0 1M28 154l-4 1M25 153l0 2M5 183l2 2M49 156l2 1M31 161l-1 4M32 160l1 3M75 168l-4 1M72 166l5 1M87 155l4 0M109 152l2 2M112 150l1 4M108 178l0 1M99 162l2 1M100 162h0M129 154l-3 0M143 176l0 4M156 163l-1 2M167 169l3 1M168 165l-1 2M181 169l-1 1M200 157l0 4M187 179l0 4M234 177l2 1M233 179l3 0" stroke="#8070d4" stroke-width="5" stroke-opacity="0.88"/><path d="M27 1l3 2M31 -1l-3 3M20 24l-2 2M17 22h0M56 19l0 3M56 20l-2 1M103 5l2 3M94 28l-2 3M95 31h0M133 20l-3 1M130 19l-1 3M138 11l2 4M161 11l0 1M179 29l2 3M182 30l-2 2M173 11h0M208 29l1 1M211 30l-2 4M207 28l-1 2M196 11l4 1M199 11l-1 0M200 9l2 2M198 16l4 2M232 14l-1 5M229 15l5 0M232 5l3 2M233 2l-2 3M236 23l2 4M12 56l3 3M55 39l4 0M33 30l-1 1M47 47l2 3M51 33l-3 1M45 35l3 2M47 35l0 2M130 45l-3 1M149 38l1 0M156 50l-2 2M153 47l-2 0M154 50l1 2M157 48l-3 3M153 49l4 1M205 34l0 4M228 49h0M239 43l-1 1M238 42l0 1M223 38l-4 3M236 45l-1 1M238 42l0 5M223 48l-3 3M15 66l1 1M28 77l2 3M21 66l1 3M20 64l1 1M26 73l-1 1M33 63l-1 2M57 82h0M47 80l1 2M48 82l1 1M59 70l3 2M65 68l-2 1M52 81l2 2M47 68l-1 3M44 69l3 0M56 79l1 1M85 87l-2 1M130 88l-4 1M178 72l-2 3M162 85l-1 2M161 85h0M179 89l3 1M187 71l3 1M187 68l0 1M239 69l-1 2M233 71l-3 1M235 68l1 0M230 70l2 3M38 110l-2 1M40 112h0M39 95l2 2M46 91h0M113 106l-1 4M109 99h0M108 101h0M102 101l-4 1M98 98l2 1M115 92l-1 3M113 99l-2 3M111 95l2 2M144 109l4 2M148 105l-1 4M149 111h0M139 118l-1 3M129 117h0M158 92l2 2M172 113l0 1M168 100h0M173 95l1 3M174 94l-1 1M172 94h0M192 96l2 1M192 95l0 1M192 101l-4 2M212 96l1 0M222 100l-3 1M1 147l1 0M29 150l1 1M30 148l-1 0M28 147l1 4M23 145l-1 0M22 148l1 0M10 121l-2 3M17 130l-3 2M1 127h0M1 122l3 1M17 130h0M30 148l2 1M60 149h0M56 146l1 1M84 127l0 2M86 128l-2 2M81 126l0 3M61 128l2 3M84 122l-1 3M81 123l3 3M118 129h0M117 141l-4 1M112 138l1 0M89 126l4 3M133 140h0M147 134l2 3M146 136l2 1M147 136l-1 1M157 127l2 3M163 119l-4 2M153 134h0M163 126l3 2M201 129h0M205 129l-1 0M205 147l-3 3M202 150l1 1M208 127l1 1M199 130l-2 0M231 120l2 2M228 122l4 0M230 122l-2 2M229 124l1 1M19 164l-1 0M4 169l-2 4M51 162l0 1M50 162l2 1M52 152l1 0M55 152l-1 0M46 154h0M48 154l0 2M47 157l0 1M32 152l1 0M44 180l0 1M51 178h0M61 180h0M65 179l-2 1M65 177l-2 0M62 161l0 4M61 152l-1 0M115 177l-3 1M109 177l0 1M100 157l2 2M99 156h0M147 162l-3 0M146 161l-1 1M142 160l1 0M141 175l2 2M143 178l4 0M132 167l-2 0M130 169l2 1M133 164l1 5M145 181h0M176 168l-1 0M162 174l0 5M177 174l-2 1M158 167l1 0M192 169l-2 1M189 175l0 1M238 175l1 2M235 177l-3 3M231 178h0M234 178l1 2" stroke="#5a44c0" stroke-width="5" stroke-opacity="0.88"/><path d="M29 -1l1 3M29 0l-3 3M49 26l-1 1M45 12l-3 3M50 23l-4 2M49 24l0 2M50 26l-4 3M52 25l-1 3M79 8l1 1M76 8l2 2M67 7h0M98 19l-2 1M97 18l2 4M94 15l-1 1M101 11l-2 0M90 27h0M144 5h0M147 25l-1 1M132 1l-2 3M136 7h0M132 4l4 1M121 27l0 1M120 13l1 2M129 0l-3 1M125 1h0M130 4l-3 0M158 5l1 1M155 30h0M179 24l-5 1M178 24l-1 1M196 8h0M205 1l-2 2M237 28l-1 3M217 6l-2 3M225 -3l-2 4M28 33l-1 3M29 31h0M18 35l-1 0M18 31l-1 0M12 42l3 2M20 30l-2 3M53 36l-2 3M54 37l1 1M53 45l4 1M48 48l1 3M49 48l0 1M48 51l-2 2M51 32l3 4M99 46l0 1M90 48h0M149 38l1 4M148 32l0 3M125 60l4 2M124 32l-1 1M152 35l-4 0M150 41l1 1M150 41l-4 1M147 40l1 1M167 58l-1 3M174 56l-2 1M181 54l4 2M241 37l-2 4M235 39l4 0M220 52l-1 3M23 62l-3 3M23 65l-3 2M2 80l2 3M21 62h0M23 62l4 1M22 60l-3 3M22 59l0 5M57 70l1 2M35 87l1 2M43 68l0 3M53 62l-4 0M55 78l-4 0M33 68l-3 0M27 66l1 0M61 69l-1 4M76 66l2 2M80 66l0 2M82 71l-1 0M80 69l4 0M100 61l1 2M88 65l1 1M91 64l-1 1M106 65l4 3M149 86l1 3M147 91l0 1M149 71l-3 3M128 85l0 5M142 85l-2 1M142 83h0M134 84l-1 2M134 84h0M125 83l0 1M178 74l0 3M179 74l-2 1M161 78l2 4M205 80l-2 2M200 71l-1 2M215 76l-2 1M232 71l3 1M236 72l1 0M223 72l4 1M226 68l-3 0M233 73l0 2M232 75l-2 0M221 73l2 4M27 107l-3 2M12 107l1 1M22 115l0 1M24 113l1 4M19 116h0M21 110l-3 4M37 107h0M48 89l0 3M35 112l1 1M44 89l3 2M79 93l1 0M66 104l1 0M79 91l-3 1M89 97l-1 3M71 95l0 1M61 106l-1 0M60 104l-2 2M111 95l-1 4M106 92l0 5M107 97l1 2M111 111l-1 3M110 114l-1 1M108 116l-1 2M142 94l1 2M133 105l0 1M133 108l-1 1M144 112l-1 3M178 117l-3 1M175 101l-2 1M178 90l0 3M173 110l0 3M222 107l0 2M221 108l-1 0M217 100l0 4M220 119l0 2M218 116l-1 3M237 119l1 2M23 131l-1 3M22 131h0M22 133h0M4 134l-2 1M3 134l1 0M9 137l-2 1M13 137l-2 2M58 144l-2 2M56 146l3 0M56 128l4 0M35 146h0M36 146l-3 1M29 139l2 1M33 149l0 1M37 130l-1 1M35 130l1 1M64 127l1 1M66 129l-2 1M108 146l3 1M114 130l0 1M114 132l0 1M108 138l0 1M107 139l3 1M147 138l3 1M120 126l0 4M151 143l-2 2M150 139l0 1M124 124l0 2M149 126l-1 4M123 146l-3 1M151 135h0M151 131l-2 4M185 138l3 1M207 124l3 1M207 127l1 2M191 150l1 2M209 132l-2 0M238 136l2 1M241 136l0 3M217 136l-3 1M220 121l1 3M232 125l-3 1M233 124l-1 2M4 177l2 1M3 177l3 2M4 170l2 1M11 178l-1 2M10 174l0 1M50 176l-4 0M59 153h0M121 180l-3 2M106 154h0M132 169l1 2M171 154l0 1M162 164l-2 0M153 154l1 4M155 158l0 3M173 158l-1 2M190 174l-3 2M189 176l0 1M187 166l-1 2M187 167l-2 3M193 158l-2 0M193 154l-2 4M183 171h0M206 175l2 2M197 167l-2 2M231 177l-1 4M220 156l-4 1M221 153l0 1M230 149l2 2M227 154l3 0M214 168l-2 1M213 165l2 2" stroke="#4a36b4" stroke-width="5" stroke-opacity="0.88"/><path d="M26 14l-2 0M-1 -4l0 4M11 15l3 1M44 10l-4 2M48 21l-1 0M88 27l-4 2M84 29l2 3M84 23l0 4M77 12l-2 2M99 19l-3 0M104 9l2 2M98 3l-2 0M98 2l-1 2M138 4l1 2M178 24l-1 5M164 24l-3 2M160 28h0M161 4l-1 2M207 9l0 2M203 7l3 2M199 8l5 1M188 7l-2 3M192 5l3 0M195 2l-1 4M209 26l0 2M215 25l-2 1M227 -1l0 3M230 1h0M8 45l0 1M16 32l0 1M25 35l1 1M63 48l-2 4M91 31l3 1M92 28l0 2M110 47l0 1M118 59l1 1M109 55l1 1M137 28l-1 1M132 40l2 0M132 55l-1 2M136 56l-2 1M130 55l1 1M130 55l2 2M165 28l0 1M165 29l-1 3M173 56l1 1M180 31l1 2M175 34l0 4M177 58h0M173 48l0 1M192 48l2 3M192 55h0M201 34l2 2M204 35l-3 1M201 28l1 4M186 56l1 1M218 48l0 1M219 33l2 0M218 32l2 2M221 31l-1 1M235 36l1 4M238 32l1 1M240 31l4 1M23 64l1 2M8 76l1 1M23 60l3 3M51 86l-1 1M39 69l-2 0M38 69l1 0M38 69l1 0M86 66l2 2M112 64l0 1M122 87l-2 1M160 67l3 1M188 82l-1 1M185 81l-1 0M228 74l1 0M230 71l-3 0M228 71l-1 2M227 80l2 0M229 81l4 0M226 85l1 0M33 97h0M56 108l-1 1M63 102l-1 0M67 109l1 2M78 101l-1 0M117 96l-1 2M111 113l3 1M114 113l-1 3M97 96l3 3M129 120l2 0M132 107h0M131 108l0 1M179 95l-3 4M178 97l1 1M182 97l-4 2M150 112h0M195 104l-2 3M197 104l-1 2M221 97l1 1M238 113h0M211 95l2 1M51 153l-2 1M31 145l3 3M34 149l-2 2M63 141l3 3M67 140h0M62 136l2 3M83 124l0 4M109 129h0M113 123l-1 1M132 133h0M133 132l2 2M144 143l4 1M165 121l1 1M206 130l-1 1M204 132h0M205 133l0 1M210 122l-1 1M225 148l1 1M225 150l3 3M224 121l1 1M236 149l-1 1M235 148h0M19 161l-1 1M18 161l-1 2M27 162l0 1M29 167l1 4M40 153l2 0M33 152l2 1M56 152l3 3M85 176h0M85 175l2 4M78 177l1 3M90 163l4 0M103 154l0 4M98 152l-2 2M109 150l3 3M108 153h0M100 152l1 2M100 159l3 1M98 151l4 1M115 180l2 0M124 176l-4 1M132 172l2 2M166 164l-2 3M180 167h0M172 178l1 0M164 156l3 0M164 155l-2 2M163 155l2 3M181 169l4 1M199 168l-4 2M201 169l-3 0M186 178l2 0M194 169l-1 2M216 154l-3 1M212 154l-1 0" stroke="#7a66d4" stroke-width="5" stroke-opacity="0.88"/><path d="M1 0l2 3M5 7h0M25 29l1 1M1 11l2 0M27 27h0M48 20l0 1M32 25l3 3M53 25l0 1M32 4h0M32 2l2 2M83 0l-1 2M108 27l0 3M95 21l3 0M97 18l-3 3M97 19l3 3M135 3l0 1M139 2h0M142 0l-1 1M160 28l-2 4M157 31l0 3M158 11l-1 2M158 13h0M170 26l1 4M164 24l-3 4M165 22l-5 1M159 14l2 3M181 0l2 1M180 27l0 4M185 16l-1 2M234 22l-1 3M20 56l0 3M23 58h0M37 30l-4 2M52 32l-1 1M61 42l-1 2M88 48l1 3M85 51l-2 1M87 47l0 4M62 42l1 2M62 45l-1 4M65 45h0M88 25l4 2M100 36l1 3M98 30l1 5M95 31l-3 2M130 46l-1 3M132 42l-3 1M126 32l2 3M128 34h0M129 30l-2 0M156 50l2 4M180 53l-1 1M184 31h0M180 34h0M208 42l0 1M205 41l4 3M225 37h0M223 36l3 2M14 65l-2 3M12 82l0 1M29 77l-1 4M58 67l-3 1M34 69l-3 0M47 88l1 1M48 80h0M47 78l3 2M50 80l-1 2M85 66l-3 0M82 69l1 2M60 81l4 1M88 84l2 3M85 83l1 4M117 63h0M93 89l-2 0M145 62l-1 1M150 87l-1 1M161 67l-3 1M156 70l2 1M159 68l2 0M161 62l0 1M189 59l-1 0M191 80l-2 1M228 70l1 1M235 74l1 1M235 73h0M6 117l0 1M13 117l0 4M7 117l3 0M10 118l-1 3M19 106l-1 3M17 103l2 3M3 116l-1 1M6 95l-4 1M61 103l-2 0M32 107l0 1M46 99l1 1M69 110l-1 2M67 111l3 1M67 111l-1 0M74 93l-3 1M73 89l-1 1M74 93l0 1M65 109l1 4M66 113l1 4M61 97l1 1M61 112l-1 2M56 114l2 3M118 110l-4 1M106 103l1 1M106 111l1 2M114 103l-3 1M113 105l2 3M105 96h0M126 116l4 1M139 116l3 0M135 116l4 1M158 91l1 1M192 90l1 1M207 112l0 1M206 115l2 1M206 110l2 2M193 100l1 1M210 93l2 2M213 102l1 2M213 102h0M212 104l3 3M215 117h0M18 149h0M2 129l3 1M3 130l2 3M3 129h0M12 123l2 0M12 120l-1 3M14 133l3 1M15 133l-4 2M5 127h0M33 145l2 2M37 144l-1 2M37 145l1 1M51 143h0M47 147l-1 0M67 135l0 1M72 127l1 2M73 122l0 3M89 129l-1 1M107 144h0M110 143l-3 1M107 146l1 0M138 123l-3 1M148 140l1 1M126 138l-2 2M128 144l1 0M154 145l4 2M154 146l2 2M165 127h0M165 129l-1 0M155 125l-3 3M158 127l-2 3M193 141l-1 0M210 121l-3 1M210 120l-4 1M189 142l2 2M210 141l1 5M212 143l-2 2M201 137l0 1M204 132l-2 3M240 124l-1 0M217 121l1 1M28 168l4 1M30 154l-3 4M7 178l-1 4M25 162l-1 1M0 181l1 0M50 173l-1 3M47 173l2 0M50 158l-1 0M48 159l-3 3M32 163h0M47 176l1 1M50 175l-1 2M75 167l-3 3M89 162l-1 4M110 155l4 2M97 160l3 3M126 155l3 0M142 161l1 1M144 174l0 1M135 174l-4 0M135 173l-3 1M158 156l0 3M200 158l0 4M208 151l0 1M209 150l-1 2M185 178l0 1M191 159l0 2M191 157h0M213 151l3 3M210 156l1 1" stroke="#8070d4" stroke-width="4" stroke-opacity="0.88"/><path d="M5 13l1 1M30 8l3 0M36 26h0M49 30l0 1M49 16l1 4M46 16l4 0M32 27l2 1M56 14l2 1M97 21l2 3M120 -1l-2 4M125 0l-4 0M87 20l4 2M140 14l2 3M149 26l-1 1M134 4l3 0M154 27l0 3M168 8l-3 1M161 23l1 3M184 25l1 0M214 29l0 2M211 30l3 3M233 18l0 1M223 4l-1 1M239 25l1 1M25 56l-1 4M25 58l-2 1M25 57l1 3M28 58l-2 2M10 60h0M8 61l4 3M6 53l-1 1M24 58l-4 2M47 34l3 3M54 58l-1 4M53 58h0M34 52l-4 1M33 53l2 1M35 51l-2 2M31 51l3 1M35 54l0 1M35 33h0M83 36l1 1M83 35l3 3M63 55l-1 1M87 33l3 0M88 29l1 3M91 34l0 1M90 35l1 3M114 59l3 3M131 37l0 3M126 54l-2 3M142 32l5 0M148 47l0 3M169 51l-1 1M178 37h0M179 37l-1 1M163 58l2 1M156 48l1 1M159 49l-1 1M173 29l1 4M173 30l0 1M170 44l-2 3M204 32l-1 2M187 47l-1 0M183 48l1 1M204 50l3 3M230 52l-3 3M216 32l-3 0M228 49h0M232 52l2 1M17 63l1 3M11 65l-2 1M24 63l-3 1M19 62l-2 1M34 72l-3 2M31 66l1 3M43 89l1 1M39 92l2 0M46 94h0M71 86l1 1M97 61l0 1M110 62l0 3M111 64l0 2M100 63l-1 2M97 63l-1 1M99 66l1 2M149 87l-4 0M144 86l3 3M133 66h0M144 67h0M129 82l-3 3M136 87l5 1M139 87h0M158 67l1 3M226 81l4 2M231 87l-2 2M229 80l2 1M230 83l3 1M231 72l1 0M5 99l-2 3M6 99l-1 3M5 120l-1 0M41 102l-1 0M37 92h0M41 109h0M41 107l-3 1M65 114l-3 3M60 116l3 1M64 109l1 1M64 106l-1 1M116 116h0M111 104l-1 3M129 93l3 2M132 94l-2 1M135 99l2 1M147 90l2 3M143 90l0 2M162 97l0 1M174 119l2 0M163 116l1 2M163 119l4 2M180 105l1 2M199 91l2 1M194 94l0 3M184 91l1 0M224 115l1 3M214 108l-4 1M218 120l2 0M10 138l-2 1M30 141l0 4M29 139l-1 4M22 148l-1 3M24 151h0M23 133l-2 1M50 149l-1 3M75 136l-3 2M68 128l-2 0M90 131l-2 2M108 133h0M113 139l-1 1M115 126l-1 2M113 123l3 3M95 133l-1 3M96 134l0 3M164 149l0 1M166 134l-3 1M151 132l1 0M166 124l-3 2M205 151l-1 3M193 145l2 2M204 129l2 3M201 135h0M205 127h0M209 132l4 2M239 123h0M235 145l1 1M213 129l-4 1M237 121l1 1M237 122l4 2M26 153l-2 1M27 151l-3 3M3 170l1 0M5 166l-3 2M15 172h0M10 176l-1 1M11 174l0 1M7 176l2 2M11 174l-1 2M24 171l-3 4M20 175l-1 0M26 171l0 2M25 175h0M28 172l-2 1M45 153h0M49 152l-3 3M53 177l3 1M54 150l1 3M51 149l-1 1M47 172h0M82 159h0M66 175l2 2M61 165l0 4M80 159l1 1M70 176l-1 2M77 178l1 1M111 176l-1 4M99 152l2 1M107 154l-3 1M109 180h0M99 167l0 1M108 156l-4 0M129 151l0 2M142 154l4 2M132 172l-2 3M164 160l1 1M185 172l0 1M185 173l-1 1M228 163h0M215 151l1 4M239 171h0" stroke="#6a54cc" stroke-width="4" stroke-opacity="0.88"/><path d="M3 5h0M7 6h0M7 5l-3 3M19 13l1 3M40 10l2 3M50 21h0M46 19l3 1M51 19l0 4M52 16l-3 3M75 13l-1 2M99 17l-1 2M99 13l-4 2M105 9l0 1M135 15l-2 4M137 16l2 1M135 1l1 1M134 -5h0M133 3l-2 1M134 26l-1 4M136 27l-4 1M137 2l-2 1M133 17l1 3M133 17l1 2M145 18l1 2M162 25l-2 3M158 2h0M158 4l1 2M198 4l-1 4M201 7h0M197 5h0M221 20l-1 1M224 20l-1 1M238 3l-1 3M16 30l0 1M9 47h0M55 39l0 1M55 37l3 2M116 58l2 1M138 41l3 0M136 44l2 0M138 30l-3 2M133 29l4 1M133 41l2 0M130 53l-1 4M169 57l4 0M170 56l5 0M179 36l-2 2M193 48l0 4M198 54l-3 1M204 35l0 1M203 33l-1 2M187 56l-1 1M187 54l2 2M218 49l-2 2M229 38l-1 1M235 41l-1 3M2 68l1 1M1 72h0M9 77l0 1M26 64l1 0M52 85l-2 0M49 83l-4 1M50 85l0 5M99 67l1 1M109 70l4 1M112 63h0M127 62l-2 4M121 86l2 3M132 60l3 2M134 61l3 0M160 64l3 2M188 83h0M229 73l-1 2M235 82l-2 3M12 119l4 0M28 99l0 1M27 97l2 1M36 101l0 2M37 101h0M34 102l-1 0M42 110l0 2M41 94l0 1M41 95h0M62 118l-4 2M67 100l-3 0M60 94h0M63 94h0M59 103l3 0M61 101l-1 4M118 100h0M116 105l-2 2M113 104l3 3M93 103l-1 2M99 100l0 1M99 99l1 4M107 101l2 3M107 105h0M127 120h0M144 119l4 0M169 104l-1 0M170 102l-2 0M193 103l-4 2M198 90l-4 2M192 92l3 0M196 91h0M185 100l1 1M206 95l-1 1M194 106l-1 1M195 104l-1 1M214 103l-1 2M222 98l0 1M219 98l2 2M29 138l-2 1M33 146l1 1M33 146l2 0M35 137l-1 5M35 151l2 1M48 134l-1 0M31 143l0 2M69 141l-1 1M62 141l0 3M78 125l0 1M78 124l-1 3M78 126l1 1M64 142h0M66 140h0M59 137l3 2M86 131l3 4M111 140l-3 2M115 142l-5 0M106 129l0 1M148 130l-2 4M133 128l-2 1M148 143l0 2M129 142l-1 1M128 140l-2 4M128 139l-3 1M167 122l2 1M154 132l-2 4M207 143l0 4M203 129h0M203 129l-1 1M208 124l-4 2M204 121l2 3M210 123h0M201 148l-1 3M230 119l0 1M236 148l2 1M27 171l4 3M30 172l0 2M27 172l2 2M44 153l-1 1M44 149l2 4M34 153l1 1M50 156l2 0M53 156l0 1M53 158l1 1M46 152l2 1M55 181l1 1M56 157l1 1M63 169l1 1M84 167l5 0M103 151l-2 2M105 155l-2 1M100 156l0 4M98 155l-1 0M128 164l-4 3M124 167l1 0M134 174l-4 1M167 165l1 4M176 174l-1 0M174 173l-3 0M163 155l2 3M163 157l0 2M150 159l0 1M195 170l0 1M192 167l1 0M199 172l4 1M239 180l-1 1M211 168l1 2" stroke="#7a66d4" stroke-width="4" stroke-opacity="0.88"/><path d="M8 7l0 4M22 20l-2 3M7 8l2 4M34 27l-2 0M52 15l-1 4M53 16h0M51 22h0M100 9l1 1M94 29l1 4M160 14l1 0M170 12h0M162 8h0M178 7h0M208 7l-4 0M209 5l-1 3M198 9l0 1M202 11l1 4M192 13l4 2M195 15l1 1M190 15l1 1M232 2l-1 0M232 3l2 1M231 15h0M228 2l1 1M233 7l2 0M232 1l2 0M242 9l1 1M216 6l1 4M237 24l-2 2M23 33l-1 0M14 57l2 0M14 56l2 3M31 55l2 0M20 56l-2 3M21 53l-2 3M18 57l1 0M6 41l3 1M6 40l1 2M55 38l3 1M59 38l0 2M48 30l3 1M33 29l-2 4M31 30l2 1M49 46l3 3M112 59l0 1M129 58l-1 2M131 60l0 1M127 46l4 1M171 53l-4 0M153 45l1 0M175 50l0 2M180 51l-4 1M194 56l-1 4M240 41l0 3M226 56l1 1M226 57l-1 0M222 36l4 3M217 44l-5 0M23 62l0 1M19 68l2 2M24 73l-2 0M24 70l-1 4M48 80l-2 2M47 85l1 0M48 66l0 4M53 79l1 5M114 89l-2 3M115 90l-3 1M114 88l-1 1M124 62l0 1M175 72l3 3M160 86l-1 2M197 78l0 3M189 66l1 2M235 68l0 4M226 68l-1 3M2 101h0M0 102l-1 1M2 102h0M19 107l3 0M24 104l-1 3M42 104l1 1M58 107l0 2M41 111l0 1M57 113l-2 0M40 97h0M42 97l-4 2M115 107l4 2M113 109l1 1M109 98l2 0M112 101l-1 3M114 99l-2 3M107 100l-1 0M102 99l-2 4M117 94h0M137 91l-4 0M125 119l-3 1M138 114l4 3M141 117l-1 2M131 119l1 1M170 97l2 3M170 97l1 0M179 110l-1 0M172 116l-2 2M168 113l4 2M174 115l1 1M176 109l-2 1M153 106l-1 1M200 101l-3 0M201 102l1 1M190 101h0M222 106l2 0M212 96l-3 2M228 114l-3 2M21 146l-2 3M7 121h0M16 132l-1 0M15 128h0M18 133l1 1M56 142l0 3M59 148h0M70 129l3 2M69 131l0 1M81 120l-1 1M115 140l1 1M119 128l1 4M109 141l-3 0M113 141h0M115 139l1 2M93 126l-1 2M93 127l1 2M129 136l1 2M127 137h0M132 122l1 1M170 121l1 1M169 119l0 1M169 120l-1 1M162 121l0 4M165 123l2 1M157 129l-1 2M151 145l4 3M154 135l0 1M151 136h0M165 141l0 2M154 137h0M152 137l2 2M168 125l0 2M198 129l4 0M203 130h0M196 130l0 1M213 131l1 1M212 125l2 2M211 127l-2 4M239 149l1 1M236 148l3 3M16 166l1 0M2 167l0 4M28 155l0 3M51 160l2 3M53 154l1 3M30 152l1 3M66 174l-2 2M65 179l-2 1M59 160l2 1M68 174l2 2M68 176h0M110 178l3 1M99 158l-2 3M101 155l-3 2M101 155l0 1M106 165h0M144 158l2 4M143 174l1 1M135 180l-1 2M132 179l4 1M148 157l1 0M151 158l-1 0M160 155l3 1M165 174l-1 2M232 153h0M212 171l-4 0M237 171l-1 3M239 173l-1 4M241 173l-3 3M228 155l0 1" stroke="#5a44c0" stroke-width="4" stroke-opacity="0.88"/><path d="M1 0l2 0M25 1l5 0M2 11l2 0M7 15l-3 1M5 14l3 3M45 26l3 1M56 -1l2 2M45 5l2 2M84 2l-2 4M76 6l1 1M68 5l1 1M93 14h0M101 3l-3 1M107 26l-4 3M104 26l-2 2M100 18l3 1M99 18l1 0M89 27l3 1M142 7l0 3M147 -1l-1 2M137 8l0 1M122 16l-3 3M122 14l3 1M139 2l4 1M174 28l-1 1M160 0l0 2M178 25h0M175 26l2 4M176 25l-3 3M192 4h0M185 6l-2 0M202 5h0M183 11l2 1M228 15l-1 1M238 3l0 1M218 6l-1 4M216 9l0 3M32 32h0M25 31l4 0M16 37l-1 1M20 31l0 2M12 41l1 1M47 52l0 1M50 37h0M55 32l-3 3M61 33l-1 1M77 36l-1 2M101 44l-4 1M98 43l0 1M99 63l1 2M97 62l-1 0M154 38l-4 1M148 33l0 1M127 30l-1 2M203 53l2 1M205 56l2 2M207 55l-1 3M188 53l-1 3M190 57l-2 3M192 56l-1 1M200 59h0M200 59l-1 2M230 44l1 3M238 39l0 1M23 64l-2 1M23 72l-2 0M25 62l-2 2M27 64h0M21 62l-1 1M21 61l-3 0M21 60h0M51 79l0 1M52 78l-5 1M32 68l0 1M77 71l4 1M57 71l4 3M58 72l4 0M85 80l2 2M73 65l4 1M79 68l1 1M99 61l2 1M109 71l0 1M91 66h0M108 67l0 2M100 61h0M148 89l0 1M140 66l2 4M161 66l2 4M160 69l5 0M161 68l2 3M159 76h0M160 83l3 3M16 114l-1 0M37 105l2 2M39 108l3 1M36 110l-1 1M35 101l-1 4M43 91l0 1M38 94l0 1M46 92l-1 1M44 89l-1 1M39 105l0 5M81 95l-1 1M73 96l-2 3M70 95l0 4M63 112l1 2M105 95l3 1M113 111l-1 4M148 108l1 0M145 114l-1 1M145 115l1 0M176 114l-3 0M158 117h0M215 99l2 2M217 119l0 3M238 118l-2 3M29 147l0 3M16 127l4 2M18 129l4 2M7 139l-3 1M30 135l0 1M28 133h0M30 132l2 2M55 147l1 1M35 146l-1 2M58 147l-4 3M58 146l0 2M26 137l5 1M38 131l-4 1M89 126l1 0M91 126h0M82 128l-4 0M81 128l0 1M84 126l-4 0M111 131l4 1M113 133l-5 0M113 132l2 2M104 144l3 3M149 137l-1 0M149 138l1 1M120 129l3 1M149 137l-3 3M135 125l0 2M129 125l-4 2M147 128l1 2M122 142l-2 1M126 145l-3 1M146 132h0M158 123l0 2M184 140l-1 2M207 131h0M209 122l1 0M235 149h0M240 136l-2 3M216 135l0 2M214 136l3 1M231 121l-2 3M236 153l2 3M240 145l-1 0M237 135l3 2M238 133l1 1M7 180l0 2M11 180l1 0M4 169l1 0M21 154l-1 1M56 152l-1 0M76 176l2 3M105 160l4 1M106 161h0M121 180l3 0M122 180h0M134 169l-1 2M160 162l1 1M155 162l3 3M154 156l-1 5M151 158l3 2M165 159l1 2M160 163l2 0M171 161l-2 2M172 160l0 3M190 176l-1 1M189 171l0 2M184 172l1 4M197 165l3 1M230 177l1 0M238 155l-4 0M230 152l-2 1M229 155l-2 0" stroke="#4a36b4" stroke-width="4" stroke-opacity="0.88"/><path d="M0 2l3 1M10 13l-3 1M4 7l-1 1M8 7l-3 3M12 9l-1 4M48 24l-2 2M101 14l1 0M104 14l-1 2M141 3l-1 5M143 8l1 0M138 20h0M156 29l-1 2M158 9l-1 1M158 28l-2 1M205 12l3 0M225 20l2 3M231 24l1 1M234 25l-1 1M52 52l-1 1M49 50l-1 3M47 51l1 3M98 32l1 1M115 30l0 4M127 29l-4 2M178 56l0 1M223 43l2 2M233 34h0M8 67l4 1M18 67h0M36 67l0 4M78 74l0 2M62 80l-2 1M61 80l0 1M98 66l2 0M137 64l0 1M136 78l-2 2M147 63l1 2M148 88h0M140 88l1 2M165 73l-2 4M162 64l2 3M191 87l0 3M200 69l3 0M212 83h0M18 116l2 1M21 113l-2 3M15 112l-2 0M13 107l-1 3M60 104l-1 0M62 107h0M63 104h0M112 112l3 2M117 112l1 1M107 112l2 3M103 94l0 1M106 92l-3 1M133 111l1 3M140 117l0 2M133 118l0 4M179 115h0M153 108l-1 4M161 93h0M192 90l2 1M184 101l1 0M181 97l0 1M217 100l-4 1M14 124l1 0M4 128l4 0M37 138l-2 0M51 143l0 1M49 147l1 1M46 148h0M64 131l1 2M84 126h0M64 137h0M75 125l-3 3M111 140l3 2M147 138l2 1M148 138l-2 3M124 139h0M122 138l3 3M174 123l-1 2M150 128l1 0M203 127l0 1M240 133l-1 0M27 164l3 2M49 172l-1 3M48 157l3 1M90 163h0M146 161l-4 2M179 170l-1 1M178 169l-1 1M166 167l0 4M191 159l0 2M184 170l3 1M214 151l1 1M218 151l-2 4" stroke="#8070d4" stroke-width="3" stroke-opacity="0.88"/><path d="M3 11l-1 0M29 5h0M45 27l4 2M49 15l3 2M71 17l-2 2M142 15h0M140 5l-2 1M160 18l-1 2M152 26l2 3M188 12l3 2M234 24l2 0M236 22l0 1M23 57l0 4M27 30l-1 1M6 54h0M17 56l3 1M53 58l3 3M57 41l1 1M112 44l-1 4M130 41l1 0M132 56l0 2M128 46l2 1M130 47h0M145 35l-1 1M167 51l2 4M163 55h0M161 48l-2 1M171 41l-1 4M166 45l-3 2M204 34l-3 1M226 53l3 2M18 63l-1 3M19 62l2 0M56 66l-1 1M81 70l0 2M79 86l4 0M71 88l-1 3M79 86l1 0M108 64l4 2M94 67l-1 4M124 81l2 0M132 60l0 3M148 86l-1 2M172 62h0M172 62l-1 4M177 61l-3 3M159 79l-1 1M230 79l0 2M25 101l0 5M1 100l0 1M22 104l0 1M65 109l-1 0M62 104l2 2M115 117h0M100 105l-2 3M132 114l1 1M144 108l2 1M129 91l0 1M172 118l3 3M174 120l0 1M189 97l2 2M228 114h0M225 102l4 2M226 104l0 1M29 144l3 0M46 140l0 2M62 126l2 1M79 126l1 1M80 126l-1 5M105 147l1 2M166 132l-1 4M202 149l2 3M192 148h0M194 149l-1 0M204 132l-1 0M235 144l0 3M240 136l1 4M236 120l2 2M7 167l-1 2M12 162l-3 3M43 173l-1 0M71 175l0 1M98 167l2 0M123 176h0M122 178l0 2M131 172l1 2M156 159h0M173 170h0M167 161l-2 0M209 169l-2 2M208 172l-1 2M239 174l-1 4M226 160l2 2" stroke="#6a54cc" stroke-width="3" stroke-opacity="0.88"/><path d="M6 9l2 1M30 1l0 3M23 29h0M21 23h0M34 24h0M102 8l2 2M140 13l4 2M160 13l-3 0M164 11l1 4M179 1l-1 5M208 9l-4 2M204 8l-1 0M200 18l-1 1M187 8l-1 1M216 6l1 1M218 7h0M14 58l0 1M11 40l2 4M29 54l0 3M51 47l4 2M51 47l1 4M47 46l2 2M57 33l2 0M152 40l-2 2M156 50l-1 1M170 51l1 2M175 47l-1 2M33 62l-2 3M61 67l-3 3M131 89l-2 2M237 70h0M229 80h0M37 108l-2 2M38 103l-2 4M117 95l0 1M111 98l0 2M133 120l-3 0M129 117l4 1M129 116l3 0M159 92l3 0M161 96l-1 0M175 111l0 3M170 113l2 2M230 115l1 1M223 115l0 2M10 122l0 2M8 120l0 2M1 127l-1 0M18 131l3 1M54 144h0M52 141h0M84 125l1 1M84 123l0 5M83 127h0M64 131l-3 0M86 122h0M87 127h0M112 142l-4 1M115 135l1 3M130 125h0M152 145l0 3M167 135h0M153 133h0M202 126l-3 3M199 128h0M207 144l-5 1M203 148l-2 1M208 127l-1 4M218 122l-1 0M4 169l-1 1M27 157l4 1M55 155l-2 2M41 178l0 3M41 179l1 4M55 177l-3 2M61 179l-1 1M64 178l2 3M62 179l3 2M66 177l1 0M83 178l0 2M106 177l2 4M109 167l-2 2M137 169l0 1M147 158l-3 3M142 179l3 0M178 166l0 1M168 149l-2 4M166 171l-2 4M230 149l0 1M211 169h0M239 175l1 1M239 171l0 1" stroke="#5a44c0" stroke-width="3" stroke-opacity="0.88"/><path d="M3 1l1 4M15 8l1 3M15 24l-3 2M5 12l0 2M5 14l1 1M38 11l1 0M39 9l-3 1M51 27l3 1M96 24l0 3M104 5l3 2M100 25h0M89 29h0M140 3l0 1M119 28h0M159 1l-3 1M181 8l2 1M180 7l1 5M240 28l-2 2M218 2l2 0M220 -2l4 0M52 43l2 3M51 37l-1 0M75 37h0M98 44l1 0M97 43l1 4M97 60l-1 0M128 60l-1 0M146 40l-1 2M163 59l1 0M198 34l1 4M189 57l-1 3M199 59l2 1M242 39l-4 3M19 60l2 3M20 64l3 3M8 80l-2 3M18 60l4 1M43 71l2 2M49 78l2 2M81 71l-4 0M83 69l-2 2M104 64l3 1M143 65l-1 4M149 70l3 3M129 86l-1 1M125 83l-2 0M160 83l3 2M161 78l1 2M199 77l3 2M221 70l0 3M235 75l-1 1M46 87l3 3M73 96l-1 2M81 87l-1 5M63 105l4 2M64 107l-1 0M62 109l-2 2M91 106l-2 3M111 111l-2 1M142 94l0 4M144 93l-1 3M170 112l0 1M184 94l2 1M181 92l3 1M203 97l1 2M202 97l2 1M223 108l-1 2M212 97h0M32 148l-2 3M6 139l-1 4M2 132l3 2M30 140l1 0M84 126l-4 3M129 127l-4 1M127 149l1 2M149 136l1 2M235 148l1 1M240 151l-4 0M240 153l-2 1M244 148l-3 0M7 169l1 2M10 179l1 1M10 178l-1 0M52 149l4 2M48 156l1 4M63 156h0M90 161h0M92 157h0M86 159l0 5M104 159l4 0M154 157l1 3M199 180h0M195 168h0M232 177l-2 4M232 179h0M236 153h0M237 158l-1 1M229 160h0M216 166l-3 1" stroke="#4a36b4" stroke-width="3" stroke-opacity="0.88"/><path d="M3 -1l-3 2M13 15l0 1M50 21l1 5M74 14l-2 0M91 23l4 1M91 20l0 2M93 6l2 1M142 18l-1 0M141 16l-1 1M151 27h0M193 3l0 1M232 -3l-1 4M9 46l-3 2M6 44h0M13 28l0 1M23 32l0 3M9 37l1 1M9 34l0 2M66 50h0M93 33h0M111 46l-3 1M118 59h0M110 54l3 1M146 43l-2 3M141 41l-4 1M164 30l-4 2M178 56l-2 1M174 42l-2 3M192 47l0 2M200 26l2 4M235 39l-1 4M3 68l-1 1M25 63l-2 0M82 82l-4 3M74 87l3 2M97 64l1 1M140 63l4 1M131 60l-1 0M133 61l2 0M173 70h0M228 74l-1 1M116 115l-1 1M94 103l-1 0M128 97l-4 0M166 99l0 1M183 96l0 2M186 100l3 0M206 91l0 4M194 106l-1 1M193 105h0M218 106h0M220 101h0M220 96l-1 0M50 149l-3 2M49 135h0M46 137h0M60 139l1 4M67 138l-1 4M63 140l-2 2M64 139l0 4M85 130l1 3M113 143l-1 3M110 148h0M109 124l1 0M132 131l0 1M157 138l4 0M159 137l3 2M153 136l-3 2M211 145l-3 1M205 128l0 1M205 151h0M47 150l1 1M54 179l0 2M52 178l1 1M84 175l3 2M86 165l4 1M103 153l-1 0M96 154l2 1M120 177l-2 2M126 178l2 3M124 167l4 1M144 157l1 3M150 154l4 1M193 175l-2 4M200 173l4 3M202 174l-2 1M193 173l-2 0M192 174l2 1M188 180l-2 0M233 175l2 4M235 178l-1 1M231 171l1 3" stroke="#7a66d4" stroke-width="3" stroke-opacity="0.88"/><path d="M0 3h0M9 14h0M4 2h0M17 9h0M15 26h0M25 29h0M12 8h0M20 25h0M6 16h0M28 6h0M21 14h0M41 12h0M40 3h0M49 18h0M49 28h0M33 28h0M49 19h0M47 27h0M57 2h0M50 17h0M51 26h0M64 12h0M96 18h0M97 24h0M98 10h0M118 1h0M91 30h0M101 15h0M92 27h0M144 5h0M132 2h0M136 9h0M141 7h0M145 5h0M148 28h0M142 4h0M137 19h0M160 18h0M161 26h0M165 11h0M157 29h0M150 28h0M206 8h0M194 4h0M188 4h0M183 6h0M195 5h0M203 3h0M182 19h0M198 9h0M207 26h0M226 15h0M211 30h0M231 16h0M221 20h0M212 11h0M228 14h0M217 10h0M223 2h0M238 26h0M227 1h0M236 24h0M23 33h0M28 31h0M26 32h0M16 34h0M14 45h0M20 32h0M59 38h0M48 57h0M54 35h0M40 48h0M35 29h0M55 47h0M44 31h0M56 33h0M53 48h0M52 53h0M36 34h0M53 33h0M50 48h0M50 34h0M53 39h0M61 32h0M61 42h0M62 51h0M76 35h0M60 43h0M114 59h0M119 60h0M89 48h0M98 29h0M92 30h0M130 40h0M144 44h0M130 42h0M148 39h0M147 34h0M130 45h0M145 40h0M136 31h0M127 32h0M170 57h0M155 52h0M178 60h0M151 46h0M157 48h0M173 31h0M179 58h0M204 52h0M202 33h0M191 47h0M194 48h0M208 41h0M188 57h0M206 50h0M203 36h0M226 50h0M229 54h0M225 45h0M220 51h0M229 38h0M238 34h0M14 68h0M10 69h0M23 63h0M9 85h0M31 77h0M1 76h0M24 63h0M30 76h0M6 85h0M22 63h0M1 69h0M8 78h0M25 62h0M57 67h0M48 80h0M51 86h0M51 62h0M46 82h0M31 69h0M56 67h0M31 70h0M78 71h0M76 88h0M60 81h0M83 69h0M83 88h0M109 70h0M119 63h0M92 66h0M110 64h0M101 67h0M111 70h0M98 65h0M93 69h0M112 64h0M143 69h0M148 85h0M147 72h0M129 87h0M133 62h0M126 65h0M125 83h0M149 71h0M132 59h0M140 90h0M158 69h0M166 74h0M162 76h0M162 85h0M190 62h0M188 72h0M203 67h0M199 72h0M190 81h0M184 83h0M237 69h0M231 85h0M230 80h0M232 72h0M236 72h0M228 70h0M227 79h0M221 74h0M14 120h0M1 103h0M2 109h0M14 107h0M27 99h0M27 96h0M7 118h0M19 107h0M3 103h0M1 115h0M1 116h0M3 95h0M41 104h0M57 107h0M58 119h0M35 102h0M33 111h0M44 91h0M59 113h0M40 108h0M61 120h0M71 97h0M81 93h0M63 105h0M63 98h0M60 104h0M69 109h0M88 99h0M78 101h0M73 96h0M63 111h0M72 96h0M68 114h0M61 99h0M61 109h0M63 110h0M62 107h0M92 107h0M113 106h0M114 105h0M97 104h0M111 97h0M114 113h0M106 101h0M111 101h0M113 105h0M110 113h0M126 121h0M133 115h0M124 92h0M149 108h0M127 97h0M129 117h0M132 119h0M128 90h0M179 110h0M171 117h0M165 116h0M159 93h0M179 92h0M179 115h0M172 111h0M173 95h0M195 91h0M199 101h0M185 102h0M207 113h0M194 98h0M190 102h0M215 104h0M214 103h0M222 107h0M220 98h0M216 110h0M213 106h0M221 98h0M211 97h0M222 116h0M30 149h0M7 140h0M16 131h0M1 126h0M14 131h0M5 127h0M56 147h0M36 139h0M47 139h0M58 148h0M48 149h0M35 131h0M59 147h0M82 129h0M65 133h0M67 140h0M70 129h0M85 123h0M65 133h0M79 126h0M83 124h0M88 126h0M61 138h0M83 125h0M83 127h0M81 126h0M113 130h0M112 140h0M115 132h0M108 140h0M114 143h0M108 147h0M116 140h0M101 131h0M149 136h0M151 133h0M148 138h0M148 137h0M126 140h0M138 126h0M132 129h0M128 126h0M148 123h0M147 136h0M149 129h0M132 121h0M159 138h0M164 151h0M168 124h0M162 123h0M154 146h0M165 130h0M165 122h0M159 139h0M153 126h0M211 145h0M186 137h0M204 128h0M191 143h0M203 121h0M195 147h0M190 143h0M210 144h0M202 151h0M208 123h0M213 130h0M241 134h0M220 123h0M227 121h0M231 127h0M236 120h0M237 147h0M238 146h0M238 139h0M28 167h0M25 155h0M4 171h0M5 179h0M6 179h0M22 163h0M3 169h0M4 171h0M-1 180h0M18 163h0M12 175h0M11 178h0M28 172h0M49 176h0M52 157h0M47 161h0M54 154h0M55 155h0M55 152h0M56 157h0M42 181h0M54 178h0M30 161h0M62 181h0M74 167h0M63 180h0M63 151h0M89 161h0M89 154h0M85 166h0M80 177h0M91 161h0M111 178h0M102 153h0M121 181h0M101 155h0M109 177h0M95 153h0M107 180h0M109 177h0M101 162h0M101 162h0M101 157h0M100 151h0M114 180h0M137 171h0M124 177h0M123 180h0M139 170h0M123 179h0M144 181h0M132 173h0M157 156h0M157 161h0M174 168h0M149 157h0M160 165h0M180 166h0M173 174h0M164 162h0M160 162h0M150 160h0M189 177h0M188 175h0M209 170h0M200 160h0M208 152h0M185 181h0M196 172h0M200 181h0M186 176h0M195 167h0M186 181h0M236 178h0M213 155h0M230 160h0M214 154h0" stroke="#2a1e8a" stroke-width="2.6" stroke-opacity="0.75"/><path d="M20 32h0M1 62h0M138 31h0M166 143h0M180 166h0M220 21h0M221 91h0M87 64h0M198 48h0M187 84h0M75 140h0M17 1h0M53 163h0M46 102h0M232 15h0M34 170h0M104 169h0M83 14h0M207 157h0M143 94h0M140 17h0M3 119h0M208 78h0M161 53h0M115 1h0M12 92h0M72 27h0M213 48h0M42 111h0M148 165h0M212 88h0M53 75h0M15 28h0M213 105h0M65 39h0M57 179h0M239 138h0M64 37h0M238 37h0M28 61h0M20 73h0M196 26h0M135 146h0M211 107h0M110 108h0M99 30h0M196 110h0M170 97h0M2 168h0M204 126h0M184 45h0M135 34h0M226 133h0M176 86h0M70 176h0M140 22h0M45 23h0M201 162h0M148 152h0M52 134h0M139 112h0M21 87h0M142 170h0M111 180h0M229 162h0M35 134h0M238 180h0M199 178h0M77 107h0M55 130h0M179 78h0M52 52h0M30 126h0M163 82h0M172 173h0M26 151h0M78 143h0M207 125h0M17 17h0M35 74h0M9 33h0M156 120h0M39 126h0M167 152h0M191 17h0M167 18h0M63 11h0M62 90h0M156 142h0M95 29h0M197 174h0M18 10h0M222 7h0M66 128h0M207 58h0M31 161h0M188 166h0M181 137h0M197 107h0M72 5h0M141 66h0M177 142h0M172 106h0M167 12h0M148 92h0M186 148h0M171 0h0M233 34h0M119 83h0M184 85h0M91 175h0M176 14h0M92 70h0M63 9h0M6 176h0M77 135h0M212 124h0M122 57h0M7 81h0M178 37h0M84 73h0M84 143h0M96 134h0M78 90h0M30 2h0M95 32h0M11 126h0M14 48h0M235 80h0M220 84h0M176 146h0M158 59h0M66 75h0M144 131h0M225 83h0M41 174h0M142 102h0M2 68h0M101 162h0M66 135h0M80 87h0M48 142h0M140 140h0M81 67h0M93 40h0M10 74h0M184 43h0M164 58h0M72 179h0M144 177h0M101 78h0M19 147h0M132 64h0M142 170h0M229 178h0M110 142h0M89 128h0M83 129h0M175 177h0M58 179h0M115 21h0M51 63h0M181 150h0M105 137h0M73 4h0M191 69h0M212 139h0M64 100h0M130 139h0M0 117h0M122 86h0M69 20h0M31 86h0M226 60h0M226 166h0M23 111h0M105 169h0M95 32h0M173 153h0M162 63h0M228 172h0M148 148h0M196 172h0M14 13h0M47 110h0M171 65h0M232 171h0M104 60h0M169 162h0M123 95h0M74 48h0M208 91h0M27 90h0M129 34h0M24 66h0M24 2h0M206 52h0M92 4h0M50 103h0M67 122h0M143 147h0M232 3h0M147 128h0M102 100h0M131 80h0M232 56h0M45 141h0M160 14h0M57 47h0M210 43h0M49 163h0M116 71h0M216 94h0M44 77h0M59 77h0M50 73h0M184 171h0M46 162h0M55 135h0M108 122h0M227 16h0M142 30h0M48 146h0M90 101h0M48 85h0M124 14h0M57 39h0M163 94h0M170 161h0M174 118h0M57 65h0M228 178h0M34 23h0M119 104h0M156 93h0M91 66h0M73 123h0M32 155h0M21 136h0M99 81h0M221 149h0M104 97h0M23 42h0M79 103h0M101 122h0M47 138h0M208 97h0M141 136h0M43 124h0M3 17h0M164 134h0M188 30h0M48 77h0M125 51h0M85 92h0M173 125h0M12 89h0M40 7h0M139 108h0M175 101h0M54 158h0M55 99h0M49 107h0M26 49h0M119 30h0M30 123h0M99 177h0M50 80h0M119 54h0M70 123h0M196 180h0M3 65h0M166 1h0M176 132h0M194 95h0M203 174h0M148 109h0M233 92h0M1 93h0M104 130h0M111 102h0M38 75h0M101 59h0M167 89h0M80 10h0M201 176h0M164 97h0M113 27h0M46 176h0M178 157h0M55 144h0M50 34h0M94 58h0M6 180h0M100 115h0M102 56h0M208 39h0M139 35h0M214 181h0M202 181h0" stroke="#303040" stroke-width="1.8" stroke-opacity="0.8"/></g>
</g>
<text x="99.9" y="456.9"  font-size="8" text-anchor="middle" textLength="10.5" lengthAdjust="spacingAndGlyphs" fill="#1a1a1a">NC</text>
<text x="222.8" y="456.9"  font-size="8" text-anchor="middle" textLength="38.4" lengthAdjust="spacingAndGlyphs" fill="#1a1a1a">siCASP4#1</text>
<text x="350.5" y="456.9"  font-size="8" text-anchor="middle" textLength="39.4" lengthAdjust="spacingAndGlyphs" fill="#1a1a1a">siCASP4#2</text>
<text x="98.2" y="666.1"  font-size="8" text-anchor="middle" textLength="10.5" lengthAdjust="spacingAndGlyphs" fill="#1a1a1a">NC</text>
<text x="221.5" y="666.1"  font-size="8" text-anchor="middle" textLength="38.5" lengthAdjust="spacingAndGlyphs" fill="#1a1a1a">siNLRP1#1</text>
<text x="349.4" y="666.1"  font-size="8" text-anchor="middle" textLength="38.7" lengthAdjust="spacingAndGlyphs" fill="#1a1a1a">siNLRP1#3</text>
<text x="3.9" y="510"  font-size="8.2" textLength="25.9" lengthAdjust="spacingAndGlyphs" fill="#1a1a1a">PANC-1</text>
<text x="3.2" y="599"  font-size="8.2" textLength="24.5" lengthAdjust="spacingAndGlyphs" fill="#1a1a1a">Aspc-1</text>
<text x="1.3" y="720"  font-size="8.2" textLength="26.7" lengthAdjust="spacingAndGlyphs" fill="#1a1a1a">PANC-1</text>
<text x="1.3" y="808.6"  font-size="8.2" textLength="23.8" lengthAdjust="spacingAndGlyphs" fill="#1a1a1a">Aspc-1</text></g>
</svg></div></body></html>
